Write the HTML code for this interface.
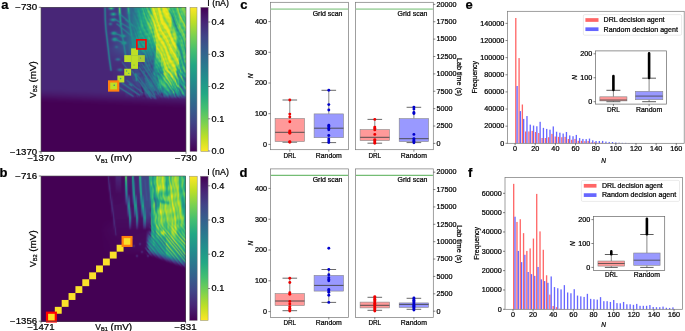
<!DOCTYPE html>
<html><head><meta charset="utf-8"><style>
html,body{margin:0;padding:0;background:#fff;}
body{width:685px;height:331px;overflow:hidden;position:relative;}
svg{display:block;position:absolute;left:0;top:0;font-family:"Liberation Sans",sans-serif;will-change:transform;}
svg text{stroke:#000;stroke-width:0.22px;}
.hm{position:absolute;overflow:hidden}.hm div{position:absolute;left:0;width:100%}
</style></head><body><div class="hm" style="left:41px;top:7px;width:145px;height:145px"><div style="top:0px;height:1px;background:linear-gradient(90deg,#482677 0.5px 60.5px,#482878 61.5px,#43377e 62.5px,#31678c 63.5px,#306a8d 64.5px,#414184 65.5px,#414286 66.5px,#355e8c 67.5px,#27868c 68.5px,#29a882 69.5px,#2eaf7d 70.5px,#249689 71.5px,#2e6f8d 72.5px,#3c4f8a 73.5px,#433e85 74.5px,#443983 75.5px,#404485 76.5px,#397a85 77.5px,#60bb63 78.5px,#318f84 79.5px,#3d4e88 80.5px,#423f85 81.5px,#424186 82.5px,#404588 83.5px,#3e4989 84.5px,#38598b 85.5px,#28898a 86.5px,#2ea780 87.5px,#2a828c 88.5px,#2f6c8e 89.5px,#31688e 90.5px,#306a8e 91.5px,#2c748e 92.5px,#26838e 93.5px,#238a8d 94.5px,#228b8d 95.5px,#23898d 96.5px,#25848e 97.5px,#238b8d 98.5px,#1f978b 99.5px,#21a087 100.5px,#2aab80 101.5px,#259c87 102.5px,#30b07d 103.5px,#2cab7f 104.5px,#55c367 105.5px,#4ec16b 106.5px,#2aaa80 107.5px,#35b579 108.5px,#56c566 109.5px,#86d349 110.5px,#c4df25 111.5px,#b4dd2f 112.5px,#9ad93d 113.5px,#a7db34 114.5px,#a1da39 115.5px,#d1e120 116.5px,#efe51e 117.5px,#e8e422 118.5px,#aadb36 119.5px,#a8db35 120.5px,#dce31e 121.5px,#ede51d 122.5px,#dbe31b 123.5px,#d3e11f 124.5px,#9ad83e 125.5px,#8dd546 126.5px,#b6dc2d 127.5px,#6bcb5a 128.5px,#3dba74 129.5px,#46bf6f 130.5px,#44bf70 131.5px,#41bd72 132.5px,#3bba76 133.5px,#48c06e 134.5px,#5fc861 135.5px,#8ed343 136.5px,#42ba71 137.5px,#38b977 138.5px,#3cba74 139.5px,#63ca5f 140.5px,#88d548 141.5px,#94d741 142.5px,#78d052 143.5px,#46bf6f 144.5px)"></div><div style="top:1px;height:1px;background:linear-gradient(90deg,#482677 0.5px 60.5px,#482878 61.5px,#43377e 62.5px,#31668c 63.5px,#2f6b8d 64.5px,#414284 65.5px,#414386 66.5px,#34618c 67.5px,#298a89 68.5px,#3cae78 69.5px,#46b572 70.5px,#2b9b84 71.5px,#2e728c 72.5px,#3b518a 73.5px,#423f85 74.5px,#443982 75.5px,#414385 76.5px,#3a7785 77.5px,#5fbb64 78.5px,#309383 79.5px,#3c5088 80.5px,#423f85 81.5px,#424186 82.5px,#404588 83.5px,#3f4989 84.5px,#38588b 85.5px,#2a858b 86.5px,#2fa87f 87.5px,#29868b 88.5px,#2e6e8e 89.5px,#306a8e 90.5px,#31688e 91.5px,#2e6f8e 92.5px,#287d8e 93.5px,#25848e 94.5px,#24878e 95.5px,#228d8d 96.5px,#228c8d 97.5px,#228d8d 98.5px,#1f9b89 99.5px,#23a286 100.5px,#34b37a 101.5px,#27a484 102.5px,#2dae7e 103.5px,#26a883 104.5px,#3cb875 105.5px,#4bc06d 106.5px,#2cae7e 107.5px,#29a882 108.5px,#4bbf6d 109.5px,#7cd050 110.5px,#cde023 111.5px,#dee322 112.5px,#b5dd2f 113.5px,#b4dd2c 114.5px,#addc31 115.5px,#c2df27 116.5px,#ece51f 117.5px,#e7e422 118.5px,#a5da39 119.5px,#8ed545 120.5px,#cee022 121.5px,#ebe51c 122.5px,#e6e41a 123.5px,#e0e31a 124.5px,#cae025 125.5px,#96d740 126.5px,#9ed93a 127.5px,#73cd55 128.5px,#38b677 129.5px,#3dbb74 130.5px,#44bf70 131.5px,#38b877 132.5px,#30b37c 133.5px,#3cba75 134.5px,#58c565 135.5px,#92d541 136.5px,#54c367 137.5px,#3ebc74 138.5px,#4ac16d 139.5px,#60c960 140.5px,#87d449 141.5px,#8ad547 142.5px,#7ed24e 143.5px,#4cc16c 144.5px)"></div><div style="top:2px;height:1px;background:linear-gradient(90deg,#482677 0.5px 60.5px,#482877 61.5px,#44367e 62.5px,#32658c 63.5px,#2f6b8d 64.5px,#414084 65.5px,#443b83 66.5px,#3d4c88 67.5px,#34648b 68.5px,#317889 69.5px,#327c88 70.5px,#316d8b 71.5px,#39578a 72.5px,#404487 73.5px,#443a83 74.5px,#453882 75.5px,#414285 76.5px,#3a7485 77.5px,#5bba66 78.5px,#2e9682 79.5px,#3b5288 80.5px,#424086 81.5px,#424186 82.5px,#404588 83.5px,#3f4989 84.5px,#39568b 85.5px,#2c818b 86.5px,#30a97f 87.5px,#278b8b 88.5px,#2e6e8e 89.5px,#2f6b8e 90.5px,#31678e 91.5px,#2f6b8e 92.5px,#2a798e 93.5px,#26818e 94.5px,#25848e 95.5px,#21908c 96.5px,#20968b 97.5px,#21928c 98.5px,#1f9b89 99.5px,#22a386 100.5px,#32b37b 101.5px,#2daf7e 102.5px,#25a883 103.5px,#25a983 104.5px,#2aaa81 105.5px,#47be6f 106.5px,#3bb876 107.5px,#27a583 108.5px,#3cb775 109.5px,#77cf53 110.5px,#c1de28 111.5px,#e8e41f 112.5px,#d2e120 113.5px,#b7de2b 114.5px,#b6de2b 115.5px,#b4dd2f 116.5px,#e7e420 117.5px,#e5e41f 118.5px,#aadb35 119.5px,#7dd14e 120.5px,#bfde28 121.5px,#e8e41c 122.5px,#efe51c 123.5px,#e7e41a 124.5px,#e7e41e 125.5px,#bdde2b 126.5px,#87d449 127.5px,#67cb5c 128.5px,#3db974 129.5px,#30b27c 130.5px,#43bd71 131.5px,#34b679 132.5px,#2aaf7f 133.5px,#30b37b 134.5px,#53c367 135.5px,#8fd543 136.5px,#73ce55 137.5px,#44bd70 138.5px,#5ac764 139.5px,#5fc961 140.5px,#80d24d 141.5px,#7ed24f 142.5px,#78d152 143.5px,#5cc863 144.5px)"></div><div style="top:3px;height:1px;background:linear-gradient(90deg,#482677 0.5px 60.5px,#482877 61.5px,#44357e 62.5px,#32638b 63.5px,#2f6c8c 64.5px,#413f83 65.5px,#463480 66.5px,#443982 67.5px,#414185 68.5px,#3f4787 69.5px,#3f4887 70.5px,#404486 71.5px,#423f85 72.5px,#443a83 73.5px,#453782 74.5px 75.5px,#414184 76.5px,#3a7185 77.5px,#57b968 78.5px,#2e9a82 79.5px,#3b5488 80.5px,#424086 81.5px,#424186 82.5px,#404588 83.5px,#3f4989 84.5px,#3a558b 85.5px,#2d7c8b 86.5px,#2fa87f 87.5px,#268e8a 88.5px,#2e6e8e 89.5px,#2f6b8e 90.5px,#30698e 91.5px,#2f6b8e 92.5px,#2a788e 93.5px,#25838e 94.5px,#24868e 95.5px,#21928c 96.5px,#1f9d89 97.5px,#20968b 98.5px,#20938c 99.5px,#209c89 100.5px,#27a882 101.5px,#36b479 102.5px,#26a285 103.5px,#2bad80 104.5px,#28a683 105.5px,#4bbf6d 106.5px,#59c664 107.5px,#36b379 108.5px,#32b17b 109.5px,#6bcb59 110.5px,#acdb34 111.5px,#e6e420 112.5px,#e1e321 113.5px,#aadb35 114.5px,#aedc30 115.5px,#aadb34 116.5px,#dee31f 117.5px,#ece51e 118.5px,#c7df27 119.5px,#8cd546 120.5px,#bcde2a 121.5px,#e9e41d 122.5px,#f0e51d 123.5px,#e6e41a 124.5px,#e7e41b 125.5px,#d6e122 126.5px,#85d24b 127.5px,#46bd6f 128.5px,#3fbb73 129.5px,#30b27c 130.5px,#42bd72 131.5px,#44be70 132.5px,#31b47b 133.5px,#2eb27d 134.5px,#4dc16b 135.5px,#7ad150 136.5px,#86d249 137.5px,#42ba71 138.5px,#55c567 139.5px,#56c666 140.5px,#6dcd59 141.5px,#78d152 142.5px 144.5px)"></div><div style="top:4px;height:1px;background:linear-gradient(90deg,#482677 0.5px 60.5px,#482777 61.5px,#44347d 62.5px,#33628b 63.5px,#2e6d8c 64.5px,#413f83 65.5px,#46327f 66.5px,#463480 67.5px,#453781 68.5px,#443982 69.5px,#433c83 70.5px,#433d84 71.5px,#423e84 72.5px,#433c84 73.5px,#443a83 74.5px,#453882 75.5px,#424084 76.5px,#3b6e86 77.5px,#52b76b 78.5px,#2e9e81 79.5px,#3a5688 80.5px,#424086 81.5px,#424186 82.5px,#404588 83.5px,#3f4989 84.5px,#3a538b 85.5px,#2e778b 86.5px,#2ca581 87.5px,#24908a 88.5px,#2e6f8e 89.5px,#306a8e 90.5px,#2f6c8e 91.5px,#2e6d8e 92.5px,#2a778e 93.5px,#25848e 94.5px,#23888d 95.5px,#21938c 96.5px,#20a088 97.5px,#209a89 98.5px,#228e8c 99.5px,#20958b 100.5px,#249f86 101.5px,#3ab577 102.5px,#27a384 103.5px,#29ac81 104.5px,#27a982 105.5px,#43bb71 106.5px,#6fcd57 107.5px,#58c565 108.5px,#34b37a 109.5px,#55c366 110.5px,#9ed83b 111.5px,#dae21f 112.5px,#e3e322 113.5px,#a5da39 114.5px,#a2da38 115.5px,#a8db35 116.5px,#d3e120 117.5px,#efe51e 118.5px,#e3e322 119.5px,#a8db37 120.5px,#b9de2c 121.5px,#e6e41e 122.5px,#eee51c 123.5px,#e4e41a 124.5px,#d8e21b 125.5px,#d7e21d 126.5px,#9fd63b 127.5px,#3eb673 128.5px,#31b37b 129.5px,#39b977 130.5px,#3cba75 131.5px,#57c665 132.5px,#3dbb74 133.5px,#32b57a 134.5px,#45bf70 135.5px,#65ca5d 136.5px,#8bd345 137.5px,#42ba71 138.5px,#43be71 139.5px,#4fc36a 140.5px,#57c665 141.5px,#71cf56 142.5px,#7cd250 143.5px,#8cd645 144.5px)"></div><div style="top:5px;height:1px;background:linear-gradient(90deg,#482677 0.5px 60.5px,#482777 61.5px,#44347d 62.5px,#33618b 63.5px,#2e6e8c 64.5px,#414083 65.5px,#46327f 66.5px,#463380 67.5px,#443982 68.5px,#424085 69.5px,#3d4c88 70.5px,#38578a 71.5px,#375b8a 72.5px,#39558a 73.5px,#3e4988 74.5px,#423f85 75.5px,#414285 76.5px,#396c87 77.5px,#47b371 78.5px,#2ea180 79.5px,#395a89 80.5px,#414286 81.5px,#424186 82.5px,#404588 83.5px,#3f4989 84.5px,#3a538b 85.5px,#2d748d 86.5px,#239b88 87.5px,#22928b 88.5px,#2c728e 89.5px,#306a8e 90.5px,#2e6f8e 91.5px,#2d708e 92.5px,#2c748e 93.5px,#277e8e 94.5px,#25848e 95.5px,#228e8d 96.5px,#209c89 97.5px,#20a087 98.5px,#21928c 99.5px,#1f978b 100.5px,#24a186 101.5px,#3bb776 102.5px,#2eaf7e 103.5px,#24a784 104.5px,#29ae80 105.5px,#31b17b 106.5px,#61c85f 107.5px,#66cb5d 108.5px,#40bc72 109.5px,#42bb71 110.5px,#8fd443 111.5px,#d0e120 112.5px,#e8e41f 113.5px,#c3df29 114.5px,#a6db36 115.5px,#b0dd2f 116.5px,#c5e025 117.5px,#ebe51f 118.5px,#e8e420 119.5px,#b2dd31 120.5px,#a6db36 121.5px,#d5e21f 122.5px,#e6e41a 123.5px,#e9e41a 124.5px,#e1e31a 125.5px,#dce31a 126.5px,#c2dd27 127.5px,#5dc262 128.5px,#2cab7f 129.5px,#36b679 130.5px,#34b579 131.5px,#4dc16b 132.5px,#40bc73 133.5px,#31b47b 134.5px,#38b877 135.5px,#56c566 136.5px,#8ad446 137.5px,#5ac563 138.5px,#41bc72 139.5px,#57c666 140.5px,#50c469 141.5px,#65cb5e 142.5px,#77d153 143.5px,#83d44b 144.5px)"></div><div style="top:6px;height:1px;background:linear-gradient(90deg,#482677 0.5px 60.5px,#482777 61.5px,#44337d 62.5px,#345f8b 63.5px,#2e6f8c 64.5px,#414083 65.5px,#46327f 66.5px,#453580 67.5px,#423e85 68.5px,#3b508a 69.5px,#2f6c8d 70.5px,#26878b 71.5px,#249289 72.5px,#27838c 73.5px,#32668c 74.5px,#3d4d89 75.5px,#3f4787 76.5px,#346c8a 77.5px,#30a87e 78.5px,#29a083 79.5px,#37608a 80.5px,#414386 81.5px,#424286 82.5px,#404588 83.5px,#3f4989 84.5px,#3b518a 85.5px,#2f6e8d 86.5px,#21928b 87.5px,#21908c 88.5px,#2c728e 89.5px,#2f6a8e 90.5px,#2d708e 91.5px,#2c748e 92.5px,#2c728e 93.5px,#2b768e 94.5px,#277e8e 95.5px,#23898d 96.5px,#20978a 97.5px,#21a286 98.5px,#20988a 99.5px,#1f998a 100.5px,#24a684 101.5px,#39b877 102.5px,#43bb71 103.5px,#28a483 104.5px,#2caf7e 105.5px,#28ab81 106.5px,#42bb71 107.5px,#61ca60 108.5px,#56c566 109.5px,#42bc71 110.5px,#75cd54 111.5px,#cce023 112.5px,#ede51d 113.5px,#e3e322 114.5px,#b1dc31 115.5px,#bbde28 116.5px,#bbde2a 117.5px,#e4e41d 118.5px,#e3e41c 119.5px,#b9de2b 120.5px,#92d742 121.5px,#b8de2b 122.5px,#d9e21c 123.5px,#e9e41b 124.5px,#efe51d 125.5px,#eae51b 126.5px,#d9e21f 127.5px,#91d343 128.5px,#3ab376 129.5px,#28aa81 130.5px,#2fb27c 131.5px,#34b679 132.5px,#40bc73 133.5px,#2eb27d 134.5px,#2db17d 135.5px,#4ac06d 136.5px,#7bd150 137.5px,#86d249 138.5px,#4bbf6c 139.5px,#60c960 140.5px,#55c667 141.5px,#58c765 142.5px,#70ce57 143.5px,#74d055 144.5px)"></div><div style="top:7px;height:1px;background:linear-gradient(90deg,#482677 0.5px 60.5px,#482777 61.5px,#45327d 62.5px,#345e8b 63.5px,#2d708c 64.5px,#414184 65.5px,#46327f 66.5px,#453681 67.5px,#424085 68.5px,#39558b 69.5px,#2c758d 70.5px,#249588 71.5px,#28a184 72.5px,#258f8a 73.5px,#2f6e8d 74.5px,#3b518a 75.5px,#3f4687 76.5px,#34668b 77.5px,#269d85 78.5px,#239988 79.5px,#306b8c 80.5px,#3e4988 81.5px,#414387 82.5px,#404588 83.5px,#3f4889 84.5px,#3c4f8a 85.5px,#33628c 86.5px,#25868d 87.5px,#24888d 88.5px,#2e6e8e 89.5px,#306a8e 90.5px,#2e6e8e 91.5px,#2a768e 92.5px,#2a778e 93.5px,#2b758e 94.5px,#287c8e 95.5px,#238b8d 96.5px,#20978b 97.5px,#21a386 98.5px,#1f9c89 99.5px,#20988a 100.5px,#21a486 101.5px,#2eaf7d 102.5px,#4abe6d 103.5px,#29a682 104.5px,#28ac81 105.5px,#2db17d 106.5px,#33b47a 107.5px,#5dc762 108.5px,#73cf55 109.5px,#60c860 110.5px,#64c95e 111.5px,#badd2b 112.5px,#e0e31c 113.5px,#e6e421 114.5px,#b5dd2f 115.5px,#b6de2b 116.5px,#b2dd30 117.5px,#e0e31e 118.5px,#e9e41b 119.5px,#d1e122 120.5px,#9ad83e 121.5px,#a7db34 122.5px,#cde11f 123.5px,#e2e41a 124.5px,#efe51d 125.5px,#ede51c 126.5px,#d9e21d 127.5px,#a7da35 128.5px,#5fc361 129.5px,#2aa283 130.5px,#2bac80 131.5px,#2daf7e 132.5px,#46be6f 133.5px,#33b57a 134.5px,#2db17d 135.5px,#3ebb73 136.5px,#65c95d 137.5px,#a1d738 138.5px,#59c564 139.5px,#53c568 140.5px,#57c666 141.5px,#4dc26b 142.5px,#66cb5d 143.5px,#76d054 144.5px)"></div><div style="top:8px;height:1px;background:linear-gradient(90deg,#482677 0.5px 60.5px,#482777 61.5px,#45327c 62.5px,#355d8b 63.5px,#2d718c 64.5px,#404284 65.5px,#46327f 66.5px,#463480 67.5px,#443a83 68.5px,#404687 69.5px,#38588b 70.5px,#316a8c 71.5px,#30708b 72.5px,#32678c 73.5px,#39558a 74.5px,#404487 75.5px,#423f85 76.5px,#3a5589 77.5px,#248c8a 78.5px,#21938b 79.5px,#297c8d 80.5px,#34618c 81.5px,#3d4b89 82.5px,#404688 83.5px,#3f4889 84.5px,#3d4e8a 85.5px,#365c8c 86.5px,#27808d 87.5px,#24868d 88.5px,#2f6c8e 89.5px,#30688e 90.5px,#2f6c8e 91.5px,#2b768e 92.5px,#287d8e 93.5px,#29798e 94.5px,#297b8e 95.5px,#228d8d 96.5px,#1f998a 97.5px,#21a386 98.5px,#20a087 99.5px,#20968b 100.5px,#20a088 101.5px,#25a683 102.5px,#3eb974 103.5px,#2aac80 104.5px,#25a584 105.5px,#39b777 106.5px,#33b57a 107.5px,#51c269 108.5px,#86d449 109.5px,#8ed544 110.5px,#6ecd57 111.5px,#9bd83c 112.5px,#cfe120 113.5px,#e5e41f 114.5px,#c0df29 115.5px,#a5db36 116.5px,#a6db36 117.5px,#d7e21f 118.5px,#efe51d 119.5px,#e7e420 120.5px,#b2dd30 121.5px,#a2da38 122.5px,#c3df24 123.5px,#dde31a 124.5px,#e6e419 125.5px,#e7e41a 126.5px,#d5e21e 127.5px,#a6da36 128.5px,#7bce50 129.5px,#31a87e 130.5px,#249e87 131.5px,#2eaf7d 132.5px,#43bd71 133.5px,#43be71 134.5px,#35b679 135.5px,#37b878 136.5px,#55c366 137.5px,#9ed73a 138.5px,#74cd54 139.5px,#42bc71 140.5px,#4dc26c 141.5px,#44be71 142.5px,#55c567 143.5px,#77d053 144.5px)"></div><div style="top:9px;height:1px;background:linear-gradient(90deg,#482677 0.5px 60.5px,#482777 61.5px,#45317c 62.5px,#365b8a 63.5px,#2d718c 64.5px,#404384 65.5px,#46327f 66.5px,#46337f 67.5px,#453681 68.5px,#443982 69.5px,#423e84 70.5px,#404486 71.5px,#3f4687 72.5px,#404386 73.5px,#423e84 74.5px,#443a83 75.5px 76.5px,#3d4c87 77.5px,#27828c 78.5px,#22908b 79.5px,#306b8c 80.5px,#2d708d 81.5px,#32658d 82.5px,#3b518a 83.5px,#3e4a89 84.5px,#3d4d8a 85.5px,#375a8c 86.5px,#287c8e 87.5px,#24888d 88.5px,#2e6f8e 89.5px,#30698e 90.5px,#2e6e8e 91.5px,#2b748e 92.5px,#277f8e 93.5px,#287e8e 94.5px,#2a788e 95.5px,#24878d 96.5px,#20978a 97.5px,#20a187 98.5px,#21a486 99.5px,#209a8a 100.5px,#20a287 101.5px,#23a685 102.5px,#34b57a 103.5px,#37b578 104.5px,#27a384 105.5px,#36b579 106.5px,#39b977 107.5px,#3bb875 108.5px,#76ce52 109.5px,#a6da35 110.5px,#8fd644 111.5px,#87d449 112.5px,#c6df24 113.5px,#e1e31a 114.5px,#dae222 115.5px,#9fd93c 116.5px,#a1da38 117.5px,#c8e024 118.5px,#ede51f 119.5px 120.5px,#c3df27 121.5px,#98d83e 122.5px,#afdc30 123.5px,#d5e21d 124.5px,#e3e419 125.5px 126.5px,#dee31c 127.5px,#b4dd2e 128.5px,#8dd445 129.5px,#49b76f 130.5px,#2a9188 131.5px,#2ba981 132.5px,#34b579 133.5px,#50c36a 134.5px,#3ab976 135.5px,#33b67a 136.5px,#4dc16b 137.5px,#8cd445 138.5px,#a0d739 139.5px,#4abd6c 140.5px,#40bc73 141.5px,#42be71 142.5px,#45be70 143.5px,#66cb5d 144.5px)"></div><div style="top:10px;height:1px;background:linear-gradient(90deg,#482677 0.5px 60.5px,#482777 61.5px,#45317c 62.5px,#365a8a 63.5px,#2c728c 64.5px,#404484 65.5px,#46337f 66.5px 67.5px,#453681 68.5px,#443a83 69.5px,#423f85 70.5px,#404386 71.5px,#404586 72.5px 73.5px,#423f84 74.5px,#443a83 75.5px,#443983 76.5px,#3e4886 77.5px,#297d8c 78.5px,#249189 79.5px,#365e8b 80.5px,#39558a 81.5px,#2f6d8d 82.5px,#2f6b8d 83.5px,#39578b 84.5px,#3c508a 85.5px,#38598c 86.5px,#2a798e 87.5px,#23898d 88.5px,#2d718e 89.5px,#306a8e 90.5px,#2d6f8e 91.5px,#2b758e 92.5px,#287e8e 93.5px,#26828e 94.5px,#2a778e 95.5px,#277f8e 96.5px,#21928c 97.5px,#1f9d89 98.5px,#22a585 99.5px,#209e88 100.5px,#21a585 101.5px,#25aa83 102.5px,#2fb27c 103.5px,#47be6f 104.5px,#2bab80 105.5px,#2caf7e 106.5px,#40bc73 107.5px,#33b47a 108.5px,#53c267 109.5px,#9ed839 110.5px,#aadb32 111.5px,#89d447 112.5px,#b4dd2d 113.5px,#d9e21c 114.5px,#e3e321 115.5px,#a9db37 116.5px,#a8db33 117.5px,#bbde2b 118.5px,#ebe520 119.5px,#efe51e 120.5px,#cde023 121.5px,#91d643 122.5px,#92d742 123.5px,#bfdf27 124.5px,#dce31a 125.5px,#e0e319 126.5px,#e6e41b 127.5px,#d2e11f 128.5px,#a6da36 129.5px,#67c45d 130.5px,#2d9486 131.5px,#239a88 132.5px,#2cad7f 133.5px,#4ac06d 134.5px,#38b877 135.5px,#30b47c 136.5px,#43bd71 137.5px,#78cf52 138.5px,#b7dc2e 139.5px,#6fcb57 140.5px,#3cb974 141.5px,#47c06e 142.5px,#43be71 143.5px,#51c469 144.5px)"></div><div style="top:11px;height:1px;background:linear-gradient(90deg,#482677 0.5px 60.5px,#482777 61.5px,#45307b 62.5px,#37598a 63.5px,#2c738c 64.5px,#404585 65.5px,#46347f 66.5px,#453580 67.5px,#433d84 68.5px,#3e4a88 69.5px,#375a8b 70.5px,#32678c 71.5px,#2f6c8c 72.5px,#2f6d8c 73.5px,#375a8b 74.5px,#3f4787 75.5px,#433d84 76.5px,#3f4786 77.5px,#2b788c 78.5px,#259488 79.5px,#365f8a 80.5px,#3f4687 81.5px,#3b5189 82.5px,#306b8d 83.5px,#2d718d 84.5px,#355e8c 85.5px,#375a8c 86.5px,#2b758d 87.5px,#238c8c 88.5px,#2c728e 89.5px,#2f6b8e 90.5px,#2d6f8e 91.5px,#2b768e 92.5px,#287c8e 93.5px,#25858e 94.5px,#277e8e 95.5px,#287c8e 96.5px,#228e8c 97.5px,#209b89 98.5px,#22a685 99.5px,#20a088 100.5px,#20a287 101.5px,#24aa83 102.5px,#29ab81 103.5px,#45bd70 104.5px,#38b777 105.5px,#2bad7f 106.5px,#41bc72 107.5px 108.5px,#43bc70 109.5px,#89d347 110.5px,#b8dd2a 111.5px,#9cd93b 112.5px,#97d73f 113.5px,#cce022 114.5px,#e5e41f 115.5px,#bfdf29 116.5px,#abdc32 117.5px,#b2dd31 118.5px,#e9e421 119.5px,#f2e61e 120.5px,#dee320 121.5px,#9dd93d 122.5px,#81d34c 123.5px,#a2da38 124.5px,#c9e021 125.5px,#d3e21c 126.5px,#dae31a 127.5px,#dde31b 128.5px,#bfde28 129.5px,#75cc54 130.5px,#2fa480 131.5px,#278d8a 132.5px,#2fad7e 133.5px,#3ebc74 134.5px,#41bd72 135.5px,#30b47b 136.5px,#36b678 137.5px,#65c95d 138.5px,#9fd93a 139.5px,#99d63d 140.5px,#45bb6f 141.5px,#42bd72 142.5px,#4cc26c 143.5px,#47c06f 144.5px)"></div><div style="top:12px;height:1px;background:linear-gradient(90deg,#482677 0.5px 60.5px,#482777 61.5px,#462f7b 62.5px,#38578a 63.5px,#2c748c 64.5px,#3f4685 65.5px,#453480 66.5px,#443882 67.5px,#404587 68.5px,#365b8c 69.5px,#2a788d 70.5px,#23908b 71.5px,#22948a 72.5px,#24888d 73.5px,#297c8d 74.5px,#32658c 75.5px,#3d4c88 76.5px,#3e4987 77.5px,#2d748c 78.5px,#269587 79.5px,#35638b 80.5px,#404587 81.5px,#414487 82.5px,#3b518a 83.5px,#2e708d 84.5px,#297a8d 85.5px,#30698d 86.5px,#2c748d 87.5px,#238e8b 88.5px,#2c738d 89.5px,#2f6b8e 90.5px,#2e6e8e 91.5px,#2b758e 92.5px,#297a8e 93.5px,#25848e 94.5px,#24868e 95.5px,#27808e 96.5px,#228c8d 97.5px,#209c89 98.5px,#24a883 99.5px,#22a585 100.5px,#20a088 101.5px,#23a784 102.5px,#23a485 103.5px,#36b579 104.5px,#45be70 105.5px,#30b27c 106.5px,#37b778 107.5px,#52c469 108.5px,#4cc16c 109.5px,#72cd55 110.5px,#bbdd29 111.5px,#bbde29 112.5px,#8fd544 113.5px,#bdde28 114.5px,#e0e31c 115.5px,#d4e120 116.5px,#a0d93a 117.5px,#a8db37 118.5px,#e5e422 119.5px,#f3e61e 120.5px,#ebe51f 121.5px,#bade2c 122.5px,#89d548 123.5px,#8ed644 124.5px,#b4dd2d 125.5px,#c7e021 126.5px,#cbe11f 127.5px,#d5e21b 128.5px,#cde022 129.5px,#7acf51 130.5px,#3ab078 131.5px,#2b8889 132.5px,#2ca880 133.5px,#38b777 134.5px,#51c369 135.5px,#37b777 136.5px,#34b579 137.5px,#59c664 138.5px,#7bd150 139.5px,#a1d838 140.5px,#5cc562 141.5px,#38b677 142.5px,#4dc26b 143.5px,#46c06f 144.5px)"></div><div style="top:13px;height:1px;background:linear-gradient(90deg,#482677 0.5px 60.5px,#482777 61.5px,#462e7b 62.5px,#395489 63.5px,#2c758c 64.5px,#3e4886 65.5px,#453480 66.5px,#453781 67.5px,#414286 68.5px,#39558b 69.5px,#2e6f8d 70.5px,#26838c 71.5px,#25878c 72.5px,#2a7a8d 73.5px,#2e6e8d 74.5px,#2d718d 75.5px,#2f6c8d 76.5px,#365c8b 77.5px,#2e748c 78.5px,#269787 79.5px,#33688b 80.5px,#404687 81.5px,#414286 82.5px,#3f4888 83.5px,#355f8c 84.5px,#287d8d 85.5px,#27818e 86.5px,#287d8d 87.5px,#22908b 88.5px,#2b778e 89.5px,#2f6b8e 90.5px,#2d708e 91.5px,#2c738e 92.5px,#2a798e 93.5px,#277f8e 94.5px,#24878e 95.5px,#25838e 96.5px,#24878d 97.5px,#219a89 98.5px,#26ab82 99.5px,#29ad80 100.5px,#21a287 101.5px,#23a884 102.5px,#21a486 103.5px,#2aac80 104.5px,#47bf6f 105.5px,#3ebb74 106.5px,#2fb17d 107.5px,#48bf6e 108.5px,#5bc863 109.5px,#61c860 110.5px,#a8da35 111.5px,#d3e122 112.5px,#a8db36 113.5px,#b2dd2e 114.5px,#d6e21d 115.5px,#dfe323 116.5px,#9ad840 117.5px,#a2da39 118.5px,#d1e122 119.5px,#efe51e 120.5px,#efe51d 121.5px,#d1e120 122.5px,#9fd93a 123.5px,#89d548 124.5px,#a1da39 125.5px,#c1df24 126.5px,#cde11e 127.5px,#d2e21c 128.5px,#d7e221 129.5px,#85d14c 130.5px,#3cb376 131.5px,#278e8a 132.5px,#269588 133.5px,#35b37a 134.5px,#4fc36a 135.5px,#41bd72 136.5px,#3bba75 137.5px,#55c567 138.5px,#6fce58 139.5px,#90d643 140.5px,#88d247 141.5px,#41b971 142.5px,#40bc73 143.5px,#47c06f 144.5px)"></div><div style="top:14px;height:1px;background:linear-gradient(90deg,#482677 0.5px 60.5px,#482777 61.5px,#462d7a 62.5px,#3b5088 63.5px,#2b768c 64.5px,#3d4b87 65.5px,#453580 66.5px,#463480 67.5px,#443b83 68.5px,#414486 69.5px,#3c4e89 70.5px,#39558a 71.5px,#39568a 72.5px,#3b5089 73.5px,#3e4987 74.5px,#3d4a87 75.5px,#365d8b 76.5px,#2d718d 77.5px,#297e8d 78.5px,#249688 79.5px,#306d8c 80.5px,#3f4888 81.5px,#414286 82.5px,#404587 83.5px,#3d4d89 84.5px,#34608c 85.5px,#297c8d 86.5px,#24878d 87.5px,#228e8c 88.5px,#287d8e 89.5px,#306a8e 90.5px,#2c728e 91.5px,#2b758e 92.5px,#2a788e 93.5px,#287d8e 94.5px,#25858e 95.5px,#24888d 96.5px,#26828e 97.5px,#21958b 98.5px,#26a983 99.5px,#30b27c 100.5px,#22a485 101.5px,#23a784 102.5px,#22a784 103.5px,#25a883 104.5px,#42bc72 105.5px,#56c566 106.5px,#38b677 107.5px,#3ab876 108.5px,#61c95f 109.5px,#5fc961 110.5px,#83d24d 111.5px,#d3e123 112.5px,#c7e024 113.5px,#a5da37 114.5px,#d4e11f 115.5px,#e4e421 116.5px,#addc34 117.5px,#a8db34 118.5px,#bcde2b 119.5px,#eae520 120.5px,#eee51c 121.5px,#dbe31c 122.5px,#b8dd2b 123.5px,#91d742 124.5px,#8ed644 125.5px,#b0dc2f 126.5px,#cee11e 127.5px,#d6e21b 128.5px,#dde320 129.5px,#98d540 130.5px,#3db674 131.5px,#249988 132.5px,#2a858b 133.5px,#32ad7c 134.5px,#3dbb74 135.5px,#4cc26c 136.5px,#41bd72 137.5px,#53c568 138.5px,#67cc5c 139.5px,#78d052 140.5px,#99d73d 141.5px,#67c95b 142.5px,#3bb975 143.5px,#49c16d 144.5px)"></div><div style="top:15px;height:1px;background:linear-gradient(90deg,#482677 0.5px 60.5px,#482777 61.5px,#472c7a 62.5px,#3c4d87 63.5px,#2b768c 64.5px,#3c4e88 65.5px,#453680 66.5px,#453781 67.5px,#414286 68.5px,#3e4a88 69.5px,#3f4687 70.5px,#423f85 71.5px,#433b83 72.5px,#443a83 73.5px,#443982 74.5px,#433c83 75.5px,#414285 76.5px,#3b5088 77.5px,#2c758d 78.5px,#238d8c 79.5px,#2b778d 80.5px,#3b5289 81.5px,#404687 82.5px,#404587 83.5px,#3f4989 84.5px,#3b518b 85.5px,#34618c 86.5px,#287c8e 87.5px,#23898d 88.5px,#25858d 89.5px,#2d708e 90.5px,#2d6f8e 91.5px,#2a788e 92.5px 93.5px,#277f8e 94.5px,#25858e 95.5px,#218f8c 96.5px,#25858e 97.5px,#22908c 98.5px,#24a584 99.5px,#31b37b 100.5px,#23a485 101.5px,#20a088 102.5px,#22a685 103.5px,#22a585 104.5px,#37b578 105.5px,#65ca5d 106.5px,#58c565 107.5px,#3fba73 108.5px,#60c960 109.5px,#72cf56 110.5px,#6acb5a 111.5px,#bedd2a 112.5px,#d4e122 113.5px,#9bd83f 114.5px,#c6df25 115.5px,#e3e41e 116.5px,#cfe122 117.5px,#b0dd30 118.5px,#b9de2c 119.5px,#e8e420 120.5px,#f1e51d 121.5px,#e7e41b 122.5px,#d6e21f 123.5px,#aadb34 124.5px,#84d44a 125.5px,#8ed644 126.5px,#b7dd2b 127.5px,#cee11e 128.5px,#d4e21e 129.5px,#a2d838 130.5px,#45bb6f 131.5px,#2ba781 132.5px,#2a868a 133.5px,#2aa681 134.5px,#38b777 135.5px,#55c567 136.5px,#48c06e 137.5px,#51c469 138.5px,#52c469 139.5px,#5ec961 140.5px,#7cd14f 141.5px,#8dd444 142.5px,#49be6d 143.5px,#44bf70 144.5px)"></div><div style="top:16px;height:1px;background:linear-gradient(90deg,#482677 0.5px 60.5px,#482777 61.5px,#472b79 62.5px,#3e4986 63.5px,#2b768c 64.5px,#3b5189 65.5px,#443881 66.5px,#424085 67.5px,#375a8b 68.5px,#30698d 69.5px,#375a8b 70.5px,#414286 71.5px,#453781 72.5px,#453580 73.5px,#443982 74.5px,#3e4a88 75.5px,#3b5189 76.5px,#3e4887 77.5px,#33638b 78.5px,#23908a 79.5px,#25868d 80.5px,#2e6f8d 81.5px,#38588b 82.5px,#3d4c89 83.5px,#3e4a89 84.5px,#3c4e8a 85.5px,#39568c 86.5px,#30698d 87.5px,#25868d 88.5px,#238a8d 89.5px,#26818e 90.5px,#2c728e 91.5px,#2a788e 92.5px,#29798e 93.5px,#287d8e 94.5px,#25848e 95.5px,#21928c 96.5px,#228c8d 97.5px,#228e8c 98.5px,#24a385 99.5px,#32b47b 100.5px,#26a883 101.5px,#209a89 102.5px,#20a287 103.5px,#21a486 104.5px,#2cac7f 105.5px,#5ec761 106.5px,#76cf53 107.5px,#54c467 108.5px,#59c664 109.5px,#80d24d 110.5px,#68cb5b 111.5px,#a1d83b 112.5px,#d9e225 113.5px,#a7da38 114.5px,#acdc32 115.5px,#cce123 116.5px,#e0e321 117.5px,#b2dd31 118.5px,#bcde28 119.5px,#d7e21f 120.5px,#efe51e 121.5px,#f2e61d 122.5px,#ece51d 123.5px,#cfe123 124.5px,#95d741 125.5px,#7bd150 126.5px,#9ad83d 127.5px,#c0df25 128.5px,#c7e022 129.5px,#9bd73c 130.5px,#4fc169 131.5px,#30b07c 132.5px,#24938a 133.5px,#269987 134.5px,#3eb874 135.5px,#50c36a 136.5px,#59c764 137.5px,#54c567 138.5px,#43be71 139.5px,#46c06f 140.5px,#5bc763 141.5px,#8bd446 142.5px,#6ccb59 143.5px,#3dba74 144.5px)"></div><div style="top:17px;height:1px;background:linear-gradient(90deg,#482677 0.5px 61.5px,#472a79 62.5px,#3f4684 63.5px,#2b768c 64.5px,#39558a 65.5px,#443982 66.5px,#424085 67.5px,#375a8b 68.5px,#30698d 69.5px,#375a8b 70.5px,#414185 71.5px,#453681 72.5px,#463580 73.5px,#443882 74.5px,#3c4f89 75.5px,#306b8c 76.5px,#34618c 77.5px,#32658c 78.5px,#238b8c 79.5px,#26828d 80.5px,#2f6c8d 81.5px,#2d728d 82.5px,#31678d 83.5px,#38578b 84.5px,#3b528b 85.5px,#39558c 86.5px,#33648d 87.5px,#25848d 88.5px,#238a8d 89.5px,#228c8d 90.5px,#26838e 91.5px,#29798e 92.5px,#287c8e 93.5px,#297a8e 94.5px,#26818e 95.5px,#228c8d 96.5px,#21918c 97.5px,#248b8d 98.5px,#24a286 99.5px,#33b57a 100.5px,#31b27c 101.5px,#229d88 102.5px,#20a287 103.5px,#23a884 104.5px,#26a982 105.5px,#48be6e 106.5px,#76cf53 107.5px,#69cc5b 108.5px,#51c369 109.5px,#6ecd58 110.5px,#6ece58 111.5px,#88d34b 112.5px,#dce225 113.5px,#cae025 114.5px,#a4da38 115.5px,#c8e024 116.5px,#e5e420 117.5px,#c1df2a 118.5px,#b9de2a 119.5px,#b8de2c 120.5px,#dee321 121.5px,#efe51d 122.5px,#f0e51d 123.5px,#e9e41f 124.5px,#bbde2c 125.5px,#8ad547 126.5px,#92d742 127.5px,#bfdf26 128.5px,#cae021 129.5px,#95d740 130.5px,#57c565 131.5px,#31b27b 132.5px,#249e86 133.5px,#2a898a 134.5px,#39b079 135.5px,#43bd71 136.5px,#66cb5d 137.5px,#65cb5e 138.5px,#49c16d 139.5px,#3fbc73 140.5px,#53c568 141.5px,#78d052 142.5px,#93d540 143.5px,#46bc6e 144.5px)"></div><div style="top:18px;height:1px;background:linear-gradient(90deg,#482677 0.5px 61.5px,#472978 62.5px,#404283 63.5px,#2c748c 64.5px,#37598b 65.5px,#443981 66.5px,#453781 67.5px,#414185 68.5px,#3f4787 69.5px,#414285 70.5px,#443982 71.5px,#453580 72.5px,#463480 73.5px,#453681 74.5px,#433c83 75.5px,#3b4f88 76.5px,#2f6c8c 77.5px,#2b758e 78.5px,#24888d 79.5px,#297c8d 80.5px,#39558a 81.5px,#39568b 82.5px,#306b8d 83.5px,#2c738d 84.5px,#32658d 85.5px,#365c8c 86.5px,#33638d 87.5px,#27818e 88.5px,#23898d 89.5px,#26838e 90.5px,#238b8d 91.5px,#26828e 92.5px,#26818e 93.5px,#287c8e 94.5px,#277e8e 95.5px,#25868d 96.5px,#21938b 97.5px,#248a8d 98.5px,#229e87 99.5px,#31b37c 100.5px,#3bb876 101.5px,#24a385 102.5px,#20a087 103.5px,#26ab82 104.5px,#25ab82 105.5px,#35b579 106.5px,#61c95f 107.5px,#75d054 108.5px,#56c566 109.5px,#54c467 110.5px,#6fce58 111.5px,#78cf54 112.5px,#d7e126 113.5px,#e2e322 114.5px,#abdb35 115.5px,#cfe121 116.5px,#eae51e 117.5px,#e1e321 118.5px,#b3dd2f 119.5px,#a4db37 120.5px,#b4dd30 121.5px,#dde31e 122.5px,#ece51b 123.5px,#f0e51d 124.5px,#dde31f 125.5px,#aedc32 126.5px,#9bd93c 127.5px,#bcde28 128.5px,#cfe121 129.5px,#93d642 130.5px,#5fc861 131.5px,#37b778 132.5px,#29a682 133.5px,#29838b 134.5px,#289d85 135.5px,#3db975 136.5px,#5fc861 137.5px,#7ed24e 138.5px,#5ac764 139.5px,#44be70 140.5px,#52c468 141.5px,#6fce57 142.5px,#98d73e 143.5px,#69ca5b 144.5px)"></div><div style="top:19px;height:1px;background:linear-gradient(90deg,#482677 0.5px 61.5px,#472978 62.5px,#413f82 63.5px,#2d728c 64.5px,#365c8b 65.5px,#443981 66.5px,#46337f 67.5px,#453480 68.5px,#453681 69.5px,#453581 70.5px,#463480 71.5px 72.5px,#453580 73.5px,#453681 74.5px,#453781 75.5px,#433b83 76.5px,#3d4c87 77.5px,#2f6d8c 78.5px,#26828e 79.5px,#2a788d 80.5px,#3c5089 81.5px,#3f4788 82.5px,#3c4f89 83.5px,#34608c 84.5px,#2c748d 85.5px,#2c748e 86.5px,#2e6d8e 87.5px,#277f8e 88.5px,#238b8d 89.5px,#2a798e 90.5px,#277f8e 91.5px,#26828e 92.5px,#25848e 93.5px,#25858e 94.5px,#277f8e 95.5px,#24888d 96.5px,#20968b 97.5px,#21928c 98.5px,#219b89 99.5px,#2bae7f 100.5px,#38b777 101.5px,#25a783 102.5px,#20998a 103.5px,#22a485 104.5px,#25ab82 105.5px,#2cb07e 106.5px,#4cc16b 107.5px,#7dd14f 108.5px,#74cf54 109.5px,#51c369 110.5px,#6bcd5a 111.5px,#76cf53 112.5px,#bede2b 113.5px,#e2e322 114.5px,#b2dd31 115.5px,#bade2a 116.5px,#d6e21e 117.5px,#e6e420 118.5px,#b7dd2e 119.5px,#a5db36 120.5px,#a0da39 121.5px,#cbe023 122.5px,#ede51e 123.5px,#f3e61e 124.5px,#eee51e 125.5px,#cfe122 126.5px,#a4da37 127.5px,#a5db36 128.5px,#bcde29 129.5px,#88d448 130.5px,#61ca60 131.5px,#49c06e 132.5px,#32b07c 133.5px,#269289 134.5px,#2a8f89 135.5px,#43b873 136.5px,#58c665 137.5px,#8ad446 138.5px,#67cb5c 139.5px,#43be71 140.5px,#42bd71 141.5px,#5fc861 142.5px,#79d051 143.5px,#92d641 144.5px)"></div><div style="top:20px;height:1px;background:linear-gradient(90deg,#482677 0.5px 61.5px,#482878 62.5px,#423c81 63.5px,#2e6f8c 64.5px,#34608c 65.5px,#433a81 66.5px,#46327f 67.5px 68.5px,#46337f 69.5px 71.5px,#463480 72.5px,#453581 73.5px,#453681 74.5px,#453781 75.5px,#453882 76.5px,#433c84 77.5px,#3c4e88 78.5px,#2b768d 79.5px,#27818d 80.5px,#355f8c 81.5px,#3e4b89 82.5px,#3f4888 83.5px,#3c4e8a 84.5px,#375b8c 85.5px,#2e6d8e 86.5px,#287c8e 87.5px,#25848e 88.5px,#228d8c 89.5px,#2a788e 90.5px,#2b768e 91.5px,#287c8e 92.5px 93.5px,#238a8d 94.5px,#25848e 95.5px,#228b8d 96.5px,#20978b 97.5px,#209e88 98.5px,#209a89 99.5px,#25a983 100.5px,#2db17d 101.5px,#27aa82 102.5px,#21968a 103.5px,#209a8a 104.5px,#23a784 105.5px,#2aaf7f 106.5px,#3fbb73 107.5px,#76cf53 108.5px,#92d641 109.5px,#61c960 110.5px,#60c960 111.5px,#7ed24f 112.5px,#a3da3a 113.5px,#dfe324 114.5px,#bbde2c 115.5px,#98d83e 116.5px,#c1df28 117.5px,#e7e41e 118.5px,#d0e122 119.5px,#a9db34 120.5px,#a6db35 121.5px,#bdde2a 122.5px,#e7e420 123.5px,#f3e61e 124.5px,#f2e61e 125.5px,#e4e41f 126.5px,#b2dc30 127.5px,#8ed645 128.5px,#99d83e 129.5px,#7ad151 130.5px,#5ec961 131.5px,#60c960 132.5px,#42bc72 133.5px,#2ca880 134.5px,#298e89 135.5px,#3bb278 136.5px,#5ec861 137.5px,#7dd24f 138.5px,#75cf54 139.5px,#43bd71 140.5px,#33b67a 141.5px,#43be71 142.5px,#5dc762 143.5px,#92d642 144.5px)"></div><div style="top:21px;height:1px;background:linear-gradient(90deg,#482677 0.5px 61.5px,#482878 62.5px,#423a80 63.5px,#2f6c8c 64.5px,#33638c 65.5px,#433b82 66.5px,#46327f 67.5px 68.5px,#46337f 69.5px 71.5px,#463480 72.5px,#453581 73.5px,#453681 74.5px,#453882 75.5px 76.5px,#443a83 77.5px,#404386 78.5px,#32658c 79.5px,#26838d 80.5px,#2a798d 81.5px,#34618c 82.5px,#3c4f8a 83.5px,#3d4c8a 84.5px,#3b518b 85.5px,#375b8c 86.5px,#30698d 87.5px,#27808e 88.5px,#228c8d 89.5px,#287d8e 90.5px,#2c748e 91.5px,#287c8e 92.5px,#2a788e 93.5px,#25848e 94.5px,#238b8d 95.5px,#23898d 96.5px,#22928b 97.5px,#22a186 98.5px,#20998a 99.5px,#21a386 100.5px,#26ab82 101.5px,#2caf7e 102.5px,#23a086 103.5px,#20998a 104.5px,#22a585 105.5px,#2db17d 106.5px,#38b877 107.5px,#5ec761 108.5px,#8cd545 109.5px,#69cb5b 110.5px,#4cc06c 111.5px,#7ad051 112.5px,#93d644 113.5px,#dce222 114.5px,#d1e122 115.5px,#98d73f 116.5px,#c4df25 117.5px,#e7e41b 118.5px,#e4e421 119.5px,#addc34 120.5px,#a3da37 121.5px,#acdc32 122.5px,#cbe024 123.5px,#e8e41f 124.5px,#f2e61e 125.5px,#eee51e 126.5px,#cee123 127.5px,#97d83f 128.5px,#8ad547 129.5px,#7bd250 130.5px,#66cb5d 131.5px,#74cf54 132.5px,#54c467 133.5px,#38b478 134.5px,#259589 135.5px,#2c9e83 136.5px,#5ac364 137.5px,#6acd5b 138.5px,#73cf55 139.5px,#55c467 140.5px,#39b877 141.5px,#3aba76 142.5px,#54c567 143.5px,#72cf56 144.5px)"></div><div style="top:22px;height:1px;background:linear-gradient(90deg,#482677 0.5px 61.5px,#482878 62.5px,#43377e 63.5px,#30698c 64.5px,#31678c 65.5px,#423c82 66.5px,#46327f 67.5px 68.5px,#46337f 69.5px 70.5px,#463480 71.5px,#453681 72.5px 73.5px,#453782 74.5px,#453882 75.5px,#443983 76.5px,#443b83 77.5px,#414186 78.5px,#365d8b 79.5px,#27808d 80.5px,#2e6e8d 81.5px,#2c738d 82.5px,#31678d 83.5px,#39568b 84.5px,#3a538b 85.5px,#38578c 86.5px,#355f8d 87.5px,#2d728d 88.5px,#228d8c 89.5px,#25848e 90.5px,#2b758e 91.5px,#287c8e 92.5px,#277e8e 93.5px,#297b8e 94.5px,#238a8d 95.5px,#25858e 96.5px,#238c8d 97.5px,#209c89 98.5px,#209a8a 99.5px,#1f9c89 100.5px,#23a784 101.5px,#2eb27d 102.5px,#2eb07e 103.5px,#22a386 104.5px,#22a486 105.5px,#2eb27d 106.5px,#37b878 107.5px,#46bf6f 108.5px,#6bcc5a 109.5px,#66ca5d 110.5px,#3cb775 111.5px,#67ca5c 112.5px,#8dd546 113.5px,#d6e121 114.5px,#e4e420 115.5px,#b6dd2e 116.5px,#c9e022 117.5px,#e5e41b 118.5px,#ebe51e 119.5px,#c5df28 120.5px,#93d742 121.5px,#99d83e 122.5px,#a3da38 123.5px,#c1df29 124.5px,#e7e41e 125.5px,#f2e61e 126.5px,#e8e41f 127.5px,#bade2c 128.5px,#91d743 129.5px,#85d44a 130.5px,#77d053 131.5px,#84d44b 132.5px,#66cb5d 133.5px,#3ab776 134.5px,#249c87 135.5px,#288c8a 136.5px,#3cb177 137.5px,#5fc861 138.5px,#64cb5e 139.5px,#73cf55 140.5px,#52c468 141.5px,#46c06f 142.5px,#54c568 143.5px,#5fc961 144.5px)"></div><div style="top:23px;height:1px;background:linear-gradient(90deg,#482677 0.5px 61.5px,#482777 62.5px,#44347d 63.5px,#32638b 64.5px,#2f6b8c 65.5px,#413f83 66.5px,#46327f 67.5px 68.5px,#463480 69.5px,#453681 70.5px,#443982 71.5px,#433c83 72.5px,#433e84 73.5px,#433d84 74.5px,#433c84 75.5px,#443b83 76.5px,#443c84 77.5px,#424186 78.5px,#38578b 79.5px,#287d8d 80.5px,#33648d 81.5px,#365c8c 82.5px,#2e708d 83.5px,#2e6e8e 84.5px,#355e8c 85.5px,#37598c 86.5px,#355d8d 87.5px,#2f6d8d 88.5px,#228c8c 89.5px,#238a8d 90.5px,#2a768e 91.5px,#2a778e 92.5px,#26818e 93.5px,#29798e 94.5px,#24868e 95.5px,#25858e 96.5px,#228f8c 97.5px,#209a89 98.5px,#24a485 99.5px,#209a89 100.5px,#21a287 101.5px,#28ad80 102.5px,#34b57a 103.5px,#27ab82 104.5px,#21a087 105.5px,#27aa82 106.5px,#33b67a 107.5px,#3bba75 108.5px,#54c567 109.5px,#6acb5a 110.5px,#40ba73 111.5px,#5ac663 112.5px,#96d73f 113.5px,#c9e024 114.5px,#e8e41e 115.5px,#cce122 116.5px,#b7dd2c 117.5px,#dbe31e 118.5px,#e9e41e 119.5px,#e0e324 120.5px,#9ed83e 121.5px,#93d741 122.5px,#a2da38 123.5px,#a9db34 124.5px,#d2e120 125.5px,#efe51e 126.5px,#f1e51e 127.5px,#d6e222 128.5px,#92d643 129.5px,#7bd150 130.5px,#7cd250 131.5px,#88d548 132.5px,#78d052 133.5px,#42bc71 134.5px,#28a882 135.5px,#24908a 136.5px,#2b9f84 137.5px,#57c366 138.5px,#5ec961 139.5px,#76d053 140.5px,#70ce56 141.5px,#4ec26b 142.5px,#47c06f 143.5px,#56c666 144.5px)"></div><div style="top:24px;height:1px;background:linear-gradient(90deg,#482677 0.5px 61.5px,#482777 62.5px,#45317c 63.5px,#355d8b 64.5px,#2d708d 65.5px,#404284 66.5px,#46337f 67.5px,#463480 68.5px,#443882 69.5px,#414386 70.5px,#3b5089 71.5px,#375b8a 72.5px,#375c8b 73.5px,#3a538a 74.5px,#3f4888 75.5px,#424086 76.5px,#433e85 77.5px,#424186 78.5px,#3a538a 79.5px,#297b8d 80.5px,#31678d 81.5px,#3c4f8a 82.5px,#38578b 83.5px,#2e6e8d 84.5px,#2c748e 85.5px,#32668d 86.5px,#34608d 87.5px,#2f6b8e 88.5px,#24888d 89.5px,#228d8c 90.5px,#2a778e 91.5px,#2c728e 92.5px,#277f8e 93.5px,#287d8e 94.5px,#26828e 95.5px,#228e8c 96.5px,#20958b 97.5px,#22a087 98.5px,#2eaf7e 99.5px,#229f87 100.5px,#1f9c89 101.5px,#22a486 102.5px,#2baf7f 103.5px,#29ad80 104.5px,#219e88 105.5px,#219f87 106.5px,#2db07e 107.5px,#3bba75 108.5px,#4cc16c 109.5px,#72ce56 110.5px,#57c665 111.5px,#59c564 112.5px,#a5d935 113.5px,#bedf29 114.5px,#e5e41f 115.5px,#d1e120 116.5px,#9ed93b 117.5px,#b9de2b 118.5px,#c9e024 119.5px,#e4e420 120.5px,#cde024 121.5px,#a6da36 122.5px,#b6dd2b 123.5px,#b8de29 124.5px,#c4e026 125.5px,#eae51f 126.5px,#f2e61e 127.5px,#e0e322 128.5px,#8dd448 129.5px,#5fc861 130.5px,#70ce57 131.5px,#85d44a 132.5px,#89d547 133.5px,#58c565 134.5px,#34b47a 135.5px,#26a583 136.5px,#259e86 137.5px,#42b973 138.5px,#5fc961 139.5px,#65cb5d 140.5px,#7ad051 141.5px,#4cc16c 142.5px,#36b778 143.5px,#40bc72 144.5px)"></div><div style="top:25px;height:1px;background:linear-gradient(90deg,#482677 0.5px 61.5px,#482777 62.5px,#462f7b 63.5px,#385689 64.5px,#2c738c 65.5px,#3f4786 66.5px,#453480 67.5px,#453681 68.5px,#414286 69.5px,#375a8b 70.5px,#2b788d 71.5px,#248c8b 72.5px,#238b8b 73.5px,#2a7a8d 74.5px,#34608c 75.5px,#3d4b89 76.5px,#414286 77.5px,#424186 78.5px,#3c5089 79.5px,#2a788d 80.5px,#2f6d8d 81.5px,#3c4f8a 82.5px,#3d4c8a 83.5px,#38578b 84.5px,#2f6d8d 85.5px,#2a788e 86.5px,#2e6d8e 87.5px,#2f6c8e 88.5px,#26848d 89.5px,#21918c 90.5px,#297b8e 91.5px,#2c728e 92.5px,#287d8e 93.5px,#24868d 94.5px,#27808e 95.5px,#21938b 96.5px,#20958b 97.5px,#21a187 98.5px,#29ad80 99.5px,#23a485 100.5px,#21948b 101.5px,#209c89 102.5px,#24a883 103.5px,#2cb07e 104.5px,#25a883 105.5px,#21a187 106.5px,#29ad80 107.5px,#3dbb74 108.5px,#44be70 109.5px,#63ca5e 110.5px,#65cb5d 111.5px,#51c168 112.5px,#a0d838 113.5px,#b2dd2f 114.5px,#d8e21d 115.5px,#d9e21e 116.5px,#a7db36 117.5px,#a0da39 118.5px,#bcde28 119.5px,#d2e120 120.5px,#e6e41f 121.5px,#cbe024 122.5px,#b7de2b 123.5px,#bfdf26 124.5px,#b5dd2c 125.5px,#d5e221 126.5px,#efe51e 127.5px,#e5e421 128.5px,#9bd73f 129.5px,#57c565 130.5px,#6ecd58 131.5px,#8fd644 132.5px,#9bd93c 133.5px,#76cf53 134.5px,#40bb73 135.5px,#30b37c 136.5px,#24a684 137.5px,#2baa80 138.5px,#4dc06c 139.5px,#5bc863 140.5px,#6dcd59 141.5px,#5ac663 142.5px,#34b579 143.5px,#30b47c 144.5px)"></div><div style="top:26px;height:1px;background:linear-gradient(90deg,#482677 0.5px 61.5px,#482777 62.5px,#462d7a 63.5px,#3c4e87 64.5px,#2c758c 65.5px,#3d4b87 66.5px,#453580 67.5px,#453781 68.5px,#404687 69.5px,#33628c 70.5px,#25868c 71.5px,#21978a 72.5px,#21908c 73.5px,#24878d 74.5px,#2b758e 75.5px,#355f8c 76.5px,#3c4f89 77.5px,#3e4988 78.5px,#3b518a 79.5px,#2c748e 80.5px,#2b758e 81.5px,#38578b 82.5px,#3c508a 83.5px,#3b528b 84.5px,#375b8c 85.5px,#2f6c8e 86.5px,#297a8e 87.5px,#2b768e 88.5px,#26828e 89.5px,#21948b 90.5px,#26818e 91.5px,#2a788e 92.5px,#287d8e 93.5px,#228e8c 94.5px,#26828d 95.5px,#21908c 96.5px,#21918c 97.5px,#1f9c89 98.5px,#21a087 99.5px,#23a385 100.5px,#22908c 101.5px,#21958b 102.5px,#24a684 103.5px,#30b37c 104.5px,#34b679 105.5px,#2baf7f 106.5px,#2bb07f 107.5px,#3aba76 108.5px,#39b976 109.5px,#44bd70 110.5px,#5ac663 111.5px,#42ba71 112.5px,#86d248 113.5px,#aadb33 114.5px,#cbe122 115.5px,#e8e41e 116.5px,#d1e123 117.5px,#a9db34 118.5px,#bbde28 119.5px,#cce120 120.5px,#e9e41e 121.5px,#e5e421 122.5px,#b6dd2f 123.5px,#a4da36 124.5px,#a3da37 125.5px,#addc35 126.5px,#e4e422 127.5px,#ede51f 128.5px,#c1de2a 129.5px,#71cd56 130.5px,#7ed24e 131.5px,#abdb32 132.5px,#afdc2f 133.5px,#8fd543 134.5px,#46bd6f 135.5px,#2baf7f 136.5px,#26aa82 137.5px,#22a087 138.5px,#2fab7e 139.5px,#55c467 140.5px,#66cb5d 141.5px,#7ad050 142.5px,#47be6e 143.5px,#33b679 144.5px)"></div><div style="top:27px;height:1px;background:linear-gradient(90deg,#482677 0.5px 61.5px,#482777 62.5px,#472b79 63.5px,#3e4885 64.5px,#2b768c 65.5px,#3b5189 66.5px,#453680 67.5px,#453580 68.5px,#423e84 69.5px,#3b5089 70.5px,#31688c 71.5px,#2b788d 72.5px,#2a798d 73.5px,#2c728d 74.5px,#2d718d 75.5px,#2c748d 76.5px,#2d728d 77.5px,#306a8d 78.5px,#31678d 79.5px,#297a8e 80.5px,#26818e 81.5px,#2e708d 82.5px,#33648d 83.5px,#365c8c 84.5px,#375a8c 85.5px,#355f8d 86.5px,#2f6d8e 87.5px,#287c8e 88.5px,#25858d 89.5px,#21958b 90.5px,#25868d 91.5px,#287b8e 92.5px,#287c8e 93.5px,#228e8c 94.5px,#24888d 95.5px,#23898d 96.5px,#20938c 97.5px,#1f988b 98.5px,#1f9c89 99.5px,#21a386 100.5px,#219989 101.5px,#21928b 102.5px,#22a286 103.5px,#2cb07e 104.5px,#36b778 105.5px 106.5px,#2db27d 107.5px,#30b47b 108.5px,#31b57b 109.5px,#31b27b 110.5px,#50c26a 111.5px,#42bb71 112.5px,#75ce53 113.5px,#b0dc2f 114.5px,#c1df27 115.5px,#ebe51f 116.5px,#e8e41f 117.5px,#bade2b 118.5px,#a7db35 119.5px,#bfdf26 120.5px,#d4e21e 121.5px,#e9e41d 122.5px,#d3e122 123.5px,#9dd93c 124.5px,#9dd93b 125.5px,#9ed93b 126.5px,#cde124 127.5px,#eee51e 128.5px,#e0e323 129.5px,#95d643 130.5px,#84d34b 131.5px,#b7dd2b 132.5px,#b9de29 133.5px,#9cd83b 134.5px,#52c168 135.5px,#28ab81 136.5px,#25ab82 137.5px,#24a585 138.5px,#26a086 139.5px,#44bb71 140.5px,#6acc5a 141.5px,#82d34c 142.5px,#60c860 143.5px,#3ebb74 144.5px)"></div><div style="top:28px;height:1px;background:linear-gradient(90deg,#482677 0.5px 61.5px,#482777 62.5px,#472978 63.5px,#404183 64.5px,#2c748c 65.5px,#38578a 66.5px,#443780 67.5px,#46327f 68.5px,#453581 69.5px,#433c83 70.5px,#404486 71.5px,#3d4c88 72.5px,#3c4f89 73.5px,#3d4c89 74.5px,#3e4a88 75.5px,#3c4e89 76.5px,#38588b 77.5px,#30698d 78.5px,#297c8e 79.5px,#24888d 80.5px,#228d8d 81.5px,#22918b 82.5px,#26848d 83.5px,#2e6e8e 84.5px,#34618d 85.5px,#355f8d 86.5px,#33648d 87.5px,#2e6f8e 88.5px,#26828e 89.5px,#21908c 90.5px,#24888d 91.5px,#287c8e 92.5px,#2a788e 93.5px,#25868d 94.5px,#228c8d 95.5px,#26828d 96.5px,#20988a 97.5px,#1f9a8a 98.5px,#21a386 99.5px,#21a585 100.5px,#26a783 101.5px,#21988a 102.5px,#209a89 103.5px,#24a684 104.5px,#28ac81 105.5px,#2db17d 106.5px,#2cb17e 107.5px,#27ad81 108.5px,#2bb07f 109.5px,#2daf7e 110.5px,#4fc26a 111.5px,#59c764 112.5px,#7bd051 113.5px,#c3df26 114.5px,#bedf29 115.5px,#e7e420 116.5px,#ece51f 117.5px,#c1df28 118.5px,#88d448 119.5px,#94d741 120.5px,#bfdf27 121.5px,#dee31b 122.5px,#e8e41e 123.5px,#c7e026 124.5px,#aedc30 125.5px,#b6dd2b 126.5px,#bdde2a 127.5px,#e8e420 128.5px 129.5px,#addb34 130.5px,#7ad051 131.5px,#a1d938 132.5px,#b2dd2d 133.5px,#9fd939 134.5px,#65c95d 135.5px,#31b17b 136.5px,#29ae80 137.5px,#33b47b 138.5px,#28aa81 139.5px,#33b17a 140.5px,#68ca5c 141.5px,#6dce59 142.5px,#6acc5a 143.5px,#3ab876 144.5px)"></div><div style="top:29px;height:1px;background:linear-gradient(90deg,#482677 0.5px 62.5px,#482878 63.5px,#423c80 64.5px,#2d708c 65.5px,#355d8b 66.5px,#443981 67.5px,#46327f 68.5px,#46337f 69.5px,#453681 70.5px,#443a83 71.5px,#424085 72.5px,#404487 73.5px 74.5px,#414387 75.5px 76.5px,#3f4788 77.5px,#3a548b 78.5px,#306b8d 79.5px,#26838d 80.5px,#228d8d 81.5px,#21928b 82.5px,#25858d 83.5px,#2e6f8e 84.5px,#34628d 85.5px,#355f8d 86.5px,#33628d 87.5px,#30698e 88.5px,#2b778e 89.5px,#228c8d 90.5px,#228b8d 91.5px,#27808e 92.5px,#297a8e 93.5px,#27808e 94.5px,#22918b 95.5px,#26838d 96.5px,#209989 97.5px,#1f9f88 98.5px,#22a585 99.5px,#21a486 100.5px,#25a983 101.5px,#23a385 102.5px,#21958b 103.5px,#209a89 104.5px,#21a386 105.5px,#25aa82 106.5px,#2fb37c 107.5px,#28ad80 108.5px,#27ad81 109.5px,#2cb07e 110.5px,#47bf6e 111.5px,#6ecd58 112.5px,#7dd150 113.5px,#c6df27 114.5px,#b8de2c 115.5px,#d5e220 116.5px,#ebe51e 117.5px,#cee023 118.5px,#8dd545 119.5px,#77d053 120.5px,#a9db34 121.5px,#d9e21d 122.5px,#eee51d 123.5px,#e7e41f 124.5px,#c7e025 125.5px,#c2df24 126.5px,#b5dd2d 127.5px,#d2e121 128.5px,#e6e41d 129.5px,#c3df27 130.5px,#81d24d 131.5px,#8cd546 132.5px,#afdc2f 133.5px,#a7db34 134.5px,#77cf53 135.5px,#42bc71 136.5px,#2eb27d 137.5px,#3bb976 138.5px 139.5px,#2dae7e 140.5px,#4fc16a 141.5px,#5cc863 142.5px,#65ca5e 143.5px,#39b777 144.5px)"></div><div style="top:30px;height:1px;background:linear-gradient(90deg,#482677 0.5px 62.5px,#482877 63.5px,#43377e 64.5px,#2f6b8c 65.5px,#32638c 66.5px,#433b82 67.5px,#46337f 68.5px,#453580 69.5px,#443b83 70.5px,#404687 71.5px,#3a548a 72.5px,#365d8b 73.5px 74.5px,#3a548b 75.5px,#3e4b89 76.5px,#404788 77.5px,#3e4a89 78.5px,#39558b 79.5px,#306a8d 80.5px,#25848d 81.5px,#297a8e 82.5px,#31678d 83.5px,#355d8d 84.5px,#365b8d 85.5px,#355d8d 86.5px,#34618d 87.5px,#31688e 88.5px,#2c728e 89.5px,#23888d 90.5px,#228d8d 91.5px,#238a8d 92.5px,#25838e 93.5px,#26828d 94.5px,#21968a 95.5px,#238d8c 96.5px,#21938b 97.5px,#20a087 98.5px,#209c89 99.5px,#1f9c89 100.5px,#219d88 101.5px,#23a684 102.5px,#219b89 103.5px,#21938b 104.5px,#20a087 105.5px,#27ab81 106.5px,#39b977 107.5px,#37b778 108.5px,#27ac81 109.5px,#29af80 110.5px,#36b578 111.5px,#65ca5e 112.5px,#69cb5b 113.5px,#a8da34 114.5px,#abdc32 115.5px,#bdde2a 116.5px,#e8e41f 117.5px,#e5e41d 118.5px,#bdde2b 119.5px,#8fd544 120.5px,#9ad83e 121.5px,#d2e120 122.5px,#e4e41a 123.5px,#ebe51d 124.5px,#dbe31f 125.5px,#b1dd30 126.5px,#a5db35 127.5px,#a9db36 128.5px,#dfe31f 129.5px,#e0e31f 130.5px,#acdb35 131.5px,#91d643 132.5px,#b7dd2a 133.5px 134.5px,#7ed14e 135.5px,#4bc16c 136.5px,#2db17d 137.5px,#2eb17d 138.5px,#3eba74 139.5px,#2cb07e 140.5px,#33b27a 141.5px,#58c665 142.5px,#5ec962 143.5px,#50c369 144.5px)"></div><div style="top:31px;height:1px;background:linear-gradient(90deg,#482677 0.5px 62.5px,#482777 63.5px,#44347d 64.5px,#31668b 65.5px,#30698c 66.5px,#423f83 67.5px,#463480 68.5px,#443982 69.5px,#3f4687 70.5px,#355e8c 71.5px,#297b8d 72.5px,#248a8c 73.5px,#25878c 74.5px,#2c738d 75.5px,#365c8c 76.5px,#3d4c8a 77.5px,#3f4788 78.5px,#3e4a89 79.5px,#38598b 80.5px,#297b8e 81.5px,#2d718e 82.5px,#38588c 83.5px,#3a548b 84.5px,#38588c 85.5px,#365d8d 86.5px,#34618d 87.5px,#31678e 88.5px,#2d718e 89.5px,#25858e 90.5px,#218f8d 91.5px,#238b8d 92.5px,#23898d 93.5px,#25858d 94.5px,#20968b 95.5px 96.5px,#248c8c 97.5px,#219e87 98.5px,#20968b 99.5px,#20948c 100.5px,#20958b 101.5px,#21a187 102.5px,#24a684 103.5px,#21988a 104.5px,#219b89 105.5px,#29ac80 106.5px,#39b976 107.5px,#43bd71 108.5px,#28ab81 109.5px,#25aa83 110.5px,#2aab80 111.5px,#4fc26a 112.5px,#59c764 113.5px,#83d34b 114.5px,#a9db33 115.5px,#afdc31 116.5px,#dee31f 117.5px,#efe51d 118.5px,#e7e41f 119.5px,#c1df28 120.5px,#9dd93b 121.5px,#b5dd2e 122.5px,#d6e21d 123.5px,#d6e21e 124.5px,#e1e321 125.5px,#addc34 126.5px,#99d83d 127.5px,#8ed545 128.5px,#cfe023 129.5px,#ece51e 130.5px,#dae223 131.5px,#a2da3a 132.5px,#b0dc2f 133.5px,#bede27 134.5px,#7dd14f 135.5px,#46bf6f 136.5px,#2db17e 137.5px,#25a983 138.5px,#33b57a 139.5px,#37b678 140.5px,#2ca980 141.5px,#51c269 142.5px,#5bc863 143.5px,#77d053 144.5px)"></div><div style="top:32px;height:1px;background:linear-gradient(90deg,#482677 0.5px 62.5px,#482777 63.5px,#45317b 64.5px,#345f8b 65.5px,#2e6e8d 66.5px,#404284 67.5px,#453681 68.5px,#443b83 69.5px,#3d4c89 70.5px,#306a8d 71.5px,#238b8c 72.5px,#20948b 73.5px,#218f8c 74.5px,#25848d 75.5px,#2e6e8d 76.5px,#38588b 77.5px,#3d4c89 78.5px,#3e4989 79.5px,#3a538a 80.5px,#2c748e 81.5px,#2b768e 82.5px,#37598c 83.5px,#3a548b 84.5px,#38588c 85.5px,#365d8d 86.5px,#33628d 87.5px,#30688e 88.5px,#2c728e 89.5px,#26838e 90.5px,#218f8c 91.5px,#238a8d 92.5px,#23888e 93.5px,#26838e 94.5px,#238c8c 95.5px,#219989 96.5px,#25888d 97.5px,#20988a 98.5px,#209b89 99.5px,#20958b 100.5px,#1f9b8a 101.5px,#21a286 102.5px,#28ac81 103.5px,#24a584 104.5px,#21978a 105.5px,#22a186 106.5px,#2caf7f 107.5px,#35b679 108.5px,#25a983 109.5px,#21a386 110.5px,#26a982 111.5px,#44bd70 112.5px,#65cb5d 113.5px,#7ad051 114.5px,#badd2a 115.5px,#b5dd2c 116.5px,#cae022 117.5px,#e4e41d 118.5px,#e9e41c 119.5px,#dae21d 120.5px,#acdc33 121.5px,#93d742 122.5px,#b7dd2b 123.5px,#cee11f 124.5px,#e1e31b 125.5px,#d2e122 126.5px,#a3da38 127.5px,#98d83e 128.5px,#b8dd2e 129.5px,#eae520 130.5px,#e8e421 131.5px,#acdb35 132.5px,#90d643 133.5px,#a4da36 134.5px,#73ce55 135.5px,#3dba74 136.5px,#2fb37c 137.5px,#2aae7f 138.5px,#34b579 139.5px,#4bc06d 140.5px,#2faf7d 141.5px,#3eba74 142.5px,#58c665 143.5px,#7cd150 144.5px)"></div><div style="top:33px;height:1px;background:linear-gradient(90deg,#482677 0.5px 62.5px,#482777 63.5px,#452f7a 64.5px,#37588a 65.5px,#2c728d 66.5px,#3f4786 67.5px,#453681 68.5px,#443982 69.5px,#404587 70.5px,#375b8b 71.5px,#2c748d 72.5px,#26828d 73.5px,#27818d 74.5px,#287c8d 75.5px,#297a8d 76.5px,#2d718d 77.5px,#34628d 78.5px,#39578b 79.5px,#38598b 80.5px,#2c728e 81.5px,#287e8e 82.5px,#32658d 83.5px,#365c8c 84.5px,#365b8d 85.5px,#355e8d 86.5px,#33638d 87.5px,#30698e 88.5px,#2c728e 89.5px,#26828e 90.5px,#218f8c 91.5px,#238a8d 92.5px,#23888e 93.5px,#26828e 94.5px,#26838d 95.5px,#219889 96.5px,#238c8c 97.5px,#22908c 98.5px,#21a087 99.5px,#1f9a8a 100.5px,#1f9d89 101.5px,#22a685 102.5px,#25ab82 103.5px,#27ab82 104.5px,#219b89 105.5px,#21948b 106.5px,#22a386 107.5px,#25aa82 108.5px,#24a883 109.5px,#219d88 110.5px,#26a982 111.5px,#3cb875 112.5px,#74ce54 113.5px,#78cf53 114.5px,#c5df25 115.5px,#c2df24 116.5px,#b5dd2c 117.5px,#c5e024 118.5px,#d6e21c 119.5px,#dfe31a 120.5px,#c5df26 121.5px,#92d643 122.5px,#94d741 123.5px,#c9e022 124.5px,#dde31a 125.5px,#e5e41f 126.5px,#bbde2b 127.5px,#a9db33 128.5px,#a7db38 129.5px,#e4e422 130.5px,#ece51f 131.5px,#bdde2c 132.5px,#7cd150 133.5px,#7ed24e 134.5px,#64ca5e 135.5px,#36b678 136.5px,#2fb37c 137.5px,#36b778 138.5px,#3ebb74 139.5px,#58c665 140.5px,#40bb73 141.5px,#31b17c 142.5px,#53c468 143.5px,#61ca60 144.5px)"></div><div style="top:34px;height:1px;background:linear-gradient(90deg,#482677 0.5px 62.5px,#482777 63.5px,#462d7a 64.5px,#3a5188 65.5px,#2c758c 66.5px,#3d4b87 67.5px,#453781 68.5px 69.5px,#433c84 70.5px,#404587 71.5px,#3b508a 72.5px,#38588b 73.5px 74.5px,#39558b 75.5px,#39578b 76.5px,#34618c 77.5px,#2e708d 78.5px,#2b778d 79.5px,#2b768e 80.5px,#277e8e 81.5px,#24888d 82.5px,#287f8d 83.5px,#2c738e 84.5px,#31678d 85.5px,#33628d 86.5px,#32658e 87.5px,#30698e 88.5px,#2d718e 89.5px,#277f8e 90.5px,#228d8d 91.5px,#228b8d 92.5px 93.5px,#23888d 94.5px,#26848d 95.5px,#209a89 96.5px,#219989 97.5px,#248b8c 98.5px,#219b89 99.5px,#1f9e89 100.5px,#20978b 101.5px,#209e88 102.5px,#21a486 103.5px,#21a586 104.5px,#21a286 105.5px,#21958b 106.5px,#209e88 107.5px,#24a883 108.5px,#28ac81 109.5px,#229f87 110.5px,#24a983 111.5px,#30af7c 112.5px,#67c95c 113.5px,#66ca5c 114.5px,#b2db2e 115.5px,#c1df24 116.5px,#a6db35 117.5px,#a9db33 118.5px,#c6e024 119.5px,#e8e41d 120.5px,#e7e41f 121.5px,#bcde2d 122.5px,#8fd644 123.5px,#b1dc2f 124.5px,#d8e21c 125.5px,#e7e41e 126.5px,#d0e121 127.5px,#a1da39 128.5px,#9cd93c 129.5px,#cde124 130.5px,#ece51e 131.5px,#dae222 132.5px,#96d741 133.5px,#75d054 134.5px,#5ac764 135.5px,#34b579 136.5px,#2aaf7f 137.5px,#35b779 138.5px,#40bd73 139.5px,#4ec36b 140.5px,#4bbf6d 141.5px,#2ea97f 142.5px,#4cc06c 143.5px,#4cc26c 144.5px)"></div><div style="top:35px;height:1px;background:linear-gradient(90deg,#482677 0.5px 62.5px,#482777 63.5px,#472b79 64.5px,#3d4b86 65.5px,#2b768c 66.5px,#3b5089 67.5px,#443882 68.5px,#453681 69.5px,#453882 70.5px,#443b84 71.5px,#423f85 72.5px,#414286 73.5px,#414487 74.5px,#404487 75.5px,#404688 76.5px,#3e4a89 77.5px,#3a538a 78.5px,#33638d 79.5px,#2a798e 80.5px,#23898d 81.5px,#228e8d 82.5px,#20958b 83.5px,#238c8c 84.5px,#2b758e 85.5px,#31668e 86.5px,#32658e 87.5px,#306a8e 88.5px,#2e6f8e 89.5px,#287c8e 90.5px,#228c8d 91.5px 92.5px,#218e8d 93.5px,#218f8d 94.5px,#24888d 95.5px,#219989 96.5px,#25a484 97.5px,#248d8c 98.5px,#238d8c 99.5px,#209b89 100.5px,#20968b 101.5px,#21938b 102.5px,#1f9c89 103.5px,#1f9f88 104.5px,#20a386 105.5px,#20a187 106.5px,#209c89 107.5px,#25a983 108.5px,#28ad80 109.5px,#23a784 110.5px,#21a585 111.5px,#27a982 112.5px,#48be6e 113.5px,#56c566 114.5px,#97d73e 115.5px,#b8de2a 116.5px,#a6db35 117.5px,#9bd93c 118.5px,#b7de2d 119.5px,#e7e420 120.5px,#f2e61e 121.5px,#e3e322 122.5px,#a9db36 123.5px,#97d73f 124.5px,#c6e023 125.5px,#cee120 126.5px,#d4e121 127.5px,#96d741 128.5px,#97d83f 129.5px,#addc34 130.5px,#e6e421 131.5px,#ede51e 132.5px,#cae026 133.5px,#8cd446 134.5px,#52c368 135.5px,#30b37b 136.5px,#25aa83 137.5px,#2baf7f 138.5px,#3bba75 139.5px,#3dbb74 140.5px,#46bd70 141.5px,#2ba682 142.5px,#3eb974 143.5px,#47c06f 144.5px)"></div><div style="top:36px;height:1px;background:linear-gradient(90deg,#482677 0.5px 63.5px,#472a79 64.5px,#3f4584 65.5px,#2b758c 66.5px,#39568a 67.5px,#443a82 68.5px,#453781 69.5px,#453882 70.5px,#443983 71.5px,#433c84 72.5px,#433e85 73.5px,#424086 74.5px,#414286 75.5px,#414487 76.5px,#404688 77.5px,#3e4b89 78.5px,#39578c 79.5px,#2f6c8d 80.5px,#25858d 81.5px,#228d8d 82.5px,#20938b 83.5px,#24898d 84.5px,#2c738e 85.5px,#32658e 86.5px,#32648e 87.5px,#2f6b8e 88.5px,#2d708e 89.5px,#287c8e 90.5px,#228d8d 91.5px,#218e8d 92.5px,#218f8d 93.5px,#21918c 94.5px,#23898d 95.5px,#23908b 96.5px,#25a484 97.5px,#22938a 98.5px,#26828d 99.5px,#22928b 100.5px,#21a087 101.5px,#21988a 102.5px,#20988a 103.5px,#1fa088 104.5px,#20a287 105.5px,#22a685 106.5px,#209b89 107.5px,#219f87 108.5px,#22a585 109.5px,#25a983 110.5px,#209e88 111.5px,#22a585 112.5px,#33b37a 113.5px,#5ac664 114.5px,#9ad83d 115.5px,#b7de2a 116.5px,#b6dd2b 117.5px,#a0da39 118.5px,#a4da37 119.5px,#cee123 120.5px,#ece51e 121.5px,#ede51e 122.5px,#c5df26 123.5px,#90d643 124.5px,#addc31 125.5px,#c6e022 126.5px,#d4e21e 127.5px,#b1dc32 128.5px,#9fda3a 129.5px,#a5da37 130.5px,#d7e221 131.5px,#efe51e 132.5px,#e5e41f 133.5px,#a9d936 134.5px,#4cbe6c 135.5px,#27a982 136.5px,#21a585 137.5px,#26a983 138.5px,#3cba75 139.5px,#40bd72 140.5px,#42bd71 141.5px,#2aab80 142.5px,#2fb17c 143.5px,#4bc16c 144.5px)"></div><div style="top:37px;height:1px;background:linear-gradient(90deg,#482677 0.5px 63.5px,#472978 64.5px,#413f82 65.5px,#2c738c 66.5px,#365c8b 67.5px,#433c83 68.5px,#453782 69.5px,#443982 70.5px,#443a83 71.5px,#433d84 72.5px,#423f85 73.5px,#414287 74.5px,#404587 75.5px,#404688 76.5px,#3f4788 77.5px,#3e4a89 78.5px,#3c508b 79.5px,#375b8c 80.5px,#2f6d8d 81.5px,#26838e 82.5px 83.5px,#2d718e 84.5px,#32658d 85.5px,#34608d 86.5px,#33628d 87.5px,#2f6c8e 88.5px,#2c738e 89.5px,#287c8e 90.5px,#218f8c 91.5px,#21908c 92.5px,#21908d 93.5px,#21908c 94.5px,#23888d 95.5px,#25868d 96.5px,#219c88 97.5px,#219b89 98.5px,#26838d 99.5px,#26868d 100.5px,#24a186 101.5px,#26a783 102.5px,#209c89 103.5px,#1f9e88 104.5px,#20a486 105.5px,#20a387 106.5px,#209d89 107.5px,#22918c 108.5px,#209b89 109.5px,#22a485 110.5px,#20998a 111.5px,#20a187 112.5px,#29aa81 113.5px,#60c561 114.5px,#b5dc2d 115.5px,#bddf27 116.5px,#c3df23 117.5px,#b2dd2d 118.5px,#9fda39 119.5px,#addc32 120.5px,#d5e220 121.5px,#ece51d 122.5px,#d6e220 123.5px,#9cd93c 124.5px,#95d740 125.5px,#c7e022 126.5px,#d4e21d 127.5px,#dce323 128.5px,#b3dd30 129.5px,#b5dd2c 130.5px,#bade2d 131.5px,#e5e420 132.5px,#eae51d 133.5px,#bddd2a 134.5px,#54bf67 135.5px,#259d86 136.5px,#1f9c89 137.5px,#24a585 138.5px,#3cb975 139.5px,#51c469 140.5px,#48c06e 141.5px,#36b679 142.5px,#2cab7f 143.5px,#55c467 144.5px)"></div><div style="top:38px;height:1px;background:linear-gradient(90deg,#482677 0.5px 63.5px,#482878 64.5px,#423b80 65.5px,#2e6f8c 66.5px,#33628c 67.5px,#423e84 68.5px,#453882 69.5px,#443983 70.5px,#443b84 71.5px,#433e85 72.5px,#414387 73.5px,#3e4b89 74.5px,#3b508a 75.5px,#3c4e8a 76.5px,#3e4a89 77.5px 78.5px,#3d4c8a 79.5px,#3b518b 80.5px,#365b8c 81.5px,#2b778e 82.5px,#287c8e 83.5px,#33638d 84.5px,#365c8d 85.5px,#365d8d 86.5px,#34618d 87.5px,#306a8e 88.5px,#2b758e 89.5px,#297b8e 90.5px,#238b8d 91.5px,#228d8d 92.5px,#218f8d 93.5px,#21908c 94.5px,#228d8d 95.5px,#25858e 96.5px,#21948b 97.5px,#22a286 98.5px,#23918b 99.5px,#27828d 100.5px,#24928a 101.5px,#26a783 102.5px,#21a286 103.5px,#20988a 104.5px,#20a087 105.5px,#1fa088 106.5px,#209f88 107.5px,#228e8c 108.5px,#20968b 109.5px,#20a187 110.5px,#209e88 111.5px,#1f9a8a 112.5px,#23a186 113.5px,#4eba6c 114.5px,#c6dd2a 115.5px,#b9de2b 116.5px,#b6dd2b 117.5px,#bcde27 118.5px,#b0dd2f 119.5px,#a5db36 120.5px,#bade2b 121.5px,#e2e31d 122.5px,#e5e41d 123.5px,#b9dd2d 124.5px,#8dd545 125.5px,#b4dd2d 126.5px,#c9e022 127.5px,#e3e41f 128.5px,#c9e024 129.5px,#bade29 130.5px,#a9db34 131.5px,#c8e026 132.5px,#eae41e 133.5px,#d2e023 134.5px,#72c957 135.5px,#2c9e83 136.5px,#21938b 137.5px,#219f87 138.5px,#33b37a 139.5px,#56c566 140.5px,#49c16e 141.5px,#42bb72 142.5px,#2ea780 143.5px,#5ac465 144.5px)"></div><div style="top:39px;height:1px;background:linear-gradient(90deg,#482677 0.5px 63.5px,#482877 64.5px,#43377e 65.5px,#30698c 66.5px,#31688d 67.5px,#414185 68.5px,#443983 69.5px,#443a83 70.5px,#433c84 71.5px,#424086 72.5px,#3e4989 73.5px,#375b8c 74.5px,#32668d 75.5px,#365d8c 76.5px,#3c508a 77.5px,#3e4b8a 78.5px,#3d4c8a 79.5px,#3c4e8a 80.5px,#39558b 81.5px,#2e6f8e 82.5px,#287e8e 83.5px,#33628d 84.5px,#375a8c 85.5px,#365b8d 86.5px,#34618d 87.5px,#30698e 88.5px,#2b758e 89.5px,#297a8e 90.5px,#26838e 91.5px,#24878e 92.5px,#228d8d 93.5px,#20918c 94.5px,#20928c 95.5px,#238b8d 96.5px,#22908c 97.5px,#22a386 98.5px,#23a286 99.5px,#248d8c 100.5px,#25858d 101.5px,#22958a 102.5px,#219f87 103.5px,#20958b 104.5px,#20968b 105.5px,#1f9f88 106.5px,#1f9d89 107.5px,#20968b 108.5px,#21938b 109.5px,#21a187 110.5px,#25a784 111.5px,#22958b 112.5px,#209b89 113.5px,#3da878 114.5px,#c5da2b 115.5px,#b7dd2c 116.5px,#9cd93c 117.5px,#acdc31 118.5px,#c1df25 119.5px,#b8de2a 120.5px,#b0dd2f 121.5px,#d2e120 122.5px,#ece51d 123.5px,#dbe222 124.5px,#9ed93c 125.5px,#96d83f 126.5px,#bbde28 127.5px,#d2e11f 128.5px,#dae21f 129.5px,#b1dd30 130.5px,#a3db37 131.5px,#a4da39 132.5px,#dee323 133.5px,#e4e322 134.5px,#98d441 135.5px,#3aaf77 136.5px,#23938b 137.5px,#20988a 138.5px,#29aa81 139.5px,#47bf6f 140.5px,#41bd72 141.5px,#3fb974 142.5px,#2ca382 143.5px,#4cbf6c 144.5px)"></div><div style="top:40px;height:1px;background:linear-gradient(90deg,#482677 0.5px 63.5px,#482777 64.5px,#44337d 65.5px,#32638b 66.5px,#2e6d8d 67.5px,#404485 68.5px,#443a83 69.5px,#443b84 70.5px,#433d84 71.5px,#424186 72.5px,#3e4a89 73.5px,#365b8c 74.5px,#32668d 75.5px,#355e8d 76.5px,#3b518b 77.5px,#3d4c8a 78.5px,#3d4d8a 79.5px,#3c4f8a 80.5px,#3a548b 81.5px,#306a8d 82.5px,#27818d 83.5px,#32668d 84.5px,#375a8c 85.5px,#365b8d 86.5px,#34618d 87.5px,#30698e 88.5px,#2c748e 89.5px,#287e8e 90.5px,#26838e 91.5px,#24888e 92.5px,#228b8d 93.5px,#20918c 94.5px,#20948c 95.5px,#218f8c 96.5px,#238a8d 97.5px,#22978a 98.5px,#24a684 99.5px,#229f87 100.5px,#238d8c 101.5px,#24898d 102.5px,#20958b 103.5px,#1f9a8a 104.5px,#21938b 105.5px,#1f9b89 106.5px,#1f998a 107.5px,#209a8a 108.5px,#238d8c 109.5px,#219e88 110.5px,#25a684 111.5px,#22948b 112.5px,#20948b 113.5px,#3a9d7c 114.5px,#bdd72b 115.5px,#cce022 116.5px,#9dd93b 117.5px,#98d83e 118.5px,#c0df25 119.5px,#cce120 120.5px,#b0dd2f 121.5px,#b6dd2e 122.5px,#e5e421 123.5px,#eae41f 124.5px,#b9dd2d 125.5px,#8ad447 126.5px,#b1dc2e 127.5px,#c5e025 128.5px,#e3e421 129.5px,#bcde2d 130.5px,#a0da3a 131.5px,#92d742 132.5px,#b6dd30 133.5px,#dfe322 134.5px,#acda34 135.5px,#52bf68 136.5px,#269d86 137.5px,#21928b 138.5px,#24a485 139.5px,#39b876 140.5px,#41bd72 141.5px,#3cb875 142.5px,#27a484 143.5px,#35b47a 144.5px)"></div><div style="top:41px;height:1px;background:linear-gradient(90deg,#482677 0.5px 63.5px,#482777 64.5px,#45307b 65.5px,#355c8a 66.5px,#2d718d 67.5px,#3f4887 68.5px,#443b84 69.5px,#443c84 70.5px,#433e85 71.5px,#424086 72.5px,#404587 73.5px,#3d4c89 74.5px,#3b518b 75.5px,#3c4f8a 76.5px,#3d4c8a 77.5px 78.5px,#3d4d8a 79.5px,#3c4f8a 80.5px,#3a538b 81.5px,#32658d 82.5px,#27818d 83.5px,#306a8d 84.5px,#375b8d 85.5px,#365b8d 86.5px,#34608d 87.5px,#30698e 88.5px,#2c728e 89.5px,#26828e 90.5px,#24868e 91.5px,#228c8d 92.5px,#228b8d 93.5px,#20918c 94.5px,#20938c 95.5px,#21908c 96.5px,#25848e 97.5px,#25868d 98.5px,#229a88 99.5px,#25a883 100.5px,#229f87 101.5px,#238e8c 102.5px,#238c8d 103.5px,#209b89 104.5px,#1f9b89 105.5px,#20968b 106.5px,#1f998a 107.5px,#20958b 108.5px,#238b8d 109.5px,#21938b 110.5px,#209c89 111.5px,#20958b 112.5px,#24898d 113.5px,#38997e 114.5px,#b0d532 115.5px,#dfe320 116.5px,#c1df28 117.5px,#9dd93b 118.5px,#b4dd2d 119.5px,#d4e21e 120.5px,#b9de2a 121.5px,#9ad83d 122.5px,#c2df29 123.5px,#e8e41f 124.5px,#cde023 125.5px,#8cd546 126.5px,#a2da38 127.5px,#cee121 128.5px,#ebe51e 129.5px,#e0e324 130.5px,#a6db38 131.5px,#95d840 132.5px,#96d740 133.5px,#c4df26 134.5px,#abdb32 135.5px,#5dc662 136.5px,#2fab7e 137.5px,#248f8b 138.5px,#229d88 139.5px,#32b27b 140.5px,#4ac16d 141.5px,#40bc73 142.5px,#29ac80 143.5px,#25a983 144.5px)"></div><div style="top:42px;height:1px;background:linear-gradient(90deg,#482677 0.5px 63.5px,#482777 64.5px,#462e7a 65.5px,#395589 66.5px,#2c748d 67.5px,#3d4b88 68.5px,#433c84 69.5px,#443b84 70.5px,#433e85 71.5px,#424086 72.5px,#414286 73.5px,#404487 74.5px,#3f4788 75.5px,#3f4889 76.5px,#3e4989 77.5px,#3e4a89 78.5px,#3d4d8a 79.5px,#3c4e8a 80.5px,#3b518b 81.5px,#34608c 82.5px,#277f8d 83.5px,#2e6f8e 84.5px,#365c8d 85.5px,#375a8c 86.5px,#355f8d 87.5px,#31678e 88.5px,#2d708e 89.5px,#277f8e 90.5px,#24878e 91.5px,#238a8d 92.5px,#23888d 93.5px,#228e8d 94.5px,#20918c 95.5px,#21918c 96.5px,#25858e 97.5px,#297b8e 98.5px,#25878c 99.5px,#229f87 100.5px,#24a784 101.5px,#219989 102.5px,#24888d 103.5px,#238e8c 104.5px,#219d88 105.5px,#20948b 106.5px,#1f968b 107.5px,#21918c 108.5px 109.5px,#238a8d 110.5px,#20948b 111.5px,#20958b 112.5px,#26838d 113.5px,#369581 114.5px,#9cd13d 115.5px,#cae023 116.5px,#d6e21f 117.5px,#b4dd2e 118.5px,#a7db35 119.5px,#cde120 120.5px,#cbe021 121.5px,#9ad83e 122.5px,#a5da38 123.5px,#e0e31f 124.5px,#dbe220 125.5px,#99d83f 126.5px,#8ad447 127.5px,#c9e023 128.5px,#e0e31b 129.5px,#e9e41f 130.5px,#c0df2a 131.5px,#9bd93d 132.5px,#95d840 133.5px,#a1da39 134.5px,#9cd83b 135.5px,#68cb5b 136.5px,#44b972 137.5px,#279588 138.5px,#22928b 139.5px,#2aa981 140.5px,#48bf6e 141.5px,#42be71 142.5px,#36b578 143.5px,#23a186 144.5px)"></div><div style="top:43px;height:1px;background:linear-gradient(90deg,#482677 0.5px 63.5px,#482777 64.5px,#462c79 65.5px,#3c4e87 66.5px,#2b768c 67.5px,#3c4f89 68.5px,#433b84 69.5px,#443b83 70.5px,#433c84 71.5px,#433e85 72.5px,#424086 73.5px,#424286 74.5px,#414487 75.5px,#404588 76.5px,#3f4788 77.5px,#3f4889 78.5px,#3e4a89 79.5px,#3d4c8a 80.5px,#3c4f8a 81.5px,#375b8c 82.5px,#297b8e 83.5px,#2c738e 84.5px,#365c8c 85.5px,#38588c 86.5px,#355e8d 87.5px,#32648e 88.5px,#2f6c8e 89.5px,#2a778e 90.5px,#25848e 91.5px,#26838e 92.5px,#26818e 93.5px,#25858e 94.5px,#238b8d 95.5px,#228e8d 96.5px,#24888d 97.5px,#297a8e 98.5px,#29798e 99.5px,#238d8c 100.5px,#219f87 101.5px,#209e88 102.5px,#238c8c 103.5px,#26818e 104.5px,#22908c 105.5px,#20928c 106.5px,#228d8d 107.5px,#21918c 108.5px,#20948b 109.5px,#24888d 110.5px,#21928c 111.5px,#20948b 112.5px,#238b8d 113.5px,#369282 114.5px,#8fce45 115.5px,#9ed93b 116.5px,#c0df26 117.5px,#c4df23 118.5px,#a5db36 119.5px,#b9de2a 120.5px,#d2e11f 121.5px,#b0dc30 122.5px,#9ed93b 123.5px,#d5e220 124.5px,#e6e41f 125.5px,#b0dc32 126.5px,#7fd24d 127.5px,#b1dc2f 128.5px,#d4e21d 129.5px,#e7e41d 130.5px,#dfe322 131.5px,#a5da39 132.5px,#9ad93d 133.5px,#96d83f 134.5px,#82d34c 135.5px,#78d152 136.5px,#5dc662 137.5px,#2ea680 138.5px,#258b8c 139.5px,#25a086 140.5px,#3ab876 141.5px,#3fbc73 142.5px,#41ba73 143.5px,#259b87 144.5px)"></div><div style="top:44px;height:1px;background:linear-gradient(90deg,#482677 0.5px 63.5px,#482777 64.5px,#472a79 65.5px,#3e4885 66.5px,#2b768c 67.5px,#3a538a 68.5px,#433b83 69.5px,#443a83 70.5px,#443b84 71.5px,#433d84 72.5px,#433f85 73.5px,#424086 74.5px,#424286 75.5px,#414387 76.5px,#404588 77.5px,#404688 78.5px,#3f4889 79.5px,#3e4989 80.5px,#3e4b89 81.5px,#39558b 82.5px,#2b768e 83.5px,#2a778e 84.5px,#365c8c 85.5px,#39578c 86.5px,#365b8d 87.5px,#34618d 88.5px,#30698e 89.5px,#2d708e 90.5px,#27808e 91.5px,#287d8e 92.5px,#297b8e 93.5px,#297a8e 94.5px,#26828e 95.5px,#25858e 96.5px 97.5px,#287c8e 98.5px,#2b748e 99.5px,#287d8e 100.5px,#238d8c 101.5px,#20978a 102.5px,#20948b 103.5px,#26848d 104.5px,#26828e 105.5px,#228e8c 106.5px,#25848e 107.5px,#228c8d 108.5px,#218f8d 109.5px,#228b8d 110.5px,#23898d 111.5px,#218f8c 112.5px,#20968b 113.5px,#339682 114.5px,#85cd4b 115.5px,#8ad547 116.5px,#9bd83d 117.5px,#c3df24 118.5px,#b5dd2c 119.5px,#a8db34 120.5px,#bdde28 121.5px,#bcde28 122.5px,#9cd93c 123.5px,#c2df28 124.5px,#e8e41f 125.5px,#cfe023 126.5px,#8fd644 127.5px,#a0d93a 128.5px,#d0e11f 129.5px,#d3e21f 130.5px,#e3e41f 131.5px,#c0df2a 132.5px,#95d840 133.5px,#8fd644 134.5px,#68cc5b 135.5px,#6fce57 136.5px,#74cf54 137.5px,#45b771 138.5px,#298d8a 139.5px,#229b88 140.5px,#31b27c 141.5px,#42be71 142.5px,#4abd6e 143.5px,#279a87 144.5px)"></div><div style="top:45px;height:1px;background:linear-gradient(90deg,#482677 0.5px 64.5px,#472978 65.5px,#404283 66.5px,#2c758c 67.5px,#38588b 68.5px,#433b83 69.5px,#443982 70.5px,#443a83 71.5px,#443b84 72.5px,#433d84 73.5px,#433f85 74.5px,#424086 75.5px,#424186 76.5px,#414287 77.5px,#414487 78.5px,#404688 79.5px,#3f4788 80.5px,#3f4989 81.5px,#3b508a 82.5px,#2e6f8e 83.5px,#297b8e 84.5px,#365d8c 85.5px,#39558c 86.5px,#38598c 87.5px,#355f8d 88.5px,#32648d 89.5px,#2f6c8e 90.5px,#297a8e 91.5px,#297b8e 92.5px,#2a768e 93.5px,#2c738e 94.5px,#29798e 95.5px,#287d8e 96.5px 97.5px,#297b8e 98.5px,#2c738e 99.5px,#2c728e 100.5px,#297a8e 101.5px,#25868d 102.5px,#20938b 103.5px,#228e8c 104.5px,#287e8e 105.5px,#24878d 106.5px,#26828e 107.5px,#25858e 108.5px,#23898d 109.5px,#228c8d 110.5px,#287e8e 111.5px,#24878d 112.5px,#20968b 113.5px,#2da281 114.5px,#74cb55 115.5px,#86d449 116.5px,#84d44b 117.5px,#aedc31 118.5px,#cae021 119.5px,#b3dd2e 120.5px,#a2da38 121.5px,#b6dd2b 122.5px,#9ed93a 123.5px,#a8db37 124.5px,#e2e321 125.5px,#e4e420 126.5px,#aedc33 127.5px,#98d83e 128.5px,#c9e022 129.5px,#cfe11d 130.5px,#d6e21e 131.5px,#dee322 132.5px,#a9db38 133.5px,#84d34b 134.5px,#5dc862 135.5px,#53c467 136.5px,#7cd14f 137.5px,#55c068 138.5px,#289887 139.5px,#22958a 140.5px,#2eae7e 141.5px,#4dc26c 142.5px,#4fc16b 143.5px,#28a383 144.5px)"></div><div style="top:46px;height:1px;background:linear-gradient(90deg,#482677 0.5px 64.5px,#482878 65.5px,#423d81 66.5px,#2d728c 67.5px,#355d8b 68.5px,#433c83 69.5px,#453882 70.5px,#443983 71.5px,#443a83 72.5px,#443b84 73.5px,#433d84 74.5px,#433e85 75.5px,#423f85 76.5px,#424086 77.5px,#424186 78.5px,#414387 79.5px,#414487 80.5px,#404688 81.5px,#3d4c89 82.5px,#31688d 83.5px,#287e8d 84.5px,#355f8c 85.5px,#3b528b 86.5px,#39568c 87.5px,#365c8d 88.5px,#345f8d 89.5px,#31678e 90.5px,#2d708e 91.5px,#29798e 92.5px,#2d718e 93.5px,#2e6f8e 94.5px,#2d718e 95.5px,#2a778e 96.5px 97.5px,#2a788e 98.5px,#2b768e 99.5px,#2d708e 100.5px,#2e6d8e 101.5px,#2d718e 102.5px,#26838d 103.5px,#21918c 104.5px,#26818e 105.5px,#287d8e 106.5px,#25858e 107.5px,#26808e 108.5px,#238a8d 109.5px,#228c8d 110.5px,#287c8e 111.5px,#287e8e 112.5px,#22908b 113.5px,#2da97f 114.5px,#65c95d 115.5px,#70ce57 116.5px,#75d054 117.5px,#8cd546 118.5px,#c4df25 119.5px,#d2e122 120.5px,#a3da39 121.5px,#b3dd2d 122.5px,#b1dd2f 123.5px,#9dd93c 124.5px,#cfe122 125.5px,#e8e41e 126.5px,#c3df27 127.5px,#93d742 128.5px,#aadb33 129.5px,#c7e022 130.5px,#c3df26 131.5px,#e3e420 132.5px,#d9e225 133.5px,#95d643 134.5px,#64ca5e 135.5px,#4bc06c 136.5px,#72ce56 137.5px,#5bc663 138.5px,#2ca481 139.5px,#26898b 140.5px,#2ba781 141.5px,#4cc16c 142.5px,#4ac16d 143.5px,#31b27b 144.5px)"></div><div style="top:47px;height:1px;background:linear-gradient(90deg,#482677 0.5px 64.5px,#482878 65.5px,#43397f 66.5px,#2e6d8c 67.5px,#33628c 68.5px,#423d83 69.5px,#453781 70.5px,#453882 71.5px,#443983 72.5px,#443a83 73.5px,#443b84 74.5px,#433c84 75.5px,#433d85 76.5px,#433e85 77.5px,#423f85 78.5px,#424086 79.5px,#424186 80.5px,#414387 81.5px,#3f4788 82.5px,#34618c 83.5px,#277f8d 84.5px,#33628d 85.5px,#3b518b 86.5px,#3a538b 87.5px,#38588c 88.5px,#365c8d 89.5px,#33628d 90.5px,#32668d 91.5px,#2c738e 92.5px,#2f6b8e 93.5px,#30698e 94.5px 95.5px,#2e6f8e 96.5px,#2c728e 97.5px,#2b758e 98.5px,#2a788e 99.5px,#2c748e 100.5px,#306a8e 101.5px,#32648d 102.5px,#2e6f8e 103.5px,#24878d 104.5px,#25848e 105.5px,#2c748e 106.5px,#26818e 107.5px,#277e8e 108.5px,#238b8d 109.5px,#238a8d 110.5px,#26838e 111.5px,#2b768e 112.5px,#238d8c 113.5px,#2da87f 114.5px,#67c95c 115.5px,#5bc763 116.5px,#60ca60 117.5px,#72cf56 118.5px,#a0d93c 119.5px,#dce224 120.5px,#b6dd2e 121.5px,#aedc31 122.5px,#c7e024 123.5px,#a6db36 124.5px,#bdde2a 125.5px,#e6e41e 126.5px,#d5e220 127.5px,#9ad83e 128.5px,#88d448 129.5px,#a9db33 130.5px,#b5dd2c 131.5px,#cae024 132.5px,#e6e41f 133.5px,#c2de2a 134.5px,#71cd57 135.5px,#59c765 136.5px,#64cb5e 137.5px,#63c95f 138.5px,#36ad7a 139.5px,#2b828b 140.5px,#269e85 141.5px,#3fbb73 142.5px,#41bd72 143.5px 144.5px)"></div><div style="top:48px;height:1px;background:linear-gradient(90deg,#482677 0.5px 64.5px,#482777 65.5px,#44357d 66.5px,#30688b 67.5px,#31688c 68.5px,#423e83 69.5px,#453681 70.5px,#453781 71.5px,#453882 72.5px 73.5px,#443983 74.5px,#443a83 75.5px,#443b84 76.5px,#433c84 77.5px,#433d84 78.5px,#433e85 79.5px,#423f85 80.5px,#424086 81.5px,#414487 82.5px,#37598b 83.5px,#287e8d 84.5px,#32668d 85.5px,#3c508a 86.5px,#3c4f8a 87.5px,#39558c 88.5px,#375a8c 89.5px,#365d8d 90.5px,#34618d 91.5px,#306a8e 92.5px,#30688e 93.5px,#33628d 94.5px,#34618d 95.5px 96.5px,#32668d 97.5px,#2f6c8e 98.5px,#2c738e 99.5px,#2c748e 100.5px,#2f6c8e 101.5px,#33628d 102.5px,#32668d 103.5px,#287c8e 104.5px,#24878d 105.5px,#2c728e 106.5px,#2a788e 107.5px,#287c8e 108.5px,#26818e 109.5px,#25848e 110.5px,#26818e 111.5px,#2c748e 112.5px,#25898c 113.5px,#2ea77f 114.5px,#6dcb59 115.5px,#65cb5d 116.5px,#57c666 117.5px,#68cc5c 118.5px,#83d24e 119.5px,#d7e125 120.5px,#c8e024 121.5px,#a0d93a 122.5px,#c1df26 123.5px,#addc31 124.5px,#abdc34 125.5px,#dfe31f 126.5px,#e8e41f 127.5px,#badd2e 128.5px,#85d44a 129.5px,#8fd644 130.5px,#aedc30 131.5px,#bbde2a 132.5px,#dee31e 133.5px,#dce225 134.5px,#83d24e 135.5px,#5cc863 136.5px,#5ac864 137.5px,#5dc862 138.5px,#3db476 139.5px,#29898a 140.5px,#249a88 141.5px,#3ab777 142.5px,#44bf70 143.5px,#51c469 144.5px)"></div><div style="top:49px;height:1px;background:linear-gradient(90deg,#482677 0.5px 64.5px,#482777 65.5px,#44327c 66.5px,#33618b 67.5px,#2f6d8c 68.5px,#414083 69.5px,#453580 70.5px,#453581 71.5px,#453681 72.5px,#453781 73.5px,#453882 74.5px,#443983 75.5px,#443a83 76.5px,#443b84 77.5px,#443c84 78.5px,#433c84 79.5px 80.5px,#433d84 81.5px,#424085 82.5px,#3a538a 83.5px,#297a8d 84.5px,#306b8d 85.5px,#3c4f8a 86.5px,#3e4c8a 87.5px,#3b518b 88.5px,#38578c 89.5px,#37598c 90.5px,#355e8d 91.5px,#355f8d 92.5px,#31688e 93.5px,#365d8d 94.5px,#375b8c 95.5px,#39568c 96.5px 97.5px,#355e8d 98.5px,#30698e 99.5px,#2e6e8e 100.5px,#306a8e 101.5px,#33638d 102.5px,#32658e 103.5px,#2c748e 104.5px,#24868d 105.5px,#2a788e 106.5px,#2e6f8e 107.5px,#297a8e 108.5px,#2b768e 109.5px,#287d8e 110.5px,#2a788e 111.5px,#2b758e 112.5px,#28828d 113.5px,#2da780 114.5px,#64c95e 115.5px,#79d151 116.5px,#63ca5f 117.5px,#61ca60 118.5px,#76cf53 119.5px,#bfde28 120.5px,#cee121 121.5px,#99d83e 122.5px,#a9db33 123.5px,#addc30 124.5px,#9ad83d 125.5px,#cee122 126.5px,#ede51e 127.5px,#dfe322 128.5px,#a0d93b 129.5px,#85d44a 130.5px,#a2da38 131.5px,#bade29 132.5px,#c8e024 133.5px,#dee322 134.5px,#a6d939 135.5px,#5ac664 136.5px,#58c665 137.5px,#45be70 138.5px,#40b974 139.5px,#269987 140.5px,#259689 141.5px,#3db775 142.5px,#54c567 143.5px,#59c765 144.5px)"></div><div style="top:50px;height:1px;background:linear-gradient(90deg,#482677 0.5px 64.5px,#482777 65.5px,#452f7b 66.5px,#365b8a 67.5px,#2d718c 68.5px,#404384 69.5px,#453580 70.5px,#463480 71.5px,#453581 72.5px,#453681 73.5px,#443983 74.5px,#423e84 75.5px,#414286 76.5px 77.5px,#423f85 78.5px,#433c84 79.5px,#443b83 80.5px,#443a83 81.5px,#433c84 82.5px,#3d4c88 83.5px,#2c738d 84.5px,#2e6f8e 85.5px,#3b518a 86.5px,#3f4989 87.5px,#3d4d8a 88.5px,#3a538b 89.5px,#39558c 90.5px,#39568c 91.5px,#3a548b 92.5px,#355f8d 93.5px,#365b8c 94.5px,#39558b 95.5px,#3a538b 96.5px,#3c4e8a 97.5px,#3a538b 98.5px,#34618d 99.5px,#30698e 100.5px,#32648d 101.5px,#355e8d 102.5px,#33628d 103.5px,#30698e 104.5px,#297a8e 105.5px 106.5px,#31698d 107.5px,#2a788e 108.5px,#2c748e 109.5px,#2a798e 110.5px,#2b758e 111.5px,#2a788e 112.5px,#26858d 113.5px,#28a383 114.5px,#51c269 115.5px,#68cc5b 116.5px,#6ece58 117.5px,#56c666 118.5px,#67ca5c 119.5px,#acdb32 120.5px,#cce120 121.5px,#b0dc31 122.5px,#a1da39 123.5px,#b9de2a 124.5px,#9cd93c 125.5px,#bdde2a 126.5px,#ece51f 127.5px,#ebe520 128.5px,#b7dd2e 129.5px,#80d24d 130.5px,#85d44a 131.5px,#abdb32 132.5px,#bcdf27 133.5px,#cee120 134.5px,#cbdf26 135.5px,#77ce54 136.5px,#63c95f 137.5px,#37b478 138.5px,#45bd70 139.5px,#2aa582 140.5px,#298d89 141.5px,#3bb377 142.5px,#59c764 143.5px,#4ec36b 144.5px)"></div><div style="top:51px;height:1px;background:linear-gradient(90deg,#482677 0.5px 64.5px,#482777 65.5px,#462e7a 66.5px,#395489 67.5px,#2c748c 68.5px,#3f4685 69.5px,#453580 70.5px,#46337f 71.5px,#463480 72.5px,#443882 73.5px,#414286 74.5px,#3b518a 75.5px,#355e8c 76.5px 77.5px,#3a528a 78.5px,#404487 79.5px,#443b84 80.5px,#453882 81.5px,#443982 82.5px,#404587 83.5px,#32648c 84.5px,#306a8d 85.5px,#38578b 86.5px,#3e4a89 87.5px,#3f4989 88.5px,#3d4e8a 89.5px,#3b518b 90.5px,#3d4d8a 91.5px,#3e4b89 92.5px,#3c4e8a 93.5px,#37598c 94.5px,#3c508a 95.5px 96.5px,#3c4f8a 97.5px,#3c4e8a 98.5px,#38588c 99.5px,#34618d 100.5px,#355d8d 101.5px,#39568c 102.5px,#365c8d 103.5px,#34608d 104.5px,#30698e 105.5px,#2b768e 106.5px,#31668d 107.5px,#2c738e 108.5px,#2a778e 109.5px,#2b768e 110.5px,#2a778e 111.5px,#297a8e 112.5px,#22908b 113.5px,#24a286 114.5px,#3ab876 115.5px,#48c06e 116.5px,#5fc961 117.5px,#53c568 118.5px,#4fc169 119.5px,#a0d838 120.5px,#c3df25 121.5px,#d3e122 122.5px,#aedc32 123.5px,#cae022 124.5px,#b0dc2f 125.5px,#b4dd2f 126.5px,#e7e420 127.5px,#ede51f 128.5px,#c2df28 129.5px,#80d24d 130.5px,#6bcd5a 131.5px,#8cd546 132.5px,#b2dd2d 133.5px,#c6e023 134.5px,#dee31f 135.5px,#b7dc2f 136.5px,#76ce53 137.5px,#36b478 138.5px,#42bc72 139.5px,#2eaa7f 140.5px,#2a878a 141.5px,#2fa97f 142.5px,#49c06e 143.5px,#3dbb74 144.5px)"></div><div style="top:52px;height:1px;background:linear-gradient(90deg,#482677 0.5px 64.5px,#482777 65.5px,#472b79 66.5px,#3c4c87 67.5px,#2c758c 68.5px,#3d4b87 69.5px,#453480 70.5px,#46327f 71.5px,#46337f 72.5px,#443a83 73.5px,#3f4888 74.5px,#355f8c 75.5px,#2d708e 76.5px 77.5px,#355f8c 78.5px,#3e4988 79.5px,#433c84 80.5px,#453681 81.5px 82.5px,#433d84 83.5px,#3e4988 84.5px,#39558b 85.5px,#34618c 86.5px,#3a538b 87.5px,#3f4788 88.5px,#3f4989 89.5px,#3d4c8a 90.5px,#3f4888 91.5px,#404588 92.5px,#414185 93.5px,#3a528a 94.5px,#3b508a 95.5px,#3f4788 96.5px,#3e4a89 97.5px,#3f4888 98.5px 99.5px,#3b508a 100.5px,#3a538b 101.5px,#3c4e8a 102.5px,#37598c 103.5px,#34608d 104.5px 105.5px,#2d718e 106.5px,#306a8e 107.5px,#2f6b8e 108.5px,#2a788e 109.5px,#2e6e8e 110.5px,#2c728e 111.5px,#2b758e 112.5px,#22948a 113.5px,#26a983 114.5px,#2baf7f 115.5px,#37b778 116.5px,#4dc26b 117.5px,#5fc861 118.5px,#4dbf6b 119.5px,#99d63d 120.5px,#b6dd2e 121.5px,#dce322 122.5px,#bbde2b 123.5px,#c0df25 124.5px,#bbde28 125.5px,#a9db34 126.5px,#d4e221 127.5px,#ece51d 128.5px,#d3e121 129.5px,#9ad83e 130.5px,#75cf54 131.5px,#7bd150 132.5px,#a1da38 133.5px,#bfdf26 134.5px,#d5e21e 135.5px,#dae225 136.5px,#85d14c 137.5px,#36b478 138.5px,#30b27c 139.5px,#2fad7e 140.5px,#268f8a 141.5px,#269f86 142.5px,#3eba74 143.5px,#40bd72 144.5px)"></div><div style="top:53px;height:1px;background:linear-gradient(90deg,#482677 0.5px 65.5px,#472a79 66.5px,#3f4584 67.5px,#2c748c 68.5px,#3b5189 69.5px,#45357f 70.5px,#46317e 71.5px 72.5px,#453580 73.5px,#433d84 74.5px,#3e4a88 75.5px,#3a548a 76.5px 77.5px,#3e4a88 78.5px,#433d84 79.5px,#453681 80.5px,#46337f 81.5px 82.5px,#443982 83.5px,#424086 84.5px,#404487 85.5px,#3b518a 86.5px,#34608c 87.5px,#3b518a 88.5px,#3f4788 89.5px 90.5px,#404688 91.5px,#424186 92.5px,#433e85 93.5px,#3f4687 94.5px,#3b518a 95.5px,#414386 96.5px,#433d84 97.5px,#424086 98.5px,#443b83 99.5px,#443982 100.5px,#414286 101.5px,#3f4888 102.5px,#375a8c 103.5px,#31688e 104.5px,#33628d 105.5px,#2e6f8e 106.5px,#2d718e 107.5px,#32658d 108.5px,#2d728e 109.5px,#32658d 110.5px,#33638d 111.5px,#2f6d8e 112.5px,#278e8a 113.5px,#30af7d 114.5px,#2aaf7f 115.5px,#2fb27c 116.5px,#47bf6f 117.5px,#65cb5d 118.5px,#61c95f 119.5px,#95d73f 120.5px,#addc31 121.5px,#cde121 122.5px,#c1df26 123.5px,#a1da38 124.5px,#b1dd2e 125.5px,#9cd93c 126.5px,#bdde2a 127.5px,#e9e41f 128.5px,#eae51e 129.5px,#c9e025 130.5px,#a1d939 131.5px,#8ad547 132.5px,#91d742 133.5px,#b0dc2f 134.5px,#c1df27 135.5px,#dbe224 136.5px,#96d342 137.5px,#33ac7b 138.5px,#25a385 139.5px,#35b37a 140.5px,#259f86 141.5px,#269987 142.5px,#45bb71 143.5px,#5cc863 144.5px)"></div><div style="top:54px;height:1px;background:linear-gradient(90deg,#482677 0.5px 65.5px,#472978 66.5px,#413e81 67.5px,#2d718c 68.5px,#37598a 69.5px,#443680 70.5px,#472f7d 71.5px,#47307d 72.5px,#46317e 73.5px,#46327f 74.5px,#453580 75.5px,#443881 76.5px 77.5px,#453580 78.5px,#46337f 79.5px,#443882 80.5px,#433c83 81.5px,#46337f 82.5px,#453781 83.5px,#433e85 84.5px,#423f85 85.5px,#414286 86.5px,#3b508a 87.5px,#355f8c 88.5px,#3b528a 89.5px,#3f4888 90.5px,#404487 91.5px,#433d84 92.5px 93.5px,#433b83 94.5px,#3e4988 95.5px,#3f4888 96.5px,#433b83 97.5px,#433d84 98.5px,#433c84 99.5px,#45337f 100.5px,#453680 101.5px,#404587 102.5px,#34618d 103.5px,#2d708e 104.5px,#33648d 105.5px,#31678d 106.5px,#2c728e 107.5px,#34628d 108.5px,#30698e 109.5px,#32658d 110.5px,#375a8c 111.5px,#306a8d 112.5px,#278c8a 113.5px,#31b07c 114.5px,#33b57a 115.5px,#2aae7f 116.5px,#3ab976 117.5px,#52c468 118.5px,#69cc5b 119.5px,#8bd546 120.5px,#9bd93c 121.5px,#b1dd2f 122.5px,#cce024 123.5px,#97d740 124.5px,#acdc31 125.5px,#a4da37 126.5px,#abdc33 127.5px,#d8e21f 128.5px,#ece51d 129.5px,#e5e41c 130.5px,#c6e024 131.5px,#a0da39 132.5px,#85d44a 133.5px,#95d740 134.5px,#aedc30 135.5px,#c7e024 136.5px,#b0d732 137.5px,#37a57b 138.5px,#249c87 139.5px,#39b677 140.5px,#2dac7f 141.5px,#2a9388 142.5px,#44b872 143.5px,#67cb5c 144.5px)"></div><div style="top:55px;height:1px;background:linear-gradient(90deg,#482677 0.5px 65.5px,#482878 66.5px,#43387f 67.5px,#2f6c8c 68.5px,#34618b 69.5px,#433880 70.5px,#472f7d 71.5px 74.5px,#47307d 75.5px 78.5px,#46317e 79.5px,#433c82 80.5px,#385589 81.5px,#423d82 82.5px,#453882 83.5px,#433d84 84.5px,#433e85 85.5px 86.5px,#414286 87.5px,#3b508a 88.5px,#34608c 89.5px,#3a548b 90.5px,#404687 91.5px,#443b83 92.5px,#453882 93.5px,#453681 94.5px,#443881 95.5px,#3e4888 96.5px,#3e4988 97.5px,#404687 98.5px,#3f4788 99.5px,#414185 100.5px,#443982 101.5px,#414386 102.5px,#33638c 103.5px,#2a798e 104.5px,#33638d 105.5px,#37598c 106.5px,#306a8e 107.5px,#34608d 108.5px,#355f8d 109.5px,#30698e 110.5px,#34608d 111.5px,#2f6e8d 112.5px,#239489 113.5px,#2daf7e 114.5px,#38b877 115.5px,#2cb07e 116.5px,#28ac81 117.5px,#34b579 118.5px,#4cc06b 119.5px,#7bd150 120.5px,#7cd150 121.5px,#9ed93c 122.5px,#d5e124 123.5px,#afdc32 124.5px,#b3dd2d 125.5px,#c2df25 126.5px,#addc31 127.5px,#bedf28 128.5px,#d7e21d 129.5px,#dde31a 130.5px,#cde11f 131.5px,#a8db34 132.5px,#7dd24f 133.5px,#79d151 134.5px,#a0da39 135.5px,#b5dd2e 136.5px,#c7da2f 137.5px,#3ca979 138.5px,#22a186 139.5px,#32b37b 140.5px,#34b17b 141.5px,#289189 142.5px,#2fa97f 143.5px,#4dc16c 144.5px)"></div><div style="top:56px;height:1px;background:linear-gradient(90deg,#482677 0.5px 65.5px,#482777 66.5px,#44347d 67.5px,#32648b 68.5px,#30688c 69.5px,#423b81 70.5px,#472f7d 71.5px,#472e7c 72.5px 74.5px,#472f7d 75.5px 79.5px,#45347f 80.5px,#3e4887 81.5px,#3a5189 82.5px,#423e84 83.5px,#433c84 84.5px,#433d84 85.5px,#433e85 86.5px,#423f85 87.5px,#414286 88.5px,#3c4f89 89.5px,#34608c 90.5px,#3b528a 91.5px,#424185 92.5px,#453781 93.5px,#443882 94.5px,#453580 95.5px,#423d84 96.5px,#3c4f8a 97.5px,#3a538b 98.5px,#3c4e8a 99.5px,#3b518a 100.5px,#3d4c88 101.5px,#423e84 102.5px,#38588b 103.5px,#2b758e 104.5px,#2f6c8d 105.5px,#39568b 106.5px,#32658d 107.5px,#32648d 108.5px,#39578b 109.5px,#32668d 110.5px,#31688e 111.5px,#2e6f8d 112.5px,#23948a 113.5px,#27ab81 114.5px,#2eb17d 115.5px,#32b47b 116.5px,#24a584 117.5px,#24a883 118.5px,#36b478 119.5px,#72cd55 120.5px,#68cb5c 121.5px,#9bd83d 122.5px,#cfe120 123.5px,#cae022 124.5px,#abdb33 125.5px,#cce023 126.5px,#b3dd2d 127.5px,#a2da38 128.5px,#b4dd2d 129.5px,#cae020 130.5px,#d1e11d 131.5px,#bcde2a 132.5px,#8ad447 133.5px,#6fce58 134.5px,#90d643 135.5px,#a9db35 136.5px,#c0db30 137.5px,#43b473 138.5px,#22a585 139.5px,#27a882 140.5px,#37b379 141.5px,#269888 142.5px,#269689 143.5px,#35b37a 144.5px)"></div><div style="top:57px;height:1px;background:linear-gradient(90deg,#482677 0.5px 65.5px,#482777 66.5px,#45307b 67.5px,#365b8a 68.5px,#2e6f8c 69.5px,#413f82 70.5px,#472f7c 71.5px,#472e7c 72.5px 79.5px,#472f7d 80.5px,#443780 81.5px,#3b5089 82.5px,#3d4c89 83.5px,#423f85 84.5px,#433c84 85.5px 86.5px,#433d84 87.5px,#433e85 88.5px,#423f85 89.5px,#3b5089 90.5px,#34608c 91.5px,#3a528a 92.5px,#414185 93.5px,#433e85 94.5px,#423e85 95.5px,#443982 96.5px,#404486 97.5px,#39548b 98.5px,#3b518b 99.5px,#3b518a 100.5px,#32648b 101.5px,#3f4484 102.5px,#3c4e89 103.5px,#306a8d 104.5px,#2a798e 105.5px,#33648d 106.5px,#31688e 107.5px,#2e6e8e 108.5px,#39578b 109.5px,#38588c 110.5px,#33638d 111.5px,#2f6b8d 112.5px,#248c8c 113.5px,#23a485 114.5px,#23a385 115.5px,#2eb07d 116.5px,#2bae7f 117.5px,#22a386 118.5px,#34b17a 119.5px,#72cd55 120.5px,#66cb5d 121.5px,#94d740 122.5px,#c1df26 123.5px,#cee022 124.5px,#93d643 125.5px,#acdb32 126.5px,#aedc30 127.5px,#8ed644 128.5px,#97d83f 129.5px,#c0df27 130.5px,#e2e41c 131.5px,#e1e31f 132.5px,#b4dc30 133.5px,#79d052 134.5px,#7ad151 135.5px,#92d742 136.5px,#92d543 137.5px,#45ba70 138.5px,#239d87 139.5px,#269988 140.5px,#3bb577 141.5px,#29a483 142.5px,#288b8a 143.5px,#2eac7f 144.5px)"></div><div style="top:58px;height:1px;background:linear-gradient(90deg,#482677 0.5px 65.5px,#482777 66.5px,#462d7a 67.5px,#3a5289 68.5px,#2c738c 69.5px,#3f4484 70.5px,#472f7d 71.5px,#472e7c 72.5px 80.5px,#462f7d 81.5px,#423c81 82.5px,#37588a 83.5px,#3e4987 84.5px,#433d84 85.5px,#443b84 86.5px,#433c84 87.5px,#433d84 88.5px,#443c84 89.5px,#424186 90.5px,#3b518a 91.5px,#34618c 92.5px,#3b518a 93.5px,#424186 94.5px 95.5px,#423f85 96.5px,#443982 97.5px,#3f4687 98.5px,#3b518a 99.5px,#3e4987 100.5px,#365c8b 101.5px,#355d8b 102.5px,#3b508a 103.5px,#33638d 104.5px,#2b758e 105.5px,#2c738e 106.5px,#30698e 107.5px,#2c728e 108.5px,#365c8c 109.5px,#3d4c89 110.5px,#38588c 111.5px,#31678d 112.5px,#26858d 113.5px,#22a186 114.5px,#21a187 115.5px,#25a584 116.5px,#36b479 117.5px,#25a684 118.5px,#2eab7e 119.5px,#67c95c 120.5px,#69cd5b 121.5px,#7bd050 122.5px,#b4dd2c 123.5px,#c6df23 124.5px,#90d644 125.5px,#86d449 126.5px,#a8db34 127.5px,#90d643 128.5px,#87d449 129.5px,#afdc31 130.5px,#e1e31f 131.5px,#efe51d 132.5px,#d8e223 133.5px,#8bd448 134.5px,#61c960 135.5px,#78d052 136.5px,#66cb5d 137.5px,#44ba71 138.5px,#269689 139.5px,#269489 140.5px,#3ab577 141.5px,#37b279 142.5px,#289288 143.5px,#25a484 144.5px)"></div><div style="top:59px;height:1px;background:linear-gradient(90deg,#482677 0.5px 65.5px,#482777 66.5px,#472b79 67.5px,#3d4a86 68.5px,#2c758c 69.5px,#3d4b87 70.5px,#462f7c 71.5px,#472d7b 72.5px 75.5px,#472e7c 76.5px 81.5px,#46317e 82.5px,#404485 83.5px,#375a8a 84.5px,#404486 85.5px,#433c84 86.5px,#433d84 87.5px,#433e85 88.5px,#433d85 89.5px,#433d84 90.5px,#404487 91.5px,#3c4f8a 92.5px,#3c4e8a 93.5px,#424085 94.5px,#443882 95.5px,#433d84 96.5px,#414286 97.5px,#3e4a88 98.5px,#3d4d89 99.5px,#3a528a 100.5px,#3c4f88 101.5px,#306a8d 102.5px,#355e8c 103.5px,#34608d 104.5px,#31688d 105.5px,#2a788e 106.5px,#32658d 107.5px,#30698e 108.5px,#355f8c 109.5px,#3f4787 110.5px,#3b528a 111.5px,#2f6b8d 112.5px,#25868d 113.5px,#229f87 114.5px,#28ab81 115.5px,#23a485 116.5px,#29ac80 117.5px,#26a982 118.5px,#289c86 119.5px,#48bb6f 120.5px,#5bc763 121.5px,#5ec761 122.5px,#abda32 123.5px,#c2df24 124.5px,#b2dc2f 125.5px,#84d34b 126.5px,#a9db33 127.5px,#acdc31 128.5px,#8dd645 129.5px,#97d83f 130.5px,#c2df28 131.5px,#e4e41f 132.5px,#dfe321 133.5px,#95d542 134.5px,#49be6d 135.5px,#5bc763 136.5px,#5cc863 137.5px,#4cbe6d 138.5px,#279b87 139.5px,#239e87 140.5px,#38b678 141.5px,#4dbf6c 142.5px,#2ba582 143.5px,#21978a 144.5px)"></div><div style="top:60px;height:1px;background:linear-gradient(90deg,#482677 0.5px 66.5px,#472978 67.5px,#404283 68.5px,#2c748c 69.5px,#3a5289 70.5px,#46317d 71.5px,#472c7b 72.5px,#472d7b 73.5px 74.5px,#472d7c 75.5px,#472f7d 76.5px,#46317e 77.5px,#46327e 78.5px 79.5px,#46317e 80.5px,#472f7d 81.5px 82.5px,#443781 83.5px,#3c4d88 84.5px,#39558a 85.5px,#414185 86.5px,#433d84 87.5px,#433f85 88.5px 89.5px,#443b84 90.5px,#433e85 91.5px,#414387 92.5px,#404587 93.5px,#414286 94.5px,#453680 95.5px,#443780 96.5px,#3b5089 97.5px,#306b8c 98.5px,#3b4f88 99.5px,#39548b 100.5px 101.5px,#375b8b 102.5px,#2e6f8d 103.5px,#355f8d 104.5px,#34608d 105.5px,#2f6c8e 106.5px,#2e6e8e 107.5px,#365d8c 108.5px,#34608d 109.5px,#3c4e8a 110.5px,#3c508a 111.5px,#2d718d 112.5px,#228e8c 113.5px,#219b89 114.5px,#28aa82 115.5px,#27aa82 116.5px,#239e87 117.5px,#26a584 118.5px,#25928a 119.5px,#2dab7f 120.5px,#45be70 121.5px,#54c466 122.5px,#9dd83a 123.5px,#c4e024 124.5px,#d2e122 125.5px,#9ad83e 126.5px,#99d83e 127.5px,#b9de2a 128.5px,#a1da38 129.5px,#8ad547 130.5px,#9cd93c 131.5px,#bcde2a 132.5px,#cfe120 133.5px,#a7d835 134.5px,#44ba70 135.5px,#3cb875 136.5px,#60c960 137.5px,#59c465 138.5px,#29a582 139.5px,#24a684 140.5px,#33b27a 141.5px,#5fc761 142.5px,#3fb575 143.5px,#278e8a 144.5px)"></div><div style="top:61px;height:1px;background:linear-gradient(90deg,#482677 0.5px 66.5px,#482878 67.5px,#423c80 68.5px,#2d708c 69.5px,#365a8a 70.5px,#45327d 71.5px,#472c7b 72.5px 73.5px,#472d7b 74.5px,#46307d 75.5px,#453781 76.5px,#414185 77.5px,#3e4a87 78.5px,#3e4a88 79.5px,#414285 80.5px,#443781 81.5px,#46327e 82.5px,#46337f 83.5px,#423d83 84.5px,#39548a 85.5px,#3c4e89 86.5px,#423f85 87.5px,#433e85 88.5px 89.5px,#443982 90.5px,#443983 91.5px,#424086 92.5px,#404487 93.5px,#3f4889 94.5px,#414386 95.5px,#433c83 96.5px,#3e4887 97.5px,#31668d 98.5px,#32658c 99.5px,#3e4987 100.5px,#3a538a 101.5px,#3d4b88 102.5px,#32648c 103.5px,#31688d 104.5px,#355e8d 105.5px,#32648d 106.5px,#2b758e 107.5px,#35608c 108.5px,#34618d 109.5px,#365c8c 110.5px,#3a538b 111.5px,#2f6c8d 112.5px,#228d8c 113.5px,#20938c 114.5px,#229a89 115.5px,#27a882 116.5px,#22978a 117.5px,#219c88 118.5px,#21988a 119.5px,#24a285 120.5px,#40bb73 121.5px,#67cb5c 122.5px,#8dd545 123.5px,#c6df23 124.5px,#d4e21d 125.5px,#acdb32 126.5px,#73ce54 127.5px,#90d543 128.5px,#a6db35 129.5px,#92d742 130.5px 131.5px,#abdc32 132.5px,#c3df24 133.5px,#c3de27 134.5px,#5fc361 135.5px,#2faa7e 136.5px,#4bbe6d 137.5px,#57c565 138.5px,#30ae7d 139.5px,#229c88 140.5px,#2aa283 141.5px,#5ac465 142.5px,#4dbe6d 143.5px,#299986 144.5px)"></div><div style="top:62px;height:1px;background:linear-gradient(90deg,#482677 0.5px 66.5px,#482877 67.5px,#43377e 68.5px,#30688b 69.5px,#345f8b 70.5px,#44347d 71.5px,#472c7a 72.5px,#472c7b 73.5px,#472d7c 74.5px,#46347f 75.5px,#404386 76.5px,#375a8b 77.5px,#2f6c8d 78.5px 79.5px,#365b8b 80.5px,#404486 81.5px,#453580 82.5px,#46327f 83.5px,#453681 84.5px,#414285 85.5px,#37588a 86.5px,#404587 87.5px,#433d85 88.5px,#433d84 89.5px,#433b83 90.5px,#443982 91.5px,#423f85 92.5px,#3f4788 93.5px,#3d4d8a 94.5px,#3c4f8a 95.5px,#3e4989 96.5px,#404587 97.5px,#3a528a 98.5px,#306a8c 99.5px,#3b5289 100.5px,#3e4988 101.5px,#3e4a89 102.5px,#3c4e88 103.5px,#2f6d8d 104.5px,#33648d 105.5px,#32648d 106.5px,#2d708e 107.5px,#2c728e 108.5px,#355f8d 109.5px,#33638d 110.5px,#365b8c 111.5px,#32668d 112.5px,#26838d 113.5px,#228b8d 114.5px,#248c8c 115.5px,#229f87 116.5px,#21988a 117.5px,#23908b 118.5px,#23a186 119.5px,#239f87 120.5px,#3eb774 121.5px,#7cd04f 122.5px,#80d24d 123.5px,#b0dc2f 124.5px,#cbe020 125.5px,#c0de28 126.5px,#6cca59 127.5px,#57c465 128.5px,#8ad446 129.5px,#a0da39 130.5px,#9ed93a 131.5px,#b6dd2b 132.5px,#c7e021 133.5px,#c6df24 134.5px,#80ce4d 135.5px,#2ea77f 136.5px,#2cad7f 137.5px,#3db874 138.5px,#46b970 139.5px,#299288 140.5px,#27908a 141.5px,#3fb575 142.5px,#51c269 143.5px,#34b17a 144.5px)"></div><div style="top:63px;height:1px;background:linear-gradient(90deg,#482677 0.5px 66.5px,#482777 67.5px,#45307b 68.5px,#395288 69.5px,#3a5188 70.5px,#45317c 71.5px,#472b7a 72.5px 73.5px,#472d7b 74.5px,#46327e 75.5px,#423f84 76.5px,#3a528a 77.5px,#34618c 78.5px 79.5px,#3a528a 80.5px,#424085 81.5px,#463480 82.5px,#46317e 83.5px,#46337f 84.5px,#453781 85.5px,#414285 86.5px,#424085 87.5px,#433e85 88.5px,#414286 89.5px,#3a528a 90.5px,#3d4d88 91.5px,#414186 92.5px,#3f4788 93.5px,#3e4b89 94.5px,#3d4e8a 95.5px,#3d4c8a 96.5px,#404587 97.5px,#414185 98.5px,#3a5389 99.5px,#306a8b 100.5px,#3c4e87 101.5px,#38578b 102.5px,#3d4c89 103.5px,#365d8c 104.5px,#2d718e 105.5px,#31668e 106.5px,#31688e 107.5px,#2d708e 108.5px,#355f8c 109.5px,#365d8c 110.5px,#34618d 111.5px,#31688e 112.5px,#287c8e 113.5px,#238a8d 114.5px,#238b8d 115.5px,#209a89 116.5px,#24a086 117.5px,#26888c 118.5px,#239b88 119.5px,#209b89 120.5px,#30a87e 121.5px,#76cc53 122.5px,#82d34c 123.5px,#7cd04f 124.5px,#b5dc2e 125.5px,#dae222 126.5px,#a6d839 127.5px,#59c364 128.5px,#66ca5c 129.5px,#9dd93a 130.5px,#a5db36 131.5px,#b2dd2e 132.5px,#cbe020 133.5px,#afdc30 134.5px,#6dc958 135.5px,#2ba781 136.5px,#21a486 137.5px,#2ea680 138.5px,#60c161 139.5px,#2e9d82 140.5px,#248e8c 141.5px,#2ca183 142.5px,#54c268 143.5px,#4ec36b 144.5px)"></div><div style="top:64px;height:1px;background:linear-gradient(90deg,#482677 0.5px 66.5px,#482777 67.5px,#472878 68.5px,#452f7b 69.5px,#45307c 70.5px,#472a79 71.5px 72.5px,#472b7a 73.5px 74.5px,#472d7b 75.5px,#46317e 76.5px,#443781 77.5px,#423c82 78.5px,#423d83 79.5px,#443881 80.5px,#46327f 81.5px,#472f7d 82.5px 83.5px,#46327e 84.5px,#463480 85.5px,#453782 86.5px,#443983 87.5px,#433d84 88.5px,#414387 89.5px,#39568b 90.5px,#306a8c 91.5px,#3d4c88 92.5px,#404487 93.5px,#3f4888 94.5px,#3f4889 95.5px 96.5px,#404688 97.5px,#433e85 98.5px,#423f84 99.5px,#355e8b 100.5px,#30698d 101.5px,#33638d 102.5px,#375b8c 103.5px,#3a538a 104.5px,#31668d 105.5px,#2f6d8e 106.5px,#34608d 107.5px,#355f8d 108.5px,#2f6d8d 109.5px,#39548a 110.5px,#32648d 111.5px,#2b748e 112.5px,#277e8e 113.5px,#24888d 114.5px,#228e8d 115.5px,#22948a 116.5px,#28a483 117.5px,#258e8b 118.5px,#25898c 119.5px,#21948b 120.5px,#279887 121.5px,#55be67 122.5px,#9dd63a 123.5px,#66c95c 124.5px,#80d14e 125.5px,#c3de2a 126.5px,#dae224 127.5px,#a6d83a 128.5px,#6ccb59 129.5px,#82d34b 130.5px,#96d83f 131.5px,#95d740 132.5px,#bcde28 133.5px,#adda32 134.5px,#4cbb6c 135.5px,#259d86 136.5px,#24a485 137.5px,#2b9d84 138.5px,#58c066 139.5px,#36b279 140.5px,#249b88 141.5px,#299188 142.5px,#47b971 143.5px,#55c667 144.5px)"></div><div style="top:65px;height:1px;background:linear-gradient(90deg,#482677 0.5px 67.5px,#482777 68.5px 71.5px,#482a79 72.5px,#472a7a 73.5px 74.5px,#472b7a 75.5px,#472c7b 76.5px,#472d7b 77.5px,#472d7c 78.5px,#472e7c 79.5px 80.5px,#472d7c 81.5px 82.5px,#472e7c 83.5px,#46317e 84.5px,#46337f 85.5px,#453681 86.5px,#453882 87.5px,#443b84 88.5px,#424086 89.5px,#3f4888 90.5px,#33628c 91.5px 92.5px,#3e4987 93.5px,#3c4f8a 94.5px,#3d4c89 95.5px,#3d4c8a 96.5px 97.5px,#3f4888 98.5px,#423f85 99.5px,#3e4887 100.5px,#306a8d 101.5px,#31688d 102.5px,#33638d 103.5px,#3f4887 104.5px,#3c4f89 105.5px,#2e6e8d 106.5px,#32668d 107.5px,#375b8c 108.5px,#33648d 109.5px,#355f8c 110.5px,#32658d 111.5px,#26828d 112.5px,#24878d 113.5px,#26828e 114.5px,#23898d 115.5px,#25878d 116.5px,#23938a 117.5px,#239a88 118.5px,#27838c 119.5px,#25868d 120.5px,#269289 121.5px,#49b86e 122.5px,#a6d834 123.5px,#91d542 124.5px,#6bcc59 125.5px,#7ed04f 126.5px,#c2dd2b 127.5px,#d8e225 128.5px,#a5d93b 129.5px,#75cf54 130.5px,#78d152 131.5px,#78d052 132.5px,#a4da38 133.5px,#c4dd2c 134.5px,#55ba69 135.5px,#2b8f88 136.5px,#26a584 137.5px,#26a384 138.5px,#38b578 139.5px,#37b778 140.5px,#2ba981 141.5px,#278c8a 142.5px,#2ba382 143.5px,#42bb72 144.5px)"></div><div style="top:66px;height:1px;background:linear-gradient(90deg,#482677 0.5px 70.5px,#482777 71.5px,#482979 72.5px,#472a79 73.5px 74.5px,#472a7a 75.5px 76.5px,#472b7a 77.5px,#472c7b 78.5px,#472d7b 79.5px 81.5px,#472d7c 82.5px,#472e7c 83.5px,#46317e 84.5px,#46337f 85.5px,#453681 86.5px,#443882 87.5px,#443a83 88.5px,#433d85 89.5px,#423f85 90.5px,#3d4b88 91.5px,#306a8c 92.5px,#34618c 93.5px,#2d728d 94.5px,#34628c 95.5px,#39578c 96.5px,#39558c 97.5px,#3b518b 98.5px,#3f4788 99.5px,#423e84 100.5px,#39548a 101.5px,#2d718d 102.5px,#31678d 103.5px,#3e4887 104.5px,#414286 105.5px,#39568a 106.5px,#2d718d 107.5px,#32648d 108.5px,#355e8c 109.5px,#2d718d 110.5px,#32658c 111.5px,#25868c 112.5px,#21938b 113.5px,#27808e 114.5px,#26828e 115.5px,#27808e 116.5px,#2a798d 117.5px,#22928a 118.5px,#229789 119.5px,#288c8a 120.5px,#308788 121.5px,#5ebe63 122.5px,#a7da34 123.5px,#b2dd2d 124.5px,#89d447 125.5px,#64ca5e 126.5px,#69c85b 127.5px,#b7da30 128.5px,#d5e128 129.5px,#91d546 130.5px,#66cb5d 131.5px,#62ca5f 132.5px,#87d34b 133.5px,#d0e02b 134.5px,#83c84f 135.5px,#348c84 136.5px,#269d86 137.5px,#31b17c 138.5px,#28ab81 139.5px,#25a883 140.5px,#26a683 141.5px,#23958a 142.5px,#258f8b 143.5px,#29a981 144.5px)"></div><div style="top:67px;height:1px;background:linear-gradient(90deg,#482677 0.5px 70.5px,#482777 71.5px,#482978 72.5px,#482979 73.5px,#472a79 74.5px,#472a7a 75.5px 76.5px,#472b7a 77.5px,#472c7b 78.5px,#472e7c 79.5px 81.5px,#472f7d 82.5px,#46307e 83.5px,#46327f 84.5px,#463480 85.5px,#453781 86.5px,#443982 87.5px 88.5px,#433c84 89.5px,#423f85 90.5px,#414386 91.5px,#39568a 92.5px,#2b778d 93.5px,#24878d 94.5px,#297a8d 95.5px,#355f8c 96.5px,#39568c 97.5px,#3c4f8a 98.5px,#3f4888 99.5px,#433e85 100.5px,#404386 101.5px,#365d8c 102.5px,#2d718e 103.5px,#355e8b 104.5px,#404386 105.5px,#3e4b88 106.5px,#31678d 107.5px,#2d708e 108.5px,#32658d 109.5px,#306a8e 110.5px,#2e6d8e 111.5px,#2b798d 112.5px,#23958a 113.5px,#25868d 114.5px,#26828e 115.5px,#238b8c 116.5px,#297b8d 117.5px,#27808d 118.5px,#259988 119.5px,#35a97d 120.5px,#2e8b87 121.5px,#43ad73 122.5px,#aad733 123.5px,#b3dd2d 124.5px,#8ed644 125.5px,#72cf55 126.5px,#4ec16b 127.5px,#67c75d 128.5px,#ccde2b 129.5px,#c8df29 130.5px,#75ce55 131.5px,#55c567 132.5px,#64c85e 133.5px,#c0dd2b 134.5px,#a8d335 135.5px,#39947f 136.5px,#2d8988 137.5px,#44b672 138.5px,#32b27b 139.5px,#249f86 140.5px,#24928a 141.5px,#25a185 142.5px,#239789 143.5px,#23a485 144.5px)"></div><div style="top:68px;height:1px;background:linear-gradient(90deg,#482677 0.5px 70.5px,#482777 71.5px,#482978 72.5px,#482979 73.5px,#482a79 74.5px,#472a79 75.5px,#472a7a 76.5px,#472b7a 77.5px,#472d7b 78.5px,#472f7d 79.5px,#46307e 80.5px 81.5px,#46317e 82.5px,#46327e 83.5px,#46337f 84.5px,#453581 85.5px,#453882 86.5px,#443982 87.5px,#443983 88.5px,#433c84 89.5px,#424186 90.5px,#414487 91.5px,#3e4b89 92.5px,#31698c 93.5px,#24868d 94.5px,#297a8e 95.5px,#2f6b8e 96.5px,#39558b 97.5px,#3f4888 98.5px,#414286 99.5px 100.5px,#423f85 101.5px,#3b508a 102.5px,#2f6c8d 103.5px,#2c748d 104.5px,#39558a 105.5px,#3d4d8a 106.5px,#3a548a 107.5px,#2d708d 108.5px,#30698e 109.5px 110.5px,#2b768e 111.5px,#306b8d 112.5px,#26848d 113.5px,#24898d 114.5px,#25858d 115.5px,#219989 116.5px,#22938b 117.5px,#25868d 118.5px,#278c8b 119.5px,#30aa7e 120.5px,#2fa87f 121.5px,#319e81 122.5px,#70c657 123.5px,#acda32 124.5px,#8bd546 125.5px,#6fce58 126.5px,#62c95f 127.5px,#4dc06b 128.5px,#92d346 129.5px,#d8e126 130.5px,#a5d93b 131.5px,#5bc664 132.5px,#47be6f 133.5px,#85d14a 134.5px,#a2d537 135.5px,#3ea478 136.5px,#317789 137.5px,#36a77c 138.5px,#49be6e 139.5px,#3aad78 140.5px,#2c828a 141.5px,#249888 142.5px,#24a584 143.5px,#2db17d 144.5px)"></div><div style="top:69px;height:1px;background:linear-gradient(90deg,#482677 0.5px 70.5px,#482777 71.5px,#482978 72.5px,#482979 73.5px 74.5px,#472a79 75.5px,#472a7a 76.5px,#472b7a 77.5px,#472e7c 78.5px,#46317e 79.5px,#46327e 80.5px 81.5px,#46327f 82.5px,#46337f 83.5px,#463480 84.5px,#453681 85.5px,#453882 86.5px,#443983 87.5px,#443b83 88.5px 89.5px,#424186 90.5px,#404588 91.5px,#3f4788 92.5px,#39558a 93.5px,#27808d 94.5px,#287d8e 95.5px,#31688d 96.5px,#34618d 97.5px,#3d4d89 98.5px,#414386 99.5px,#404688 100.5px,#404487 101.5px,#3e4989 102.5px,#3a5489 103.5px,#2b778d 104.5px,#2f6c8d 105.5px,#3b518a 106.5px,#3e4988 107.5px,#365c8b 108.5px,#2d728e 109.5px,#31688d 110.5px,#2c738e 111.5px,#297b8e 112.5px,#2a798e 113.5px,#277e8e 114.5px,#287d8d 115.5px,#229889 116.5px,#23a485 117.5px,#21948b 118.5px,#22908c 119.5px,#289787 120.5px,#3cb576 121.5px,#33b07b 122.5px,#3db474 123.5px,#88d148 124.5px,#a2d938 125.5px,#6ccc59 126.5px,#65cb5e 127.5px,#57c666 128.5px,#60c562 129.5px,#c7dd2f 130.5px,#d4e02a 131.5px,#73cc58 132.5px,#3fbb73 133.5px,#4dbe6b 134.5px,#89d247 135.5px,#53b86a 136.5px,#317d88 137.5px,#2c8d88 138.5px,#4ab96f 139.5px,#69c25c 140.5px,#358884 141.5px,#297e8c 142.5px,#259987 143.5px,#30af7d 144.5px)"></div><div style="top:70px;height:1px;background:linear-gradient(90deg,#482677 0.5px 70.5px,#482777 71.5px,#482978 72.5px,#482979 73.5px 74.5px,#482a79 75.5px,#472a79 76.5px,#472b7a 77.5px,#472f7d 78.5px,#46327f 79.5px,#46337f 80.5px 81.5px,#463480 82.5px 83.5px,#453681 84.5px,#453882 85.5px,#443983 86.5px,#443b83 87.5px,#433c84 88.5px,#443b83 89.5px,#433e85 90.5px,#414487 91.5px,#404588 92.5px,#3d4b88 93.5px,#2c728d 94.5px,#26838c 95.5px,#365d8a 96.5px,#31668c 97.5px,#355e8c 98.5px,#3c4e8a 99.5px,#3d4c8a 100.5px,#3d4c89 101.5px,#404587 102.5px,#3b528a 103.5px,#31688d 104.5px,#2a798e 105.5px,#365d8c 106.5px,#3e4b89 107.5px,#3e4a88 108.5px,#306a8d 109.5px,#2d718e 110.5px,#2d6f8e 111.5px,#26818e 112.5px 113.5px,#287d8e 114.5px,#2e708e 115.5px,#28868b 116.5px,#28a683 117.5px,#219b89 118.5px,#209b89 119.5px,#24918b 120.5px,#31ab7d 121.5px,#57c366 122.5px,#46bd6f 123.5px,#59c364 124.5px,#aad933 125.5px,#85d24a 126.5px,#5bc763 127.5px,#5fc961 128.5px,#4ac06d 129.5px,#71c95a 130.5px,#c6dd31 131.5px,#93d644 132.5px,#57c366 133.5px,#35b07a 134.5px,#67c85c 135.5px,#68c75c 136.5px,#2f9983 137.5px,#27868c 138.5px,#34a17f 139.5px,#6ec558 140.5px,#38a17c 141.5px,#30718c 142.5px,#297c8d 143.5px,#25928a 144.5px)"></div><div style="top:71px;height:1px;background:linear-gradient(90deg,#482677 0.5px 70.5px,#482777 71.5px,#482978 72.5px,#482979 73.5px 75.5px,#472a79 76.5px,#472b7a 77.5px,#472f7d 78.5px,#463480 79.5px,#453580 80.5px,#453581 81.5px 82.5px,#453681 83.5px,#453781 84.5px,#443982 85.5px,#443a83 86.5px,#433c84 87.5px 88.5px,#443b84 89.5px 90.5px,#414387 91.5px,#404688 92.5px,#3e4988 93.5px,#31688d 94.5px,#25858d 95.5px,#2d718c 96.5px,#395589 97.5px,#31688c 98.5px,#365c8c 99.5px,#3b518b 100.5px,#3b508a 101.5px,#404587 102.5px,#39568b 103.5px,#306b8e 104.5px,#2a788e 105.5px,#2e6f8e 106.5px,#38598c 107.5px,#3d4b89 108.5px,#38588b 109.5px,#2b758e 110.5px,#2d728e 111.5px,#297b8e 112.5px,#24878e 113.5px,#25858e 114.5px,#2d728e 115.5px,#2e758c 116.5px,#28a283 117.5px,#21a187 118.5px,#23a585 119.5px,#219989 120.5px,#299f84 121.5px,#59c265 122.5px,#6ecb58 123.5px,#45ba6f 124.5px,#7dce4e 125.5px,#a2d837 126.5px,#64c95d 127.5px,#59c765 128.5px,#58c665 129.5px,#43b971 130.5px,#80cf4f 131.5px,#a2d938 132.5px,#7fcf4d 133.5px,#37b178 134.5px,#3cb576 135.5px,#61c760 136.5px,#37b079 137.5px,#25908b 138.5px,#289289 139.5px,#44b572 140.5px,#4eb86d 141.5px,#327f88 142.5px,#2e6e8e 143.5px,#2b758e 144.5px)"></div><div style="top:72px;height:1px;background:linear-gradient(90deg,#482677 0.5px 70.5px,#482777 71.5px,#482978 72.5px,#482979 73.5px 75.5px,#482a79 76.5px,#472b7a 77.5px,#46307e 78.5px,#453681 79.5px,#453781 80.5px 82.5px,#453882 83.5px,#443983 84.5px,#433e84 85.5px,#424085 86.5px,#433d84 87.5px,#433c84 88.5px,#433d84 89.5px,#443b84 90.5px,#414286 91.5px,#3f4989 92.5px,#3d4c89 93.5px,#33628c 94.5px,#25858d 95.5px,#2b758e 96.5px,#365d8b 97.5px,#3a5489 98.5px,#31678d 99.5px,#38578b 100.5px,#3c508a 101.5px,#3f4989 102.5px,#3b508a 103.5px,#31688d 104.5px,#2d708e 105.5px,#297c8e 106.5px,#33648d 107.5px,#365c8c 108.5px,#3a538b 109.5px,#32668d 110.5px,#2a788e 111.5px,#2b758e 112.5px,#26818e 113.5px,#24878e 114.5px,#287d8e 115.5px,#2f718c 116.5px,#269f84 117.5px,#28ac81 118.5px,#2bb07f 119.5px,#27a882 120.5px,#239d87 121.5px,#3cb476 122.5px,#76cd53 123.5px,#4fc069 124.5px,#43b770 125.5px,#88d047 126.5px,#84d24a 127.5px,#59c664 128.5px,#66cb5d 129.5px,#50c269 130.5px,#47bb6e 131.5px,#8ad346 132.5px,#93d641 133.5px,#5fc261 134.5px,#30a280 135.5px,#42b972 136.5px,#3cb676 137.5px,#259589 138.5px,#21938b 139.5px,#2d9c83 140.5px,#51bb6b 141.5px,#2d9884 142.5px,#2c758d 143.5px,#2f6c8e 144.5px)"></div><div style="top:73px;height:1px;background:linear-gradient(90deg,#482677 0.5px 69.5px,#482777 70.5px 71.5px,#482978 72.5px,#482979 73.5px 76.5px,#472b7a 77.5px,#46317e 78.5px,#453781 79.5px,#453882 80.5px 82.5px,#443983 83.5px,#433d84 84.5px,#3c4e89 85.5px,#37588b 86.5px,#3e4887 87.5px,#423f85 88.5px,#433d85 89.5px,#433d84 90.5px,#423f85 91.5px,#3f4888 92.5px,#3d4d8a 93.5px,#365c8c 94.5px,#297c8c 95.5px,#31698d 96.5px,#2f6c8c 97.5px,#3c4d86 98.5px,#355d8b 99.5px,#32668d 100.5px,#3a538b 101.5px,#3e4b89 102.5px,#3d4c89 103.5px,#34618d 104.5px,#2d708e 105.5px,#287d8e 106.5px,#2a798e 107.5px,#33648d 108.5px,#34618d 109.5px,#365c8c 110.5px,#2d718e 111.5px,#2a788e 112.5px,#29798e 113.5px,#24868e 114.5px,#25868d 115.5px,#2c758d 116.5px,#259887 117.5px,#32b37b 118.5px,#35b779 119.5px,#37b678 120.5px,#25a783 121.5px,#2aab80 122.5px,#53c168 123.5px,#6cca59 124.5px,#3cb475 125.5px,#47b86e 126.5px,#8ad246 127.5px,#6fcd57 128.5px,#57c566 129.5px,#68ca5b 130.5px,#3eb973 131.5px,#59c464 132.5px,#81d24c 133.5px,#99d13d 134.5px,#37a27c 135.5px,#2cac7f 136.5px,#3bb477 137.5px,#279389 138.5px,#21988a 139.5px,#288c8a 140.5px,#36ae7b 141.5px,#30ab7e 142.5px,#29848c 143.5px,#2d708e 144.5px)"></div><div style="top:74px;height:1px;background:linear-gradient(90deg,#482677 0.5px 69.5px,#482777 70.5px 71.5px,#482878 72.5px,#482978 73.5px,#482979 74.5px 76.5px,#472b7a 77.5px,#46327e 78.5px,#443882 79.5px,#433c84 80.5px,#433d84 81.5px,#443b83 82.5px,#443a83 83.5px,#433c84 84.5px,#414286 85.5px,#39558b 86.5px,#355f8c 87.5px,#3c4e89 88.5px,#424186 89.5px,#423f85 90.5px,#433d84 91.5px,#424086 92.5px,#3f4788 93.5px,#3d4d89 94.5px,#38598b 95.5px,#3a538b 96.5px,#365c8c 97.5px,#31668b 98.5px,#3a5087 99.5px,#306a8d 100.5px,#33628d 101.5px,#3c4f8a 102.5px,#3e4b89 103.5px,#355e8d 104.5px,#306a8e 105.5px,#2c728e 106.5px,#287c8e 107.5px,#2d708e 108.5px,#2e6d8e 109.5px,#33638d 110.5px,#32658d 111.5px,#297b8e 112.5px,#297a8e 113.5px,#27808e 114.5px,#24878d 115.5px,#27808e 116.5px,#278c8a 117.5px,#32b07c 118.5px,#36b778 119.5px,#44be71 120.5px,#30b27c 121.5px,#2bb07f 122.5px,#34b37a 123.5px,#5ec662 124.5px,#64c75e 125.5px,#39b078 126.5px,#57c065 127.5px,#8cd344 128.5px,#56c365 129.5px,#50c26a 130.5px,#49bf6e 131.5px,#37b678 132.5px,#5dc561 133.5px,#9fd43a 134.5px,#41b372 135.5px,#28a982 136.5px,#3ab477 137.5px,#279489 138.5px,#219a89 139.5px,#248b8c 140.5px,#269988 141.5px,#2fad7e 142.5px,#25928a 143.5px,#297a8e 144.5px)"></div><div style="top:75px;height:1px;background:linear-gradient(90deg,#482677 0.5px 69.5px,#482777 70.5px,#482878 71.5px 72.5px,#482978 73.5px,#482979 74.5px 76.5px,#472a7a 77.5px,#46337f 78.5px,#443b84 79.5px,#3f4687 80.5px,#39558a 81.5px,#3f4786 82.5px,#433e84 83.5px,#433d84 84.5px,#433d85 85.5px,#414386 86.5px,#3b518a 87.5px,#33648c 88.5px,#3a548a 89.5px,#3f4687 90.5px,#424086 91.5px,#443b84 92.5px,#423f85 93.5px,#404587 94.5px,#3f4888 95.5px,#3f4989 96.5px,#3d4c89 97.5px,#34608c 98.5px 99.5px,#34608d 100.5px,#2e6f8e 101.5px,#365c8c 102.5px,#3b508a 103.5px,#365c8d 104.5px,#32648d 105.5px,#2d708e 106.5px,#297a8e 107.5px,#287d8e 108.5px,#2d718e 109.5px,#2d6f8e 110.5px,#355f8d 111.5px,#2d718e 112.5px,#277e8e 113.5px,#287b8e 114.5px,#24888d 115.5px,#228f8c 116.5px,#268a8b 117.5px,#2baa80 118.5px,#31b37b 119.5px,#48c06e 120.5px,#3bba75 121.5px,#38b877 122.5px,#2eb17d 123.5px,#34b07a 124.5px,#61c560 125.5px,#58c266 126.5px,#3cb276 127.5px,#74cb54 128.5px,#7ace50 129.5px,#40b872 130.5px,#4cc06c 131.5px,#30b17c 132.5px,#3fba73 133.5px,#70cc56 134.5px,#5dc462 135.5px,#2caa7f 136.5px,#34b07b 137.5px,#259589 138.5px,#20978a 139.5px,#21968a 140.5px,#248d8c 141.5px,#25a385 142.5px,#219b89 143.5px,#24888d 144.5px)"></div><div style="top:76px;height:1px;background:linear-gradient(90deg,#482677 0.5px 68.5px,#482777 69.5px 70.5px,#482878 71.5px 73.5px,#482978 74.5px,#482979 75.5px 76.5px,#472a7a 77.5px,#46337f 78.5px,#433d84 79.5px,#3e4a88 80.5px,#31698c 81.5px,#31668c 82.5px,#3c4f88 83.5px,#414286 84.5px,#433e85 85.5px,#423f85 86.5px,#3f4888 87.5px,#34628d 88.5px,#306a8d 89.5px,#365c8c 90.5px,#3d4c89 91.5px,#423f85 92.5px,#443c84 93.5px,#414286 94.5px,#404688 95.5px,#404788 96.5px,#404587 97.5px,#3e4886 98.5px,#31678c 99.5px,#34618c 100.5px,#31668d 101.5px,#2e6e8e 102.5px,#365d8c 103.5px,#355e8d 104.5px,#306a8e 105.5px,#2f6b8e 106.5px,#2d718e 107.5px,#287c8e 108.5px,#277e8e 109.5px,#2a778e 110.5px,#33638d 111.5px,#34628d 112.5px,#2a788e 113.5px,#287c8e 114.5px,#277f8e 115.5px,#21928b 116.5px,#22948a 117.5px,#26a883 118.5px,#2baf7f 119.5px,#44be71 120.5px,#48c06e 121.5px,#44bf70 122.5px,#3db975 123.5px,#28a882 124.5px,#33ab7c 125.5px,#5ec462 126.5px,#48bd6e 127.5px,#46b96f 128.5px,#86d048 129.5px,#4cbf6b 130.5px,#3dba74 131.5px,#3ab976 132.5px,#31b47b 133.5px,#44ba70 134.5px,#7acc50 135.5px,#34ae7a 136.5px,#2cac7f 137.5px,#25908b 138.5px,#248b8c 139.5px,#229d88 140.5px,#21938b 141.5px,#209b89 142.5px,#1f988a 143.5px,#218f8c 144.5px)"></div><div style="top:77px;height:1px;background:linear-gradient(90deg,#482677 0.5px 68.5px,#482777 69.5px 70.5px,#482878 71.5px 73.5px,#482978 74.5px,#482979 75.5px 76.5px,#472b7a 77.5px,#463480 78.5px,#433d84 79.5px,#424186 80.5px,#3d4c88 81.5px,#33628c 82.5px,#2f6d8c 83.5px,#38598b 84.5px,#3f4787 85.5px,#414186 86.5px,#3d4b88 87.5px,#2f6c8d 88.5px,#2b758e 89.5px,#2e6d8e 90.5px,#33628d 91.5px,#3c4e89 92.5px,#433e84 93.5px,#433e85 94.5px,#404688 95.5px,#3f4889 96.5px,#404688 97.5px,#414286 98.5px,#3d4c87 99.5px,#2f6d8c 100.5px,#33628d 101.5px,#31668d 102.5px,#2f6c8e 103.5px,#33628d 104.5px,#30698e 105.5px,#30688e 106.5px,#2c728e 107.5px,#287d8e 108.5px,#277f8e 109.5px,#287c8e 110.5px,#2d718e 111.5px,#365b8c 112.5px,#2f6b8e 113.5px,#297b8e 114.5px,#2b768e 115.5px,#22908b 116.5px,#21a087 117.5px,#25aa82 118.5px 119.5px,#33b27b 120.5px,#4cc16c 121.5px,#51c469 122.5px,#50c36a 123.5px,#36b379 124.5px,#259f86 125.5px,#37ae79 126.5px,#5fc561 127.5px,#3bb576 128.5px,#58c265 129.5px,#63c75f 130.5px,#35b07a 131.5px,#47be6f 132.5px,#31b37b 133.5px,#33ae7a 134.5px,#78cb51 135.5px,#49bd6d 136.5px,#37b179 137.5px,#29898b 138.5px,#2b788d 139.5px,#22938a 140.5px,#1f9c89 141.5px,#209f88 142.5px,#22938b 143.5px,#297c8d 144.5px)"></div><div style="top:78px;height:1px;background:linear-gradient(90deg,#482677 0.5px 68.5px,#482777 69.5px 70.5px,#482878 71.5px 74.5px,#482978 75.5px,#482979 76.5px,#472b7a 77.5px,#463480 78.5px,#433c84 79.5px,#433e85 80.5px,#423f85 81.5px,#404587 82.5px,#39578a 83.5px,#2f6c8c 84.5px,#33638c 85.5px,#3c4d88 86.5px,#404587 87.5px,#3c4e88 88.5px,#33638c 89.5px,#2d728d 90.5px,#35608c 91.5px,#34618c 92.5px,#3c4d88 93.5px,#433d83 94.5px,#423f85 95.5px,#404688 96.5px,#3f4888 97.5px,#404688 98.5px,#414084 99.5px,#365b8a 100.5px,#2f6c8d 101.5px,#365d8c 102.5px,#2f6c8e 103.5px,#306b8e 104.5px,#33638d 105.5px,#31688e 106.5px,#306a8e 107.5px,#2b758e 108.5px,#25838e 109.5px,#26828e 110.5px,#297b8e 111.5px,#31688d 112.5px,#33628d 113.5px,#2c728e 114.5px,#287e8e 115.5px,#238b8d 116.5px,#21998a 117.5px,#24a784 118.5px,#26a983 119.5px,#259e86 120.5px,#36b17a 121.5px,#4cc16c 122.5px,#5bc863 123.5px,#4cc06c 124.5px,#2ba980 125.5px,#289c86 126.5px,#48b970 127.5px,#4bbe6d 128.5px,#36ac7b 129.5px,#59c165 130.5px,#31ad7c 131.5px,#38b678 132.5px,#34b579 133.5px,#2cac7f 134.5px,#4aba6e 135.5px,#6acb5a 136.5px,#5fc362 137.5px,#309085 138.5px,#316a8d 139.5px,#2b788c 140.5px,#219889 141.5px,#22a585 142.5px,#29a283 143.5px,#2e778b 144.5px)"></div><div style="top:79px;height:1px;background:linear-gradient(90deg,#482677 0.5px 68.5px,#482777 69.5px 71.5px,#482878 72.5px 75.5px,#482978 76.5px,#472b7a 77.5px,#443881 78.5px,#433e84 79.5px,#443b84 80.5px,#443a83 81.5px,#443b83 82.5px,#423f84 83.5px,#3d4c88 84.5px,#32658c 85.5px,#2f6b8c 86.5px,#3a548a 87.5px,#404587 88.5px,#404486 89.5px,#3c4e89 90.5px,#3f4988 91.5px,#3d4d88 92.5px,#355e8b 93.5px,#3a5189 94.5px,#414084 95.5px,#423f85 96.5px,#414387 97.5px,#404688 98.5px,#423e85 99.5px,#413d80 100.5px,#30698b 101.5px,#31678d 102.5px,#33648d 103.5px,#2d728e 104.5px,#32658d 105.5px,#32658e 106.5px,#31678e 107.5px,#2c728e 108.5px,#287c8e 109.5px,#287d8e 110.5px,#277e8e 111.5px,#2c748e 112.5px,#33628d 113.5px,#31688e 114.5px,#2a788e 115.5px,#26838d 116.5px,#20998a 117.5px,#229f87 118.5px,#2eab7f 119.5px,#26908a 120.5px,#259689 121.5px,#32ae7c 122.5px,#4cc16c 123.5px,#4fc36a 124.5px,#38b578 125.5px,#249c87 126.5px,#2ea182 127.5px,#55bf67 128.5px,#33ac7c 129.5px,#32af7c 130.5px,#37b479 131.5px,#29a882 132.5px,#35b579 133.5px,#38b379 134.5px,#339a82 135.5px,#5bbf65 136.5px,#6bc959 137.5px,#3dac78 138.5px,#31758a 139.5px,#375b8a 140.5px,#28818c 141.5px,#259e86 142.5px,#37b279 143.5px,#2c9e83 144.5px)"></div><div style="top:80px;height:1px;background:linear-gradient(90deg,#482677 0.5px 69.5px,#482777 70.5px 72.5px,#482878 73.5px 76.5px,#452f7b 77.5px,#3a5188 78.5px,#3a528a 79.5px,#404285 80.5px,#443a83 81.5px,#453882 82.5px 83.5px,#443b83 84.5px,#404586 85.5px,#375a8b 86.5px,#2f6d8c 87.5px,#355d8b 88.5px,#3f4887 89.5px,#424085 90.5px,#414387 91.5px,#424186 92.5px,#3f4686 93.5px,#365b8b 94.5px,#38578a 95.5px,#404485 96.5px,#423f85 97.5px,#424186 98.5px,#423e84 99.5px,#462d7a 100.5px,#3d4783 101.5px,#2d718c 102.5px,#306b8e 103.5px,#2e6f8e 104.5px,#2d728e 105.5px,#33638d 106.5px,#30698e 107.5px,#2e6d8e 108.5px,#2d708e 109.5px,#297a8e 110.5px,#2c738e 111.5px,#2b758e 112.5px,#31688e 113.5px,#33638d 114.5px,#2f6b8e 115.5px,#27828d 116.5px,#219a89 117.5px,#249789 118.5px,#30ab7e 119.5px,#25918a 120.5px,#27828d 121.5px,#259689 122.5px,#31b07c 123.5px,#3ebb74 124.5px,#37b878 125.5px,#27a683 126.5px,#259389 127.5px,#35ab7b 128.5px,#4bbb6e 129.5px,#2fa480 130.5px,#39b378 131.5px,#27a882 132.5px,#2caf7e 133.5px,#43b772 134.5px,#2d9586 135.5px,#2a9e84 136.5px,#37ad79 137.5px,#48ba6f 138.5px,#319c80 139.5px,#376289 140.5px,#31678d 141.5px,#278b8b 142.5px,#32ad7c 143.5px,#4dbf6c 144.5px)"></div><div style="top:81px;height:1px;background:linear-gradient(90deg,#482676 0.5px 1.5px,#482677 2.5px 70.5px,#482777 71.5px 73.5px,#482878 74.5px 76.5px,#472c7a 77.5px,#3f4585 78.5px,#33638b 79.5px,#33618b 80.5px,#3e4a87 81.5px,#433c83 82.5px,#453681 83.5px,#453781 84.5px,#443a83 85.5px,#424085 86.5px,#3c4e88 87.5px,#31678c 88.5px 89.5px,#3c4d88 90.5px,#414286 91.5px,#424086 92.5px,#443982 93.5px,#414184 94.5px,#39558a 95.5px,#365b8b 96.5px,#3d4b88 97.5px,#404487 98.5px,#414386 99.5px,#462f7b 100.5px,#452d77 101.5px,#355c89 102.5px,#2b778e 103.5px,#2c728e 104.5px,#2e6e8e 105.5px,#306a8e 106.5px,#355f8d 107.5px,#2f6b8e 108.5px,#2c728e 109.5px,#2e6e8e 110.5px,#2d718e 111.5px,#2b768e 112.5px,#2e6e8e 113.5px,#31688e 114.5px,#34628d 115.5px,#2b768e 116.5px,#228f8c 117.5px 118.5px,#239989 119.5px,#21968a 120.5px,#297b8d 121.5px,#26848d 122.5px,#239d87 123.5px,#2cae7f 124.5px,#34b679 125.5px,#30b17c 126.5px,#259b87 127.5px,#2a9088 128.5px,#3fb076 129.5px,#34b07b 130.5px,#27a284 131.5px,#26a683 132.5px,#26aa82 133.5px,#2bac7f 134.5px,#2fab7f 135.5px,#24938a 136.5px,#278b8b 137.5px,#2d9f82 138.5px,#3cb277 139.5px,#2e8e86 140.5px,#31698c 141.5px,#2b788d 142.5px,#2b9586 143.5px,#4dbd6c 144.5px)"></div><div style="top:82px;height:1px;background:linear-gradient(90deg,#482575 0.5px,#482576 1.5px 24.5px,#482676 25.5px 26.5px,#482677 27.5px 71.5px,#482777 72.5px 74.5px,#482878 75.5px 76.5px,#482978 77.5px,#46307d 78.5px,#413f82 79.5px,#385689 80.5px,#31678b 81.5px,#38568a 82.5px,#414183 83.5px,#443982 84.5px,#453882 85.5px,#443983 86.5px,#433c83 87.5px,#3f4686 88.5px,#355d8b 89.5px,#2f6c8c 90.5px,#39568a 91.5px,#404586 92.5px,#443982 93.5px,#46327e 94.5px,#423d83 95.5px,#3e4a87 96.5px,#355e8b 97.5px,#38578b 98.5px,#3c4f8a 99.5px,#433b82 100.5px,#472674 101.5px,#404081 102.5px,#2d708c 103.5px,#2a788e 104.5px,#2e6e8e 105.5px,#2f6b8e 106.5px,#355e8d 107.5px,#37598c 108.5px,#306b8e 109.5px,#2f6d8e 110.5px,#2d708e 111.5px,#2f6c8e 112.5px,#2a788e 113.5px,#2f6b8e 114.5px,#32658d 115.5px,#306a8e 116.5px,#297c8e 117.5px,#25858e 118.5px,#248a8d 119.5px,#21938b 120.5px,#287d8e 121.5px,#27808e 122.5px,#21918c 123.5px,#229f87 124.5px,#2eaf7e 125.5px,#3ab976 126.5px,#30ad7e 127.5px,#278d8a 128.5px,#2e8c87 129.5px,#39ad7a 130.5px,#2aa482 131.5px,#279089 132.5px,#27a085 133.5px,#25a185 134.5px,#33b17b 135.5px,#239d87 136.5px,#24918a 137.5px,#2d7d8b 138.5px,#2fa580 139.5px,#34ac7c 140.5px,#2b838a 141.5px,#2d708e 142.5px,#2c7b8c 143.5px,#2ba182 144.5px)"></div><div style="top:83px;height:1px;background:linear-gradient(90deg,#482374 0.5px 2.5px,#482474 3.5px,#482475 4.5px 21.5px,#482575 22.5px 25.5px,#482576 26.5px 49.5px,#482676 50.5px 51.5px,#482677 52.5px 73.5px,#482777 74.5px 76.5px,#482878 77.5px,#472b7a 78.5px,#472f7c 79.5px,#44367f 80.5px,#3f4584 81.5px,#345e8a 82.5px,#33628b 83.5px,#3d4c87 84.5px,#423f84 85.5px,#443882 86.5px,#453882 87.5px,#443983 88.5px,#423f84 89.5px,#3a5289 90.5px,#31698c 91.5px,#34618c 92.5px,#3d4b87 93.5px,#443780 94.5px,#46337f 95.5px,#443881 96.5px,#404283 97.5px,#345f8b 98.5px,#355e8c 99.5px,#3e4786 100.5px,#472674 101.5px,#452e79 102.5px,#385789 103.5px,#2a798d 104.5px,#2c738e 105.5px,#2e6e8e 106.5px,#2e6e8d 107.5px,#39558a 108.5px,#375a8b 109.5px,#2e6d8e 110.5px,#2f6b8e 111.5px,#30688e 112.5px,#306a8d 113.5px,#34608c 114.5px,#30698e 115.5px,#32648d 116.5px,#30698d 117.5px,#287d8e 118.5px,#2c738d 119.5px,#25868d 120.5px,#26828e 121.5px,#25868e 122.5px,#21928c 123.5px,#21918c 124.5px,#259988 125.5px,#32ae7c 126.5px,#38b578 127.5px,#269a87 128.5px,#2a7d8d 129.5px,#2e8d87 130.5px,#3aad7a 131.5px,#2e9386 132.5px,#2a858a 133.5px,#25a285 134.5px,#27ab81 135.5px,#22a087 136.5px,#299f84 137.5px,#2f748b 138.5px,#2a8a89 139.5px,#30ac7e 140.5px,#289d85 141.5px,#2d758d 142.5px,#2e6f8e 143.5px,#27848d 144.5px)"></div><div style="top:84px;height:1px;background:linear-gradient(90deg,#482172 0.5px 2.5px,#482173 3.5px 10.5px,#482273 11.5px 20.5px,#482373 21.5px,#482374 22.5px 27.5px,#482474 28.5px,#482475 29.5px 46.5px,#482575 47.5px 50.5px,#482576 51.5px 69.5px,#482676 70.5px,#482677 71.5px 76.5px,#482777 77.5px,#482978 78.5px,#472a79 79.5px,#472b7a 80.5px,#472d7b 81.5px,#43377e 82.5px,#3b4d87 83.5px,#32668b 84.5px,#365c8b 85.5px,#3f4585 86.5px,#443a82 87.5px,#453781 88.5px,#453681 89.5px,#443a82 90.5px,#3f4686 91.5px,#355d8b 92.5px,#306a8c 93.5px,#395589 94.5px,#423b81 95.5px,#443881 96.5px,#46327e 97.5px,#3f4485 98.5px,#365b8b 99.5px,#365989 100.5px,#433077 101.5px,#462472 102.5px,#3e4685 103.5px,#31688d 104.5px,#297a8e 105.5px,#2a768e 106.5px,#2b768e 107.5px,#2e6e8d 108.5px,#3a5188 109.5px,#355f8c 110.5px,#306a8e 111.5px,#33638d 112.5px,#3a538a 113.5px,#3e4887 114.5px,#365b8b 115.5px,#32658d 116.5px,#34608d 117.5px,#2c748d 118.5px,#32678d 119.5px,#297a8d 120.5px,#26818e 121.5px,#238a8d 122.5px,#20998a 123.5px,#21918c 124.5px,#26858d 125.5px,#288f8a 126.5px,#2ba781 127.5px,#24a185 128.5px,#27838d 129.5px,#2a7d8d 130.5px,#2d9e82 131.5px,#49af72 132.5px,#347a87 133.5px,#249888 134.5px,#22a585 135.5px,#209f88 136.5px,#229789 137.5px,#2a7a8d 138.5px,#306e8c 139.5px,#299c85 140.5px,#34ad7c 141.5px,#2b858a 142.5px,#2e708e 143.5px,#2a778e 144.5px)"></div><div style="top:85px;height:1px;background:linear-gradient(90deg,#481f70 0.5px 10.5px,#482071 11.5px 22.5px,#482072 23.5px,#482172 24.5px 27.5px,#482173 28.5px 35.5px,#482273 36.5px 45.5px,#482373 46.5px,#482374 47.5px 52.5px,#482474 53.5px,#482475 54.5px 70.5px,#482575 71.5px,#482576 72.5px 77.5px,#482676 78.5px,#482677 79.5px,#482777 80.5px 81.5px,#482877 82.5px,#462d7a 83.5px,#404082 84.5px,#355c8a 85.5px,#32658b 86.5px,#3b5088 87.5px,#423e83 88.5px,#453781 89.5px,#463480 90.5px,#453580 91.5px,#433b82 92.5px,#3b4e87 93.5px,#306a8b 94.5px,#365b8a 95.5px,#404284 96.5px,#45347f 97.5px 98.5px,#404386 99.5px,#3b518a 100.5px,#385486 101.5px,#442e78 102.5px,#423f84 103.5px,#375a8c 104.5px,#2e6f8e 105.5px,#2a798e 106.5px,#287b8e 107.5px,#2b748e 108.5px,#32658c 109.5px,#3c4e87 110.5px,#31678c 111.5px,#32658d 112.5px,#3c4e8a 113.5px,#3f4888 114.5px,#3f4586 115.5px,#33638c 116.5px,#355f8d 117.5px,#34618d 118.5px,#32648d 119.5px,#365b8b 120.5px,#2f6c8d 121.5px,#277f8d 122.5px,#21948b 123.5px,#20988a 124.5px,#238a8d 125.5px,#287d8e 126.5px,#268c8b 127.5px,#229d87 128.5px,#248a8d 129.5px,#287d8e 130.5px,#2f8988 131.5px,#4db26f 132.5px,#2f8987 133.5px,#28818c 134.5px,#229d87 135.5px,#219e88 136.5px,#25888d 137.5px,#27808d 138.5px,#355e8b 139.5px,#2c8689 140.5px,#39b179 141.5px,#2a9d84 142.5px,#2d748d 143.5px,#2c748e 144.5px)"></div><div style="top:86px;height:1px;background:linear-gradient(90deg,#481b6d 0.5px 1.5px,#481c6e 2.5px 12.5px,#481d6f 13.5px 22.5px,#481e6f 23.5px,#481e70 24.5px,#481f70 25.5px 35.5px,#482071 36.5px 47.5px,#482072 48.5px,#482172 49.5px 52.5px,#482173 53.5px 60.5px,#482273 61.5px 69.5px,#482373 70.5px,#482374 71.5px 77.5px,#482474 78.5px,#482475 79.5px 82.5px,#482575 83.5px,#472c7a 84.5px,#433880 85.5px,#3d4b86 86.5px,#33628b 87.5px,#355d8b 88.5px,#3e4786 89.5px,#443a82 90.5px,#46317e 91.5px,#472e7c 92.5px,#462e7a 93.5px,#3f4181 94.5px,#33618b 95.5px,#33628b 96.5px,#3e4986 97.5px,#44367f 98.5px,#433e84 99.5px,#424085 100.5px,#414084 101.5px,#462d7a 102.5px,#443880 103.5px,#3b518a 104.5px,#39578b 105.5px,#2d728d 106.5px,#2b748e 107.5px,#2c748e 108.5px,#30698e 109.5px,#37588b 110.5px,#39558a 111.5px,#30698d 112.5px,#375a8c 113.5px,#3c4e8a 114.5px,#414185 115.5px,#39568a 116.5px,#34608c 117.5px,#3c4e89 118.5px,#39558a 119.5px,#423d82 120.5px,#3d4b87 121.5px,#2f6c8d 122.5px,#277f8d 123.5px,#228e8c 124.5px,#21958b 125.5px,#25868d 126.5px,#297b8e 127.5px,#248b8c 128.5px,#23898d 129.5px,#2a788e 130.5px,#2d778d 131.5px,#2a9686 132.5px,#259188 133.5px,#346389 134.5px,#258a8b 135.5px,#21958a 136.5px,#25848d 137.5px,#277f8e 138.5px,#32658d 139.5px,#326d8b 140.5px,#2fa380 141.5px,#32aa7d 142.5px,#2d7b8b 143.5px,#2f6b8e 144.5px)"></div><div style="top:87px;height:1px;background:linear-gradient(90deg,#48186a 0.5px 1.5px,#48186b 2.5px 4.5px,#48196b 5.5px 10.5px,#481a6c 11.5px 16.5px,#481b6d 17.5px 26.5px,#481c6e 27.5px 37.5px,#481d6f 38.5px 47.5px,#481e6f 48.5px,#481e70 49.5px,#481f70 50.5px 60.5px,#482071 61.5px 72.5px,#482072 73.5px,#482172 74.5px 77.5px,#482173 78.5px 82.5px,#482273 83.5px,#482677 84.5px,#472b7a 85.5px,#462f7c 86.5px,#423b80 87.5px,#395488 88.5px,#32648b 89.5px,#3a5289 90.5px,#433a80 91.5px,#472b79 92.5px,#482676 93.5px,#472574 94.5px,#423b80 95.5px,#3c4e88 96.5px,#32648a 97.5px,#3c4e88 98.5px,#423e84 99.5px,#443a83 100.5px,#45347f 101.5px,#482575 102.5px,#462b79 103.5px,#404486 104.5px,#3f4888 105.5px,#3b5088 106.5px,#2d708d 107.5px,#2e6e8e 108.5px,#32668e 109.5px,#32648d 110.5px,#3b5088 111.5px,#31668c 112.5px,#31688d 113.5px,#3e4a88 114.5px,#404687 115.5px,#404587 116.5px,#3b518a 117.5px,#3e4a89 118.5px,#404487 119.5px,#45347f 120.5px,#44357d 121.5px,#345e8b 122.5px,#2e6e8e 123.5px,#2b758d 124.5px,#248a8c 125.5px,#238b8c 126.5px,#2c738e 127.5px,#2d728d 128.5px,#297b8e 129.5px,#2f6d8e 130.5px,#31668d 131.5px,#2e718c 132.5px,#278a88 133.5px,#3b5085 134.5px,#2e6e8c 135.5px,#25858d 136.5px,#26818e 137.5px,#2c748e 138.5px,#2e6e8d 139.5px,#38588a 140.5px,#2d7c8a 141.5px,#289986 142.5px,#28838c 143.5px,#31688d 144.5px)"></div><div style="top:88px;height:1px;background:linear-gradient(90deg,#481467 0.5px,#481568 1.5px 5.5px,#481668 6.5px 10.5px,#481769 11.5px 20.5px,#48186a 21.5px 26.5px,#48186b 27.5px 29.5px,#48196b 30.5px 35.5px,#481a6c 36.5px 41.5px,#481b6d 42.5px 51.5px,#481c6e 52.5px 62.5px,#481d6f 63.5px 72.5px,#481e6f 73.5px,#481e70 74.5px,#481f70 75.5px 82.5px,#481f71 83.5px,#482374 84.5px,#482676 85.5px,#482777 86.5px,#472777 87.5px,#452e7a 88.5px,#404182 89.5px,#355c89 90.5px,#365a89 91.5px,#433980 92.5px,#472877 93.5px,#482374 94.5px,#472b79 95.5px,#45347f 96.5px,#413f82 97.5px,#3f4686 98.5px,#45327d 99.5px,#462f7c 100.5px,#472878 101.5px,#481e6f 102.5px 103.5px,#45327d 104.5px,#424085 105.5px,#414085 106.5px,#365a8a 107.5px,#2f6b8e 108.5px,#33638d 109.5px,#365d8c 110.5px,#32648c 111.5px,#38578a 112.5px,#32658c 113.5px,#404485 114.5px,#443a82 115.5px,#443a83 116.5px,#433a82 117.5px,#414386 118.5px,#424085 119.5px,#433b83 120.5px,#45307b 121.5px,#3a5188 122.5px,#32658d 123.5px,#355f8d 124.5px,#2f6c8d 125.5px,#2a798d 126.5px,#32658d 127.5px,#39548a 128.5px,#33638c 129.5px,#34608d 130.5px,#365b8c 131.5px,#375a8b 132.5px,#2a7c8b 133.5px,#38588a 134.5px,#3a5489 135.5px,#2d718d 136.5px,#2c738e 137.5px,#34618d 138.5px,#33638d 139.5px,#39548b 140.5px,#3c5088 141.5px,#316b8b 142.5px,#2c748d 143.5px,#30688d 144.5px)"></div><div style="top:89px;height:1px;background:linear-gradient(90deg,#471164 0.5px 4.5px,#471264 5.5px,#471265 6.5px,#471365 7.5px 14.5px,#471366 15.5px,#481466 16.5px 20.5px,#481467 21.5px 25.5px,#481568 26.5px 30.5px,#481668 31.5px 35.5px,#481769 36.5px 45.5px,#48186a 46.5px 51.5px,#48186b 52.5px 54.5px,#48196b 55.5px 60.5px,#481a6c 61.5px 66.5px,#481b6d 67.5px 76.5px,#481c6e 77.5px 82.5px,#481d6e 83.5px,#481f70 84.5px,#482172 85.5px,#482273 86.5px,#482172 87.5px,#482071 88.5px,#472574 89.5px,#44307a 90.5px,#3f4484 91.5px,#404183 92.5px,#472876 93.5px,#482575 94.5px,#482475 95.5px,#472d7b 96.5px,#472777 97.5px,#462d7a 98.5px,#482273 99.5px,#482374 100.5px,#481f70 101.5px,#481b6d 102.5px,#48186a 103.5px,#472373 104.5px,#453580 105.5px,#433c83 106.5px,#414083 107.5px,#33628a 108.5px,#365b8c 109.5px,#3b4f8a 110.5px,#38578b 111.5px,#34618c 112.5px,#33638d 113.5px,#3d4a87 114.5px,#462f7c 115.5px 116.5px,#46327e 117.5px 118.5px,#443982 119.5px,#423e84 120.5px,#45347f 121.5px,#423e83 122.5px,#3a538a 123.5px,#3c4e89 124.5px,#3d4c88 125.5px,#375b8b 126.5px,#3a538a 127.5px,#423d83 128.5px,#3f4787 129.5px,#3b508a 130.5px 131.5px,#3d4b88 132.5px,#34608b 133.5px,#355e8b 134.5px,#413f83 135.5px,#395288 136.5px,#355d8c 137.5px,#3c4e89 138.5px,#3f4686 139.5px,#3b5089 140.5px,#414185 141.5px,#404687 142.5px,#3c4d89 143.5px,#3c4d88 144.5px)"></div><div style="top:90px;height:1px;background:linear-gradient(90deg,#470e61 0.5px 5.5px,#470f61 6.5px 9.5px,#470f62 10.5px 11.5px,#471062 12.5px 14.5px,#471063 15.5px 20.5px,#471164 21.5px 29.5px,#471264 30.5px,#471265 31.5px,#471365 32.5px 39.5px,#471366 40.5px,#481466 41.5px 45.5px,#481467 46.5px 50.5px,#481568 51.5px 55.5px,#481668 56.5px 60.5px,#481769 61.5px 70.5px,#48186a 71.5px 76.5px,#48186b 77.5px 79.5px,#48196b 80.5px 82.5px,#481a6c 83.5px,#481b6d 84.5px,#481c6e 85.5px 87.5px,#481b6d 88.5px,#481c6d 89.5px,#481e6f 90.5px,#472373 91.5px,#472473 92.5px,#481f70 93.5px,#481e70 94.5px,#481c6e 95.5px,#482171 96.5px,#481f70 97.5px,#481f71 98.5px,#481b6d 99.5px,#481c6e 100.5px,#481d6f 101.5px,#481e70 102.5px,#481b6d 103.5px,#481c6e 104.5px,#472676 105.5px,#462f7c 106.5px 107.5px,#423a7e 108.5px,#385588 109.5px,#423c82 110.5px 111.5px,#3d4b87 112.5px,#39558b 113.5px,#3b4f89 114.5px,#45317c 115.5px,#482676 116.5px,#472b7a 117.5px,#482575 118.5px,#472978 119.5px,#462e7c 120.5px,#472c7b 121.5px,#472b79 122.5px,#44357e 123.5px,#443781 124.5px,#45347f 125.5px,#423c82 126.5px,#423e84 127.5px,#46307c 128.5px 129.5px,#433a82 130.5px,#433c83 131.5px,#443881 132.5px,#433980 133.5px,#3f4585 134.5px,#45357f 135.5px,#452e7a 136.5px,#423b81 137.5px,#423f84 138.5px,#45327d 139.5px,#443880 140.5px,#443a82 141.5px,#443982 142.5px,#443881 143.5px,#462f7c 144.5px)"></div><div style="top:91px;height:1px;background:linear-gradient(90deg,#460a5d 0.5px 2.5px,#460b5e 3.5px 10.5px,#460b5f 11.5px 13.5px,#460c5f 14.5px,#470c5f 15.5px,#470d60 16.5px 24.5px,#470e61 25.5px 30.5px,#470f61 31.5px 34.5px,#470f62 35.5px 36.5px,#471062 37.5px 39.5px,#471063 40.5px 45.5px,#471164 46.5px 54.5px,#471264 55.5px,#471265 56.5px,#471365 57.5px 64.5px,#471366 65.5px,#481466 66.5px 70.5px,#481467 71.5px 75.5px,#481568 76.5px 80.5px,#481668 81.5px 83.5px,#481769 84.5px 89.5px,#48176a 90.5px,#48186b 91.5px,#48196b 92.5px,#48186b 93.5px,#48186a 94.5px,#481769 95.5px,#48176a 96.5px,#48196b 97.5px,#48186a 98.5px 100.5px,#481a6c 101.5px,#481c6d 102.5px,#481b6d 103.5px,#48186a 104.5px,#481b6d 105.5px,#481f71 106.5px,#482071 107.5px,#472171 108.5px,#43357d 109.5px,#43387f 110.5px,#472675 111.5px,#462c79 112.5px,#413f83 113.5px,#404184 114.5px,#462d7a 115.5px,#482071 116.5px 117.5px,#481d6f 118.5px,#481c6d 119.5px,#481f70 120.5px,#481f71 121.5px,#481e6f 122.5px,#481f70 123.5px,#482273 124.5px,#482373 125.5px,#472474 126.5px,#472977 127.5px,#482474 128.5px,#482071 129.5px,#482474 130.5px,#472676 131.5px,#482575 132.5px,#482272 133.5px,#472574 134.5px,#472676 135.5px,#482071 136.5px,#471f70 137.5px,#472776 138.5px,#472877 139.5px,#482575 140.5px,#472777 141.5px,#472776 142.5px,#472978 143.5px,#482575 144.5px)"></div><div style="top:92px;height:1px;background:linear-gradient(90deg,#46075a 0.5px 2.5px,#46075b 3.5px,#46085b 4.5px 10.5px,#46085c 11.5px 15.5px,#46095c 16.5px,#46095d 17.5px,#460a5d 18.5px 27.5px,#460b5e 28.5px 35.5px,#460b5f 36.5px 38.5px,#460c5f 39.5px,#470c5f 40.5px,#470d60 41.5px 49.5px,#470e61 50.5px 55.5px,#470f61 56.5px 59.5px,#470f62 60.5px 61.5px,#471062 62.5px 64.5px,#471063 65.5px 70.5px,#471164 71.5px 79.5px,#471264 80.5px,#471265 81.5px,#471365 82.5px 90.5px,#481366 91.5px,#481467 92.5px 93.5px,#481466 94.5px 95.5px,#481467 96.5px,#481567 97.5px,#481467 98.5px,#481567 99.5px,#481467 100.5px,#481568 101.5px,#481668 102.5px 103.5px,#481467 104.5px,#481567 105.5px,#481669 106.5px,#48176a 107.5px 108.5px,#471a6c 109.5px,#471c6c 110.5px,#48186a 111.5px,#481a6b 112.5px,#471e6e 113.5px,#472171 114.5px,#481e6f 115.5px,#48196b 116.5px,#48186a 117.5px 118.5px,#481669 119.5px,#48176a 120.5px,#48186b 121.5px,#48186a 122.5px,#48176a 123.5px,#48186a 124.5px,#48196b 125.5px 126.5px,#481b6d 127.5px,#481a6c 128.5px,#48196b 129.5px 130.5px,#481a6c 131.5px 133.5px,#48196b 134.5px,#481a6c 135.5px 136.5px,#48196c 137.5px,#481a6c 138.5px,#481c6e 139.5px,#481c6d 140.5px 141.5px,#481b6d 142.5px,#481c6e 143.5px,#481d6e 144.5px)"></div><div style="top:93px;height:1px;background:linear-gradient(90deg,#450558 0.5px 3.5px,#450559 4.5px 15.5px,#45065a 16.5px,#45075a 17.5px,#46075a 18.5px 27.5px,#46075b 28.5px,#46085b 29.5px 35.5px,#46085c 36.5px 40.5px,#46095c 41.5px,#46095d 42.5px,#460a5d 43.5px 52.5px,#460b5e 53.5px 60.5px,#460b5f 61.5px 63.5px,#460c5f 64.5px,#470c5f 65.5px,#470d60 66.5px 74.5px,#470e61 75.5px 80.5px,#470f61 81.5px 84.5px,#470f62 85.5px 86.5px,#471062 87.5px 89.5px,#471063 90.5px 95.5px,#471164 96.5px 105.5px,#471265 106.5px,#471365 107.5px 111.5px,#471366 112.5px 113.5px,#481466 114.5px 115.5px,#481467 116.5px,#481466 117.5px 120.5px,#481467 121.5px 125.5px,#481568 126.5px 131.5px,#481668 132.5px 135.5px,#481769 136.5px 144.5px)"></div><div style="top:94px;height:1px;background:linear-gradient(90deg,#450356 0.5px 6.5px,#450457 7.5px 24.5px,#450558 25.5px 28.5px,#450559 29.5px 40.5px,#45065a 41.5px,#45075a 42.5px,#46075a 43.5px 52.5px,#46075b 53.5px,#46085b 54.5px 60.5px,#46085c 61.5px 65.5px,#46095c 66.5px,#46095d 67.5px,#460a5d 68.5px 77.5px,#460b5e 78.5px 85.5px,#460b5f 86.5px 88.5px,#460c5f 89.5px,#470c5f 90.5px,#470d60 91.5px 99.5px,#470e61 100.5px 105.5px,#470f61 106.5px 109.5px,#470f62 110.5px 111.5px,#471062 112.5px 114.5px,#471063 115.5px 120.5px,#471164 121.5px 129.5px,#471264 130.5px,#471265 131.5px,#471365 132.5px 139.5px,#471366 140.5px,#481466 141.5px 144.5px)"></div><div style="top:95px;height:1px;background:linear-gradient(90deg,#440154 0.5px 5.5px,#440254 6.5px,#440255 7.5px,#440256 8.5px 24.5px,#450356 25.5px 31.5px,#450457 32.5px 49.5px,#450558 50.5px 53.5px,#450559 54.5px 65.5px,#45065a 66.5px,#45075a 67.5px,#46075a 68.5px 77.5px,#46075b 78.5px,#46085b 79.5px 85.5px,#46085c 86.5px 90.5px,#46095c 91.5px,#46095d 92.5px,#460a5d 93.5px 102.5px,#460b5e 103.5px 110.5px,#460b5f 111.5px 113.5px,#460c5f 114.5px,#470c5f 115.5px,#470d60 116.5px 124.5px,#470e61 125.5px 130.5px,#470f61 131.5px 134.5px,#470f62 135.5px 136.5px,#471062 137.5px 139.5px,#471063 140.5px 144.5px)"></div><div style="top:96px;height:1px;background:linear-gradient(90deg,#440154 0.5px 30.5px,#440254 31.5px,#440255 32.5px,#440256 33.5px 49.5px,#450356 50.5px 56.5px,#450457 57.5px 74.5px,#450558 75.5px 78.5px,#450559 79.5px 90.5px,#45065a 91.5px,#45075a 92.5px,#46075a 93.5px 102.5px,#46075b 103.5px,#46085b 104.5px 110.5px,#46085c 111.5px 115.5px,#46095c 116.5px,#46095d 117.5px,#460a5d 118.5px 127.5px,#460b5e 128.5px 135.5px,#460b5f 136.5px 138.5px,#460c5f 139.5px,#470c5f 140.5px,#470d60 141.5px 144.5px)"></div><div style="top:97px;height:1px;background:linear-gradient(90deg,#440154 0.5px 55.5px,#440254 56.5px,#440255 57.5px,#440256 58.5px 74.5px,#450356 75.5px 81.5px,#450457 82.5px 99.5px,#450558 100.5px 103.5px,#450559 104.5px 115.5px,#45065a 116.5px,#45075a 117.5px,#46075a 118.5px 127.5px,#46075b 128.5px,#46085b 129.5px 135.5px,#46085c 136.5px 140.5px,#46095c 141.5px,#46095d 142.5px,#460a5d 143.5px 144.5px)"></div><div style="top:98px;height:1px;background:linear-gradient(90deg,#440154 0.5px 80.5px,#440254 81.5px,#440255 82.5px,#440256 83.5px 99.5px,#450356 100.5px 106.5px,#450457 107.5px 124.5px,#450558 125.5px 128.5px,#450559 129.5px 140.5px,#45065a 141.5px,#45075a 142.5px,#46075a 143.5px 144.5px)"></div><div style="top:99px;height:1px;background:linear-gradient(90deg,#440154 0.5px 105.5px,#440254 106.5px,#440255 107.5px,#440256 108.5px 124.5px,#450356 125.5px 131.5px,#450457 132.5px 144.5px)"></div><div style="top:100px;height:1px;background:linear-gradient(90deg,#440154 0.5px 130.5px,#440254 131.5px,#440255 132.5px,#440256 133.5px 144.5px)"></div><div style="top:101px;height:44px;background:#440154"></div></div><div class="hm" style="left:41px;top:176px;width:145px;height:146px"><div style="top:0px;height:1px;background:linear-gradient(90deg,#440154 0.5px 64.5px,#440255 65.5px,#460c5f 66.5px,#462674 67.5px,#460f62 68.5px,#460a5d 69.5px 70.5px,#460b5e 71.5px 72.5px,#470d60 73.5px,#481668 74.5px,#482374 75.5px,#482576 76.5px 78.5px,#482273 79.5px,#471366 80.5px,#470d60 81.5px 82.5px,#482661 83.5px,#4da96a 84.5px,#4dac6c 85.5px,#49356f 86.5px,#481e6f 87.5px,#481d6f 88.5px,#481e6f 89.5px,#433172 90.5px,#289082 91.5px,#297d89 92.5px,#433379 93.5px,#482576 94.5px 96.5px,#433877 97.5px,#2b9a80 98.5px,#29a083 99.5px,#385e8a 100.5px,#404688 101.5px,#414487 102.5px 106.5px,#3e5386 107.5px,#30a37e 108.5px,#2eb27d 109.5px,#37b479 110.5px,#259589 111.5px,#239989 112.5px,#30b07d 113.5px,#2faa7e 114.5px,#79cd51 115.5px,#bdde29 116.5px,#8ed645 117.5px,#97d83f 118.5px,#8fd744 119.5px,#91d643 120.5px,#bfde27 121.5px,#9ed93a 122.5px,#6ccc59 123.5px,#3cb975 124.5px,#28ad80 125.5px,#28ae80 126.5px,#41b971 127.5px,#8cd244 128.5px,#46bc6e 129.5px,#4bc06c 130.5px,#8fd543 131.5px,#75cf54 132.5px,#88d448 133.5px,#aedc30 134.5px,#97d83f 135.5px,#80d34d 136.5px,#77ce53 137.5px,#30ad7c 138.5px,#2caf7e 139.5px,#4cc16c 140.5px,#43bb72 141.5px,#259f86 142.5px,#23a385 143.5px,#35b679 144.5px)"></div><div style="top:1px;height:1px;background:linear-gradient(90deg,#440154 0.5px 64.5px,#440255 65.5px,#450b5d 66.5px,#462775 67.5px,#460f62 68.5px,#460a5d 69.5px 70.5px,#460b5e 71.5px 72.5px,#470d60 73.5px,#481668 74.5px,#482374 75.5px,#482576 76.5px 78.5px,#482273 79.5px,#471366 80.5px,#470d60 81.5px 82.5px,#472661 83.5px,#4ca96a 84.5px,#4cac6c 85.5px,#49356f 86.5px,#481e6f 87.5px,#481d6f 88.5px,#481e6f 89.5px,#433172 90.5px,#289083 91.5px,#297d89 92.5px,#433379 93.5px,#482576 94.5px 96.5px,#433877 97.5px,#2b9980 98.5px,#29a083 99.5px,#385f8a 100.5px,#404688 101.5px,#414487 102.5px 106.5px,#3e5386 107.5px,#2fa27f 108.5px,#2bb07e 109.5px,#31b07c 110.5px,#25938a 111.5px,#229a89 112.5px,#2eaf7e 113.5px,#30ab7d 114.5px,#80cf4d 115.5px,#b9dd2a 116.5px,#8bd547 117.5px,#94d741 118.5px,#88d548 119.5px,#8dd546 120.5px,#c3df25 121.5px,#a2da38 122.5px,#71ce56 123.5px,#43bd71 124.5px,#28ad80 125.5px,#27ad81 126.5px,#41b971 127.5px,#87d048 128.5px,#41b971 129.5px,#4fc269 130.5px,#8bd446 131.5px,#72ce56 132.5px,#94d740 133.5px,#b4dd2c 134.5px,#98d83e 135.5px,#87d549 136.5px,#79ce51 137.5px,#30ac7d 138.5px,#2bae7f 139.5px,#4bc16c 140.5px,#4cc16c 141.5px,#2aaa81 142.5px,#23a485 143.5px,#31b37b 144.5px)"></div><div style="top:2px;height:1px;background:linear-gradient(90deg,#440154 0.5px 64.5px,#440254 65.5px,#45095b 66.5px,#462675 67.5px,#461062 68.5px,#460a5d 69.5px 70.5px,#460b5e 71.5px 72.5px,#470d60 73.5px,#481668 74.5px,#482273 75.5px,#482475 76.5px 78.5px,#482172 79.5px,#471366 80.5px,#470d60 81.5px 82.5px,#462662 83.5px,#46a76d 84.5px,#48aa6e 85.5px,#483671 86.5px,#481e70 87.5px,#481d6f 88.5px,#481e6f 89.5px,#433072 90.5px,#278e84 91.5px,#297e8a 92.5px,#43367b 93.5px,#482676 94.5px,#482576 95.5px 96.5px,#433778 97.5px,#299781 98.5px,#28a083 99.5px,#37618a 100.5px,#404788 101.5px,#414487 102.5px,#404587 103.5px 104.5px,#414487 105.5px 106.5px,#3d5386 107.5px,#2ca081 108.5px,#29af80 109.5px,#2dae7e 110.5px,#24938a 111.5px,#229d88 112.5px,#2db07e 113.5px,#33ae7b 114.5px,#8ad147 115.5px,#b3dd2d 116.5px,#89d548 117.5px,#91d742 118.5px,#80d34d 119.5px,#8ed545 120.5px,#c9e024 121.5px,#a5da37 122.5px,#77d052 123.5px,#4ac06d 124.5px,#28ab81 125.5px,#27ac81 126.5px,#41ba71 127.5px,#82d04a 128.5px,#40b972 129.5px,#56c466 130.5px,#89d447 131.5px,#76d053 132.5px,#a4da36 133.5px,#bade28 134.5px,#9dd93b 135.5px,#90d743 136.5px,#7bce50 137.5px,#2fac7d 138.5px,#2baf7e 139.5px,#49c06e 140.5px,#55c567 141.5px,#39b777 142.5px,#24a784 143.5px,#29ae80 144.5px)"></div><div style="top:3px;height:1px;background:linear-gradient(90deg,#440154 0.5px 65.5px,#45095b 66.5px,#462674 67.5px,#461163 68.5px,#460b5e 69.5px,#460a5d 70.5px 71.5px,#460b5e 72.5px,#470d60 73.5px,#481668 74.5px,#482172 75.5px,#482273 76.5px,#482374 77.5px 78.5px,#482071 79.5px,#471265 80.5px,#470d60 81.5px 82.5px,#452563 83.5px,#3ca273 84.5px,#42a872 85.5px,#473873 86.5px,#481e70 87.5px,#481d6f 88.5px 89.5px,#422f73 90.5px,#258a85 91.5px,#287f8b 92.5px,#423c7f 93.5px,#482777 94.5px,#482576 95.5px 96.5px,#423678 97.5px,#269284 98.5px,#27a084 99.5px,#35648a 100.5px,#3f4788 101.5px,#404587 102.5px,#3e4a89 103.5px 104.5px,#404588 105.5px,#414487 106.5px,#3d5286 107.5px,#299d83 108.5px,#2aaf7f 109.5px,#2faf7d 110.5px,#249689 111.5px,#23a286 112.5px,#2fb27c 113.5px,#38b377 114.5px,#91d441 115.5px,#addc31 116.5px,#89d548 117.5px,#8fd644 118.5px,#7ad151 119.5px,#94d742 120.5px,#cee123 121.5px,#a7db36 122.5px,#7fd24e 123.5px,#4fc16a 124.5px,#28aa81 125.5px,#27ad81 126.5px,#40ba72 127.5px,#7fcf4c 128.5px,#45bc6f 129.5px,#5ac663 130.5px,#89d547 131.5px,#7ed24e 132.5px,#aedc30 133.5px,#bddf26 134.5px,#a4db37 135.5px,#97d83f 136.5px,#78ce52 137.5px,#2fac7d 138.5px,#2cb07e 139.5px,#46bf6f 140.5px,#5dc862 141.5px,#4bc06d 142.5px,#28aa81 143.5px,#24aa83 144.5px)"></div><div style="top:4px;height:1px;background:linear-gradient(90deg,#440154 0.5px 65.5px,#44085a 66.5px,#462473 67.5px,#471365 68.5px,#470d60 69.5px,#460a5d 70.5px 71.5px,#460b5e 72.5px,#470d60 73.5px,#481567 74.5px,#481f70 75.5px,#482072 76.5px,#482172 77.5px 78.5px,#481f70 79.5px,#471264 80.5px,#470d60 81.5px 82.5px,#432464 83.5px,#339c78 84.5px,#3ca576 85.5px,#463a75 86.5px,#481e6f 87.5px,#481c6e 88.5px 89.5px,#422e72 90.5px,#258587 91.5px,#27808c 92.5px,#404283 93.5px,#472878 94.5px,#482576 95.5px 96.5px,#423579 97.5px,#268c86 98.5px,#279f84 99.5px,#33698b 100.5px,#3f4888 101.5px,#404588 102.5px,#3d4d8a 103.5px,#3c4e8a 104.5px,#404688 105.5px,#414487 106.5px,#3c5187 107.5px,#289b84 108.5px,#2eb27d 109.5px,#36b479 110.5px,#249b88 111.5px,#25a684 112.5px,#35b679 113.5px,#3eb873 114.5px,#95d53f 115.5px,#aadc32 116.5px,#8cd646 117.5px,#8bd646 118.5px,#79d151 119.5px,#9cd83d 120.5px,#d0e122 121.5px,#aadb34 122.5px,#83d34b 123.5px,#4fc06b 124.5px,#27a783 125.5px,#28ad80 126.5px,#3cb775 127.5px,#7ccf4e 128.5px,#4ec16a 129.5px,#5bc763 130.5px,#8bd546 131.5px,#84d44b 132.5px,#acdc31 133.5px,#bade28 134.5px,#a7db34 135.5px,#97d83f 136.5px,#72cc56 137.5px,#2eac7e 138.5px,#2bb07e 139.5px,#43be71 140.5px,#63ca5f 141.5px,#54c467 142.5px,#29aa81 143.5px,#22a784 144.5px)"></div><div style="top:5px;height:1px;background:linear-gradient(90deg,#440154 0.5px 65.5px,#450759 66.5px,#472272 67.5px,#471668 68.5px,#470e61 69.5px,#460a5e 70.5px,#460a5d 71.5px,#460b5e 72.5px,#470c60 73.5px,#481467 74.5px,#481d6f 75.5px,#481f70 76.5px 78.5px,#481d6f 79.5px,#471264 80.5px,#470d60 81.5px 82.5px,#422365 83.5px,#2c977c 84.5px,#37a279 85.5px,#453b77 86.5px,#481e6f 87.5px,#481c6e 88.5px 89.5px,#432d72 90.5px,#268188 91.5px,#26828c 92.5px,#3e4985 93.5px,#472978 94.5px,#482576 95.5px 96.5px,#423479 97.5px,#278688 98.5px,#269e85 99.5px,#316c8b 100.5px,#3e4988 101.5px,#404588 102.5px,#3d4c8a 103.5px,#3c4f8a 104.5px,#404688 105.5px,#414487 106.5px,#3c5187 107.5px,#279985 108.5px,#33b57a 109.5px,#42ba72 110.5px,#26a085 111.5px,#26a883 112.5px,#3bb975 113.5px,#42bb71 114.5px,#94d540 115.5px,#acdc31 116.5px,#8bd546 117.5px,#87d549 118.5px,#7cd250 119.5px,#9dd93c 120.5px,#cce022 121.5px,#abdc33 122.5px,#83d34b 123.5px,#49be6e 124.5px,#26a484 125.5px,#29ad80 126.5px,#35b279 127.5px,#77ce52 128.5px,#5ec861 129.5px,#57c565 130.5px,#8dd545 131.5px,#88d548 132.5px,#a1da38 133.5px,#b3dd2c 134.5px,#a9db33 135.5px,#91d742 136.5px,#6ccb59 137.5px,#2dad7e 138.5px,#2aae7f 139.5px,#42bd71 140.5px,#67cb5c 141.5px,#53c268 142.5px,#27a782 143.5px,#22a785 144.5px)"></div><div style="top:6px;height:1px;background:linear-gradient(90deg,#440154 0.5px 65.5px,#450659 66.5px,#471f70 67.5px,#48196b 68.5px,#471063 69.5px,#460a5e 70.5px,#460a5d 71.5px,#460b5e 72.5px,#470c5f 73.5px,#471366 74.5px,#481c6e 75.5px,#481d6f 76.5px 78.5px,#481c6d 79.5px,#471164 80.5px,#470d60 81.5px 82.5px,#412265 83.5px,#28917f 84.5px,#33a07c 85.5px,#443d79 86.5px,#481e6f 87.5px,#481b6d 88.5px 89.5px,#432b71 90.5px,#277d89 91.5px,#26838d 92.5px,#3b4f87 93.5px,#462b78 94.5px,#482576 95.5px 96.5px,#433379 97.5px,#288188 98.5px,#269e85 99.5px,#2f708b 100.5px,#3e4a88 101.5px,#404587 102.5px,#3e4b89 103.5px,#3b508b 104.5px,#3f4788 105.5px,#414487 106.5px,#3c5087 107.5px,#279686 108.5px,#38b777 109.5px,#4fc06b 110.5px,#27a384 111.5px,#25a684 112.5px,#3fbb73 113.5px,#40ba72 114.5px,#8cd345 115.5px,#b0dc2f 116.5px,#8ad547 117.5px,#83d44b 118.5px,#81d34c 119.5px,#98d83e 120.5px,#c4df24 121.5px,#aedc30 122.5px,#7ed14e 123.5px,#42b972 124.5px,#259f86 125.5px,#29ad80 126.5px,#30af7c 127.5px,#70cc57 128.5px,#76cf53 129.5px,#55c366 130.5px,#8dd545 131.5px,#8dd645 132.5px,#91d743 133.5px,#acdc31 134.5px,#a9db33 135.5px,#8bd546 136.5px,#6acb5a 137.5px,#2ead7e 138.5px,#29ad80 139.5px,#44bd70 140.5px,#6bcc5a 141.5px,#4abe6d 142.5px,#25a484 143.5px,#24a983 144.5px)"></div><div style="top:7px;height:1px;background:linear-gradient(90deg,#440154 0.5px 65.5px,#450658 66.5px,#481d6e 67.5px,#481d6f 68.5px,#471164 69.5px,#460b5e 70.5px,#460a5d 71.5px 72.5px,#460c5f 73.5px,#471265 74.5px,#481b6d 75.5px,#481c6e 76.5px 78.5px,#481a6c 79.5px,#471063 80.5px,#470c5f 81.5px,#470d60 82.5px,#412166 83.5px,#268c82 84.5px,#2f9d7f 85.5px,#433f7b 86.5px,#481e6f 87.5px,#481b6d 88.5px 89.5px,#432a71 90.5px,#297889 91.5px,#25848d 92.5px,#395589 93.5px,#462c79 94.5px,#482576 95.5px 96.5px,#433279 97.5px,#2a7b89 98.5px,#269d86 99.5px,#2e748c 100.5px,#3e4a88 101.5px,#404487 102.5px,#3e4a89 103.5px,#3b518b 104.5px,#3f4888 105.5px,#414487 106.5px,#3c5088 107.5px,#279187 108.5px,#39b677 109.5px,#54c267 110.5px,#29a483 111.5px,#259f86 112.5px,#3eb974 113.5px,#3bb875 114.5px,#7fd04d 115.5px,#b7dd2b 116.5px,#8dd645 117.5px,#84d44b 118.5px,#8cd646 119.5px,#92d742 120.5px,#bcde27 121.5px,#b5dd2b 122.5px,#7ad050 123.5px,#3eb775 124.5px,#249d87 125.5px,#28ab81 126.5px,#2fb07d 127.5px,#67c95c 128.5px,#8fd543 129.5px,#5ac563 130.5px,#89d447 131.5px,#93d741 132.5px,#82d34c 133.5px,#a7db34 134.5px,#acdc31 135.5px,#8ad547 136.5px,#70cc57 137.5px,#30af7c 138.5px,#29ad80 139.5px,#49bf6d 140.5px,#6dcd58 141.5px,#41ba72 142.5px,#24a385 143.5px,#2aae7f 144.5px)"></div><div style="top:8px;height:1px;background:linear-gradient(90deg,#440154 0.5px 65.5px,#450558 66.5px,#481a6b 67.5px,#482172 68.5px,#471365 69.5px,#460b5e 70.5px,#460a5d 71.5px 72.5px,#460c5f 73.5px,#471264 74.5px,#48196b 75.5px,#481b6d 76.5px 78.5px,#48196b 79.5px,#471062 80.5px,#460c5f 81.5px,#470d60 82.5px,#412066 83.5px,#268684 84.5px,#2c9a81 85.5px,#42417d 86.5px,#481d6f 87.5px,#481a6c 88.5px 89.5px,#432871 90.5px,#2a7489 91.5px,#25858d 92.5px,#365a89 93.5px,#462d79 94.5px,#482576 95.5px 96.5px,#443179 97.5px,#2d7589 98.5px,#269d86 99.5px,#2c788c 100.5px,#3e4b88 101.5px,#404487 102.5px,#3e4989 103.5px,#3b518b 104.5px,#3f4889 105.5px,#414487 106.5px,#3c4f88 107.5px,#278c89 108.5px,#35b37a 109.5px,#4ec16b 110.5px,#2aa781 111.5px,#259689 112.5px,#34b27b 113.5px,#38b777 114.5px,#71cc56 115.5px,#bddd29 116.5px,#98d83e 117.5px,#8bd646 118.5px,#9cd93b 119.5px,#91d742 120.5px,#b8de2a 121.5px,#c0df26 122.5px,#7bd050 123.5px,#3fb874 124.5px,#249e87 125.5px,#28ab81 126.5px,#35b579 127.5px,#62c85f 128.5px,#a2d837 129.5px,#6ccb59 130.5px,#84d34a 131.5px,#99d83d 132.5px,#7bd150 133.5px,#a1da38 134.5px,#afdc2f 135.5px,#90d743 136.5px,#7bd04f 137.5px,#34b279 138.5px,#2aae7f 139.5px,#4fc26a 140.5px,#6ccc59 141.5px,#39b577 142.5px,#24a584 143.5px,#30b37c 144.5px)"></div><div style="top:9px;height:1px;background:linear-gradient(90deg,#440154 0.5px 65.5px,#450457 66.5px,#471769 67.5px,#472575 68.5px,#471567 69.5px,#460b5e 70.5px,#460a5d 71.5px 72.5px,#460c5f 73.5px,#471163 74.5px,#481769 75.5px,#48196b 76.5px 78.5px,#48186a 79.5px,#470f62 80.5px,#460c5f 81.5px,#470d60 82.5px,#411f66 83.5px,#278085 84.5px,#299783 85.5px,#41437e 86.5px,#481e6f 87.5px,#48196c 88.5px 89.5px,#442770 90.5px,#2c7089 91.5px,#24878d 92.5px,#34608a 93.5px,#452e79 94.5px,#482576 95.5px 96.5px,#443079 97.5px,#2f6f89 98.5px,#269c86 99.5px,#2b7b8c 100.5px,#3d4c88 101.5px,#414487 102.5px,#3f4889 103.5px,#3b518b 104.5px,#3e4989 105.5px,#404487 106.5px,#3d4d88 107.5px,#28868a 108.5px,#2fae7d 109.5px,#3ebb74 110.5px,#2dac7f 111.5px,#24938a 112.5px,#27a583 113.5px,#39b777 114.5px,#6acb5a 115.5px,#bcdd29 116.5px,#afdc30 117.5px,#9cd93b 118.5px,#addc31 119.5px,#97d83f 120.5px,#b9de2a 121.5px,#cce023 122.5px,#83d24c 123.5px,#48bd6f 124.5px,#25a185 125.5px,#2aac80 126.5px,#46be70 127.5px,#64c95e 128.5px,#abda32 129.5px,#8ad447 130.5px,#80d34d 131.5px,#9bd83c 132.5px,#7fd24e 133.5px,#9cd93b 134.5px,#b3dd2d 135.5px,#9ed93a 136.5px,#8ad346 137.5px,#37b377 138.5px,#2baf7e 139.5px,#51c369 140.5px,#67ca5c 141.5px,#33b37a 142.5px,#24a784 143.5px,#33b57a 144.5px)"></div><div style="top:10px;height:1px;background:linear-gradient(90deg,#440154 0.5px 65.5px,#450457 66.5px,#471567 67.5px,#472776 68.5px,#471668 69.5px,#460b5e 70.5px,#460a5d 71.5px 72.5px,#460b5f 73.5px,#471063 74.5px,#481668 75.5px,#481769 76.5px 79.5px,#470f62 80.5px,#460c5f 81.5px 82.5px,#421e66 83.5px,#297a86 84.5px,#289485 85.5px,#40447f 86.5px,#471d6e 87.5px,#48186b 88.5px 89.5px,#442570 90.5px,#2e6b89 91.5px,#24888d 92.5px,#31658a 93.5px,#452f79 94.5px,#482576 95.5px 96.5px,#452f79 97.5px,#316a89 98.5px,#269b86 99.5px,#297f8c 100.5px,#3d4c88 101.5px,#414487 102.5px,#3f4888 103.5px,#3b518b 104.5px,#3e4a89 105.5px,#404587 106.5px,#3d4c88 107.5px,#2a808b 108.5px,#2aaa80 109.5px,#2eb27d 110.5px,#31b17c 111.5px,#249889 112.5px,#259888 113.5px,#3db775 114.5px,#70cd56 115.5px,#b4dd2c 116.5px,#c8e022 117.5px,#b1dd2f 118.5px,#b7de2a 119.5px,#a0da39 120.5px,#bbde2a 121.5px,#d4e122 122.5px,#90d545 123.5px,#55c367 124.5px,#28a782 125.5px,#2dae7e 126.5px,#5ac664 127.5px,#68cb5b 128.5px,#abdb32 129.5px,#aadb33 130.5px,#7fd24e 131.5px,#94d740 132.5px,#89d548 133.5px,#92d742 134.5px,#b1dd2e 135.5px,#addc30 136.5px,#96d53f 137.5px,#39b476 138.5px,#2baf7f 139.5px,#4bc16d 140.5px,#5ec862 141.5px,#32b27b 142.5px,#24a784 143.5px,#30b37b 144.5px)"></div><div style="top:11px;height:1px;background:linear-gradient(90deg,#440154 0.5px 65.5px,#450356 66.5px,#471264 67.5px,#472776 68.5px,#47186a 69.5px,#460b5f 70.5px,#460a5d 71.5px 72.5px,#460a5e 73.5px,#470f62 74.5px,#481567 75.5px,#481568 76.5px,#481668 77.5px 78.5px,#481467 79.5px,#470e61 80.5px,#460c5f 81.5px 82.5px,#421d66 83.5px,#2a7586 84.5px,#269186 85.5px,#3f4681 86.5px,#471d6e 87.5px,#48186a 88.5px 89.5px,#44246f 90.5px,#306789 91.5px,#24898c 92.5px,#2f6b8a 93.5px,#443079 94.5px,#482576 95.5px 96.5px,#452e79 97.5px,#346389 98.5px,#269b86 99.5px,#28828b 100.5px,#3d4d88 101.5px,#414487 102.5px,#3f4788 103.5px,#3b508b 104.5px,#3e4b89 105.5px,#404587 106.5px,#3d4b88 107.5px,#2c7b8b 108.5px,#28a782 109.5px,#26aa82 110.5px,#34b47a 111.5px,#26a384 112.5px,#269289 113.5px,#3eb475 114.5px,#7fd14d 115.5px,#addc33 116.5px,#dae220 117.5px,#c1df26 118.5px,#b5dd2b 119.5px,#a4db36 120.5px,#b7de2c 121.5px,#d3e121 122.5px,#99d83f 123.5px,#62c85f 124.5px,#2bab7f 125.5px,#32b17b 126.5px,#6acb5a 127.5px,#6bcc5a 128.5px,#a4da37 129.5px,#c1de27 130.5px,#7ed14f 131.5px,#85d44a 132.5px,#92d742 133.5px,#87d448 134.5px,#a8db34 135.5px,#b9de29 136.5px,#9ad63c 137.5px,#38b376 138.5px,#28ad80 139.5px,#3dba74 140.5px,#52c468 141.5px,#32b37a 142.5px,#23a585 143.5px,#2cb07e 144.5px)"></div><div style="top:12px;height:1px;background:linear-gradient(90deg,#440154 0.5px 65.5px,#440356 66.5px,#461163 67.5px,#472675 68.5px,#481a6c 69.5px,#460c5f 70.5px,#460a5d 71.5px 72.5px,#460a5e 73.5px,#470e61 74.5px,#481366 75.5px,#481467 76.5px 78.5px,#471366 79.5px,#470e61 80.5px,#460b5f 81.5px,#460c5f 82.5px,#431c66 83.5px,#2c6f87 84.5px,#268f88 85.5px,#3e4882 86.5px,#471d6d 87.5px,#481769 88.5px 89.5px,#45226e 90.5px,#326388 91.5px,#238a8c 92.5px,#2d708a 93.5px,#443179 94.5px,#482576 95.5px 96.5px,#462d79 97.5px,#375d88 98.5px,#269a86 99.5px,#27868b 100.5px,#3c4e88 101.5px,#414487 102.5px,#404688 103.5px,#3c4f8a 104.5px,#3d4c8a 105.5px,#404588 106.5px,#3e4b88 107.5px,#2e768b 108.5px,#27a583 109.5px,#24a784 110.5px,#35b679 111.5px,#30ae7d 112.5px,#279389 113.5px,#3bb177 114.5px,#89d347 115.5px,#a5da3a 116.5px,#dfe324 117.5px,#c1df28 118.5px,#a6db35 119.5px,#9bd93c 120.5px,#a9db34 121.5px,#c6e024 122.5px,#99d83e 123.5px,#66c95d 124.5px,#2dad7e 125.5px,#34b37a 126.5px,#6bcc59 127.5px,#65cb5d 128.5px,#99d73e 129.5px,#c5df27 130.5px,#79d053 131.5px,#73cf55 132.5px,#94d740 133.5px,#7ed24f 134.5px,#99d83d 135.5px,#bdde27 136.5px,#98d53d 137.5px,#36b178 138.5px,#25ab82 139.5px,#2eb17d 140.5px,#46bf6f 141.5px,#38b777 142.5px,#24a385 143.5px,#26ab82 144.5px)"></div><div style="top:13px;height:1px;background:linear-gradient(90deg,#440154 0.5px 65.5px,#440355 66.5px,#460e60 67.5px,#482273 68.5px,#481b6d 69.5px,#460b5e 70.5px,#46095d 71.5px,#460a5d 72.5px 73.5px,#470d60 74.5px,#471264 75.5px,#471365 76.5px 78.5px,#471265 79.5px,#470d60 80.5px,#460b5f 81.5px,#460c5f 82.5px,#431b66 83.5px,#2f6987 84.5px,#268b89 85.5px,#3d4983 86.5px,#471d6d 87.5px,#481769 88.5px 89.5px,#45216e 90.5px,#345e88 91.5px,#238b8c 92.5px,#2b758a 93.5px,#433279 94.5px,#482576 95.5px 96.5px,#462b79 97.5px,#3a5787 98.5px,#269986 99.5px,#258a8a 100.5px,#3c4e88 101.5px,#414487 102.5px,#404688 103.5px,#3c4e8a 104.5px,#3d4d8a 105.5px,#404588 106.5px,#3e4a88 107.5px,#2f718b 108.5px,#26a384 109.5px,#25a883 110.5px,#37b778 111.5px,#3ab577 112.5px,#279888 113.5px,#37af79 114.5px,#87d248 115.5px,#9bd83f 116.5px,#d7e226 117.5px,#addb34 118.5px,#8ad547 119.5px,#83d44b 120.5px,#8fd644 121.5px,#b0dc2f 122.5px,#8bd546 123.5px,#5ec662 124.5px,#2bac7f 125.5px,#32b27b 126.5px,#60c860 127.5px,#58c665 128.5px,#8bd447 129.5px,#bddd2a 130.5px,#72ce56 131.5px,#64ca5e 132.5px,#8cd545 133.5px,#77d053 134.5px,#8bd547 135.5px,#b8dd2a 136.5px,#93d441 137.5px,#35b179 138.5px,#23a884 139.5px,#25a883 140.5px,#3cb975 141.5px,#44bc71 142.5px,#26a484 143.5px,#23a784 144.5px)"></div><div style="top:14px;height:1px;background:linear-gradient(90deg,#440154 0.5px 65.5px,#440255 66.5px,#460b5e 67.5px,#481e6f 68.5px,#481d6f 69.5px,#460c5f 70.5px,#46095d 71.5px,#460a5d 72.5px 73.5px,#470d60 74.5px,#471062 75.5px,#471063 76.5px,#471164 77.5px 78.5px,#471163 79.5px,#470d60 80.5px,#460b5f 81.5px,#460c5f 82.5px,#431966 83.5px,#316387 84.5px,#26898a 85.5px,#3c4b84 86.5px,#471c6c 87.5px,#481668 88.5px 89.5px,#451f6d 90.5px,#365987 91.5px,#238c8b 92.5px,#297a8a 93.5px,#433279 94.5px,#482576 95.5px 96.5px,#472a78 97.5px,#3c5185 98.5px,#269985 99.5px,#248d89 100.5px,#3c4f88 101.5px,#414487 102.5px,#404588 103.5px,#3d4d8a 104.5px,#3c4e8a 105.5px,#404688 106.5px,#3e4988 107.5px,#316c8b 108.5px,#25a085 109.5px,#26ab82 110.5px,#39b977 111.5px,#3db775 112.5px,#269a87 113.5px,#32ad7b 114.5px,#7acf51 115.5px,#8bd547 116.5px,#c3de29 117.5px,#89d449 118.5px,#6ccd5a 119.5px,#64ca5e 120.5px,#72cf55 121.5px,#95d740 122.5px,#76d053 123.5px,#4ec16b 124.5px,#27a882 125.5px,#2db07e 126.5px,#4cc16c 127.5px,#49c06d 128.5px,#7ed14e 129.5px,#b0db2f 130.5px,#6ecd58 131.5px,#5cc862 132.5px,#83d34b 133.5px,#75d054 134.5px,#81d34c 135.5px,#aedc30 136.5px,#90d442 137.5px,#37b278 138.5px,#23a884 139.5px,#22a386 140.5px,#36b578 141.5px,#50c26a 142.5px,#2aaa80 143.5px,#21a585 144.5px)"></div><div style="top:15px;height:1px;background:linear-gradient(90deg,#440154 0.5px 65.5px,#440255 66.5px,#46085c 67.5px,#48196b 68.5px,#482071 69.5px,#460c5f 70.5px,#46095d 71.5px,#460a5d 72.5px 73.5px,#460c5f 74.5px,#470e61 75.5px 76.5px,#470f62 77.5px,#471062 78.5px,#470f62 79.5px,#470d60 80.5px,#460b5f 81.5px,#460c5f 82.5px,#441866 83.5px,#335d87 84.5px,#26858b 85.5px,#3c4c84 86.5px,#461c6c 87.5px,#481568 88.5px 89.5px,#461e6d 90.5px,#385486 91.5px,#238d8b 92.5px,#277f8a 93.5px,#433379 94.5px,#482576 95.5px 96.5px,#472978 97.5px,#3f4982 98.5px,#279885 99.5px,#249188 100.5px,#3c5087 101.5px,#414487 102.5px,#404588 103.5px,#3d4c8a 104.5px,#3c4f8a 105.5px,#404788 106.5px,#3f4888 107.5px,#33668b 108.5px,#259e85 109.5px,#28ad80 110.5px,#3ab976 111.5px,#3bb677 112.5px,#269988 113.5px,#2eab7e 114.5px,#65c95d 115.5px,#7ad151 116.5px,#a5d936 117.5px,#62c85e 118.5px,#50c469 119.5px,#46bf6f 120.5px,#59c764 121.5px,#7cd14f 122.5px,#5ec861 123.5px,#3db975 124.5px,#24a584 125.5px,#28ac81 126.5px,#3bba76 127.5px,#3fbb73 128.5px,#77cf52 129.5px,#a7da34 130.5px,#73ce55 131.5px,#5dc862 132.5px,#7dd24f 133.5px,#7ed24f 134.5px,#81d34d 135.5px,#a5db36 136.5px,#96d53e 137.5px,#3cb674 138.5px,#24a983 139.5px,#22a485 140.5px,#34b479 141.5px,#58c565 142.5px,#38b677 143.5px,#24a884 144.5px)"></div><div style="top:16px;height:1px;background:linear-gradient(90deg,#440154 0.5px 65.5px,#440254 66.5px,#450659 67.5px,#471567 68.5px,#472273 69.5px,#460d60 70.5px,#46095d 71.5px,#460a5d 72.5px 73.5px,#460b5e 74.5px,#470d60 75.5px 78.5px,#470e61 79.5px,#460c5f 80.5px,#460b5e 81.5px,#460c5f 82.5px,#441766 83.5px,#365786 84.5px,#27828b 85.5px,#3b4e85 86.5px,#461c6c 87.5px,#481467 88.5px 89.5px,#461c6c 90.5px,#3a4f85 91.5px,#238e8a 92.5px,#268489 93.5px,#423479 94.5px,#482576 95.5px 96.5px,#482777 97.5px,#41427f 98.5px,#279784 99.5px,#249487 100.5px,#3c5187 101.5px,#414487 102.5px,#404587 103.5px,#3e4b89 104.5px,#3b508b 105.5px,#3f4788 106.5px 107.5px,#36608b 108.5px,#259c86 109.5px,#29ae80 110.5px,#39b976 111.5px,#34b17b 112.5px,#269589 113.5px,#2aa980 114.5px,#50c26a 115.5px,#6acc5a 116.5px,#84d24a 117.5px,#47bd6e 118.5px,#3fbc73 119.5px,#33b47a 120.5px,#4ac06d 121.5px,#6acc5b 122.5px,#4cc16c 123.5px,#32b47b 124.5px,#22a585 125.5px,#24a983 126.5px,#31b47b 127.5px,#3eba74 128.5px,#76cf53 129.5px,#a8db33 130.5px,#83d34b 131.5px,#67cb5c 132.5px,#7fd34e 133.5px,#8ed644 134.5px,#88d548 135.5px,#a0da39 136.5px,#a2d837 137.5px,#46bb6e 138.5px,#28ad81 139.5px,#25aa83 140.5px,#35b579 141.5px,#5ac764 142.5px,#4ec16b 143.5px,#2bae7f 144.5px)"></div><div style="top:17px;height:1px;background:linear-gradient(90deg,#440154 0.5px 66.5px,#450457 67.5px,#471264 68.5px,#472474 69.5px,#460d60 70.5px,#46095c 71.5px,#46095d 72.5px,#460a5d 73.5px 74.5px,#460b5e 75.5px 76.5px,#460b5f 77.5px,#460c5f 78.5px 79.5px,#460b5e 80.5px 81.5px,#460c5f 82.5px,#451666 83.5px,#395185 84.5px,#287f8c 85.5px,#3a5086 86.5px,#461d6c 87.5px,#481567 88.5px,#481467 89.5px,#471b6b 90.5px,#3c4a83 91.5px,#238e89 92.5px,#258988 93.5px,#423679 94.5px,#482676 95.5px,#482576 96.5px,#482676 97.5px,#423b7b 98.5px,#279583 99.5px,#259786 100.5px,#3c5287 101.5px,#404487 102.5px,#404587 103.5px,#3e4a89 104.5px,#3b518b 105.5px,#3f4888 106.5px,#404688 107.5px,#385a8a 108.5px,#259a86 109.5px,#2aae7f 110.5px,#39b977 111.5px,#2cac7f 112.5px,#25918a 113.5px,#27a782 114.5px,#3fbb73 115.5px,#5fc961 116.5px,#67ca5c 117.5px,#37b677 118.5px,#37b778 119.5px,#2bad7f 120.5px,#45be70 121.5px,#63ca5f 122.5px,#42bd71 123.5px,#2db17d 124.5px,#22a685 125.5px,#23a784 126.5px,#31b47b 127.5px,#43bd70 128.5px,#7ad051 129.5px,#b5dd2c 130.5px,#9cd83b 131.5px,#74cf54 132.5px,#87d548 133.5px,#a0da39 134.5px,#8fd644 135.5px,#9fd93a 136.5px,#b0da2f 137.5px,#50c069 138.5px,#2db17d 139.5px,#2bb07f 140.5px,#36b778 141.5px,#56c666 142.5px,#61c960 143.5px,#33b47a 144.5px)"></div><div style="top:18px;height:1px;background:linear-gradient(90deg,#440154 0.5px 66.5px,#440356 67.5px,#461062 68.5px,#462675 69.5px,#460f62 70.5px,#460a5d 71.5px 76.5px,#460b5e 77.5px 81.5px,#460c5f 82.5px,#451565 83.5px,#3b4b84 84.5px,#2a7a8c 85.5px,#3a5187 86.5px,#462371 87.5px,#481b6c 88.5px,#481568 89.5px,#471a6b 90.5px,#3e4682 91.5px,#248b8a 92.5px,#248b88 93.5px,#423b7c 94.5px,#472a79 95.5px,#482576 96.5px,#482475 97.5px,#423678 98.5px,#269184 99.5px,#259886 100.5px,#3a5688 101.5px,#3f4889 102.5px,#404588 103.5px,#3e4989 104.5px,#3b518b 105.5px,#3f4889 106.5px,#404588 107.5px,#3a5689 108.5px,#259986 109.5px,#2aae7f 110.5px,#3bb976 111.5px,#29a882 112.5px,#248f8b 113.5px,#24a485 114.5px,#33b47a 115.5px,#54c567 116.5px,#51c369 117.5px,#31b37b 118.5px,#37b778 119.5px,#2bad7f 120.5px,#49bf6d 121.5px,#69cc5b 122.5px,#44be70 123.5px,#32b57b 124.5px,#26ab82 125.5px,#24a784 126.5px,#3bb975 127.5px,#50c369 128.5px,#80d24e 129.5px,#c9e024 130.5px,#b7dd2b 131.5px,#81d34d 132.5px,#92d742 133.5px,#acdc31 134.5px,#91d743 135.5px,#a0da39 136.5px,#badc2b 137.5px,#59c464 138.5px,#33b67a 139.5px,#30b47b 140.5px,#33b57a 141.5px,#4dc26b 142.5px,#66ca5c 143.5px,#34b479 144.5px)"></div><div style="top:19px;height:1px;background:linear-gradient(90deg,#440154 0.5px 66.5px,#440255 67.5px,#460e60 68.5px,#462775 69.5px,#471264 70.5px,#460b5f 71.5px,#460a5d 72.5px 76.5px,#460b5e 77.5px 81.5px,#460c5f 82.5px,#461565 83.5px,#3d4683 84.5px,#2c738d 85.5px,#3a5188 86.5px,#462c79 87.5px,#482474 88.5px,#481769 89.5px,#471a6b 90.5px,#3f4281 91.5px,#26848b 92.5px,#248c89 93.5px,#404482 94.5px,#45347f 95.5px,#482676 96.5px,#482475 97.5px,#423478 98.5px,#258987 99.5px,#239588 100.5px,#375d8a 101.5px,#3b508a 102.5px,#404688 103.5px,#3f4889 104.5px,#3b518b 105.5px,#3e4989 106.5px,#404588 107.5px,#3a5589 108.5px,#249587 109.5px,#2aae7f 110.5px,#3fbb73 111.5px,#28a782 112.5px,#248d8c 113.5px,#21a087 114.5px,#2bae7f 115.5px,#48c06e 116.5px,#46bf70 117.5px,#2fb27c 118.5px,#3fbb74 119.5px,#31b27b 120.5px,#50c269 121.5px,#77d053 122.5px,#51c369 123.5px,#3fbc73 124.5px,#31b37b 125.5px,#2faf7d 126.5px,#53c368 127.5px,#63ca5f 128.5px,#84d34d 129.5px,#d9e223 130.5px,#cbe023 131.5px,#88d448 132.5px,#99d83d 133.5px,#abdc31 134.5px,#89d548 135.5px,#a0da39 136.5px,#bbdc2a 137.5px,#5cc562 138.5px,#3aba76 139.5px,#32b57b 140.5px,#2bb07e 141.5px,#40bb72 142.5px,#5fc761 143.5px,#30b07c 144.5px)"></div><div style="top:20px;height:1px;background:linear-gradient(90deg,#440154 0.5px 66.5px,#440255 67.5px,#460d5f 68.5px,#462675 69.5px,#471466 70.5px,#470e61 71.5px,#460a5e 72.5px,#460a5d 73.5px 75.5px,#460b5e 76.5px 81.5px,#460c5f 82.5px,#461465 83.5px,#3f4182 84.5px,#2f6b8d 85.5px,#3b5189 86.5px,#443780 87.5px,#462e7b 88.5px,#47186a 89.5px,#47196b 90.5px,#403e80 91.5px,#297c8c 92.5px,#248c8a 93.5px,#3d4e87 94.5px,#423d84 95.5px,#472776 96.5px,#482374 97.5px,#433277 98.5px,#278189 99.5px,#22918a 100.5px,#33648c 101.5px,#38588c 102.5px,#3f4788 103.5px,#3f4888 104.5px,#3b518b 105.5px,#3e4a89 106.5px,#404588 107.5px,#3a5589 108.5px,#249289 109.5px,#2aad7f 110.5px,#41bc72 111.5px,#29a682 112.5px,#25898c 113.5px,#209a89 114.5px,#25a883 115.5px,#3bb976 116.5px,#44be71 117.5px,#31b37b 118.5px,#48bf6e 119.5px,#3bba75 120.5px,#51c369 121.5px,#7dd14f 122.5px,#65cb5e 123.5px,#51c469 124.5px,#4bc16c 125.5px,#51c269 126.5px,#7fd14e 127.5px,#7cd250 128.5px,#84d24e 129.5px,#dee226 130.5px,#d2e122 131.5px,#87d34a 132.5px,#98d83e 133.5px,#9ed93a 134.5px,#7bd150 135.5px,#9dd93b 136.5px,#b5dc2c 137.5px,#5bc563 138.5px,#3ebc74 139.5px,#2fb37c 140.5px,#25a883 141.5px,#33b47a 142.5px,#4fc16a 143.5px,#2aab80 144.5px)"></div><div style="top:21px;height:1px;background:linear-gradient(90deg,#440154 0.5px 66.5px,#440255 67.5px,#460b5e 68.5px,#472574 69.5px,#471769 70.5px,#471063 71.5px,#460b5e 72.5px,#460a5d 73.5px 74.5px,#460b5e 75.5px 81.5px,#460c5f 82.5px,#461365 83.5px,#413c80 84.5px,#32648c 85.5px,#3b518a 86.5px,#424085 87.5px,#433880 88.5px,#471a6b 89.5px,#47196a 90.5px,#423a7f 91.5px,#2c748c 92.5px,#248c8a 93.5px,#39588a 94.5px,#3f4787 95.5px,#472977 96.5px,#482374 97.5px,#433077 98.5px,#29798a 99.5px,#228e8b 100.5px,#306b8d 101.5px,#345f8d 102.5px,#3f4888 103.5px,#3f4788 104.5px,#3b508b 105.5px,#3e4b89 106.5px,#404688 107.5px,#3a548a 108.5px,#258b8a 109.5px,#2aab80 110.5px,#3fbb73 111.5px,#29a383 112.5px,#297e8c 113.5px,#21918b 114.5px,#219f88 115.5px,#2dae7e 116.5px,#45bd70 117.5px,#33b37a 118.5px,#4cc16c 119.5px,#4ac16d 120.5px,#4bc16c 121.5px,#72cf55 122.5px,#78d152 123.5px,#61ca60 124.5px,#5dc962 125.5px,#6acc5b 126.5px,#94d741 127.5px,#8cd646 128.5px,#82d24e 129.5px,#d8e124 130.5px,#cce023 131.5px,#7ed14f 132.5px,#8fd643 133.5px,#89d548 134.5px,#6dcd59 135.5px,#99d83d 136.5px,#a9da33 137.5px,#5ac563 138.5px,#43be71 139.5px,#2caf7e 140.5px,#21a187 141.5px,#2bad7f 142.5px,#40ba73 143.5px,#26a783 144.5px)"></div><div style="top:22px;height:1px;background:linear-gradient(90deg,#440154 0.5px 66.5px,#440255 67.5px,#460a5d 68.5px,#472172 69.5px,#481a6c 70.5px,#471265 71.5px,#460b5e 72.5px,#460a5d 73.5px,#460b5e 74.5px 81.5px,#460c5f 82.5px,#461264 83.5px,#43377e 84.5px,#365c8b 85.5px,#3b518b 86.5px,#3e4a89 87.5px,#404284 88.5px,#461c6b 89.5px,#47186a 90.5px,#43367d 91.5px,#2f6c8b 92.5px,#248c8a 93.5px,#35618c 94.5px,#3a5089 95.5px,#462a77 96.5px,#482374 97.5px,#442f77 98.5px,#2c718a 99.5px,#238b8c 100.5px,#2d718e 101.5px,#31668d 102.5px,#3e4988 103.5px,#404788 104.5px,#3c4f8a 105.5px,#3d4c8a 106.5px,#404688 107.5px,#3a548a 108.5px,#29818c 109.5px,#28a782 110.5px,#37b778 111.5px,#29a283 112.5px,#2d748c 113.5px,#26848d 114.5px,#20948b 115.5px,#269d86 116.5px,#3eb874 117.5px,#31b37b 118.5px,#46bf6f 119.5px,#52c469 120.5px,#44be70 121.5px,#59c664 122.5px,#82d34b 123.5px,#6ece58 124.5px,#62ca60 125.5px,#71cf56 126.5px,#91d742 127.5px,#91d743 128.5px,#7ed14f 129.5px,#c8df24 130.5px,#c0de26 131.5px,#76cf53 132.5px,#85d44a 133.5px,#75d054 134.5px,#64ca5e 135.5px,#96d73f 136.5px,#a1d938 137.5px,#5ec761 138.5px,#49c06e 139.5px,#2aac80 140.5px,#209c89 141.5px,#25a883 142.5px,#35b579 143.5px,#26aa82 144.5px)"></div><div style="top:23px;height:1px;background:linear-gradient(90deg,#440154 0.5px 66.5px,#440255 67.5px,#45095c 68.5px,#481d6e 69.5px,#481e6f 70.5px,#481467 71.5px,#470c5f 72.5px,#460b5e 73.5px 81.5px,#460c5f 82.5px,#471264 83.5px,#44327c 84.5px,#39548a 85.5px,#3b518b 86.5px,#3a538b 87.5px,#3c4b86 88.5px,#461d6c 89.5px,#48186a 90.5px,#44317b 91.5px,#32648a 92.5px,#248c8b 93.5px,#31698d 94.5px,#375889 95.5px,#452a76 96.5px,#482273 97.5px,#442c77 98.5px,#30688a 99.5px,#24878d 100.5px,#2a788e 101.5px,#2e6d8d 102.5px,#3e4b88 103.5px,#404688 104.5px,#3c4e8a 105.5px,#3d4d8a 106.5px,#3f4788 107.5px,#3b528a 108.5px,#2d758c 109.5px,#27a384 110.5px,#2db17d 111.5px,#2ca781 112.5px,#2e768c 113.5px,#2a778e 114.5px,#238b8d 115.5px,#258f8b 116.5px,#2dab7f 117.5px,#2bb07f 118.5px,#36b778 119.5px,#45be70 120.5px,#37b778 121.5px,#3db874 122.5px,#74ce54 123.5px,#73cf55 124.5px,#61ca60 125.5px,#73cf55 126.5px,#84d44b 127.5px,#90d643 128.5px,#7cd14f 129.5px,#b3dc2d 130.5px,#b7dd2b 131.5px,#72ce56 132.5px,#7cd24f 133.5px,#6bcd5a 134.5px,#65cb5d 135.5px,#98d83e 136.5px,#a0d939 137.5px,#69cc5b 138.5px,#53c468 139.5px,#2bac80 140.5px,#209b89 141.5px,#22a485 142.5px,#2fb27c 143.5px,#2db17d 144.5px)"></div><div style="top:24px;height:1px;background:linear-gradient(90deg,#440154 0.5px 66.5px,#440255 67.5px,#45075a 68.5px,#48186a 69.5px,#482272 70.5px,#481669 71.5px,#470d60 72.5px,#460b5e 73.5px 80.5px,#460b5f 81.5px,#470c5f 82.5px,#471163 83.5px,#452c79 84.5px,#3d4b88 85.5px,#3b518b 86.5px,#365b8c 87.5px,#385388 88.5px,#451e6c 89.5px,#481769 90.5px,#452d79 91.5px,#365c89 92.5px,#248c8a 93.5px,#2d718d 94.5px,#33608a 95.5px,#452b76 96.5px,#482172 97.5px,#452b76 98.5px,#33608a 99.5px,#26838d 100.5px,#277e8e 101.5px,#2c748d 102.5px,#3d4c88 103.5px,#404588 104.5px,#3e4a89 105.5px 106.5px,#404688 107.5px,#3b508a 108.5px,#326a8c 109.5px,#259f85 110.5px,#28ad81 111.5px,#32af7c 112.5px,#2a898a 113.5px,#2e708d 114.5px,#24878d 115.5px,#238b8d 116.5px,#229d88 117.5px,#25aa83 118.5px,#29ae80 119.5px,#2bae7f 120.5px,#26a982 121.5px,#29a682 122.5px,#51c06a 123.5px,#65cb5d 124.5px,#56c666 125.5px,#67cc5c 126.5px,#6ecd58 127.5px,#88d548 128.5px,#7bd150 129.5px,#9fd939 130.5px,#b5dc2c 131.5px,#74ce54 132.5px,#78d152 133.5px,#6dce59 134.5px,#6dcd59 135.5px,#9cd93b 136.5px,#a9db33 137.5px,#7ed24e 138.5px,#61c860 139.5px,#2fae7d 140.5px,#209d89 141.5px,#21a187 142.5px,#2db07e 143.5px,#3cba75 144.5px)"></div><div style="top:25px;height:1px;background:linear-gradient(90deg,#440154 0.5px 66.5px,#440254 67.5px,#450659 68.5px,#471466 69.5px,#472676 70.5px,#48196b 71.5px,#470d60 72.5px,#460b5e 73.5px 80.5px,#460c5f 81.5px,#470d60 82.5px,#471063 83.5px,#472776 84.5px,#404386 85.5px,#3b508a 86.5px,#33638d 87.5px,#345b88 88.5px,#44206c 89.5px,#481769 90.5px,#462976 91.5px,#3a5487 92.5px,#248b8a 93.5px,#2a798e 94.5px,#30688a 95.5px,#442c76 96.5px,#482072 97.5px,#462875 98.5px,#375789 99.5px,#27808e 100.5px,#25848e 101.5px,#297b8d 102.5px,#3d4d88 103.5px,#414487 104.5px,#404587 105.5px 106.5px,#404588 107.5px,#3c4e8a 108.5px,#35628b 109.5px,#249c86 110.5px,#26aa82 111.5px,#39b777 112.5px,#2ea181 113.5px,#30708c 114.5px,#25868d 115.5px,#21918c 116.5px,#20968b 117.5px,#25a783 118.5px,#2fb07d 119.5px,#23a386 120.5px,#209d89 121.5px,#22988a 122.5px,#2fae7d 123.5px,#4ac06d 124.5px,#40bd72 125.5px,#47bf6f 126.5px,#4bc06c 127.5px,#77d052 128.5px,#76d053 129.5px,#90d643 130.5px,#bcdd2a 131.5px,#7bd150 132.5px,#7ad151 133.5px,#7bd250 134.5px,#79d152 135.5px,#a1da38 136.5px,#b7de2a 137.5px,#94d740 138.5px,#6ecd58 139.5px,#34b27a 140.5px,#209f88 141.5px,#209e88 142.5px,#2bad7f 143.5px,#49c06e 144.5px)"></div><div style="top:26px;height:1px;background:linear-gradient(90deg,#440154 0.5px 66.5px,#440254 67.5px,#450558 68.5px,#461163 69.5px,#472977 70.5px,#481c6d 71.5px,#470d60 72.5px,#460b5e 73.5px 79.5px,#460c5f 80.5px,#470c5f 81.5px,#470d60 82.5px,#471062 83.5px,#472272 84.5px,#433982 85.5px,#3b508a 86.5px,#2f6c8e 87.5px,#316489 88.5px,#44216c 89.5px,#481668 90.5px,#472474 91.5px,#3d4a84 92.5px,#258b8a 93.5px,#27818e 94.5px,#2c708a 95.5px,#442d75 96.5px,#482071 97.5px,#472675 98.5px,#3b4e87 99.5px,#287c8d 100.5px,#238b8d 101.5px,#26828c 102.5px,#3c4e88 103.5px,#414487 104.5px 106.5px,#404587 107.5px,#3d4c8a 108.5px,#375f8b 109.5px,#249a86 110.5px,#26aa82 111.5px,#41bc72 112.5px,#47b372 113.5px,#347589 114.5px,#26838d 115.5px,#20988a 116.5px,#21958b 117.5px,#2ba980 118.5px,#52c069 119.5px,#2eac7e 120.5px,#23a385 121.5px,#229c88 122.5px,#28a782 123.5px,#41bb72 124.5px,#35b778 125.5px,#2eb27d 126.5px,#32b27a 127.5px,#67ca5c 128.5px,#70cf57 129.5px,#86d34b 130.5px,#c7df2a 131.5px,#86d34b 132.5px,#7dd24f 133.5px,#8dd645 134.5px,#80d34d 135.5px,#9ed93a 136.5px,#c2df24 137.5px,#a6db35 138.5px,#7ad051 139.5px,#3ab676 140.5px,#21a087 141.5px,#1f998a 142.5px,#27a882 143.5px,#47bf6f 144.5px)"></div><div style="top:27px;height:1px;background:linear-gradient(90deg,#440154 0.5px 67.5px,#450356 68.5px,#460d60 69.5px,#462977 70.5px,#481e6f 71.5px,#470e61 72.5px,#460b5e 73.5px 76.5px,#460b5f 77.5px 78.5px,#460c5f 79.5px,#470c5f 80.5px,#470d60 81.5px 82.5px,#470f62 83.5px,#481c6d 84.5px,#45307c 85.5px,#3b4f89 86.5px,#2c748e 87.5px,#2d6c89 88.5px,#43226c 89.5px,#481668 90.5px,#482070 91.5px,#40407f 92.5px,#258a89 93.5px,#24888d 94.5px,#29778a 95.5px,#432d75 96.5px,#481f71 97.5px,#472473 98.5px,#3f4484 99.5px,#2a788d 100.5px,#21918c 101.5px,#24898b 102.5px,#3c4f88 103.5px,#414487 104.5px 106.5px,#404587 107.5px,#3e4b89 108.5px,#375d8a 109.5px,#249a86 110.5px,#29ac80 111.5px,#4bc06c 112.5px,#5fbe64 113.5px,#367c87 114.5px,#27818d 115.5px,#219b89 116.5px,#22948b 117.5px,#35ac7a 118.5px,#83cf4a 119.5px,#4ec06a 120.5px,#3eb974 121.5px,#32b27b 122.5px,#39b676 123.5px,#5ec761 124.5px,#4bc06c 125.5px,#33b57a 126.5px,#34b37a 127.5px,#68cb5c 128.5px,#6fcf57 129.5px,#7fd151 130.5px,#d0e02c 131.5px,#93d644 132.5px,#7ed24f 133.5px,#9ed93a 134.5px,#86d44a 135.5px,#96d740 136.5px,#c5df23 137.5px,#b0dc2f 138.5px,#83d24b 139.5px,#40b973 140.5px,#229e87 141.5px,#20958b 142.5px,#23a286 143.5px,#39b777 144.5px)"></div><div style="top:28px;height:1px;background:linear-gradient(90deg,#440154 0.5px 67.5px,#440356 68.5px,#450b5d 69.5px,#472776 70.5px,#482071 71.5px,#470f61 72.5px,#460c5f 73.5px,#460b5f 74.5px 75.5px,#460c5f 76.5px,#470c5f 77.5px,#470d60 78.5px 82.5px,#470e61 83.5px,#481668 84.5px,#462674 85.5px,#3b4e87 86.5px,#297b8d 87.5px,#2a7388 88.5px,#43246c 89.5px,#481567 90.5px,#481b6d 91.5px,#423779 92.5px,#258a87 93.5px,#21908c 94.5px,#277f89 95.5px,#432e74 96.5px,#481f70 97.5px,#482272 98.5px,#423a7f 99.5px,#2c748b 100.5px,#20978a 101.5px,#249089 102.5px,#3c5087 103.5px,#414487 104.5px 106.5px,#404587 107.5px,#3e4a89 108.5px,#385b8a 109.5px,#259a85 110.5px,#2daf7e 111.5px,#57c566 112.5px,#6cc35b 113.5px,#378186 114.5px,#28808d 115.5px,#219a89 116.5px,#22948a 117.5px,#3baf76 118.5px,#9fd539 119.5px,#6ecc58 120.5px,#65cb5d 121.5px,#55c567 122.5px,#60c860 123.5px,#93d641 124.5px,#77d052 125.5px,#54c467 126.5px,#50c26a 127.5px,#7ad150 128.5px,#77d153 129.5px,#7dd052 130.5px,#d3e02a 131.5px,#a4da39 132.5px,#7ed24e 133.5px,#a4da36 134.5px,#88d548 135.5px,#88d448 136.5px,#bbde28 137.5px,#b3dd2d 138.5px,#8cd445 139.5px,#44ba71 140.5px,#239b88 141.5px,#20928c 142.5px,#219c88 143.5px,#2aad80 144.5px)"></div><div style="top:29px;height:1px;background:linear-gradient(90deg,#440154 0.5px 67.5px,#440254 68.5px,#45085a 69.5px,#472474 70.5px,#482374 71.5px,#471063 72.5px,#470d60 73.5px 83.5px,#471063 84.5px,#461c6c 85.5px,#3b4d86 86.5px,#26828d 87.5px,#287b88 88.5px,#42256c 89.5px,#481567 90.5px,#481769 91.5px,#422d71 92.5px,#248986 93.5px,#1f978b 94.5px,#258687 95.5px,#423074 96.5px,#481f70 97.5px,#482071 98.5px,#443079 99.5px,#2d708a 100.5px,#229c88 101.5px,#259686 102.5px,#3c5187 103.5px,#414487 104.5px 106.5px,#404587 107.5px,#3e4989 108.5px,#3b5688 109.5px,#279c84 110.5px,#31b27b 111.5px,#5fc861 112.5px,#70c559 113.5px,#368485 114.5px,#287f8d 115.5px,#219989 116.5px,#239789 117.5px,#42b472 118.5px,#a4d736 119.5px,#7cd14f 120.5px,#7dd24f 121.5px,#68cc5c 122.5px,#7dd14f 123.5px,#b5dd2c 124.5px,#95d740 125.5px,#74cf55 126.5px,#71ce56 127.5px,#8ad547 128.5px,#7fd34e 129.5px,#7cd051 130.5px,#cce025 131.5px,#b7dd2c 132.5px,#81d24c 133.5px,#9cd93c 134.5px,#8bd546 135.5px,#7ed24f 136.5px,#a5da35 137.5px,#b1dd2e 138.5px,#99d73d 139.5px,#49bb6e 140.5px,#249988 141.5px,#21918c 142.5px,#20988a 143.5px,#21a486 144.5px)"></div><div style="top:30px;height:1px;background:linear-gradient(90deg,#440154 0.5px 68.5px,#450659 69.5px,#472171 70.5px,#472575 71.5px,#471164 72.5px,#470d60 73.5px 84.5px,#461666 85.5px,#3b4b84 86.5px,#26828d 87.5px,#277e88 88.5px,#432a70 89.5px,#481568 90.5px,#481567 91.5px,#42276c 92.5px,#258486 93.5px,#1f968b 94.5px,#248987 95.5px,#423377 96.5px,#481f71 97.5px,#481e70 98.5px,#442a74 99.5px,#2f6b89 100.5px,#229b88 101.5px,#259886 102.5px,#3b5588 103.5px,#3f4788 104.5px,#414487 105.5px,#414387 106.5px,#404487 107.5px,#3f4888 108.5px,#3d5086 109.5px,#289b83 110.5px,#31b27b 111.5px,#5ec862 112.5px,#6bc45c 113.5px,#348886 114.5px,#27828d 115.5px,#219d88 116.5px,#25a086 117.5px,#4ebd6b 118.5px,#9ed739 119.5px,#80d24d 120.5px,#83d34b 121.5px,#68cc5c 122.5px,#86d449 123.5px,#bbde29 124.5px,#97d83f 125.5px,#80d34d 126.5px,#7fd34e 127.5px,#8dd645 128.5px,#88d548 129.5px,#7dd14f 130.5px,#bdde29 131.5px,#cce023 132.5px,#8dd546 133.5px,#88d548 134.5px,#8cd646 135.5px,#7ad151 136.5px,#8dd645 137.5px,#abdc31 138.5px,#a4d936 139.5px,#4ebd6b 140.5px,#249b87 141.5px,#20948b 142.5px,#20968b 143.5px,#20a087 144.5px)"></div><div style="top:31px;height:1px;background:linear-gradient(90deg,#440154 0.5px 68.5px,#450658 69.5px,#471e6f 70.5px,#472877 71.5px,#471466 72.5px,#470d60 73.5px 84.5px,#461565 85.5px,#3d4683 86.5px,#297c8d 87.5px,#277e8a 88.5px,#423277 89.5px,#48186a 90.5px,#481567 91.5px,#42256c 92.5px,#277c88 93.5px,#218e8c 94.5px,#258889 95.5px,#423a7c 96.5px,#482172 97.5px,#481d6f 98.5px,#452773 99.5px,#316589 100.5px,#22928b 101.5px,#239488 102.5px,#385a8a 103.5px,#3d4d8a 104.5px,#404487 105.5px,#414287 106.5px,#414387 107.5px,#404587 108.5px,#3f4a83 109.5px,#289983 110.5px,#2eb17d 111.5px,#54c467 112.5px,#61c361 113.5px,#308c87 114.5px,#26888c 115.5px,#25a584 116.5px,#2cad7f 117.5px,#61c75f 118.5px,#9ed93a 119.5px,#84d44b 120.5px,#83d34b 121.5px,#65cb5d 122.5px,#89d448 123.5px,#b6dd2b 124.5px,#90d643 125.5px,#83d44b 126.5px,#83d44c 127.5px,#8bd646 128.5px,#94d741 129.5px,#82d34c 130.5px,#aadb36 131.5px,#dbe225 132.5px,#a0d93c 133.5px,#76d053 134.5px,#89d548 135.5px,#7cd250 136.5px,#7bd150 137.5px,#a6db35 138.5px,#aedb30 139.5px,#55c167 140.5px,#25a285 141.5px,#1f9b89 142.5px,#20978b 143.5px,#21a286 144.5px)"></div><div style="top:32px;height:1px;background:linear-gradient(90deg,#440154 0.5px 68.5px,#450558 69.5px,#471b6d 70.5px,#472a78 71.5px,#471668 72.5px,#470e61 73.5px,#470d60 74.5px 84.5px,#461465 85.5px,#3f4182 86.5px,#2c748d 87.5px,#287e8b 88.5px,#42397c 89.5px,#481b6c 90.5px,#481567 91.5px,#43246c 92.5px,#2a7488 93.5px,#25868d 94.5px,#25878a 95.5px,#404180 96.5px,#482373 97.5px,#481d6e 98.5px,#452672 99.5px,#345e89 100.5px,#24898c 101.5px,#23918a 102.5px,#355f8b 103.5px,#3a538b 104.5px,#404487 105.5px,#424186 106.5px,#414286 107.5px 108.5px,#404380 109.5px,#279783 110.5px,#29ad80 111.5px,#48bf6e 112.5px,#5ac165 113.5px,#2d9287 114.5px,#258d8b 115.5px,#2ead7e 116.5px,#3db974 117.5px,#76ce53 118.5px,#a9db33 119.5px,#8fd644 120.5px,#88d448 121.5px,#68cc5c 122.5px,#8cd546 123.5px,#b2dd2d 124.5px,#8fd644 125.5px,#8ad547 126.5px,#88d549 127.5px,#8ed644 128.5px,#a6db35 129.5px,#8bd546 130.5px,#9ad841 131.5px,#e1e327 132.5px,#b6dc2f 133.5px,#6dcc59 134.5px,#81d34c 135.5px,#81d34d 136.5px,#71ce56 137.5px,#a5da36 138.5px,#b6dc2b 139.5px,#5cc462 140.5px,#29aa81 141.5px,#20a187 142.5px,#21998a 143.5px,#25a883 144.5px)"></div><div style="top:33px;height:1px;background:linear-gradient(90deg,#440154 0.5px 68.5px,#450457 69.5px,#47186a 70.5px,#472978 71.5px,#48196b 72.5px,#470e61 73.5px,#470d60 74.5px 84.5px,#461365 85.5px,#413c80 86.5px,#2f6c8c 87.5px,#287d8c 88.5px,#404181 89.5px,#471d6e 90.5px,#481567 91.5px,#43226c 92.5px,#2e6b89 93.5px,#287d8e 94.5px,#26858b 95.5px,#3e4784 96.5px,#472474 97.5px,#481c6e 98.5px,#462471 99.5px,#375788 100.5px,#277f8d 101.5px,#238d8b 102.5px,#33648c 103.5px,#38588c 104.5px,#414386 105.5px,#424086 106.5px 107.5px,#423f85 108.5px,#41407d 109.5px,#289783 110.5px,#26ab82 111.5px,#3fbb73 112.5px,#5ac265 113.5px,#2b9985 114.5px,#26928a 115.5px,#3bb577 116.5px,#52c369 117.5px,#85d34a 118.5px,#bede29 119.5px,#a0da3a 120.5px,#8fd644 121.5px,#72cf56 122.5px,#8ed644 123.5px,#b2dd2d 124.5px,#99d83e 125.5px,#95d840 126.5px,#8fd744 127.5px,#95d840 128.5px,#b5dd2c 129.5px,#96d840 130.5px,#8ed547 131.5px,#dbe224 132.5px,#c4de26 133.5px,#6ccb59 134.5px,#7ad151 135.5px,#82d34c 136.5px,#6ecd58 137.5px,#a4da36 138.5px,#b9dd2a 139.5px,#62c75f 140.5px,#2fb17c 141.5px,#22a585 142.5px,#229b89 143.5px,#2cae7f 144.5px)"></div><div style="top:34px;height:1px;background:linear-gradient(90deg,#440154 0.5px 68.5px,#450457 69.5px,#471668 70.5px,#472676 71.5px,#481b6d 72.5px,#470f62 73.5px,#470d60 74.5px 84.5px,#461364 85.5px,#43377e 86.5px,#32648c 87.5px,#297c8c 88.5px,#3d4884 89.5px,#472070 90.5px,#481568 91.5px,#44216c 92.5px,#316289 93.5px,#2c748e 94.5px,#26848c 95.5px,#3c4e86 96.5px,#472675 97.5px,#481c6e 98.5px,#462371 99.5px,#3a5087 100.5px,#2b758d 101.5px,#24898c 102.5px,#30698d 103.5px,#355e8c 104.5px,#414386 105.5px,#423f85 106.5px 107.5px,#423e84 108.5px,#423f7c 109.5px,#289782 110.5px,#24a983 111.5px,#3ab876 112.5px,#5ec562 113.5px,#2ca481 114.5px,#279887 115.5px,#48bc6f 116.5px,#66cb5d 117.5px,#8dd548 118.5px,#d6e127 119.5px,#b4dd2f 120.5px,#96d83f 121.5px,#80d34d 122.5px,#89d547 123.5px,#b0dc2e 124.5px,#a8db34 125.5px,#a0da39 126.5px,#95d840 127.5px,#9cd93c 128.5px,#bcde28 129.5px,#9bd83c 130.5px,#84d34b 131.5px,#c8df24 132.5px,#c4de25 133.5px,#6dcc59 134.5px,#70ce57 135.5px,#7dd24f 136.5px,#6bcc59 137.5px,#a2d937 138.5px,#b4dc2c 139.5px,#67ca5c 140.5px,#36b678 141.5px,#24a784 142.5px,#229d88 143.5px,#30b27c 144.5px)"></div><div style="top:35px;height:1px;background:linear-gradient(90deg,#440154 0.5px 68.5px,#450456 69.5px,#471365 70.5px,#482172 71.5px,#481f70 72.5px,#471062 73.5px,#470d60 74.5px 84.5px,#471264 85.5px,#44327c 86.5px,#365c8b 87.5px,#297c8d 88.5px,#3b4f87 89.5px,#462271 90.5px,#481568 91.5px,#451f6c 92.5px,#355988 93.5px,#306b8d 94.5px,#26828c 95.5px,#395488 96.5px,#462876 97.5px,#481b6d 98.5px,#472170 99.5px,#3d4986 100.5px,#2f6c8d 101.5px,#25848d 102.5px,#2e6e8e 103.5px,#33638d 104.5px,#414386 105.5px,#433e85 106.5px 107.5px,#423f85 108.5px,#41447f 109.5px,#289982 110.5px,#23a884 111.5px,#38b677 112.5px,#62c85f 113.5px,#35b17a 114.5px,#28a185 115.5px,#4cbe6d 116.5px,#72cf56 117.5px,#8ad44c 118.5px,#e1e32a 119.5px,#c3df28 120.5px,#98d83e 121.5px,#8bd547 122.5px,#7dd24f 123.5px,#a7db34 124.5px,#b6de2b 125.5px,#a3da37 126.5px,#97d83f 127.5px,#9dd93b 128.5px,#b4dd2c 129.5px,#98d83e 130.5px,#7ad151 131.5px,#acdb32 132.5px,#bbdd29 133.5px,#6ecd58 134.5px,#63cb5f 135.5px,#75d054 136.5px,#6acc5a 137.5px,#9bd83c 138.5px,#abdb32 139.5px,#6acb5a 140.5px,#3bb975 141.5px,#25a883 142.5px,#229e87 143.5px,#30b27c 144.5px)"></div><div style="top:36px;height:1px;background:linear-gradient(90deg,#440154 0.5px 68.5px,#450356 69.5px,#470f62 70.5px,#481b6d 71.5px,#482273 72.5px,#471163 73.5px,#470d60 74.5px 84.5px,#471164 85.5px,#452d79 86.5px,#395489 87.5px,#297b8d 88.5px,#385688 89.5px,#462573 90.5px,#481668 91.5px,#451e6c 92.5px,#395087 93.5px,#34618c 94.5px,#27808d 95.5px,#365a89 96.5px,#462976 97.5px,#481a6c 98.5px,#471e6f 99.5px,#404284 100.5px,#34628c 101.5px,#27808d 102.5px,#2c728e 103.5px,#31688d 104.5px,#414385 105.5px,#433c84 106.5px,#433e85 107.5px,#414286 108.5px,#3f4b84 109.5px,#279884 110.5px,#23a784 111.5px,#37b678 112.5px,#5fc861 113.5px,#43bc71 114.5px,#2bac7f 115.5px,#45bd70 116.5px,#74cf54 117.5px,#83d24f 118.5px,#dee229 119.5px,#cae024 120.5px,#93d741 121.5px,#8ad547 122.5px,#6ccd59 123.5px,#95d740 124.5px,#b9de29 125.5px,#9dd93b 126.5px,#92d742 127.5px,#96d83f 128.5px,#9fda39 129.5px,#8ed644 130.5px,#6dcd58 131.5px,#8bd546 132.5px,#acdb31 133.5px,#6fcd57 134.5px,#59c765 135.5px,#6fce57 136.5px,#69cc5b 137.5px,#8fd643 138.5px,#a1da38 139.5px,#6ecd58 140.5px,#3fbb73 141.5px,#26aa82 142.5px,#22a087 143.5px,#30b27c 144.5px)"></div><div style="top:37px;height:1px;background:linear-gradient(90deg,#440154 0.5px 68.5px,#440356 69.5px,#460c5f 70.5px,#471769 71.5px,#472675 72.5px,#471164 73.5px,#470d60 74.5px 84.5px,#471063 85.5px,#472776 86.5px,#3d4b86 87.5px,#2a7a8d 88.5px,#355c89 89.5px,#452774 90.5px,#481668 91.5px,#461c6c 92.5px,#3e4785 93.5px,#38578b 94.5px,#287e8d 95.5px,#345f8a 96.5px,#452b77 97.5px,#481a6c 98.5px,#471d6e 99.5px,#433a81 100.5px,#38578a 101.5px,#287d8d 102.5px,#2a778e 103.5px,#2e6d8d 104.5px,#404285 105.5px,#443a83 106.5px,#433c84 107.5px,#414387 108.5px,#3b5488 109.5px,#249787 110.5px,#22a485 111.5px,#35b579 112.5px,#55c567 113.5px,#4fc36a 114.5px,#39b877 115.5px,#3db974 116.5px,#6ccd59 117.5px,#7ad052 118.5px,#c7df26 119.5px,#c4df24 120.5px,#8ad547 121.5px,#7ed24e 122.5px,#5cc862 123.5px,#7dd14f 124.5px,#b1dc2e 125.5px,#95d740 126.5px,#89d547 127.5px,#88d548 128.5px,#85d44a 129.5px,#83d34b 130.5px,#61ca60 131.5px,#6fcd57 132.5px,#a3d937 133.5px,#73ce55 134.5px,#52c468 135.5px,#6fce58 136.5px,#6bcd5a 137.5px,#84d44a 138.5px,#9dd93b 139.5px,#76cf53 140.5px,#45be70 141.5px,#2bae7f 142.5px,#23a286 143.5px,#30b27c 144.5px)"></div><div style="top:38px;height:1px;background:linear-gradient(90deg,#440154 0.5px 68.5px,#440255 69.5px,#46095c 70.5px,#471264 71.5px,#462776 72.5px,#471264 73.5px,#470d60 74.5px 84.5px,#471062 85.5px,#472272 86.5px,#404182 87.5px,#2a788c 88.5px,#32628a 89.5px,#452975 90.5px,#481668 91.5px,#471b6b 92.5px,#423c82 93.5px,#3d4c87 94.5px,#297c8c 95.5px,#31658a 96.5px,#452c77 97.5px,#48196b 98.5px,#481b6c 99.5px,#45327d 100.5px,#3d4c88 101.5px,#2a788d 102.5px,#287c8e 103.5px,#2c728d 104.5px,#404284 105.5px,#443983 106.5px,#443a83 107.5px,#424086 108.5px,#395989 109.5px,#239688 110.5px,#219f87 111.5px,#32b37b 112.5px,#46bf6f 113.5px,#55c667 114.5px,#4cc16c 115.5px,#37b677 116.5px,#5fc861 117.5px,#6fce58 118.5px,#a4da36 119.5px,#b4dd2c 120.5px,#7fd24e 121.5px,#6ccd5a 122.5px,#50c469 123.5px,#67cb5c 124.5px,#a2d937 125.5px,#8fd644 126.5px,#82d44c 127.5px,#7bd251 128.5px,#70ce57 129.5px,#7cd250 130.5px,#5bc863 131.5px,#5fc860 132.5px,#a4d936 133.5px,#7ed14e 134.5px,#53c468 135.5px,#76d053 136.5px,#70cf57 137.5px,#7cd250 138.5px,#a0d939 139.5px,#82d34c 140.5px,#51c369 141.5px,#37b578 142.5px,#24a385 143.5px,#2fb17d 144.5px)"></div><div style="top:39px;height:1px;background:linear-gradient(90deg,#440154 0.5px 68.5px,#440255 69.5px,#46075a 70.5px,#460e61 71.5px,#462876 72.5px,#471365 73.5px,#470d60 74.5px 84.5px,#470f62 85.5px,#481c6d 86.5px,#42387c 87.5px,#2a778b 88.5px,#30698a 89.5px,#442c76 90.5px,#481668 91.5px,#47196a 92.5px,#45317d 93.5px,#404182 94.5px,#297a8c 95.5px,#2f6a8b 96.5px,#442e77 97.5px,#48186a 98.5px,#48196a 99.5px,#472978 100.5px,#414083 101.5px,#2c748d 102.5px,#26818e 103.5px,#2a778c 104.5px,#404284 105.5px,#453882 106.5px 107.5px,#433c84 108.5px,#3a5788 109.5px,#249588 110.5px,#229a89 111.5px,#2cae7f 112.5px,#3ab976 113.5px,#58c765 114.5px,#5bc763 115.5px,#36b478 116.5px,#58c665 117.5px,#65cb5d 118.5px,#84d34b 119.5px,#a3da37 120.5px,#77d052 121.5px,#5cc863 122.5px,#4cc26c 123.5px,#59c664 124.5px,#91d642 125.5px,#8fd644 126.5px,#80d34d 127.5px,#72cf56 128.5px,#67cc5c 129.5px,#7cd24f 130.5px,#5dc862 131.5px,#5bc662 132.5px,#adda31 133.5px,#90d543 134.5px,#5ac663 135.5px,#82d34c 136.5px,#79d152 137.5px,#76d053 138.5px,#a7db34 139.5px,#92d642 140.5px,#63ca5f 141.5px,#4bbf6d 142.5px,#27a583 143.5px,#28ac81 144.5px)"></div><div style="top:40px;height:1px;background:linear-gradient(90deg,#440154 0.5px 68.5px,#440255 69.5px,#450558 70.5px,#450b5e 71.5px,#462775 72.5px,#471567 73.5px,#470d60 74.5px 84.5px,#470e61 85.5px,#481668 86.5px,#432e75 87.5px,#2a758a 88.5px,#2d6e8b 89.5px,#442e77 90.5px,#481769 91.5px 92.5px,#472676 93.5px,#42367b 94.5px,#2a788b 95.5px,#2d6f8b 96.5px,#442f77 97.5px,#48186a 98.5px,#481769 99.5px,#482172 100.5px,#43347b 101.5px,#2d6f8b 102.5px,#25858e 103.5px,#287c8c 104.5px,#404283 105.5px,#453781 106.5px,#453681 107.5px,#453781 108.5px,#3d4f85 109.5px,#269686 110.5px,#22978a 111.5px,#27a982 112.5px,#33b47a 113.5px,#5cc763 114.5px,#63c95f 115.5px,#38b577 116.5px,#5bc763 117.5px,#61ca60 118.5px,#71ce56 119.5px,#9bd83c 120.5px,#74cf54 121.5px,#56c666 122.5px,#51c469 123.5px,#55c567 124.5px,#85d44a 125.5px,#98d83e 126.5px,#85d44a 127.5px,#71cf56 128.5px,#6acd5b 129.5px,#82d34c 130.5px,#68cc5c 131.5px,#61c85f 132.5px,#b8dc2b 133.5px,#a6da35 134.5px,#67ca5c 135.5px,#89d547 136.5px,#7fd34e 137.5px,#72cf55 138.5px,#a7db34 139.5px,#9fd939 140.5px,#79d151 141.5px,#63c75f 142.5px,#2aa681 143.5px,#21a585 144.5px)"></div><div style="top:41px;height:1px;background:linear-gradient(90deg,#440154 0.5px 69.5px,#440256 70.5px,#45095b 71.5px,#462574 72.5px,#471769 73.5px,#470e61 74.5px,#470d60 75.5px 85.5px,#471163 86.5px,#43246c 87.5px,#2a7489 88.5px,#2b738b 89.5px,#433077 90.5px,#481769 91.5px,#481567 92.5px,#481b6c 93.5px,#432a72 94.5px,#2a7589 95.5px,#2b748b 96.5px,#433078 97.5px,#481769 98.5px,#481567 99.5px,#48196b 100.5px,#442872 101.5px,#2e6b8a 102.5px,#24888d 103.5px,#27808b 104.5px,#404182 105.5px,#453581 106.5px,#453580 107.5px,#46337f 108.5px,#414681 109.5px,#299783 110.5px,#22968a 111.5px,#24a684 112.5px,#33b47a 113.5px,#64ca5e 114.5px,#62c95f 115.5px,#3eb874 116.5px,#66ca5c 117.5px,#61ca60 118.5px,#6dcd59 119.5px,#9dd83a 120.5px,#77d053 121.5px,#59c764 122.5px,#5dc962 123.5px,#55c567 124.5px,#7fd24e 125.5px,#a5da35 126.5px,#8dd645 127.5px,#75d054 128.5px,#72cf56 129.5px,#89d547 130.5px,#77d052 131.5px,#6ccc59 132.5px,#bcdd28 133.5px,#b9dd2a 134.5px,#72ce55 135.5px,#87d448 136.5px,#81d34d 137.5px,#6dcd58 138.5px,#9cd93b 139.5px,#a5db35 140.5px,#8dd645 141.5px,#78cd52 142.5px,#2da77f 143.5px,#1f9f88 144.5px)"></div><div style="top:42px;height:1px;background:linear-gradient(90deg,#440154 0.5px 69.5px,#440254 70.5px,#45085a 71.5px,#472474 72.5px,#481a6c 73.5px,#470e61 74.5px,#470d60 75.5px 86.5px,#421d67 87.5px,#2b6f88 88.5px,#2c728b 89.5px,#432f77 90.5px,#481668 91.5px,#481366 92.5px,#481466 93.5px,#43236c 94.5px,#2c7089 95.5px,#2c728b 96.5px,#432f77 97.5px,#481668 98.5px,#471366 99.5px,#481466 100.5px,#44206c 101.5px,#306588 102.5px,#24868d 103.5px,#287e8b 104.5px,#413f81 105.5px,#46337f 106.5px,#46327f 107.5px,#46307d 108.5px,#43407c 109.5px,#2d9a80 110.5px,#229889 111.5px,#23a585 112.5px,#37b578 113.5px,#69cb5b 114.5px,#56c566 115.5px,#40ba73 116.5px,#6dcc58 117.5px,#5fc961 118.5px,#73cf55 119.5px,#a5da35 120.5px,#7bd150 121.5px,#63cb5f 122.5px,#6bcd5a 123.5px,#57c666 124.5px,#7bd150 125.5px,#afdc30 126.5px,#91d742 127.5px,#7ad251 128.5px,#7cd250 129.5px,#8ed644 130.5px,#8ad547 131.5px,#79d051 132.5px,#b9dd2a 133.5px,#c5df24 134.5px,#79d052 135.5px,#78d152 136.5px 137.5px,#64ca5e 138.5px,#85d44a 139.5px,#9ed93a 140.5px,#96d83f 141.5px,#7cce50 142.5px,#2da67f 143.5px,#1f9b8a 144.5px)"></div><div style="top:43px;height:1px;background:linear-gradient(90deg,#440154 0.5px 68.5px,#440254 69.5px,#440255 70.5px,#45085a 71.5px,#472273 72.5px,#481e70 73.5px,#470e61 74.5px,#460c5f 75.5px,#460b5f 76.5px 85.5px,#460c5f 86.5px,#421a65 87.5px,#2e6888 88.5px,#2e6b8b 89.5px,#442d76 90.5px,#481567 91.5px,#471365 92.5px 93.5px,#43216b 94.5px,#2e6989 95.5px,#2e6b8b 96.5px,#442d76 97.5px,#481567 98.5px,#471365 99.5px 100.5px,#441e6b 101.5px,#335f88 102.5px,#287e8e 103.5px,#2b768c 104.5px,#423b7f 105.5px,#472f7d 106.5px 107.5px,#472d7b 108.5px,#443d7a 109.5px,#329c7d 110.5px,#229a89 111.5px,#24a584 112.5px,#3db974 113.5px,#6acb5a 114.5px,#46be6f 115.5px,#3fbb73 116.5px,#6bcc59 117.5px,#5bc763 118.5px,#7dd14f 119.5px,#acdb31 120.5px,#7fd24d 121.5px,#6dce59 122.5px,#73cf55 123.5px,#55c566 124.5px,#72ce55 125.5px,#abdb32 126.5px,#90d743 127.5px,#7dd24f 128.5px,#80d34d 129.5px,#8cd645 130.5px,#99d83d 131.5px,#81d34d 132.5px,#abdb33 133.5px,#c7df25 134.5px,#77cf53 135.5px,#60c960 136.5px,#67cc5c 137.5px,#56c666 138.5px,#69cc5b 139.5px,#8cd546 140.5px,#92d742 141.5px,#71cb56 142.5px,#2ba581 143.5px,#1f9a8a 144.5px)"></div><div style="top:44px;height:1px;background:linear-gradient(90deg,#440154 0.5px 64.5px,#440254 65.5px,#440255 66.5px 69.5px,#440256 70.5px,#45075a 71.5px,#482071 72.5px,#482273 73.5px,#470f62 74.5px,#460b5e 75.5px 86.5px,#431965 87.5px,#316187 88.5px,#31648a 89.5px,#442a74 90.5px,#471466 91.5px,#471264 92.5px 93.5px,#441e6a 94.5px,#316288 95.5px,#31648a 96.5px,#442a74 97.5px,#471466 98.5px,#471264 99.5px 100.5px,#451c6a 101.5px,#365887 102.5px,#2b748e 103.5px,#2e6d8c 104.5px,#43367d 105.5px,#472c7b 106.5px,#472b7a 107.5px,#472a79 108.5px,#453d79 109.5px,#359f7b 110.5px,#239c88 111.5px,#25a784 112.5px,#40bb73 113.5px,#69cb5b 114.5px,#3cb975 115.5px,#3eba74 116.5px,#66cb5d 117.5px,#5ac764 118.5px,#84d34a 119.5px,#abdb32 120.5px,#81d34c 121.5px,#73cf55 122.5px,#6fce58 123.5px,#50c36a 124.5px,#68cb5b 125.5px,#9cd83b 126.5px,#87d548 127.5px,#7bd251 128.5px,#7cd250 129.5px,#85d44a 130.5px,#a0d939 131.5px,#82d34c 132.5px,#98d83f 133.5px,#bfde29 134.5px,#6ecc58 135.5px,#4dc26b 136.5px,#58c765 137.5px,#47c06f 138.5px,#53c468 139.5px,#7dd24f 140.5px,#87d549 141.5px,#65c85e 142.5px,#29a582 143.5px,#1f9a8a 144.5px)"></div><div style="top:45px;height:1px;background:linear-gradient(90deg,#440154 0.5px 62.5px,#440254 63.5px,#440255 64.5px 65.5px,#440256 66.5px 69.5px,#450356 70.5px,#45075a 71.5px,#481e6f 72.5px,#472575 73.5px,#471062 74.5px,#460b5e 75.5px 86.5px,#431865 87.5px,#345987 88.5px,#355c89 89.5px,#452773 90.5px,#471366 91.5px,#471164 92.5px 93.5px,#441d6a 94.5px,#355a88 95.5px,#355c89 96.5px,#452773 97.5px,#471366 98.5px,#471164 99.5px 100.5px,#451b69 101.5px,#395187 102.5px,#2f6b8e 103.5px,#31658b 104.5px,#44337b 105.5px,#482978 106.5px 107.5px,#482878 108.5px,#453e7a 109.5px,#349e7c 110.5px,#239b88 111.5px,#26a982 112.5px,#3dba74 113.5px,#60c860 114.5px,#3ab876 115.5px,#3ab976 116.5px,#5ec862 117.5px,#5bc763 118.5px,#84d34b 119.5px,#a4da36 120.5px,#7fd24e 121.5px,#6dce59 122.5px,#64ca5e 123.5px,#46bf6f 124.5px,#59c664 125.5px,#88d448 126.5px,#7cd250 127.5px,#73d055 128.5px,#76d054 129.5px,#80d34d 130.5px,#9fd939 131.5px,#7cd24f 132.5px,#8bd547 133.5px,#b7dc2c 134.5px,#62c85f 135.5px,#42bd71 136.5px,#54c567 137.5px,#3ebb74 138.5px,#47bf6e 139.5px,#78d052 140.5px,#7fd34e 141.5px,#5bc663 142.5px,#29a782 143.5px,#1f9c89 144.5px)"></div><div style="top:46px;height:1px;background:linear-gradient(90deg,#440154 0.5px 61.5px,#440254 62.5px,#440255 63.5px,#440256 64.5px 67.5px,#450356 68.5px 69.5px,#450357 70.5px,#45075a 71.5px,#481b6d 72.5px,#472776 73.5px,#461063 74.5px,#460b5e 75.5px 86.5px,#441665 87.5px,#385186 88.5px,#385388 89.5px,#452371 90.5px,#471264 91.5px,#471063 92.5px 93.5px,#451b68 94.5px,#385287 95.5px,#385488 96.5px,#452371 97.5px,#471264 98.5px,#471063 99.5px 100.5px,#461968 101.5px,#3c4985 102.5px,#33628d 103.5px,#355c8a 104.5px,#452e79 105.5px,#482576 106.5px,#482575 107.5px,#482576 108.5px,#443f7a 109.5px,#349e7c 110.5px,#249889 111.5px,#25a783 112.5px,#39b877 113.5px,#55c567 114.5px,#3dbb74 115.5px,#38b877 116.5px,#55c567 117.5px,#5dc862 118.5px,#7bd150 119.5px,#99d83d 120.5px,#7ed24f 121.5px,#61ca60 122.5px,#57c666 123.5px,#3fbc73 124.5px,#46be6f 125.5px,#76cf53 126.5px,#79d151 127.5px,#67cc5c 128.5px,#69cc5b 129.5px,#82d34c 130.5px,#a0d939 131.5px,#72ce56 132.5px,#84d34b 133.5px,#b5db2d 134.5px,#5cc562 135.5px,#40bc72 136.5px,#57c666 137.5px,#3ebb73 138.5px,#46be6f 139.5px,#77d053 140.5px,#7cd250 141.5px,#58c565 142.5px,#2aab80 143.5px,#1fa088 144.5px)"></div><div style="top:47px;height:1px;background:linear-gradient(90deg,#440154 0.5px 61.5px,#440255 62.5px,#440256 63.5px 66.5px,#450356 67.5px,#450357 68.5px,#450457 69.5px 70.5px,#45075a 71.5px,#47196b 72.5px,#472776 73.5px,#471163 74.5px,#460a5e 75.5px,#460a5d 76.5px 86.5px,#451464 87.5px,#3c4885 88.5px,#3c4a87 89.5px,#46206f 90.5px,#471063 91.5px,#470f61 92.5px 93.5px,#451867 94.5px,#3c4985 95.5px,#3c4a87 96.5px,#46206f 97.5px,#471063 98.5px,#470f61 99.5px 100.5px,#461667 101.5px,#3f4283 102.5px,#38578c 103.5px,#395289 104.5px,#462976 105.5px,#482173 106.5px,#482172 107.5px 108.5px,#443d79 109.5px,#339d7d 110.5px,#239689 111.5px,#21a087 112.5px,#2fb07d 113.5px,#50c36a 114.5px,#49c06d 115.5px,#37b778 116.5px,#55c567 117.5px,#5ec962 118.5px,#6bcd5a 119.5px,#8cd545 120.5px,#80d24d 121.5px,#55c566 122.5px,#48c16e 123.5px,#40bd73 124.5px,#3ab976 125.5px,#61c960 126.5px,#80d34d 127.5px,#67cc5c 128.5px,#5cc863 129.5px,#83d34b 130.5px,#a7da34 131.5px,#70ce57 132.5px,#81d24d 133.5px,#b5db2d 134.5px,#62c85f 135.5px,#48c06e 136.5px,#57c666 137.5px,#43be71 138.5px,#54c567 139.5px,#74cf55 140.5px,#71cf56 141.5px,#5bc763 142.5px,#2daf7e 143.5px,#20a287 144.5px)"></div><div style="top:48px;height:1px;background:linear-gradient(90deg,#440154 0.5px 60.5px,#440254 61.5px,#440255 62.5px,#440256 63.5px 65.5px,#450356 66.5px,#450357 67.5px,#450457 68.5px 70.5px,#45075a 71.5px,#471769 72.5px,#472474 73.5px,#471264 74.5px,#460a5e 75.5px,#460a5d 76.5px 86.5px,#451263 87.5px,#403f82 88.5px,#404184 89.5px,#461d6c 90.5px,#470f62 91.5px,#470e61 92.5px 93.5px,#461667 94.5px,#404083 95.5px,#404184 96.5px,#461d6c 97.5px,#470f62 98.5px,#470e61 99.5px 100.5px,#461566 101.5px,#423a81 102.5px,#3d4c89 103.5px,#3e4887 104.5px,#472573 105.5px,#481e6f 106.5px,#481d6f 107.5px 108.5px,#453673 109.5px,#339d7b 110.5px,#229a89 111.5px,#1f9a8a 112.5px,#25a385 113.5px,#49bd6e 114.5px,#6bca59 115.5px,#3bb676 116.5px,#50c269 117.5px,#68cc5b 118.5px,#56c566 119.5px,#7bd150 120.5px,#88d448 121.5px,#51c369 122.5px,#3ebc74 123.5px,#40bd73 124.5px,#37b877 125.5px,#54c467 126.5px,#7cd150 127.5px,#70ce57 128.5px,#5dc862 129.5px,#7cd14f 130.5px,#a8da33 131.5px,#7dd14f 132.5px,#88d448 133.5px,#aedb30 134.5px,#6ccc59 135.5px,#5ec961 136.5px,#58c665 137.5px,#42bd71 138.5px,#67cb5c 139.5px,#7cd24f 140.5px,#61c960 141.5px,#57c666 142.5px,#32b37b 143.5px,#21a386 144.5px)"></div><div style="top:49px;height:1px;background:linear-gradient(90deg,#440154 0.5px 60.5px,#440255 61.5px,#440256 62.5px 64.5px,#450356 65.5px,#450357 66.5px,#450457 67.5px 69.5px,#450558 70.5px,#45075a 71.5px,#471467 72.5px,#482071 73.5px,#471466 74.5px,#460b5e 75.5px,#460a5d 76.5px 86.5px,#461162 87.5px,#43367f 88.5px,#433880 89.5px,#47196a 90.5px,#470e61 91.5px,#470d60 92.5px 93.5px,#461465 94.5px,#43377f 95.5px,#433880 96.5px,#47196a 97.5px,#470e61 98.5px,#470d60 99.5px 100.5px,#461264 101.5px,#45327d 102.5px,#414186 103.5px,#423e83 104.5px,#472070 105.5px,#481b6d 106.5px 107.5px,#481c6e 108.5px,#442a6a 109.5px,#309a7b 110.5px,#23a286 111.5px,#1f988a 112.5px,#209b89 113.5px,#38af78 114.5px,#8ad046 115.5px,#54c167 116.5px,#41ba72 117.5px,#70cc56 118.5px,#52c368 119.5px,#5dc762 120.5px,#8bd445 121.5px,#58c565 122.5px,#3bba75 123.5px,#3dbb74 124.5px,#37b877 125.5px,#59c665 126.5px,#70ce57 127.5px,#6acd5a 128.5px,#70ce57 129.5px,#80d34d 130.5px,#97d83e 131.5px,#84d44a 132.5px,#9fd93a 133.5px,#acdb31 134.5px,#6ecd58 135.5px,#74cf55 136.5px,#65ca5d 137.5px,#3eba74 138.5px,#61c960 139.5px,#82d34c 140.5px,#5dc862 141.5px,#46bf6f 142.5px,#31b37b 143.5px,#23a784 144.5px)"></div><div style="top:50px;height:1px;background:linear-gradient(90deg,#440154 0.5px 60.5px,#440255 61.5px,#440256 62.5px 63.5px,#450356 64.5px,#450357 65.5px,#450457 66.5px 68.5px,#450558 69.5px,#450559 70.5px,#46075a 71.5px,#471164 72.5px,#481c6e 73.5px,#481769 74.5px,#460c5f 75.5px,#460a5d 76.5px 86.5px,#460f62 87.5px,#462d7a 88.5px,#462e7b 89.5px,#471668 90.5px,#470c60 91.5px,#460b5f 92.5px,#460c5f 93.5px,#461163 94.5px,#462d7a 95.5px,#462e7b 96.5px,#471668 97.5px,#470c60 98.5px,#460b5f 99.5px,#460c5f 100.5px,#471062 101.5px,#472977 102.5px,#453681 103.5px,#45337e 104.5px,#471b6d 105.5px,#481769 106.5px,#48186a 107.5px,#481e6f 108.5px,#42296b 109.5px,#299280 110.5px,#28aa81 111.5px,#219b89 112.5px,#1f998a 113.5px,#2da580 114.5px,#78cc51 115.5px,#84d14a 116.5px,#45ba6f 117.5px,#53c367 118.5px,#61c95f 119.5px,#48be6e 120.5px,#71cd56 121.5px,#68cb5c 122.5px,#41bc72 123.5px,#3cbb75 124.5px,#35b579 125.5px,#5fc861 126.5px,#73cf55 127.5px,#57c565 128.5px,#73cf55 129.5px,#99d83d 130.5px,#90d643 131.5px,#78d052 132.5px,#aadb33 133.5px,#c1de29 134.5px,#71cd57 135.5px,#6bcd5a 136.5px,#6dcd58 137.5px,#41bc72 138.5px,#49c06d 139.5px,#6bcc5a 140.5px,#66cb5d 141.5px,#42bc71 142.5px,#28ab81 143.5px,#24aa83 144.5px)"></div><div style="top:51px;height:1px;background:linear-gradient(90deg,#440154 0.5px 60.5px,#440255 61.5px,#440256 62.5px,#450356 63.5px,#450357 64.5px,#450457 65.5px 67.5px,#450558 68.5px,#450559 69.5px 70.5px,#46075b 71.5px,#470f62 72.5px,#48186a 73.5px,#481b6d 74.5px,#460d60 75.5px,#46095d 76.5px 86.5px,#460e60 87.5px,#472374 88.5px,#472474 89.5px,#471265 90.5px,#460c5f 91.5px,#460b5e 92.5px 93.5px,#470f62 94.5px,#472474 95.5px 96.5px,#471265 97.5px,#460c5f 98.5px,#460b5e 99.5px 100.5px,#470e61 101.5px,#482071 102.5px,#472a79 103.5px,#472877 104.5px,#471668 105.5px,#471365 106.5px,#481466 107.5px,#481a6c 108.5px,#422e72 109.5px,#268d84 110.5px,#25a983 111.5px,#21a287 112.5px,#1f9a8a 113.5px,#26a384 114.5px,#54c167 115.5px,#8dd444 116.5px,#68c95b 117.5px,#3cb575 118.5px,#5dc662 119.5px,#51c369 120.5px,#4bc06c 121.5px,#67cb5c 122.5px,#52c468 123.5px,#3dbb74 124.5px,#32b37b 125.5px,#58c565 126.5px,#76d053 127.5px,#52c468 128.5px,#5dc762 129.5px,#a3d937 130.5px,#abdb33 131.5px,#72ce56 132.5px,#93d644 133.5px,#cfe029 134.5px,#88d34a 135.5px,#57c566 136.5px,#5bc763 137.5px,#47c06f 138.5px,#3cbb75 139.5px,#45be70 140.5px,#5ac764 141.5px,#4fc16b 142.5px,#28a683 143.5px,#21a386 144.5px)"></div><div style="top:52px;height:1px;background:linear-gradient(90deg,#440154 0.5px 59.5px,#440254 60.5px,#440255 61.5px,#440256 62.5px,#450356 63.5px,#450457 64.5px 66.5px,#450558 67.5px,#450559 68.5px 69.5px,#45065a 70.5px,#46075b 71.5px,#470d60 72.5px,#471466 73.5px,#481f70 74.5px,#460d60 75.5px,#46085c 76.5px 86.5px,#460b5e 87.5px,#48196b 88.5px,#481a6c 89.5px,#470e61 90.5px,#460a5d 91.5px 93.5px,#460c5f 94.5px,#481a6b 95.5px,#481a6c 96.5px,#470e61 97.5px,#460a5d 98.5px 100.5px,#460c5f 101.5px,#481769 102.5px,#481d6e 103.5px,#481b6d 104.5px,#471063 105.5px,#470f61 106.5px,#471062 107.5px,#471264 108.5px,#42276a 109.5px,#268f82 110.5px,#21a386 111.5px,#20a187 112.5px,#1f9f88 113.5px,#23a286 114.5px,#40ba73 115.5px,#6ccc59 116.5px,#7fd04d 117.5px,#3db774 118.5px,#3fba73 119.5px,#5dc762 120.5px,#49c06e 121.5px,#4ec26a 122.5px,#5cc763 123.5px,#4ec26b 124.5px,#32b37a 125.5px,#4bc16d 126.5px,#63ca5e 127.5px,#57c665 128.5px,#52c469 129.5px,#84d24c 130.5px,#c4de2a 131.5px,#91d544 132.5px,#77ce53 133.5px,#bbdd2c 134.5px,#a1d838 135.5px,#52c268 136.5px,#40bd72 137.5px,#3fbc73 138.5px,#39b977 139.5px,#32b57a 140.5px,#3fbb73 141.5px,#4ec26b 142.5px,#30af7d 143.5px,#219e88 144.5px)"></div><div style="top:53px;height:1px;background:linear-gradient(90deg,#440154 0.5px 59.5px,#440255 60.5px,#440256 61.5px,#450356 62.5px,#450357 63.5px,#450457 64.5px 65.5px,#450558 66.5px,#450559 67.5px 68.5px,#45065a 69.5px,#46065a 70.5px,#46075a 71.5px,#460a5d 72.5px,#471264 73.5px,#472272 74.5px,#460d60 75.5px,#46085c 76.5px 86.5px,#46095d 87.5px,#470f62 88.5px,#471062 89.5px,#460b5e 90.5px,#46085c 91.5px 93.5px,#46095d 94.5px,#470f62 95.5px,#471062 96.5px,#460b5e 97.5px,#46085c 98.5px 100.5px,#46095d 101.5px,#470e61 102.5px,#471063 103.5px 104.5px,#460b5e 105.5px 106.5px,#470d60 107.5px,#471063 108.5px,#401c60 109.5px,#268c80 110.5px,#24a684 111.5px,#219a89 112.5px,#209d88 113.5px,#24a684 114.5px,#36b678 115.5px,#4ec26b 116.5px,#6bcc5a 117.5px,#49c06d 118.5px,#3bb975 119.5px,#4fc36a 120.5px,#63ca5e 121.5px,#59c564 122.5px,#49bf6d 123.5px,#63c95e 124.5px,#42bc71 125.5px,#40bc73 126.5px,#4fc36a 127.5px 128.5px,#5ac864 129.5px,#71ce56 130.5px,#b4dc2e 131.5px,#bfde29 132.5px,#82d24c 133.5px,#95d740 134.5px,#99d73d 135.5px,#58c565 136.5px,#37b877 137.5px,#2eb27d 138.5px,#32b47b 139.5px,#33b57a 140.5px,#2eb27c 141.5px,#3ab876 142.5px,#3fba74 143.5px,#2aab80 144.5px)"></div><div style="top:54px;height:1px;background:linear-gradient(90deg,#440154 0.5px 59.5px,#440255 60.5px,#440256 61.5px,#450356 62.5px,#450457 63.5px 65.5px,#450558 66.5px,#450559 67.5px 68.5px,#45065a 69.5px,#46075a 70.5px 71.5px,#46085c 72.5px,#461062 73.5px,#472473 74.5px,#460e61 75.5px,#46085c 76.5px 87.5px,#46095c 88.5px 89.5px,#46085c 90.5px 94.5px,#46095c 95.5px 96.5px,#46085c 97.5px 101.5px,#46095c 102.5px 103.5px,#46095d 104.5px,#460a5d 105.5px,#470c60 106.5px,#471264 107.5px,#471769 108.5px,#401b62 109.5px,#297e83 110.5px,#2aa981 111.5px,#249f86 112.5px,#258e8b 113.5px,#2aa582 114.5px,#41bb72 115.5px,#3cba75 116.5px,#50c36a 117.5px,#47c06f 118.5px,#53c468 119.5px,#56c566 120.5px,#6ecd58 121.5px,#9cd53c 122.5px,#51be68 123.5px,#52c368 124.5px,#62c95f 125.5px,#49c06e 126.5px,#44bf70 127.5px,#42be71 128.5px,#59c664 129.5px,#81d24d 130.5px,#9ad83d 131.5px,#bede28 132.5px,#afdc30 133.5px,#8dd545 134.5px,#70cd57 135.5px,#50c369 136.5px,#40bc73 137.5px,#2bae7f 138.5px,#28ab81 139.5px,#39b876 140.5px,#32b57a 141.5px,#2caf7e 142.5px,#3ebb74 143.5px,#42bd72 144.5px)"></div><div style="top:55px;height:1px;background:linear-gradient(90deg,#440154 0.5px 59.5px,#440255 60.5px,#440256 61.5px,#450356 62.5px,#450357 63.5px,#450457 64.5px 65.5px,#450558 66.5px,#450559 67.5px 68.5px,#45065a 69.5px,#46065a 70.5px,#46075a 71.5px,#46085b 72.5px,#460e60 73.5px,#472373 74.5px,#460f61 75.5px,#46085c 76.5px 103.5px,#46095c 104.5px,#470d60 105.5px,#471365 106.5px,#481b6d 107.5px,#472675 108.5px,#432b73 109.5px,#2a7988 110.5px,#25a086 111.5px,#30ab7e 112.5px,#28898b 113.5px,#2f9385 114.5px,#5dc163 115.5px,#43bc70 116.5px,#3bba75 117.5px,#3ebb74 118.5px,#62c95f 119.5px,#8cd445 120.5px,#80d14d 121.5px,#bedd2c 122.5px,#90d244 123.5px,#48bb6e 124.5px,#5cc663 125.5px,#68cb5c 126.5px,#4cc16c 127.5px,#3cbb75 128.5px,#4cc06c 129.5px,#8cd545 130.5px,#a7db35 131.5px,#99d83e 132.5px,#b8dd2b 133.5px,#b2db30 134.5px,#5bc463 135.5px,#3ab776 136.5px,#48bf6e 137.5px,#3ab776 138.5px,#27a783 139.5px,#36b678 140.5px,#43bd71 141.5px,#2db07d 142.5px,#33b57a 143.5px,#48c06e 144.5px)"></div><div style="top:56px;height:1px;background:linear-gradient(90deg,#440154 0.5px 59.5px,#440254 60.5px,#440255 61.5px,#440256 62.5px,#450356 63.5px,#450457 64.5px 66.5px,#450558 67.5px,#450559 68.5px 69.5px,#45065a 70.5px,#46075a 71.5px 72.5px,#460c5f 73.5px,#472172 74.5px,#471063 75.5px,#46095c 76.5px,#46085b 77.5px,#46085c 78.5px 100.5px,#46095d 101.5px 103.5px,#460a5d 104.5px,#470f62 105.5px,#48186b 106.5px,#482071 107.5px,#45327e 108.5px,#403f81 109.5px,#287e8b 110.5px,#22978a 111.5px,#2aaa81 112.5px,#249789 113.5px,#2d8589 114.5px,#4ab570 115.5px,#64c85e 116.5px,#41bb71 117.5px,#34b57a 118.5px,#5bc562 119.5px,#abda32 120.5px,#b4dc2d 121.5px,#addc32 122.5px,#afda31 123.5px,#6fc957 124.5px,#3fb673 125.5px,#67c75c 126.5px,#73cd54 127.5px,#42bb71 128.5px,#41bc71 129.5px,#80d14d 130.5px,#b6dd2c 131.5px,#95d740 132.5px,#8dd447 133.5px,#c1dd30 134.5px,#77cb55 135.5px,#31aa7d 136.5px,#3ab577 137.5px,#4fc16b 138.5px,#2fae7d 139.5px,#2daf7e 140.5px,#4ac06d 141.5px,#3bb975 142.5px,#2db17d 143.5px,#36b778 144.5px)"></div><div style="top:57px;height:1px;background:linear-gradient(90deg,#440154 0.5px 60.5px,#440255 61.5px,#440256 62.5px,#450356 63.5px,#450457 64.5px 66.5px,#450558 67.5px,#450559 68.5px 69.5px,#45065a 70.5px,#46065a 71.5px,#46075a 72.5px,#460b5e 73.5px,#481e6f 74.5px,#471365 75.5px,#46085c 76.5px,#46085b 77.5px 80.5px,#46085c 81.5px 97.5px,#46095d 98.5px 100.5px,#460a5d 101.5px 103.5px,#460b5e 104.5px,#471265 105.5px,#481e6f 106.5px,#482475 107.5px,#462e7b 108.5px,#3b4f86 109.5px,#258a8b 110.5px,#20998a 111.5px,#21a187 112.5px,#219e88 113.5px,#23948a 114.5px,#2e9f82 115.5px,#5ec263 116.5px,#6cca59 117.5px,#36b278 118.5px,#44bb70 119.5px,#8bd347 120.5px,#c3de29 121.5px,#b0db30 122.5px,#7acf50 123.5px,#88d147 124.5px,#4dbc6b 125.5px,#3eaf75 126.5px,#83ce4a 127.5px,#65c85c 128.5px,#3fb973 129.5px,#6fcc57 130.5px,#a6da35 131.5px,#a8da34 132.5px,#77cf53 133.5px,#8dd447 134.5px,#99d43d 135.5px,#42b272 136.5px,#2da182 137.5px,#4ebd6c 138.5px,#49be6e 139.5px,#2dad7e 140.5px,#3eba74 141.5px,#4bc16c 142.5px,#33b47a 143.5px,#27ac81 144.5px)"></div><div style="top:58px;height:1px;background:linear-gradient(90deg,#440154 0.5px 60.5px,#440255 61.5px,#440256 62.5px,#450356 63.5px,#450457 64.5px 67.5px,#450558 68.5px,#450559 69.5px 70.5px,#45065a 71.5px,#46075a 72.5px,#460a5d 73.5px,#48196b 74.5px,#471467 75.5px,#46095c 76.5px,#46075a 77.5px 79.5px,#46085b 80.5px 82.5px,#46085c 83.5px 95.5px,#46095d 96.5px 97.5px,#460a5d 98.5px 103.5px,#460b5e 104.5px,#471567 105.5px,#472575 106.5px,#45337e 107.5px,#452b77 108.5px,#3e4881 109.5px,#279784 110.5px,#22a286 111.5px,#1f9c89 112.5px,#21968a 113.5px,#24a385 114.5px,#26a484 115.5px,#36a77c 116.5px,#73c855 117.5px,#50c069 118.5px,#33b17b 119.5px,#51c169 120.5px,#7fcf4e 121.5px,#a8d835 122.5px,#60c660 123.5px,#4ebd6a 124.5px,#71c855 125.5px,#3cae76 126.5px,#4ab86d 127.5px,#85cf48 128.5px,#57c365 129.5px,#5ac663 130.5px,#88d448 131.5px,#a1da38 132.5px,#87d348 133.5px,#5bc563 134.5px,#7ace50 135.5px,#77c953 136.5px,#359f7f 137.5px,#33a87d 138.5px,#5dc462 139.5px,#3eb974 140.5px,#32b47a 141.5px,#49c06e 142.5px,#42bd72 143.5px,#2aad80 144.5px)"></div><div style="top:59px;height:1px;background:linear-gradient(90deg,#440154 0.5px 60.5px,#440255 61.5px,#440256 62.5px,#450356 63.5px,#450357 64.5px,#450457 65.5px 67.5px,#450558 68.5px,#450559 69.5px 71.5px,#45065a 72.5px,#46085b 73.5px,#470f62 74.5px,#470e61 75.5px,#46085b 76.5px,#46075a 77.5px 81.5px,#46085b 82.5px 83.5px,#46085c 84.5px 89.5px,#46095c 90.5px 91.5px,#46085c 92.5px 94.5px,#46095d 95.5px,#460a5d 96.5px 103.5px,#460b5f 104.5px,#471769 105.5px,#462c79 106.5px,#404486 107.5px,#3d4784 108.5px,#403b79 109.5px,#2a8f82 110.5px,#31b07c 111.5px,#25a185 112.5px,#22908c 113.5px,#259b87 114.5px,#39b378 115.5px,#2ca482 116.5px,#38aa79 117.5px,#5dc262 118.5px,#42ba71 119.5px,#2eaf7d 120.5px,#39b377 121.5px,#63c65f 122.5px,#6dc959 123.5px,#39ae78 124.5px,#4abb6d 125.5px,#5fc361 126.5px,#3bac78 127.5px,#57be66 128.5px,#84d04a 129.5px,#64c95d 130.5px,#65ca5d 131.5px,#88d448 132.5px,#8dd544 133.5px,#59c564 134.5px,#46bb6e 135.5px,#7acd50 136.5px,#51ba6a 137.5px,#2f9c82 138.5px,#42b573 139.5px,#59c564 140.5px,#3fba73 141.5px,#37b777 142.5px,#45be70 143.5px,#3cba75 144.5px)"></div><div style="top:60px;height:1px;background:linear-gradient(90deg,#440154 0.5px 60.5px,#440255 61.5px,#440256 62.5px 63.5px,#450356 64.5px,#450457 65.5px 68.5px,#450558 69.5px,#450559 70.5px 72.5px,#45065a 73.5px,#46085b 74.5px 75.5px,#46075a 76.5px 82.5px,#46085b 83.5px 84.5px,#46085c 85.5px 88.5px,#46095c 89.5px,#470e61 90.5px 91.5px,#46095d 92.5px,#46085c 93.5px,#46095d 94.5px,#460a5d 95.5px 103.5px,#460c5f 104.5px,#471a6b 105.5px,#45317d 106.5px,#3f4887 107.5px,#33628c 108.5px,#395387 109.5px,#307989 110.5px,#36ab7c 111.5px,#32b07c 112.5px,#249589 113.5px,#24908b 114.5px,#2faa7f 115.5px,#40b674 116.5px,#2d9e83 117.5px,#35a37d 118.5px,#5ac064 119.5px,#39b477 120.5px,#24a186 121.5px,#2da880 122.5px,#4bbc6d 123.5px,#4abc6e 124.5px,#38ad7a 125.5px,#51be6a 126.5px,#5dc163 127.5px,#3eaa78 128.5px,#6dc45a 129.5px,#99d53c 130.5px,#5ec560 131.5px,#65ca5d 132.5px,#80d24d 133.5px,#69cb5b 134.5px,#3bb775 135.5px,#45bb6f 136.5px,#6ec957 137.5px,#48b46f 138.5px,#309f82 139.5px,#4cb96e 140.5px,#66c95c 141.5px,#3fb973 142.5px,#33b47a 143.5px,#46be6f 144.5px)"></div><div style="top:61px;height:1px;background:linear-gradient(90deg,#440154 0.5px 60.5px,#440255 61.5px,#440256 62.5px 63.5px,#450356 64.5px,#450357 65.5px,#450457 66.5px 68.5px,#450558 69.5px,#450559 70.5px 73.5px,#45065a 74.5px 75.5px,#46065a 76.5px,#46075a 77.5px 83.5px,#46085b 84.5px 85.5px,#46085c 86.5px 88.5px,#460b5f 89.5px,#481d6f 90.5px 91.5px,#460c60 92.5px,#46095c 93.5px,#46095d 94.5px,#460a5d 95.5px 102.5px,#460b5e 103.5px,#470d60 104.5px,#471d6e 105.5px,#433981 106.5px,#3c4f8a 107.5px,#33648d 108.5px,#2d728d 109.5px,#2a7b8d 110.5px,#2d8e87 111.5px,#3bb178 112.5px,#28a583 113.5px,#22928b 114.5px,#259789 115.5px,#35af7b 116.5px,#3db177 117.5px,#2d9086 118.5px,#36a67c 119.5px,#53be68 120.5px,#2da680 121.5px,#219989 122.5px,#2aa084 123.5px,#48ba70 124.5px,#5bc164 125.5px,#3eab78 126.5px,#63c35f 127.5px,#57bd67 128.5px,#45a974 129.5px,#95ce40 130.5px,#91d343 131.5px,#52c168 132.5px,#63c95f 133.5px,#69cc5b 134.5px,#50c26a 135.5px,#31b07c 136.5px,#49ba6d 137.5px,#82cc4b 138.5px,#43ae72 139.5px,#349f80 140.5px,#64c25f 141.5px,#6ac95a 142.5px,#3ab476 143.5px,#2eb17d 144.5px)"></div><div style="top:62px;height:1px;background:linear-gradient(90deg,#440154 0.5px 60.5px,#440255 61.5px,#440256 62.5px 64.5px,#450356 65.5px,#450457 66.5px 69.5px,#450558 70.5px,#450559 71.5px 75.5px,#45065a 76.5px 77.5px,#46065a 78.5px,#46075a 79.5px 84.5px,#46085b 85.5px,#46085c 86.5px 88.5px,#460b5f 89.5px,#481d6f 90.5px 91.5px,#460d60 92.5px,#46095d 93.5px,#460a5d 94.5px 101.5px,#460b5e 102.5px 103.5px,#470e61 104.5px,#471f70 105.5px,#413f83 106.5px,#355e8c 107.5px,#32658d 108.5px,#2c768d 109.5px,#249289 110.5px,#28858c 111.5px,#289986 112.5px,#2dab7f 113.5px,#23a087 114.5px,#21978a 115.5px,#279788 116.5px,#35ae7b 117.5px,#2ea580 118.5px,#2c8c87 119.5px,#38aa7a 120.5px,#3fb774 121.5px,#28a085 122.5px,#22948b 123.5px,#359e7f 124.5px,#78c852 125.5px,#55bd67 126.5px,#40ac75 127.5px,#78c751 128.5px,#48b56e 129.5px,#4ab06f 130.5px,#a7d33d 131.5px,#7acc54 132.5px,#45bc70 133.5px,#58c565 134.5px,#5cc863 135.5px,#41ba72 136.5px,#32ab7d 137.5px,#63c45f 138.5px,#84cb4a 139.5px,#41a875 140.5px,#37a47c 141.5px,#6bc55a 142.5px,#69c85b 143.5px,#39b277 144.5px)"></div><div style="top:63px;height:1px;background:linear-gradient(90deg,#440154 0.5px 60.5px,#440255 61.5px,#440256 62.5px 64.5px,#450356 65.5px,#450357 66.5px,#450457 67.5px 70.5px,#450558 71.5px,#450559 72.5px 77.5px,#45065a 78.5px,#46065a 79.5px,#46075a 80.5px 84.5px,#46085b 85.5px 86.5px,#46085c 87.5px 88.5px,#46095c 89.5px,#470e61 90.5px,#470f61 91.5px,#460a5e 92.5px,#460a5d 93.5px 99.5px,#460b5e 100.5px 103.5px,#470e61 104.5px,#472071 105.5px,#423e82 106.5px,#32658c 107.5px,#2c738e 108.5px,#2c748d 109.5px,#22948a 110.5px,#229989 111.5px,#258c8b 112.5px,#249888 113.5px,#25a684 114.5px,#22a386 115.5px,#22958a 116.5px,#299388 117.5px,#33aa7d 118.5px,#2a9e83 119.5px,#2d8b88 120.5px,#39ac7a 121.5px,#39b378 122.5px,#269a87 123.5px,#279189 124.5px,#49b66e 125.5px,#84cd49 126.5px,#47b56e 127.5px,#44b470 128.5px,#7dc84d 129.5px,#44af71 130.5px,#56b86a 131.5px,#a7d441 132.5px,#60c362 133.5px,#3bb875 134.5px,#50c36a 135.5px 136.5px,#3db875 137.5px,#38af79 138.5px,#6dc758 139.5px,#84ca4b 140.5px,#3fa677 141.5px,#3aa67a 142.5px,#73c855 143.5px,#79ce51 144.5px)"></div><div style="top:64px;height:1px;background:linear-gradient(90deg,#440154 0.5px 60.5px,#440254 61.5px,#440255 62.5px,#440256 63.5px 65.5px,#450356 66.5px,#450357 67.5px,#450457 68.5px 71.5px,#450558 72.5px,#450559 73.5px 78.5px,#45065a 79.5px,#46065a 80.5px,#46075a 81.5px 85.5px,#46085b 86.5px,#46085c 87.5px 89.5px,#46095c 90.5px 91.5px,#46095d 92.5px,#460a5d 93.5px 98.5px,#460b5e 99.5px 103.5px,#470e61 104.5px,#472272 105.5px,#423b82 106.5px,#34608c 107.5px,#287d8e 108.5px,#26818e 109.5px,#25898c 110.5px,#239d87 111.5px,#269f85 112.5px,#27878b 113.5px,#239689 114.5px,#25a883 115.5px,#22a286 116.5px,#248e8b 117.5px,#2c8f88 118.5px,#39ab7a 119.5px,#2c9685 120.5px,#308a87 121.5px,#42b175 122.5px,#33ae7c 123.5px,#259689 124.5px,#2aa681 125.5px,#5ac163 126.5px,#82cc4a 127.5px,#43b171 128.5px,#52bc68 129.5px,#7dc84e 130.5px,#46a974 131.5px,#67be61 132.5px,#9dd23e 133.5px,#4cba6b 134.5px,#36b678 135.5px,#46bf6f 136.5px,#51c369 137.5px,#41b973 138.5px,#3dae76 139.5px,#7bca50 140.5px,#80c94d 141.5px,#3da27a 142.5px,#3ca978 143.5px,#7dcb4e 144.5px)"></div><div style="top:65px;height:1px;background:linear-gradient(90deg,#440154 0.5px 61.5px,#440255 62.5px,#440256 63.5px 66.5px,#450356 67.5px,#450457 68.5px 72.5px,#450558 73.5px,#450559 74.5px 79.5px,#45065a 80.5px,#46075a 81.5px 85.5px,#46085b 86.5px,#46085c 87.5px 91.5px,#46095d 92.5px,#460a5d 93.5px 97.5px,#460b5e 98.5px,#460c5f 99.5px,#460b5e 100.5px 103.5px,#470f62 104.5px,#462876 105.5px,#3f4686 106.5px,#365b8c 107.5px,#29798e 108.5px,#228c8d 109.5px,#228e8c 110.5px,#26918a 111.5px,#2ea97f 112.5px,#269688 113.5px,#28828c 114.5px,#239a87 115.5px,#23a684 116.5px,#229d88 117.5px,#27868c 118.5px,#2c9386 119.5px,#3cab79 120.5px,#2f8b87 121.5px,#328f85 122.5px,#48b570 123.5px,#2ea97f 124.5px,#24a783 125.5px,#31ae7c 126.5px,#6cc859 127.5px,#7cca4f 128.5px,#44ad73 129.5px,#65c25e 130.5px,#6ec359 131.5px,#46a376 132.5px,#78c455 133.5px,#8bcf45 134.5px,#41b671 135.5px,#33b47a 136.5px,#43bd71 137.5px,#5ac664 138.5px,#41b873 139.5px,#40af74 140.5px,#83cc4b 141.5px,#75c655 142.5px,#38a17d 143.5px,#32a77d 144.5px)"></div><div style="top:66px;height:1px;background:linear-gradient(90deg,#440154 0.5px 61.5px,#440255 62.5px,#440256 63.5px 66.5px,#450356 67.5px,#450457 68.5px 73.5px,#450558 74.5px,#450559 75.5px 79.5px,#45065a 80.5px,#46065a 81.5px,#46075a 82.5px 85.5px,#46085b 86.5px 87.5px,#46085c 88.5px 92.5px,#46095d 93.5px,#460a5d 94.5px 96.5px,#460b5e 97.5px,#471063 98.5px 99.5px,#460c5f 100.5px,#460b5e 101.5px 103.5px,#470f62 104.5px,#452a75 105.5px,#365a8a 106.5px,#31678d 107.5px,#2d718e 108.5px,#25848d 109.5px,#21958b 110.5px,#21938b 111.5px,#249f87 112.5px,#2aa682 113.5px,#28898b 114.5px,#27838c 115.5px,#239d87 116.5px,#22a585 117.5px,#22968a 118.5px,#28838c 119.5px,#2a9b85 120.5px,#34a67e 121.5px,#2f8288 122.5px,#319a81 123.5px,#4cbb6d 124.5px,#3cb674 125.5px,#26a882 126.5px,#3ab276 127.5px,#79cd51 128.5px,#67c45d 129.5px,#44ab75 130.5px,#74c655 131.5px,#58ba67 132.5px,#45a177 133.5px,#82c74d 134.5px,#79cb51 135.5px,#39b377 136.5px,#30b27c 137.5px,#43bc71 138.5px,#5ec661 139.5px,#3eb574 140.5px,#41b172 141.5px,#83cc4a 142.5px,#65c15e 143.5px,#309d82 144.5px)"></div><div style="top:67px;height:1px;background:linear-gradient(90deg,#440154 0.5px 61.5px,#440255 62.5px,#440256 63.5px 66.5px,#450356 67.5px,#450357 68.5px,#450457 69.5px 74.5px,#450558 75.5px,#450559 76.5px 80.5px,#45065a 81.5px,#46065a 82.5px,#46075a 83.5px 86.5px,#46085b 87.5px 88.5px,#46085c 89.5px 91.5px,#46095c 92.5px,#460a5d 93.5px 96.5px,#460d60 97.5px,#481f70 98.5px 99.5px,#470e61 100.5px,#460b5e 101.5px 103.5px,#470d60 104.5px,#45216e 105.5px,#375586 106.5px,#297b8d 107.5px,#2b768e 108.5px 109.5px,#24898c 110.5px,#219c88 111.5px,#219f87 112.5px 113.5px,#239a88 114.5px,#27828d 115.5px,#27878c 116.5px,#24a185 117.5px,#22a286 118.5px,#238f8b 119.5px,#28858b 120.5px,#2ca481 121.5px,#2b9d83 122.5px,#2f7f88 123.5px,#44aa74 124.5px,#7cca4f 125.5px,#39af77 126.5px,#26a683 127.5px,#43b771 128.5px,#7ccd4f 129.5px,#4fba6b 130.5px,#42ab74 131.5px,#7ac650 132.5px,#47af70 133.5px,#44a276 134.5px,#86c949 135.5px,#66c65c 136.5px,#32b17b 137.5px,#2cb07e 138.5px,#42ba71 139.5px,#61c55f 140.5px,#3ab276 141.5px,#42b371 142.5px,#7ecc4d 143.5px,#58bf65 144.5px)"></div><div style="top:68px;height:1px;background:linear-gradient(90deg,#440154 0.5px 61.5px,#440255 62.5px,#440256 63.5px 67.5px,#450356 68.5px,#450457 69.5px 74.5px,#450558 75.5px,#450559 76.5px 81.5px,#45065a 82.5px,#46075a 83.5px 87.5px,#46085b 88.5px 89.5px,#46085c 90.5px,#46095c 91.5px,#470e61 92.5px,#470f62 93.5px,#460a5e 94.5px,#46095d 95.5px,#460a5d 96.5px,#460d60 97.5px,#481f70 98.5px 99.5px,#470e61 100.5px,#460b5e 101.5px 103.5px,#470e61 104.5px,#471f70 105.5px,#413a7d 106.5px,#2b778b 107.5px,#238b8c 108.5px,#2a798d 109.5px,#2a788e 110.5px,#25918a 111.5px,#2aa981 112.5px,#229c88 113.5px,#20978a 114.5px,#22938a 115.5px,#297e8d 116.5px,#268d8b 117.5px,#25a584 118.5px,#229e87 119.5px,#25898c 120.5px,#298c8a 121.5px,#33a87e 122.5px,#2b9187 123.5px,#3e8580 124.5px,#89c549 125.5px,#70c757 126.5px,#2fa67f 127.5px,#27a782 128.5px,#4cbc6b 129.5px,#79cb50 130.5px,#40b073 131.5px,#41ad73 132.5px,#79c450 133.5px,#41a576 134.5px,#43a775 135.5px,#81ca4b 136.5px,#56c265 137.5px,#2eb07d 138.5px,#2aac80 139.5px,#45bb70 140.5px,#60c460 141.5px,#37ad7a 142.5px,#46b66f 143.5px,#84d049 144.5px)"></div><div style="top:69px;height:1px;background:linear-gradient(90deg,#440154 0.5px 61.5px,#440255 62.5px,#440256 63.5px 67.5px,#450356 68.5px,#450457 69.5px 75.5px,#450558 76.5px,#450559 77.5px 81.5px,#45065a 82.5px,#46065a 83.5px,#46075a 84.5px 88.5px,#46085b 89.5px 90.5px,#460b5f 91.5px,#481d6f 92.5px 93.5px,#460c60 94.5px,#46095c 95.5px,#46095d 96.5px,#460b5e 97.5px,#471063 98.5px 99.5px,#460b5e 100.5px,#460a5d 101.5px,#460b5e 102.5px 103.5px,#460f61 104.5px,#462775 105.5px,#423d82 106.5px,#375b89 107.5px,#258c8a 108.5px,#238f8b 109.5px,#2a798d 110.5px,#297e8d 111.5px,#269d86 112.5px,#26a484 113.5px,#248f8b 114.5px,#21968a 115.5px,#238e8b 116.5px,#2a7b8d 117.5px,#249489 118.5px,#26a683 119.5px,#22978a 120.5px,#26868d 121.5px,#299588 122.5px,#33a77e 123.5px,#2f8a87 124.5px,#44a375 125.5px,#91cd43 126.5px,#57bc66 127.5px,#28a184 128.5px,#2ba881 129.5px,#55c066 130.5px,#74c854 131.5px,#3da878 132.5px,#46b270 133.5px,#74c255 134.5px,#3f9f7a 135.5px,#44ad72 136.5px,#78ca50 137.5px,#49bd6d 138.5px,#2aad7f 139.5px,#2aaa80 140.5px,#4cbe6c 141.5px,#57c067 142.5px,#35a87d 143.5px,#4ab96e 144.5px)"></div><div style="top:70px;height:1px;background:linear-gradient(90deg,#440154 0.5px 61.5px,#440255 62.5px,#440256 63.5px 67.5px,#450356 68.5px,#450357 69.5px,#450457 70.5px 75.5px,#450558 76.5px,#450559 77.5px 82.5px,#45065a 83.5px,#46065a 84.5px,#46075a 85.5px 89.5px,#46085b 90.5px,#460b5f 91.5px,#481d6e 92.5px,#481d6f 93.5px,#460c5f 94.5px,#46085c 95.5px 96.5px,#46095d 97.5px,#460a5d 98.5px 102.5px,#460b5e 103.5px,#471063 104.5px,#451f6c 105.5px,#394f86 106.5px,#365c8b 107.5px,#2e728c 108.5px,#249588 109.5px,#248d8b 110.5px,#2a798e 111.5px,#28818c 112.5px,#229789 113.5px,#21958a 114.5px,#238c8c 115.5px,#229889 116.5px,#26878c 117.5px,#2b7b8c 118.5px,#279d85 119.5px,#25a584 120.5px,#23908b 121.5px,#25878d 122.5px,#269c86 123.5px,#2da681 124.5px,#2e9984 125.5px,#4db16d 126.5px,#8dcd45 127.5px,#44b171 128.5px,#249e86 129.5px,#2eaa7e 130.5px,#5ec462 131.5px,#6bc45b 132.5px,#3da27a 133.5px,#50b76c 134.5px,#66be5f 135.5px,#3b9b7d 136.5px,#4cb46e 137.5px,#6dc958 138.5px,#3db774 139.5px,#26aa82 140.5px,#2daa7f 141.5px,#52c069 142.5px,#46b971 143.5px,#2b9e84 144.5px)"></div><div style="top:71px;height:1px;background:linear-gradient(90deg,#440154 0.5px 61.5px,#440254 62.5px,#440255 63.5px,#440256 64.5px 68.5px,#450356 69.5px,#450457 70.5px 76.5px,#450558 77.5px,#450559 78.5px 83.5px,#45065a 84.5px,#46065a 85.5px,#46075a 86.5px 90.5px,#46095c 91.5px,#460e60 92.5px,#470e61 93.5px,#46095c 94.5px,#46085c 95.5px 97.5px,#46095d 98.5px 99.5px,#460a5d 100.5px 102.5px,#460e61 103.5px,#471e6f 104.5px,#471c6c 105.5px,#40397b 106.5px,#2d6f8b 107.5px,#2f6e8d 108.5px,#2b7c8c 109.5px,#259888 110.5px,#258b8b 111.5px,#2b778e 112.5px,#27818d 113.5px,#21968a 114.5px,#22908c 115.5px,#248e8c 116.5px,#259987 117.5px,#2a7f8c 118.5px,#2c7f8b 119.5px,#2da481 120.5px,#25a085 121.5px,#248b8c 122.5px,#258b8c 123.5px,#2ca581 124.5px,#43b274 125.5px,#369980 126.5px,#5fba63 127.5px,#82cb4b 128.5px,#3ba978 129.5px,#239d87 130.5px,#32ab7c 131.5px,#67c65c 132.5px,#5dbd64 133.5px,#3d9e7c 134.5px,#5cbb66 135.5px,#53b86b 136.5px,#39997f 137.5px,#58ba68 138.5px,#61c660 139.5px,#33b17a 140.5px,#23a684 141.5px,#31ae7c 142.5px,#52c068 143.5px,#34af7b 144.5px)"></div><div style="top:72px;height:1px;background:linear-gradient(90deg,#440154 0.5px 62.5px,#440255 63.5px,#440256 64.5px 68.5px,#450356 69.5px,#450357 70.5px,#450457 71.5px 77.5px,#450558 78.5px 79.5px,#450559 80.5px 84.5px,#45065a 85.5px 87.5px,#46065a 88.5px,#46075a 89.5px 91.5px,#46085c 92.5px 93.5px,#46085b 94.5px 96.5px,#46085c 97.5px 99.5px,#46095d 100.5px 102.5px,#460e60 103.5px,#472373 104.5px,#462a77 105.5px,#421e69 106.5px,#335982 107.5px,#27848a 108.5px,#2d738d 109.5px,#29828c 110.5px,#259988 111.5px,#27868c 112.5px,#2b778e 113.5px,#25868d 114.5px,#21978a 115.5px,#238c8c 116.5px,#22938b 117.5px,#249788 118.5px,#2c788c 119.5px,#2c8789 120.5px,#2fa77f 121.5px,#259a87 122.5px,#24898d 123.5px,#2c9287 124.5px,#4fba6c 125.5px,#3cae78 126.5px,#39987e 127.5px,#6ec05a 128.5px,#71c657 129.5px,#33a37e 130.5px,#239c88 131.5px,#38ac79 132.5px,#6fc757 133.5px,#4bb46e 134.5px,#3d9c7c 135.5px,#65bd5f 136.5px,#41ad75 137.5px,#39997f 138.5px,#64c060 139.5px,#54c167 140.5px,#2aaa80 141.5px,#23a585 142.5px,#36b478 143.5px,#50c269 144.5px)"></div><div style="top:73px;height:1px;background:linear-gradient(90deg,#440154 0.5px 62.5px,#440255 63.5px,#440256 64.5px 69.5px,#450356 70.5px,#450357 71.5px,#450457 72.5px 79.5px,#450558 80.5px 83.5px,#450559 84.5px 87.5px,#45065a 88.5px 91.5px,#46075a 92.5px 95.5px,#46085b 96.5px 99.5px,#46095c 100.5px 101.5px,#46085c 102.5px,#46095d 103.5px,#461666 104.5px,#43357d 105.5px,#442c76 106.5px,#402b6f 107.5px,#2c7086 108.5px,#25868c 109.5px,#2e6f8c 110.5px,#27878b 111.5px,#239789 112.5px,#28808d 113.5px,#2a788e 114.5px,#238b8c 115.5px,#21958b 116.5px,#248b8c 117.5px,#21978a 118.5px,#23918a 119.5px,#2d758c 120.5px,#299088 121.5px,#2ca881 122.5px,#249689 123.5px,#258c8b 124.5px,#31a87e 125.5px,#51bd69 126.5px,#35a57d 127.5px,#3d9a7c 128.5px,#75c356 129.5px,#5dc063 130.5px,#2ca083 131.5px,#239a88 132.5px,#3dae75 133.5px,#73c654 134.5px,#40a975 135.5px,#3d9e7b 136.5px,#68bd5c 137.5px,#3ba17a 138.5px,#3b9d7c 139.5px,#6cc35a 140.5px,#44b870 141.5px,#24a385 142.5px,#26a883 143.5px,#3bb975 144.5px)"></div><div style="top:74px;height:1px;background:linear-gradient(90deg,#440154 0.5px 62.5px,#440254 63.5px,#440255 64.5px,#440256 65.5px 70.5px,#450356 71.5px 73.5px,#450357 74.5px,#450457 75.5px 83.5px,#450558 84.5px 87.5px,#450559 88.5px 92.5px,#45065a 93.5px 95.5px,#46065a 96.5px,#46075a 97.5px 98.5px,#46085b 99.5px,#460d60 100.5px 101.5px,#46085b 102.5px,#46075a 103.5px,#45085a 104.5px,#44236f 105.5px,#3b4b84 106.5px,#41397e 107.5px,#3f427f 108.5px,#2a788a 109.5px,#297a8d 110.5px,#306b8c 111.5px,#25898b 112.5px,#22908b 113.5px,#2a798e 114.5px,#297a8e 115.5px,#22908c 116.5px,#21928b 117.5px,#248b8c 118.5px,#229988 119.5px,#258b8b 120.5px,#2d778c 121.5px,#279787 122.5px,#27a683 123.5px,#229889 124.5px,#229e87 125.5px,#33ac7c 126.5px,#53bb69 127.5px,#359e7f 128.5px,#3e9d7b 129.5px,#72c456 130.5px,#4bb96d 131.5px,#279d86 132.5px,#259988 133.5px,#44b371 134.5px,#72c455 135.5px,#3e9f7a 136.5px,#3ba479 137.5px,#63bb60 138.5px,#3a977e 139.5px,#3da578 140.5px,#6ac45a 141.5px,#37ad79 142.5px,#23a086 143.5px,#28ac81 144.5px)"></div><div style="top:75px;height:1px;background:linear-gradient(90deg,#440154 0.5px 63.5px,#440254 64.5px,#440255 65.5px 67.5px,#440256 68.5px 73.5px,#450356 74.5px 77.5px,#450357 78.5px,#450457 79.5px 89.5px,#450558 90.5px 92.5px,#450559 93.5px 98.5px,#460a5d 99.5px,#481c6d 100.5px 101.5px,#460a5d 102.5px,#45065a 103.5px,#450558 104.5px,#440c5d 105.5px,#40377b 106.5px,#3a5188 107.5px,#423d82 108.5px,#3c4b84 109.5px,#2c748c 110.5px,#2f6b8d 111.5px,#31688c 112.5px,#25878c 113.5px,#25848d 114.5px,#2c728e 115.5px,#297c8d 116.5px,#22918b 117.5px,#228f8c 118.5px,#248c8c 119.5px,#249988 120.5px,#28858c 121.5px,#2b7b8c 122.5px,#269b86 123.5px,#25a784 124.5px,#28a982 125.5px,#259e86 126.5px,#35ac7b 127.5px,#53b96a 128.5px,#369980 129.5px,#3ca27a 130.5px,#6ac35a 131.5px,#3db275 132.5px,#249988 133.5px,#299886 134.5px,#4fb86c 135.5px,#69c05d 136.5px,#3b987e 137.5px,#3fac76 138.5px,#53b66b 139.5px,#389081 140.5px,#4ab070 141.5px,#62c260 142.5px,#31a280 143.5px,#229f87 144.5px)"></div><div style="top:76px;height:1px;background:linear-gradient(90deg,#440154 0.5px 66.5px,#440254 67.5px,#440255 68.5px 71.5px,#440256 72.5px 77.5px,#450356 78.5px 84.5px,#450357 85.5px,#450457 86.5px 98.5px,#45085c 99.5px,#471a6c 100.5px 101.5px,#46095c 102.5px,#450559 103.5px,#45065a 104.5px,#450557 105.5px,#431160 106.5px,#3e4080 107.5px,#3d4987 108.5px,#44357e 109.5px,#3c4b85 110.5px,#31688c 111.5px,#375b8c 112.5px,#33648c 113.5px,#27808d 114.5px,#2b768e 115.5px,#2f6b8e 116.5px,#297b8d 117.5px,#228f8c 118.5px,#238a8d 119.5px,#248c8c 120.5px,#249788 121.5px,#28818c 122.5px,#29818c 123.5px,#28a184 124.5px,#37b678 125.5px,#2caa80 126.5px,#279a87 127.5px,#39ae79 128.5px,#4eb66d 129.5px,#349582 130.5px,#3ba779 131.5px,#5ec261 132.5px,#34ab7b 133.5px,#23968a 134.5px,#2f9984 135.5px,#5abd66 136.5px,#56b869 137.5px,#389480 138.5px,#4cb370 139.5px,#40ac77 140.5px,#398e81 141.5px,#5eb965 142.5px,#52ba6b 143.5px,#2b9886 144.5px)"></div><div style="top:77px;height:1px;background:linear-gradient(90deg,#440154 0.5px 70.5px,#440254 71.5px,#440255 72.5px 84.5px,#450356 85.5px 98.5px,#450458 99.5px,#46095c 100.5px 101.5px,#450558 102.5px,#450457 103.5px,#450659 104.5px,#460b5e 105.5px,#45085a 106.5px,#451b69 107.5px,#413b80 108.5px,#443880 109.5px,#452c77 110.5px,#3d4784 111.5px,#38578b 112.5px,#3d4c88 113.5px,#34608b 114.5px,#2c738d 115.5px,#31678e 116.5px,#33648d 117.5px,#2b788d 118.5px,#24898d 119.5px,#25858e 120.5px,#258a8c 121.5px,#23918b 122.5px,#287f8d 123.5px,#2a898a 124.5px,#36b07a 125.5px,#36b678 126.5px,#2aa782 127.5px,#2a9686 128.5px,#3eb077 129.5px,#44b174 130.5px,#319284 131.5px,#3fad76 132.5px,#52be69 133.5px,#2da481 134.5px,#24928b 135.5px,#349d80 136.5px,#61c061 137.5px,#40ac76 138.5px,#389480 139.5px,#57b669 140.5px,#379e7e 141.5px,#3d917e 142.5px,#6abd5c 143.5px,#43b472 144.5px)"></div><div style="top:78px;height:1px;background:linear-gradient(90deg,#440154 0.5px 83.5px,#440254 84.5px,#440255 85.5px 93.5px,#450356 94.5px,#46095c 95.5px 96.5px,#450356 97.5px,#440255 98.5px,#440256 99.5px,#450356 100.5px 101.5px,#440356 102.5px,#440255 103.5px,#450356 104.5px,#460a5d 105.5px,#460e61 106.5px,#460c5e 107.5px,#461c6c 108.5px,#462b79 109.5px,#482373 110.5px,#462371 111.5px,#413c80 112.5px,#414285 113.5px,#423d82 114.5px,#385689 115.5px,#33638d 116.5px,#38598c 117.5px,#375b8c 118.5px,#2d718d 119.5px,#27808e 120.5px,#287c8e 121.5px,#26828d 122.5px,#24878d 123.5px,#287f8d 124.5px,#269a87 125.5px,#2dae7e 126.5px,#31b27c 127.5px,#27a085 128.5px,#2e9286 129.5px,#42b175 130.5px,#35a87c 131.5px,#318e85 132.5px,#45b173 133.5px,#43b872 134.5px,#279b86 135.5px,#258d8b 136.5px,#36a17d 137.5px,#5ebd62 138.5px,#379f7e 139.5px,#389780 140.5px,#57b369 141.5px,#399081 142.5px,#3f967c 143.5px,#72c256 144.5px)"></div><div style="top:79px;height:1px;background:linear-gradient(90deg,#440154 0.5px 92.5px,#440254 93.5px,#450659 94.5px,#47196b 95.5px 96.5px,#450659 97.5px,#440254 98.5px,#440154 99.5px 104.5px,#450759 105.5px,#471c6e 106.5px,#471a6c 107.5px,#460b5d 108.5px,#471365 109.5px,#48196b 110.5px,#471466 111.5px,#461a6b 112.5px,#452d79 113.5px,#462d7b 114.5px,#44317b 115.5px,#3c4a86 116.5px,#3b528a 117.5px,#3e4a89 118.5px,#3b5089 119.5px,#31678c 120.5px,#2c748e 121.5px,#2d6f8e 122.5px,#2a788e 123.5px,#287d8e 124.5px,#25868d 125.5px,#239689 126.5px,#26a583 127.5px,#2cab80 128.5px,#269489 129.5px,#318f86 130.5px,#44af74 131.5px,#2f9b83 132.5px,#338c85 133.5px,#48b371 134.5px,#35ae7b 135.5px,#25908a 136.5px,#27898b 137.5px,#36a57c 138.5px,#53b76a 139.5px,#359283 140.5px,#349a80 141.5px,#4aad71 142.5px,#378584 143.5px,#339681 144.5px)"></div><div style="top:80px;height:1px;background:linear-gradient(90deg,#440154 0.5px 93.5px,#450558 94.5px,#47186a 95.5px 96.5px,#450558 97.5px,#440154 98.5px 104.5px,#450558 105.5px,#47196b 106.5px 107.5px,#450659 108.5px,#450558 109.5px,#460a5d 110.5px,#460b5e 111.5px,#460a5d 112.5px,#461264 113.5px,#481e6f 114.5px 115.5px,#462875 116.5px,#423d82 117.5px,#423f85 118.5px,#433b83 119.5px,#3f4485 120.5px,#365b8b 121.5px,#32668d 122.5px,#33628d 123.5px,#2e6d8e 124.5px,#297a8e 125.5px,#287d8e 126.5px,#248c8c 127.5px,#239b88 128.5px,#259e86 129.5px,#28868c 130.5px,#318e85 131.5px,#41ab77 132.5px,#308c87 133.5px,#338e84 134.5px,#46b372 135.5px,#2da182 136.5px,#26868c 137.5px,#29878b 138.5px,#36a97b 139.5px,#42ae75 140.5px,#318786 141.5px,#2f9d81 142.5px,#38a47c 143.5px,#327688 144.5px)"></div><div style="top:81px;height:1px;background:linear-gradient(90deg,#440154 0.5px 93.5px,#440255 94.5px,#45075a 95.5px 96.5px,#440255 97.5px,#440154 98.5px 104.5px,#440255 105.5px,#45075a 106.5px 107.5px,#440255 108.5px,#440254 109.5px,#440255 110.5px,#450457 111.5px 112.5px,#450558 113.5px,#460b5e 114.5px,#471264 115.5px,#471466 116.5px,#472070 117.5px,#462e7b 118.5px,#472e7c 119.5px,#462d7b 120.5px,#433980 121.5px,#3b4f88 122.5px,#39558b 123.5px,#39568b 124.5px,#31678d 125.5px,#2f6b8e 126.5px,#2e6f8e 127.5px,#287f8d 128.5px,#238f8b 129.5px,#238d8c 130.5px,#2c788d 131.5px,#2d8f87 132.5px,#32a180 133.5px,#2f7e8a 134.5px,#319284 135.5px,#3eb076 136.5px,#2b9487 137.5px,#297e8d 138.5px,#2c8789 139.5px,#38ab7b 140.5px,#32a37f 141.5px,#307f87 142.5px,#319f80 143.5px,#29a083 144.5px)"></div><div style="top:82px;height:1px;background:linear-gradient(90deg,#440154 0.5px 94.5px,#440255 95.5px 96.5px,#440154 97.5px 105.5px,#440255 106.5px 107.5px,#440154 108.5px 111.5px,#440254 112.5px 113.5px,#440355 114.5px,#450659 115.5px,#46095c 116.5px,#460d5f 117.5px,#471668 118.5px,#481f70 119.5px,#482071 120.5px,#472172 121.5px,#452e7a 122.5px,#414084 123.5px,#404587 124.5px,#3d4c89 125.5px,#38588b 126.5px,#37598c 127.5px,#34608c 128.5px,#2d728d 129.5px,#27808e 130.5px,#2a788e 131.5px,#306c8c 132.5px,#288c89 133.5px,#258e89 134.5px,#30718a 135.5px,#2e9783 136.5px,#32a87e 137.5px,#2a868b 138.5px,#2b788e 139.5px,#2e8888 140.5px,#3aab7a 141.5px,#2d9584 142.5px,#337a88 143.5px,#36a27d 144.5px)"></div><div style="top:83px;height:1px;background:linear-gradient(90deg,#440154 0.5px 114.5px,#440254 115.5px,#440255 116.5px,#450457 117.5px,#450659 118.5px,#460c5f 119.5px,#471264 120.5px,#471365 121.5px,#471668 122.5px,#472372 123.5px,#45307c 124.5px,#453680 125.5px,#423d83 126.5px,#3f4787 127.5px 128.5px,#3a5289 129.5px,#32658d 130.5px,#2e6e8e 131.5px,#33638d 132.5px,#33648b 133.5px,#27848b 134.5px,#2b778d 135.5px,#346989 136.5px,#2c9783 137.5px,#259987 138.5px,#2b788d 139.5px,#2e728d 140.5px,#308987 141.5px,#3da87a 142.5px,#328786 143.5px,#356f8a 144.5px)"></div><div style="top:84px;height:1px;background:linear-gradient(90deg,#440154 0.5px 117.5px,#440255 118.5px,#440356 119.5px,#450558 120.5px,#46075b 121.5px,#46095c 122.5px,#460e61 123.5px,#47186a 124.5px,#472273 125.5px,#472575 126.5px,#462f7b 127.5px,#45357f 128.5px,#44357f 129.5px,#3f4585 130.5px,#38568b 131.5px,#37598c 132.5px,#3b508a 133.5px,#365c8a 134.5px,#2b768d 135.5px,#35618c 136.5px,#366489 137.5px,#299186 138.5px,#26868c 139.5px,#2f6c8e 140.5px,#306c8d 141.5px,#308a87 142.5px,#3ba27c 143.5px,#347888 144.5px)"></div><div style="top:85px;height:1px;background:linear-gradient(90deg,#440154 0.5px 119.5px,#440254 120.5px,#440255 121.5px,#450356 122.5px,#450457 123.5px,#45085b 124.5px,#470f62 125.5px,#471466 126.5px,#471869 127.5px,#472171 128.5px,#482374 129.5px,#462775 130.5px,#433980 131.5px,#3f4586 132.5px,#404487 133.5px,#414084 134.5px,#395389 135.5px,#33638c 136.5px,#3d4d88 137.5px,#366088 138.5px,#27858b 139.5px,#2c738d 140.5px,#34608d 141.5px,#34648c 142.5px,#2d8a87 143.5px,#30a280 144.5px)"></div><div style="top:86px;height:1px;background:linear-gradient(90deg,#440154 0.5px 123.5px,#440255 124.5px,#450457 125.5px,#45075a 126.5px,#46095c 127.5px,#460e61 128.5px,#471466 129.5px,#471567 130.5px,#471c6c 131.5px,#462b78 132.5px,#45327e 133.5px,#46317e 134.5px,#45337d 135.5px,#3e4885 136.5px,#3b4e88 137.5px,#413d80 138.5px,#365a87 139.5px,#2c748d 140.5px,#34608d 141.5px,#3a538b 142.5px,#375c8a 143.5px,#2a8589 144.5px)"></div><div style="top:87px;height:1px;background:linear-gradient(90deg,#440154 0.5px 125.5px,#440255 126.5px 127.5px,#450457 128.5px,#45075a 129.5px,#46095d 130.5px,#460b5e 131.5px,#471264 132.5px,#471d6e 133.5px,#482272 134.5px,#482172 135.5px,#462775 136.5px,#423a80 137.5px,#433a81 138.5px,#432f78 139.5px,#395085 140.5px,#34608c 141.5px,#3c4e8a 142.5px,#404587 143.5px,#3d4c87 144.5px)"></div><div style="top:88px;height:1px;background:linear-gradient(90deg,#440154 0.5px 128.5px,#440255 129.5px 130.5px,#450356 131.5px,#450558 132.5px,#460a5d 133.5px,#471164 134.5px,#471466 135.5px,#471567 136.5px,#471b6b 137.5px,#462a78 138.5px,#472675 139.5px,#452571 140.5px,#3e4382 141.5px,#3e4988 142.5px,#443a82 143.5px,#46337e 144.5px)"></div><div style="top:89px;height:1px;background:linear-gradient(90deg,#440154 0.5px 131.5px,#440254 132.5px,#440255 133.5px,#450558 134.5px,#46085b 135.5px,#460a5d 136.5px 137.5px,#461163 138.5px,#471b6c 139.5px,#471668 140.5px,#451a6a 141.5px,#44327c 142.5px,#46327e 143.5px,#482777 144.5px)"></div><div style="top:90px;height:1px;background:linear-gradient(90deg,#440154 0.5px 134.5px,#440255 135.5px,#440355 136.5px,#450457 137.5px 138.5px,#46095c 139.5px,#470e61 140.5px,#460a5d 141.5px,#461264 142.5px,#472272 143.5px,#482071 144.5px)"></div><div style="top:91px;height:1px;background:linear-gradient(90deg,#440154 0.5px 136.5px,#440254 137.5px,#440154 138.5px,#440255 139.5px,#450457 140.5px,#450558 141.5px,#450457 142.5px,#460c5f 143.5px,#471567 144.5px)"></div><div style="top:92px;height:1px;background:linear-gradient(90deg,#440154 0.5px 140.5px,#440255 141.5px 142.5px,#440356 143.5px,#45075a 144.5px)"></div><div style="top:93px;height:1px;background:linear-gradient(90deg,#440154 0.5px 143.5px,#440255 144.5px)"></div><div style="top:94px;height:52px;background:#440154"></div></div>
<svg width="685" height="331" viewBox="0 0 685 331" fill="#000">
<defs><linearGradient id="vn" x1="0" y1="0" x2="0" y2="1"><stop offset="0" stop-color="#fde725"/><stop offset="0.1" stop-color="#bddf26"/><stop offset="0.2" stop-color="#7ad151"/><stop offset="0.3" stop-color="#44bf70"/><stop offset="0.4" stop-color="#22a884"/><stop offset="0.5" stop-color="#21918c"/><stop offset="0.6" stop-color="#2a788e"/><stop offset="0.7" stop-color="#355f8d"/><stop offset="0.8" stop-color="#414487"/><stop offset="0.9" stop-color="#482475"/><stop offset="1" stop-color="#440154"/></linearGradient><linearGradient id="vr" x1="0" y1="0" x2="0" y2="1"><stop offset="0" stop-color="#440154"/><stop offset="0.1" stop-color="#482475"/><stop offset="0.2" stop-color="#414487"/><stop offset="0.3" stop-color="#355f8d"/><stop offset="0.4" stop-color="#2a788e"/><stop offset="0.5" stop-color="#21918c"/><stop offset="0.6" stop-color="#22a884"/><stop offset="0.7" stop-color="#44bf70"/><stop offset="0.8" stop-color="#7ad151"/><stop offset="0.9" stop-color="#bddf26"/><stop offset="1" stop-color="#fde725"/></linearGradient></defs>
<text x="1.2" y="9.4" font-size="13" font-weight="bold">a</text>
<text x="-0.6" y="177.4" font-size="13" font-weight="bold">b</text>
<text x="240.2" y="9.4" font-size="13" font-weight="bold">c</text>
<text x="239.4" y="177.4" font-size="13" font-weight="bold">d</text>
<text x="465.6" y="9.4" font-size="13" font-weight="bold">e</text>
<text x="468" y="177.4" font-size="13" font-weight="bold">f</text>
<rect x="117.4" y="75.55" width="6.9" height="6.9" fill="#bddf26"/>
<rect x="124.25" y="68.75" width="6.9" height="6.9" fill="#bddf26"/>
<rect x="131.1" y="61.95" width="6.9" height="6.9" fill="#bddf26"/>
<rect x="124.25" y="55.15" width="6.9" height="6.9" fill="#bddf26"/>
<rect x="131.1" y="55.15" width="6.9" height="6.9" fill="#bddf26"/>
<rect x="137.95" y="55.15" width="6.9" height="6.9" fill="#bddf26" fill-opacity="0.85"/>
<rect x="131.1" y="48.35" width="6.9" height="6.9" fill="#bddf26"/>
<rect x="109.1" y="81.45" width="9.1" height="9.1" fill="#bddf26" stroke="#ff7f0e" stroke-width="2.2"/>
<circle cx="120.6" cy="78.6" r="0.8" fill="#21918c" fill-opacity="0.8"/>
<circle cx="126.6" cy="71.0" r="0.7" fill="#21918c" fill-opacity="0.8"/>
<circle cx="128.8" cy="73.4" r="0.6" fill="#21918c" fill-opacity="0.8"/>
<circle cx="134.0" cy="65.0" r="0.5" fill="#21918c" fill-opacity="0.8"/>
<circle cx="140.5" cy="58.0" r="0.6" fill="#21918c" fill-opacity="0.8"/>
<circle cx="114.2" cy="85.2" r="0.7" fill="#25848e"/>
<rect x="136.85" y="39.85" width="9.1" height="9.1" fill="none" stroke="#ff0000" stroke-width="1.6"/>
<rect x="54.82" y="306.85" width="6.9" height="6.9" fill="#fae12a"/>
<rect x="61.69" y="299.95" width="6.9" height="6.9" fill="#fae12a"/>
<rect x="68.56" y="293.05" width="6.9" height="6.9" fill="#fae12a"/>
<rect x="75.43" y="286.15" width="6.9" height="6.9" fill="#fae12a"/>
<rect x="82.3" y="279.25" width="6.9" height="6.9" fill="#fae12a"/>
<rect x="89.17" y="272.35" width="6.9" height="6.9" fill="#fae12a"/>
<rect x="96.04" y="265.45" width="6.9" height="6.9" fill="#fae12a"/>
<rect x="102.91" y="258.55" width="6.9" height="6.9" fill="#fae12a"/>
<rect x="109.78" y="251.65" width="6.9" height="6.9" fill="#fae12a"/>
<rect x="116.65" y="244.75" width="6.9" height="6.9" fill="#fae12a"/>
<rect x="47" y="312.7" width="8.8" height="8.8" fill="#fae12a" stroke="#ff0000" stroke-width="2.2"/>
<rect x="122.65" y="237.05" width="8.8" height="8.8" fill="#fae12a" stroke="#ff7f0e" stroke-width="2.2"/>
<rect x="41" y="7.3" width="145" height="144.4" fill="none" stroke="#555" stroke-width="0.6"/>
<line x1="38.8" y1="7.3" x2="41" y2="7.3" stroke="#333" stroke-width="0.6"/>
<line x1="38.8" y1="151.7" x2="41" y2="151.7" stroke="#333" stroke-width="0.6"/>
<line x1="41" y1="151.7" x2="41" y2="153.9" stroke="#333" stroke-width="0.6"/>
<line x1="186" y1="151.7" x2="186" y2="153.9" stroke="#333" stroke-width="0.6"/>
<text x="37.2" y="10.23" font-size="8.48" text-anchor="end" textLength="21.97" lengthAdjust="spacingAndGlyphs">−730</text>
<text x="37.2" y="154.63" font-size="8.48" text-anchor="end" textLength="27.06" lengthAdjust="spacingAndGlyphs">−1370</text>
<text x="41" y="161.33" font-size="8.48" text-anchor="middle" textLength="27.06" lengthAdjust="spacingAndGlyphs">−1370</text>
<text x="186" y="161.33" font-size="8.48" text-anchor="middle" textLength="21.97" lengthAdjust="spacingAndGlyphs">−730</text>
<text x="95.2" y="161.26" font-size="8.3" textLength="5.6" lengthAdjust="spacingAndGlyphs">V</text>
<text x="101.1" y="162.86" font-size="5.6" textLength="6.9" lengthAdjust="spacingAndGlyphs">B1</text>
<text x="110.6" y="161.26" font-size="8.3" textLength="21.5" lengthAdjust="spacingAndGlyphs">(mV)</text>
<g transform="translate(32.7 79.5) rotate(-90)"><text x="-18.5" y="2.9" font-size="8.3" textLength="5.6" lengthAdjust="spacingAndGlyphs">V</text><text x="-12.6" y="4.5" font-size="5.6" textLength="6.9" lengthAdjust="spacingAndGlyphs">B2</text><text x="-3.1" y="2.9" font-size="8.3" textLength="21.5" lengthAdjust="spacingAndGlyphs">(mV)</text></g>
<rect x="41" y="176" width="144.6" height="145.2" fill="none" stroke="#555" stroke-width="0.6"/>
<line x1="38.8" y1="176" x2="41" y2="176" stroke="#333" stroke-width="0.6"/>
<line x1="38.8" y1="321.2" x2="41" y2="321.2" stroke="#333" stroke-width="0.6"/>
<line x1="41" y1="321.2" x2="41" y2="323.4" stroke="#333" stroke-width="0.6"/>
<line x1="185.6" y1="321.2" x2="185.6" y2="323.4" stroke="#333" stroke-width="0.6"/>
<text x="37.2" y="178.93" font-size="8.48" text-anchor="end" textLength="21.97" lengthAdjust="spacingAndGlyphs">−716</text>
<text x="37.2" y="324.13" font-size="8.48" text-anchor="end" textLength="27.06" lengthAdjust="spacingAndGlyphs">−1356</text>
<text x="41" y="329.73" font-size="8.48" text-anchor="middle" textLength="27.06" lengthAdjust="spacingAndGlyphs">−1471</text>
<text x="185.6" y="329.73" font-size="8.48" text-anchor="middle" textLength="21.97" lengthAdjust="spacingAndGlyphs">−831</text>
<text x="95.2" y="329.66" font-size="8.3" textLength="5.6" lengthAdjust="spacingAndGlyphs">V</text>
<text x="101.1" y="331.26" font-size="5.6" textLength="6.9" lengthAdjust="spacingAndGlyphs">B1</text>
<text x="110.6" y="329.66" font-size="8.3" textLength="21.5" lengthAdjust="spacingAndGlyphs">(mV)</text>
<g transform="translate(32.7 248.6) rotate(-90)"><text x="-18.5" y="2.9" font-size="8.3" textLength="5.6" lengthAdjust="spacingAndGlyphs">V</text><text x="-12.6" y="4.5" font-size="5.6" textLength="6.9" lengthAdjust="spacingAndGlyphs">B2</text><text x="-3.1" y="2.9" font-size="8.3" textLength="21.5" lengthAdjust="spacingAndGlyphs">(mV)</text></g>
<rect x="190" y="7.3" width="7" height="144.2" fill="url(#vn)" stroke="#888" stroke-width="0.5"/>
<rect x="200.8" y="7.3" width="7.4" height="144.2" fill="url(#vr)" stroke="#888" stroke-width="0.5"/>
<line x1="208.2" y1="22" x2="210.2" y2="22" stroke="#333" stroke-width="0.6"/>
<text x="211.6" y="24.93" font-size="8.48" textLength="12.72" lengthAdjust="spacingAndGlyphs">0.4</text>
<line x1="208.2" y1="54.3" x2="210.2" y2="54.3" stroke="#333" stroke-width="0.6"/>
<text x="211.6" y="57.23" font-size="8.48" textLength="12.72" lengthAdjust="spacingAndGlyphs">0.3</text>
<line x1="208.2" y1="86.5" x2="210.2" y2="86.5" stroke="#333" stroke-width="0.6"/>
<text x="211.6" y="89.43" font-size="8.48" textLength="12.72" lengthAdjust="spacingAndGlyphs">0.2</text>
<line x1="208.2" y1="118.8" x2="210.2" y2="118.8" stroke="#333" stroke-width="0.6"/>
<text x="211.6" y="121.73" font-size="8.48" textLength="12.72" lengthAdjust="spacingAndGlyphs">0.1</text>
<line x1="208.2" y1="151" x2="210.2" y2="151" stroke="#333" stroke-width="0.6"/>
<text x="211.6" y="153.93" font-size="8.48" textLength="12.72" lengthAdjust="spacingAndGlyphs">0.0</text>
<text x="207.3" y="6.13" font-size="8.48" textLength="21.69" lengthAdjust="spacingAndGlyphs">I (nA)</text>
<rect x="189.6" y="176.2" width="7.6" height="144.3" fill="url(#vn)" stroke="#888" stroke-width="0.5"/>
<rect x="200.4" y="176.2" width="7.7" height="144.3" fill="url(#vr)" stroke="#888" stroke-width="0.5"/>
<line x1="208.1" y1="185.8" x2="210.1" y2="185.8" stroke="#333" stroke-width="0.6"/>
<text x="211.5" y="188.73" font-size="8.48" textLength="12.72" lengthAdjust="spacingAndGlyphs">0.4</text>
<line x1="208.1" y1="220" x2="210.1" y2="220" stroke="#333" stroke-width="0.6"/>
<text x="211.5" y="222.93" font-size="8.48" textLength="12.72" lengthAdjust="spacingAndGlyphs">0.3</text>
<line x1="208.1" y1="254.2" x2="210.1" y2="254.2" stroke="#333" stroke-width="0.6"/>
<text x="211.5" y="257.13" font-size="8.48" textLength="12.72" lengthAdjust="spacingAndGlyphs">0.2</text>
<line x1="208.1" y1="288.5" x2="210.1" y2="288.5" stroke="#333" stroke-width="0.6"/>
<text x="211.5" y="291.43" font-size="8.48" textLength="12.72" lengthAdjust="spacingAndGlyphs">0.1</text>
<text x="207.2" y="175.23" font-size="8.48" textLength="21.69" lengthAdjust="spacingAndGlyphs">I (nA)</text>
<rect x="270.4" y="2.3" width="78" height="147.4" fill="none" stroke="#777" stroke-width="0.7"/>
<rect x="355.5" y="2.3" width="77.8" height="147.4" fill="none" stroke="#777" stroke-width="0.7"/>
<line x1="270.8" y1="9.08" x2="348" y2="9.08" stroke="#acd8ac" stroke-width="1.8"/>
<line x1="355.9" y1="9.08" x2="432.9" y2="9.08" stroke="#acd8ac" stroke-width="1.8"/>
<text x="342.5" y="15.68" font-size="6.68" text-anchor="end" textLength="29.82" lengthAdjust="spacingAndGlyphs">Grid scan</text>
<text x="427.4" y="15.68" font-size="6.68" text-anchor="end" textLength="29.82" lengthAdjust="spacingAndGlyphs">Grid scan</text>
<line x1="268.4" y1="144.4" x2="270.4" y2="144.4" stroke="#333" stroke-width="0.6"/>
<text x="267" y="146.7" font-size="6.68" text-anchor="end" textLength="4.01" lengthAdjust="spacingAndGlyphs">0</text>
<line x1="268.4" y1="113.7" x2="270.4" y2="113.7" stroke="#333" stroke-width="0.6"/>
<text x="267" y="116" font-size="6.68" text-anchor="end" textLength="12.03" lengthAdjust="spacingAndGlyphs">100</text>
<line x1="268.4" y1="83" x2="270.4" y2="83" stroke="#333" stroke-width="0.6"/>
<text x="267" y="85.3" font-size="6.68" text-anchor="end" textLength="12.03" lengthAdjust="spacingAndGlyphs">200</text>
<line x1="268.4" y1="52.3" x2="270.4" y2="52.3" stroke="#333" stroke-width="0.6"/>
<text x="267" y="54.6" font-size="6.68" text-anchor="end" textLength="12.03" lengthAdjust="spacingAndGlyphs">300</text>
<line x1="268.4" y1="21.6" x2="270.4" y2="21.6" stroke="#333" stroke-width="0.6"/>
<text x="267" y="23.9" font-size="6.68" text-anchor="end" textLength="12.03" lengthAdjust="spacingAndGlyphs">400</text>
<line x1="433.3" y1="143.4" x2="435.3" y2="143.4" stroke="#333" stroke-width="0.6"/>
<text x="436.5" y="145.7" font-size="6.68" textLength="4.01" lengthAdjust="spacingAndGlyphs">0</text>
<line x1="433.3" y1="126.02" x2="435.3" y2="126.02" stroke="#333" stroke-width="0.6"/>
<text x="436.5" y="128.32" font-size="6.68" textLength="16.03" lengthAdjust="spacingAndGlyphs">2500</text>
<line x1="433.3" y1="108.64" x2="435.3" y2="108.64" stroke="#333" stroke-width="0.6"/>
<text x="436.5" y="110.94" font-size="6.68" textLength="16.03" lengthAdjust="spacingAndGlyphs">5000</text>
<line x1="433.3" y1="91.26" x2="435.3" y2="91.26" stroke="#333" stroke-width="0.6"/>
<text x="436.5" y="93.56" font-size="6.68" textLength="16.03" lengthAdjust="spacingAndGlyphs">7500</text>
<line x1="433.3" y1="73.88" x2="435.3" y2="73.88" stroke="#333" stroke-width="0.6"/>
<text x="436.5" y="76.18" font-size="6.68" textLength="20.04" lengthAdjust="spacingAndGlyphs">10000</text>
<line x1="433.3" y1="56.5" x2="435.3" y2="56.5" stroke="#333" stroke-width="0.6"/>
<text x="436.5" y="58.8" font-size="6.68" textLength="20.04" lengthAdjust="spacingAndGlyphs">12500</text>
<line x1="433.3" y1="39.12" x2="435.3" y2="39.12" stroke="#333" stroke-width="0.6"/>
<text x="436.5" y="41.42" font-size="6.68" textLength="20.04" lengthAdjust="spacingAndGlyphs">15000</text>
<line x1="433.3" y1="21.74" x2="435.3" y2="21.74" stroke="#333" stroke-width="0.6"/>
<text x="436.5" y="24.04" font-size="6.68" textLength="20.04" lengthAdjust="spacingAndGlyphs">17500</text>
<line x1="433.3" y1="4.36" x2="435.3" y2="4.36" stroke="#333" stroke-width="0.6"/>
<text x="436.5" y="6.66" font-size="6.68" textLength="20.04" lengthAdjust="spacingAndGlyphs">20000</text>
<line x1="289.8" y1="149.7" x2="289.8" y2="151.7" stroke="#333" stroke-width="0.6"/>
<text x="289.8" y="158" font-size="6.68" text-anchor="middle" textLength="12.74" lengthAdjust="spacingAndGlyphs">DRL</text>
<line x1="328.8" y1="149.7" x2="328.8" y2="151.7" stroke="#333" stroke-width="0.6"/>
<text x="328.8" y="158" font-size="6.68" text-anchor="middle" textLength="26.08" lengthAdjust="spacingAndGlyphs">Random</text>
<line x1="374.8" y1="149.7" x2="374.8" y2="151.7" stroke="#333" stroke-width="0.6"/>
<text x="374.8" y="158" font-size="6.68" text-anchor="middle" textLength="12.74" lengthAdjust="spacingAndGlyphs">DRL</text>
<line x1="413.9" y1="149.7" x2="413.9" y2="151.7" stroke="#333" stroke-width="0.6"/>
<text x="413.9" y="158" font-size="6.68" text-anchor="middle" textLength="26.08" lengthAdjust="spacingAndGlyphs">Random</text>
<text x="250.3" y="78.3" font-size="6.68" text-anchor="middle" font-style="italic" textLength="4.71" lengthAdjust="spacingAndGlyphs" transform="rotate(-90 250.3 76)">N</text>
<text x="459.4" y="79.3" font-size="6.68" text-anchor="middle" textLength="37.81" lengthAdjust="spacingAndGlyphs" transform="rotate(90 459.4 77)">Lab time (s)</text>
<line x1="289.8" y1="100" x2="289.8" y2="118.5" stroke="#555" stroke-width="0.7"/>
<line x1="289.8" y1="141.5" x2="289.8" y2="142.2" stroke="#555" stroke-width="0.7"/>
<line x1="282.5" y1="100" x2="297.1" y2="100" stroke="#444" stroke-width="0.8"/>
<line x1="282.5" y1="142.2" x2="297.1" y2="142.2" stroke="#444" stroke-width="0.8"/>
<rect x="275.1" y="118.5" width="29.4" height="23" fill="#ff9999" stroke="#888" stroke-width="0.6"/>
<line x1="275.1" y1="132.3" x2="304.5" y2="132.3" stroke="#444" stroke-width="0.9"/>
<circle cx="289.8" cy="100" r="1.45" fill="#e00"/>
<circle cx="289.8" cy="114.1" r="1.45" fill="#e00"/>
<circle cx="289.8" cy="117" r="1.45" fill="#e00"/>
<circle cx="289.8" cy="121.7" r="1.45" fill="#e00"/>
<circle cx="289.8" cy="131" r="1.45" fill="#e00"/>
<circle cx="289.8" cy="132.2" r="1.45" fill="#e00"/>
<circle cx="289.8" cy="133.3" r="1.45" fill="#e00"/>
<circle cx="289.8" cy="141.6" r="1.45" fill="#e00"/>
<circle cx="289.8" cy="142.2" r="1.45" fill="#e00"/>
<line x1="328.8" y1="90.3" x2="328.8" y2="113.9" stroke="#555" stroke-width="0.7"/>
<line x1="328.8" y1="137.7" x2="328.8" y2="142.6" stroke="#555" stroke-width="0.7"/>
<line x1="321.5" y1="90.3" x2="336.1" y2="90.3" stroke="#444" stroke-width="0.8"/>
<line x1="321.5" y1="142.6" x2="336.1" y2="142.6" stroke="#444" stroke-width="0.8"/>
<rect x="314.1" y="113.9" width="29.4" height="23.8" fill="#9999ff" stroke="#888" stroke-width="0.6"/>
<line x1="314.1" y1="128.2" x2="343.5" y2="128.2" stroke="#444" stroke-width="0.9"/>
<circle cx="328.8" cy="90.3" r="1.45" fill="#00c"/>
<circle cx="328.8" cy="104.6" r="1.45" fill="#00c"/>
<circle cx="328.8" cy="110" r="1.45" fill="#00c"/>
<circle cx="328.8" cy="125.3" r="1.45" fill="#00c"/>
<circle cx="328.8" cy="126.6" r="1.45" fill="#00c"/>
<circle cx="328.8" cy="128.2" r="1.45" fill="#00c"/>
<circle cx="328.8" cy="129.8" r="1.45" fill="#00c"/>
<circle cx="328.8" cy="135.5" r="1.45" fill="#00c"/>
<circle cx="328.8" cy="139" r="1.45" fill="#00c"/>
<circle cx="328.8" cy="141" r="1.45" fill="#00c"/>
<circle cx="328.8" cy="142.6" r="1.45" fill="#00c"/>
<line x1="374.8" y1="119.4" x2="374.8" y2="129.6" stroke="#555" stroke-width="0.7"/>
<line x1="374.8" y1="140.5" x2="374.8" y2="143.2" stroke="#555" stroke-width="0.7"/>
<line x1="367.5" y1="119.4" x2="382.1" y2="119.4" stroke="#444" stroke-width="0.8"/>
<line x1="367.5" y1="143.2" x2="382.1" y2="143.2" stroke="#444" stroke-width="0.8"/>
<rect x="360.1" y="129.6" width="29.4" height="10.9" fill="#ff9999" stroke="#888" stroke-width="0.6"/>
<line x1="360.1" y1="137.3" x2="389.5" y2="137.3" stroke="#444" stroke-width="0.9"/>
<circle cx="374.8" cy="119.4" r="1.45" fill="#e00"/>
<circle cx="374.8" cy="127.1" r="1.45" fill="#e00"/>
<circle cx="374.8" cy="128.3" r="1.45" fill="#e00"/>
<circle cx="374.8" cy="129.9" r="1.45" fill="#e00"/>
<circle cx="374.8" cy="134.4" r="1.45" fill="#e00"/>
<circle cx="374.8" cy="139.6" r="1.45" fill="#e00"/>
<circle cx="374.8" cy="140.7" r="1.45" fill="#e00"/>
<circle cx="374.8" cy="141.9" r="1.45" fill="#e00"/>
<circle cx="374.8" cy="143.2" r="1.45" fill="#e00"/>
<line x1="413.9" y1="107.3" x2="413.9" y2="118.6" stroke="#555" stroke-width="0.7"/>
<line x1="413.9" y1="141.6" x2="413.9" y2="142.6" stroke="#555" stroke-width="0.7"/>
<line x1="406.6" y1="107.3" x2="421.2" y2="107.3" stroke="#444" stroke-width="0.8"/>
<line x1="406.6" y1="142.6" x2="421.2" y2="142.6" stroke="#444" stroke-width="0.8"/>
<rect x="399.2" y="118.6" width="29.4" height="23" fill="#9999ff" stroke="#888" stroke-width="0.6"/>
<line x1="399.2" y1="138.7" x2="428.6" y2="138.7" stroke="#444" stroke-width="0.9"/>
<circle cx="413.9" cy="107.1" r="1.45" fill="#00c"/>
<circle cx="413.9" cy="109.1" r="1.45" fill="#00c"/>
<circle cx="413.9" cy="112.5" r="1.45" fill="#00c"/>
<circle cx="413.9" cy="113.6" r="1.45" fill="#00c"/>
<circle cx="413.9" cy="134.4" r="1.45" fill="#00c"/>
<circle cx="413.9" cy="138.6" r="1.45" fill="#00c"/>
<circle cx="413.9" cy="139.9" r="1.45" fill="#00c"/>
<circle cx="413.9" cy="141.2" r="1.45" fill="#00c"/>
<circle cx="413.9" cy="142.7" r="1.45" fill="#00c"/>
<rect x="270.4" y="168.9" width="78" height="148.5" fill="none" stroke="#777" stroke-width="0.7"/>
<rect x="355.5" y="168.9" width="77.8" height="148.5" fill="none" stroke="#777" stroke-width="0.7"/>
<line x1="270.8" y1="175.4" x2="348" y2="175.4" stroke="#74bd74" stroke-width="1.2"/>
<line x1="355.9" y1="175.4" x2="432.9" y2="175.4" stroke="#74bd74" stroke-width="1.2"/>
<text x="342.5" y="182" font-size="6.68" text-anchor="end" textLength="29.82" lengthAdjust="spacingAndGlyphs">Grid scan</text>
<text x="427.4" y="182" font-size="6.68" text-anchor="end" textLength="29.82" lengthAdjust="spacingAndGlyphs">Grid scan</text>
<line x1="268.4" y1="311.6" x2="270.4" y2="311.6" stroke="#333" stroke-width="0.6"/>
<text x="267" y="313.9" font-size="6.68" text-anchor="end" textLength="4.01" lengthAdjust="spacingAndGlyphs">0</text>
<line x1="268.4" y1="280.8" x2="270.4" y2="280.8" stroke="#333" stroke-width="0.6"/>
<text x="267" y="283.1" font-size="6.68" text-anchor="end" textLength="12.03" lengthAdjust="spacingAndGlyphs">100</text>
<line x1="268.4" y1="250" x2="270.4" y2="250" stroke="#333" stroke-width="0.6"/>
<text x="267" y="252.3" font-size="6.68" text-anchor="end" textLength="12.03" lengthAdjust="spacingAndGlyphs">200</text>
<line x1="268.4" y1="219.2" x2="270.4" y2="219.2" stroke="#333" stroke-width="0.6"/>
<text x="267" y="221.5" font-size="6.68" text-anchor="end" textLength="12.03" lengthAdjust="spacingAndGlyphs">300</text>
<line x1="268.4" y1="188.4" x2="270.4" y2="188.4" stroke="#333" stroke-width="0.6"/>
<text x="267" y="190.7" font-size="6.68" text-anchor="end" textLength="12.03" lengthAdjust="spacingAndGlyphs">400</text>
<line x1="433.3" y1="311.2" x2="435.3" y2="311.2" stroke="#333" stroke-width="0.6"/>
<text x="436.5" y="313.5" font-size="6.68" textLength="4.01" lengthAdjust="spacingAndGlyphs">0</text>
<line x1="433.3" y1="293.82" x2="435.3" y2="293.82" stroke="#333" stroke-width="0.6"/>
<text x="436.5" y="296.12" font-size="6.68" textLength="16.03" lengthAdjust="spacingAndGlyphs">2500</text>
<line x1="433.3" y1="276.44" x2="435.3" y2="276.44" stroke="#333" stroke-width="0.6"/>
<text x="436.5" y="278.74" font-size="6.68" textLength="16.03" lengthAdjust="spacingAndGlyphs">5000</text>
<line x1="433.3" y1="259.06" x2="435.3" y2="259.06" stroke="#333" stroke-width="0.6"/>
<text x="436.5" y="261.36" font-size="6.68" textLength="16.03" lengthAdjust="spacingAndGlyphs">7500</text>
<line x1="433.3" y1="241.68" x2="435.3" y2="241.68" stroke="#333" stroke-width="0.6"/>
<text x="436.5" y="243.98" font-size="6.68" textLength="20.04" lengthAdjust="spacingAndGlyphs">10000</text>
<line x1="433.3" y1="224.3" x2="435.3" y2="224.3" stroke="#333" stroke-width="0.6"/>
<text x="436.5" y="226.6" font-size="6.68" textLength="20.04" lengthAdjust="spacingAndGlyphs">12500</text>
<line x1="433.3" y1="206.92" x2="435.3" y2="206.92" stroke="#333" stroke-width="0.6"/>
<text x="436.5" y="209.22" font-size="6.68" textLength="20.04" lengthAdjust="spacingAndGlyphs">15000</text>
<line x1="433.3" y1="189.54" x2="435.3" y2="189.54" stroke="#333" stroke-width="0.6"/>
<text x="436.5" y="191.84" font-size="6.68" textLength="20.04" lengthAdjust="spacingAndGlyphs">17500</text>
<line x1="433.3" y1="172.16" x2="435.3" y2="172.16" stroke="#333" stroke-width="0.6"/>
<text x="436.5" y="174.46" font-size="6.68" textLength="20.04" lengthAdjust="spacingAndGlyphs">20000</text>
<line x1="289.8" y1="317.4" x2="289.8" y2="319.4" stroke="#333" stroke-width="0.6"/>
<text x="289.8" y="325.2" font-size="6.68" text-anchor="middle" textLength="12.74" lengthAdjust="spacingAndGlyphs">DRL</text>
<line x1="328.8" y1="317.4" x2="328.8" y2="319.4" stroke="#333" stroke-width="0.6"/>
<text x="328.8" y="325.2" font-size="6.68" text-anchor="middle" textLength="26.08" lengthAdjust="spacingAndGlyphs">Random</text>
<line x1="374.8" y1="317.4" x2="374.8" y2="319.4" stroke="#333" stroke-width="0.6"/>
<text x="374.8" y="325.2" font-size="6.68" text-anchor="middle" textLength="12.74" lengthAdjust="spacingAndGlyphs">DRL</text>
<line x1="413.9" y1="317.4" x2="413.9" y2="319.4" stroke="#333" stroke-width="0.6"/>
<text x="413.9" y="325.2" font-size="6.68" text-anchor="middle" textLength="26.08" lengthAdjust="spacingAndGlyphs">Random</text>
<text x="250.3" y="245.45" font-size="6.68" text-anchor="middle" font-style="italic" textLength="4.71" lengthAdjust="spacingAndGlyphs" transform="rotate(-90 250.3 243.15)">N</text>
<text x="459.4" y="246.45" font-size="6.68" text-anchor="middle" textLength="37.81" lengthAdjust="spacingAndGlyphs" transform="rotate(90 459.4 244.15)">Lab time (s)</text>
<line x1="289.8" y1="278.2" x2="289.8" y2="293.6" stroke="#555" stroke-width="0.7"/>
<line x1="289.8" y1="305.5" x2="289.8" y2="310.7" stroke="#555" stroke-width="0.7"/>
<line x1="282.5" y1="278.2" x2="297.1" y2="278.2" stroke="#444" stroke-width="0.8"/>
<line x1="282.5" y1="310.7" x2="297.1" y2="310.7" stroke="#444" stroke-width="0.8"/>
<rect x="275.1" y="293.6" width="29.4" height="11.9" fill="#ff9999" stroke="#888" stroke-width="0.6"/>
<line x1="275.1" y1="301" x2="304.5" y2="301" stroke="#444" stroke-width="0.9"/>
<circle cx="289.8" cy="278.2" r="1.45" fill="#e00"/>
<circle cx="289.8" cy="282.5" r="1.45" fill="#e00"/>
<circle cx="289.8" cy="292.8" r="1.45" fill="#e00"/>
<circle cx="289.8" cy="294.2" r="1.45" fill="#e00"/>
<circle cx="289.8" cy="301.4" r="1.45" fill="#e00"/>
<circle cx="289.8" cy="303.9" r="1.45" fill="#e00"/>
<circle cx="289.8" cy="306.6" r="1.45" fill="#e00"/>
<circle cx="289.8" cy="308.2" r="1.45" fill="#e00"/>
<circle cx="289.8" cy="309.6" r="1.45" fill="#e00"/>
<circle cx="289.8" cy="311.1" r="1.45" fill="#e00"/>
<line x1="328.8" y1="269.5" x2="328.8" y2="275.4" stroke="#555" stroke-width="0.7"/>
<line x1="328.8" y1="291.1" x2="328.8" y2="302.4" stroke="#555" stroke-width="0.7"/>
<line x1="321.5" y1="269.5" x2="336.1" y2="269.5" stroke="#444" stroke-width="0.8"/>
<line x1="321.5" y1="302.4" x2="336.1" y2="302.4" stroke="#444" stroke-width="0.8"/>
<rect x="314.1" y="275.4" width="29.4" height="15.7" fill="#9999ff" stroke="#888" stroke-width="0.6"/>
<line x1="314.1" y1="285.4" x2="343.5" y2="285.4" stroke="#444" stroke-width="0.9"/>
<circle cx="328.8" cy="248.3" r="1.45" fill="#00c"/>
<circle cx="328.8" cy="269.5" r="1.45" fill="#00c"/>
<circle cx="328.8" cy="274.7" r="1.45" fill="#00c"/>
<circle cx="328.8" cy="277.8" r="1.45" fill="#00c"/>
<circle cx="328.8" cy="279.4" r="1.45" fill="#00c"/>
<circle cx="328.8" cy="280.8" r="1.45" fill="#00c"/>
<circle cx="328.8" cy="289.5" r="1.45" fill="#00c"/>
<circle cx="328.8" cy="290.7" r="1.45" fill="#00c"/>
<circle cx="328.8" cy="292.2" r="1.45" fill="#00c"/>
<circle cx="328.8" cy="295.2" r="1.45" fill="#00c"/>
<circle cx="328.8" cy="302.4" r="1.45" fill="#00c"/>
<line x1="374.8" y1="297.3" x2="374.8" y2="302.1" stroke="#555" stroke-width="0.7"/>
<line x1="374.8" y1="307.9" x2="374.8" y2="310.3" stroke="#555" stroke-width="0.7"/>
<line x1="367.5" y1="297.3" x2="382.1" y2="297.3" stroke="#444" stroke-width="0.8"/>
<line x1="367.5" y1="310.3" x2="382.1" y2="310.3" stroke="#444" stroke-width="0.8"/>
<rect x="360.1" y="302.1" width="29.4" height="5.8" fill="#ff9999" stroke="#888" stroke-width="0.6"/>
<line x1="360.1" y1="305.3" x2="389.5" y2="305.3" stroke="#444" stroke-width="0.9"/>
<circle cx="374.8" cy="296.6" r="1.45" fill="#e00"/>
<circle cx="374.8" cy="297.91" r="1.45" fill="#e00"/>
<circle cx="374.8" cy="299.22" r="1.45" fill="#e00"/>
<circle cx="374.8" cy="300.53" r="1.45" fill="#e00"/>
<circle cx="374.8" cy="301.84" r="1.45" fill="#e00"/>
<circle cx="374.8" cy="303.15" r="1.45" fill="#e00"/>
<circle cx="374.8" cy="304.45" r="1.45" fill="#e00"/>
<circle cx="374.8" cy="305.76" r="1.45" fill="#e00"/>
<circle cx="374.8" cy="307.07" r="1.45" fill="#e00"/>
<circle cx="374.8" cy="308.38" r="1.45" fill="#e00"/>
<circle cx="374.8" cy="309.69" r="1.45" fill="#e00"/>
<circle cx="374.8" cy="311" r="1.45" fill="#e00"/>
<line x1="413.9" y1="298.3" x2="413.9" y2="302.9" stroke="#555" stroke-width="0.7"/>
<line x1="413.9" y1="307.4" x2="413.9" y2="309.3" stroke="#555" stroke-width="0.7"/>
<line x1="406.6" y1="298.3" x2="421.2" y2="298.3" stroke="#444" stroke-width="0.8"/>
<line x1="406.6" y1="309.3" x2="421.2" y2="309.3" stroke="#444" stroke-width="0.8"/>
<rect x="399.2" y="302.9" width="29.4" height="4.5" fill="#9999ff" stroke="#888" stroke-width="0.6"/>
<line x1="399.2" y1="304.4" x2="428.6" y2="304.4" stroke="#444" stroke-width="0.9"/>
<circle cx="413.9" cy="297.9" r="1.45" fill="#00c"/>
<circle cx="413.9" cy="299.11" r="1.45" fill="#00c"/>
<circle cx="413.9" cy="300.32" r="1.45" fill="#00c"/>
<circle cx="413.9" cy="301.53" r="1.45" fill="#00c"/>
<circle cx="413.9" cy="302.74" r="1.45" fill="#00c"/>
<circle cx="413.9" cy="303.95" r="1.45" fill="#00c"/>
<circle cx="413.9" cy="305.16" r="1.45" fill="#00c"/>
<circle cx="413.9" cy="306.37" r="1.45" fill="#00c"/>
<circle cx="413.9" cy="307.58" r="1.45" fill="#00c"/>
<circle cx="413.9" cy="308.79" r="1.45" fill="#00c"/>
<circle cx="413.9" cy="310" r="1.45" fill="#00c"/>
<rect x="515.13" y="17.99" width="1.32" height="125.31" fill="#ff6666"/>
<rect x="518.42" y="58.08" width="1.32" height="85.22" fill="#ff6666"/>
<rect x="521.71" y="104.5" width="1.32" height="38.8" fill="#ff6666"/>
<rect x="525" y="131.48" width="1.32" height="11.82" fill="#ff6666"/>
<rect x="528.29" y="131.48" width="1.32" height="11.82" fill="#ff6666"/>
<rect x="531.58" y="130.88" width="1.32" height="12.42" fill="#ff6666"/>
<rect x="534.87" y="131.99" width="1.32" height="11.31" fill="#ff6666"/>
<rect x="538.16" y="133.02" width="1.32" height="10.28" fill="#ff6666"/>
<rect x="541.45" y="137.99" width="1.32" height="5.31" fill="#ff6666"/>
<rect x="544.74" y="137.99" width="1.32" height="5.31" fill="#ff6666"/>
<rect x="548.03" y="137.22" width="1.32" height="6.08" fill="#ff6666"/>
<rect x="551.32" y="133.88" width="1.32" height="9.42" fill="#ff6666"/>
<rect x="554.61" y="136.53" width="1.32" height="6.77" fill="#ff6666"/>
<rect x="557.9" y="136.88" width="1.32" height="6.42" fill="#ff6666"/>
<rect x="561.19" y="137.22" width="1.32" height="6.08" fill="#ff6666"/>
<rect x="564.48" y="136.88" width="1.32" height="6.42" fill="#ff6666"/>
<rect x="567.77" y="139.02" width="1.32" height="4.28" fill="#ff6666"/>
<rect x="571.06" y="139.79" width="1.32" height="3.51" fill="#ff6666"/>
<rect x="574.35" y="138.93" width="1.32" height="4.37" fill="#ff6666"/>
<rect x="577.64" y="140.82" width="1.32" height="2.48" fill="#ff6666"/>
<rect x="580.93" y="140.82" width="1.32" height="2.48" fill="#ff6666"/>
<rect x="584.22" y="141.16" width="1.32" height="2.14" fill="#ff6666"/>
<rect x="587.51" y="140.99" width="1.32" height="2.31" fill="#ff6666"/>
<rect x="590.8" y="142.44" width="1.32" height="0.86" fill="#ff6666"/>
<rect x="594.09" y="142.19" width="1.32" height="1.11" fill="#ff6666"/>
<rect x="597.38" y="142.79" width="1.32" height="0.51" fill="#ff6666"/>
<rect x="600.67" y="142.79" width="1.32" height="0.51" fill="#ff6666"/>
<rect x="603.96" y="143.04" width="1.32" height="0.26" fill="#ff6666"/>
<rect x="607.25" y="143.09" width="1.32" height="0.21" fill="#ff6666"/>
<rect x="516.44" y="86" width="1.32" height="57.3" fill="#6666ff"/>
<rect x="519.73" y="111.1" width="1.32" height="32.2" fill="#6666ff"/>
<rect x="523.02" y="118.89" width="1.32" height="24.41" fill="#6666ff"/>
<rect x="526.31" y="116.06" width="1.32" height="27.24" fill="#6666ff"/>
<rect x="529.6" y="124.63" width="1.32" height="18.67" fill="#6666ff"/>
<rect x="532.89" y="125.57" width="1.32" height="17.73" fill="#6666ff"/>
<rect x="536.18" y="126.26" width="1.32" height="17.04" fill="#6666ff"/>
<rect x="539.47" y="121.8" width="1.32" height="21.5" fill="#6666ff"/>
<rect x="542.76" y="127.88" width="1.32" height="15.42" fill="#6666ff"/>
<rect x="546.05" y="128.91" width="1.32" height="14.39" fill="#6666ff"/>
<rect x="549.34" y="129.68" width="1.32" height="13.62" fill="#6666ff"/>
<rect x="552.63" y="126.43" width="1.32" height="16.87" fill="#6666ff"/>
<rect x="555.92" y="131.74" width="1.32" height="11.56" fill="#6666ff"/>
<rect x="559.21" y="132.68" width="1.32" height="10.62" fill="#6666ff"/>
<rect x="562.5" y="133.54" width="1.32" height="9.76" fill="#6666ff"/>
<rect x="565.79" y="131.99" width="1.32" height="11.31" fill="#6666ff"/>
<rect x="569.08" y="135.42" width="1.32" height="7.88" fill="#6666ff"/>
<rect x="572.37" y="136.19" width="1.32" height="7.11" fill="#6666ff"/>
<rect x="575.66" y="134.91" width="1.32" height="8.39" fill="#6666ff"/>
<rect x="578.95" y="138.08" width="1.32" height="5.22" fill="#6666ff"/>
<rect x="582.24" y="138.93" width="1.32" height="4.37" fill="#6666ff"/>
<rect x="585.53" y="139.1" width="1.32" height="4.2" fill="#6666ff"/>
<rect x="588.82" y="138.59" width="1.32" height="4.71" fill="#6666ff"/>
<rect x="592.11" y="140.3" width="1.32" height="3" fill="#6666ff"/>
<rect x="595.4" y="140.99" width="1.32" height="2.31" fill="#6666ff"/>
<rect x="598.69" y="140.99" width="1.32" height="2.31" fill="#6666ff"/>
<rect x="601.98" y="140.9" width="1.32" height="2.4" fill="#6666ff"/>
<rect x="605.27" y="141.59" width="1.32" height="1.71" fill="#6666ff"/>
<rect x="608.56" y="141.93" width="1.32" height="1.37" fill="#6666ff"/>
<rect x="611.85" y="142.02" width="1.32" height="1.28" fill="#6666ff"/>
<rect x="615.14" y="142.44" width="1.32" height="0.86" fill="#6666ff"/>
<rect x="618.43" y="142.7" width="1.32" height="0.6" fill="#6666ff"/>
<rect x="621.72" y="142.87" width="1.32" height="0.43" fill="#6666ff"/>
<rect x="625.01" y="142.87" width="1.32" height="0.43" fill="#6666ff"/>
<rect x="628.3" y="143.04" width="1.32" height="0.26" fill="#6666ff"/>
<rect x="631.59" y="143.13" width="1.32" height="0.17" fill="#6666ff"/>
<rect x="634.88" y="143.13" width="1.32" height="0.17" fill="#6666ff"/>
<rect x="507.5" y="11.3" width="176.7" height="132" fill="none" stroke="#777" stroke-width="0.7"/>
<line x1="505.5" y1="143.3" x2="507.5" y2="143.3" stroke="#333" stroke-width="0.6"/>
<text x="504.2" y="145.6" font-size="6.68" text-anchor="end" textLength="4.01" lengthAdjust="spacingAndGlyphs">0</text>
<line x1="505.5" y1="126.17" x2="507.5" y2="126.17" stroke="#333" stroke-width="0.6"/>
<text x="504.2" y="128.47" font-size="6.68" text-anchor="end" textLength="20.04" lengthAdjust="spacingAndGlyphs">20000</text>
<line x1="505.5" y1="109.04" x2="507.5" y2="109.04" stroke="#333" stroke-width="0.6"/>
<text x="504.2" y="111.34" font-size="6.68" text-anchor="end" textLength="20.04" lengthAdjust="spacingAndGlyphs">40000</text>
<line x1="505.5" y1="91.91" x2="507.5" y2="91.91" stroke="#333" stroke-width="0.6"/>
<text x="504.2" y="94.21" font-size="6.68" text-anchor="end" textLength="20.04" lengthAdjust="spacingAndGlyphs">60000</text>
<line x1="505.5" y1="74.78" x2="507.5" y2="74.78" stroke="#333" stroke-width="0.6"/>
<text x="504.2" y="77.08" font-size="6.68" text-anchor="end" textLength="20.04" lengthAdjust="spacingAndGlyphs">80000</text>
<line x1="505.5" y1="57.65" x2="507.5" y2="57.65" stroke="#333" stroke-width="0.6"/>
<text x="504.2" y="59.95" font-size="6.68" text-anchor="end" textLength="24.05" lengthAdjust="spacingAndGlyphs">100000</text>
<line x1="505.5" y1="40.52" x2="507.5" y2="40.52" stroke="#333" stroke-width="0.6"/>
<text x="504.2" y="42.82" font-size="6.68" text-anchor="end" textLength="24.05" lengthAdjust="spacingAndGlyphs">120000</text>
<line x1="505.5" y1="23.39" x2="507.5" y2="23.39" stroke="#333" stroke-width="0.6"/>
<text x="504.2" y="25.69" font-size="6.68" text-anchor="end" textLength="24.05" lengthAdjust="spacingAndGlyphs">140000</text>
<line x1="515.1" y1="143.3" x2="515.1" y2="145.3" stroke="#333" stroke-width="0.6"/>
<text x="515.1" y="151.2" font-size="6.68" text-anchor="middle" textLength="4.01" lengthAdjust="spacingAndGlyphs">0</text>
<line x1="535.25" y1="143.3" x2="535.25" y2="145.3" stroke="#333" stroke-width="0.6"/>
<text x="535.25" y="151.2" font-size="6.68" text-anchor="middle" textLength="8.02" lengthAdjust="spacingAndGlyphs">20</text>
<line x1="555.4" y1="143.3" x2="555.4" y2="145.3" stroke="#333" stroke-width="0.6"/>
<text x="555.4" y="151.2" font-size="6.68" text-anchor="middle" textLength="8.02" lengthAdjust="spacingAndGlyphs">40</text>
<line x1="575.55" y1="143.3" x2="575.55" y2="145.3" stroke="#333" stroke-width="0.6"/>
<text x="575.55" y="151.2" font-size="6.68" text-anchor="middle" textLength="8.02" lengthAdjust="spacingAndGlyphs">60</text>
<line x1="595.7" y1="143.3" x2="595.7" y2="145.3" stroke="#333" stroke-width="0.6"/>
<text x="595.7" y="151.2" font-size="6.68" text-anchor="middle" textLength="8.02" lengthAdjust="spacingAndGlyphs">80</text>
<line x1="615.85" y1="143.3" x2="615.85" y2="145.3" stroke="#333" stroke-width="0.6"/>
<text x="615.85" y="151.2" font-size="6.68" text-anchor="middle" textLength="12.03" lengthAdjust="spacingAndGlyphs">100</text>
<line x1="636" y1="143.3" x2="636" y2="145.3" stroke="#333" stroke-width="0.6"/>
<text x="636" y="151.2" font-size="6.68" text-anchor="middle" textLength="12.03" lengthAdjust="spacingAndGlyphs">120</text>
<line x1="656.15" y1="143.3" x2="656.15" y2="145.3" stroke="#333" stroke-width="0.6"/>
<text x="656.15" y="151.2" font-size="6.68" text-anchor="middle" textLength="12.03" lengthAdjust="spacingAndGlyphs">140</text>
<line x1="676.3" y1="143.3" x2="676.3" y2="145.3" stroke="#333" stroke-width="0.6"/>
<text x="676.3" y="151.2" font-size="6.68" text-anchor="middle" textLength="12.03" lengthAdjust="spacingAndGlyphs">160</text>
<text x="474.5" y="79.6" font-size="6.68" text-anchor="middle" textLength="32.55" lengthAdjust="spacingAndGlyphs" transform="rotate(-90 474.5 77.3)">Frequency</text>
<text x="603.6" y="162.6" font-size="6.68" text-anchor="middle" font-style="italic" textLength="4.71" lengthAdjust="spacingAndGlyphs">N</text>
<rect x="583.4" y="14.6" width="98.2" height="20.6" rx="1.3" fill="#fff" fill-opacity="0.85" stroke="#dcdcdc" stroke-width="0.6"/>
<rect x="585.4" y="18.15" width="13.1" height="3.7" fill="#ff6666"/>
<rect x="585.4" y="27.35" width="13.1" height="3.7" fill="#6666ff"/>
<text x="603.6" y="22.3" font-size="6.68" textLength="60.91" lengthAdjust="spacingAndGlyphs">DRL decision agent</text>
<text x="603.6" y="31.5" font-size="6.68" textLength="74.26" lengthAdjust="spacingAndGlyphs">Random decision agent</text>
<rect x="595.5" y="50.9" width="70.9" height="53.2" fill="#fff" stroke="#666" stroke-width="0.7"/>
<line x1="593.5" y1="101.7" x2="595.5" y2="101.7" stroke="#333" stroke-width="0.6"/>
<text x="592.3" y="104" font-size="6.68" text-anchor="end" textLength="4.01" lengthAdjust="spacingAndGlyphs">0</text>
<line x1="593.5" y1="77.75" x2="595.5" y2="77.75" stroke="#333" stroke-width="0.6"/>
<text x="592.3" y="80.05" font-size="6.68" text-anchor="end" textLength="12.03" lengthAdjust="spacingAndGlyphs">100</text>
<line x1="593.5" y1="53.8" x2="595.5" y2="53.8" stroke="#333" stroke-width="0.6"/>
<text x="592.3" y="56.1" font-size="6.68" text-anchor="end" textLength="12.03" lengthAdjust="spacingAndGlyphs">200</text>
<text x="575" y="79.8" font-size="6.68" text-anchor="middle" font-style="italic" textLength="4.71" lengthAdjust="spacingAndGlyphs" transform="rotate(-90 575 77.5)">N</text>
<line x1="613.4" y1="90.3" x2="613.4" y2="96.8" stroke="#555" stroke-width="0.7"/>
<line x1="613.4" y1="100.9" x2="613.4" y2="101.7" stroke="#555" stroke-width="0.7"/>
<line x1="606.4" y1="90.3" x2="620.4" y2="90.3" stroke="#333" stroke-width="0.8"/>
<line x1="606.4" y1="101.7" x2="620.4" y2="101.7" stroke="#333" stroke-width="0.8"/>
<rect x="599.85" y="96.8" width="27.1" height="4.1" fill="#ff9999" stroke="#888" stroke-width="0.6"/>
<line x1="599.85" y1="100" x2="626.95" y2="100" stroke="#444" stroke-width="0.8"/>
<line x1="613.4" y1="76" x2="613.4" y2="90" stroke="#000" stroke-width="2.6" stroke-linecap="round"/>
<line x1="613.4" y1="104.1" x2="613.4" y2="106.1" stroke="#333" stroke-width="0.6"/>
<text x="613.4" y="112.4" font-size="6.68" text-anchor="middle" textLength="12.74" lengthAdjust="spacingAndGlyphs">DRL</text>
<line x1="649.1" y1="78.2" x2="649.1" y2="91.3" stroke="#555" stroke-width="0.7"/>
<line x1="649.1" y1="99.7" x2="649.1" y2="101.7" stroke="#555" stroke-width="0.7"/>
<line x1="642.2" y1="78.2" x2="656" y2="78.2" stroke="#333" stroke-width="0.8"/>
<line x1="642.2" y1="101.7" x2="656" y2="101.7" stroke="#333" stroke-width="0.8"/>
<rect x="635.4" y="91.3" width="27.4" height="8.4" fill="#9999ff" stroke="#888" stroke-width="0.6"/>
<line x1="635.4" y1="96.1" x2="662.8" y2="96.1" stroke="#444" stroke-width="0.8"/>
<line x1="649.1" y1="53.4" x2="649.1" y2="77.9" stroke="#000" stroke-width="2.6" stroke-linecap="round"/>
<line x1="649.1" y1="104.1" x2="649.1" y2="106.1" stroke="#333" stroke-width="0.6"/>
<text x="649.1" y="112.4" font-size="6.68" text-anchor="middle" textLength="26.08" lengthAdjust="spacingAndGlyphs">Random</text>
<rect x="513.03" y="183.85" width="1.32" height="125.45" fill="#ff6666"/>
<rect x="516.32" y="221.93" width="1.32" height="87.37" fill="#ff6666"/>
<rect x="519.61" y="219.22" width="1.32" height="90.08" fill="#ff6666"/>
<rect x="522.9" y="233.14" width="1.32" height="76.16" fill="#ff6666"/>
<rect x="526.19" y="250.92" width="1.32" height="58.38" fill="#ff6666"/>
<rect x="529.48" y="248.41" width="1.32" height="60.89" fill="#ff6666"/>
<rect x="532.77" y="238.55" width="1.32" height="70.75" fill="#ff6666"/>
<rect x="536.06" y="193.9" width="1.32" height="115.4" fill="#ff6666"/>
<rect x="539.35" y="231.4" width="1.32" height="77.9" fill="#ff6666"/>
<rect x="542.64" y="249.76" width="1.32" height="59.54" fill="#ff6666"/>
<rect x="545.93" y="275.28" width="1.32" height="34.02" fill="#ff6666"/>
<rect x="549.22" y="294.61" width="1.32" height="14.69" fill="#ff6666"/>
<rect x="552.51" y="306.01" width="1.32" height="3.29" fill="#ff6666"/>
<rect x="555.8" y="307.17" width="1.32" height="2.13" fill="#ff6666"/>
<rect x="559.09" y="308.72" width="1.32" height="0.58" fill="#ff6666"/>
<rect x="562.38" y="309.11" width="1.32" height="0.19" fill="#ff6666"/>
<rect x="514.35" y="216.71" width="1.32" height="92.59" fill="#6666ff"/>
<rect x="517.63" y="250.92" width="1.32" height="58.38" fill="#6666ff"/>
<rect x="520.93" y="262.13" width="1.32" height="47.17" fill="#6666ff"/>
<rect x="524.22" y="254.79" width="1.32" height="54.51" fill="#6666ff"/>
<rect x="527.5" y="271.99" width="1.32" height="37.31" fill="#6666ff"/>
<rect x="530.8" y="274.12" width="1.32" height="35.18" fill="#6666ff"/>
<rect x="534.09" y="275.86" width="1.32" height="33.44" fill="#6666ff"/>
<rect x="537.38" y="266.97" width="1.32" height="42.33" fill="#6666ff"/>
<rect x="540.67" y="279.34" width="1.32" height="29.96" fill="#6666ff"/>
<rect x="543.96" y="281.08" width="1.32" height="28.22" fill="#6666ff"/>
<rect x="547.25" y="282.82" width="1.32" height="26.48" fill="#6666ff"/>
<rect x="550.54" y="276.44" width="1.32" height="32.86" fill="#6666ff"/>
<rect x="553.83" y="287.07" width="1.32" height="22.23" fill="#6666ff"/>
<rect x="557.12" y="288.23" width="1.32" height="21.07" fill="#6666ff"/>
<rect x="560.4" y="289.39" width="1.32" height="19.91" fill="#6666ff"/>
<rect x="563.7" y="285.14" width="1.32" height="24.16" fill="#6666ff"/>
<rect x="566.99" y="292.48" width="1.32" height="16.82" fill="#6666ff"/>
<rect x="570.27" y="293.26" width="1.32" height="16.04" fill="#6666ff"/>
<rect x="573.57" y="289.2" width="1.32" height="20.1" fill="#6666ff"/>
<rect x="576.86" y="295.58" width="1.32" height="13.72" fill="#6666ff"/>
<rect x="580.14" y="296.35" width="1.32" height="12.95" fill="#6666ff"/>
<rect x="583.44" y="296.93" width="1.32" height="12.37" fill="#6666ff"/>
<rect x="586.73" y="293.84" width="1.32" height="15.46" fill="#6666ff"/>
<rect x="590.01" y="298.86" width="1.32" height="10.44" fill="#6666ff"/>
<rect x="593.31" y="299.25" width="1.32" height="10.05" fill="#6666ff"/>
<rect x="596.6" y="299.63" width="1.32" height="9.66" fill="#6666ff"/>
<rect x="599.88" y="297.12" width="1.32" height="12.18" fill="#6666ff"/>
<rect x="603.18" y="301.18" width="1.32" height="8.12" fill="#6666ff"/>
<rect x="606.47" y="301.18" width="1.32" height="8.12" fill="#6666ff"/>
<rect x="609.75" y="301.95" width="1.32" height="7.35" fill="#6666ff"/>
<rect x="613.05" y="300.02" width="1.32" height="9.28" fill="#6666ff"/>
<rect x="616.34" y="303.11" width="1.32" height="6.19" fill="#6666ff"/>
<rect x="619.62" y="303.31" width="1.32" height="5.99" fill="#6666ff"/>
<rect x="622.92" y="301.95" width="1.32" height="7.35" fill="#6666ff"/>
<rect x="626.21" y="304.27" width="1.32" height="5.03" fill="#6666ff"/>
<rect x="629.5" y="304.27" width="1.32" height="5.03" fill="#6666ff"/>
<rect x="632.79" y="304.85" width="1.32" height="4.45" fill="#6666ff"/>
<rect x="636.08" y="303.89" width="1.32" height="5.41" fill="#6666ff"/>
<rect x="639.37" y="305.82" width="1.32" height="3.48" fill="#6666ff"/>
<rect x="642.65" y="305.82" width="1.32" height="3.48" fill="#6666ff"/>
<rect x="645.95" y="305.82" width="1.32" height="3.48" fill="#6666ff"/>
<rect x="649.24" y="305.05" width="1.32" height="4.25" fill="#6666ff"/>
<rect x="652.53" y="306.98" width="1.32" height="2.32" fill="#6666ff"/>
<rect x="655.82" y="307.17" width="1.32" height="2.13" fill="#6666ff"/>
<rect x="659.11" y="307.17" width="1.32" height="2.13" fill="#6666ff"/>
<rect x="662.39" y="306.59" width="1.32" height="2.71" fill="#6666ff"/>
<rect x="665.69" y="307.75" width="1.32" height="1.55" fill="#6666ff"/>
<rect x="668.98" y="307.95" width="1.32" height="1.35" fill="#6666ff"/>
<rect x="672.27" y="307.37" width="1.32" height="1.93" fill="#6666ff"/>
<rect x="505" y="177.5" width="177.4" height="131.8" fill="none" stroke="#777" stroke-width="0.7"/>
<line x1="503" y1="309.3" x2="505" y2="309.3" stroke="#333" stroke-width="0.6"/>
<text x="501.7" y="311.6" font-size="6.68" text-anchor="end" textLength="4.01" lengthAdjust="spacingAndGlyphs">0</text>
<line x1="503" y1="289.97" x2="505" y2="289.97" stroke="#333" stroke-width="0.6"/>
<text x="501.7" y="292.27" font-size="6.68" text-anchor="end" textLength="20.04" lengthAdjust="spacingAndGlyphs">10000</text>
<line x1="503" y1="270.64" x2="505" y2="270.64" stroke="#333" stroke-width="0.6"/>
<text x="501.7" y="272.94" font-size="6.68" text-anchor="end" textLength="20.04" lengthAdjust="spacingAndGlyphs">20000</text>
<line x1="503" y1="251.31" x2="505" y2="251.31" stroke="#333" stroke-width="0.6"/>
<text x="501.7" y="253.61" font-size="6.68" text-anchor="end" textLength="20.04" lengthAdjust="spacingAndGlyphs">30000</text>
<line x1="503" y1="231.98" x2="505" y2="231.98" stroke="#333" stroke-width="0.6"/>
<text x="501.7" y="234.28" font-size="6.68" text-anchor="end" textLength="20.04" lengthAdjust="spacingAndGlyphs">40000</text>
<line x1="503" y1="212.65" x2="505" y2="212.65" stroke="#333" stroke-width="0.6"/>
<text x="501.7" y="214.95" font-size="6.68" text-anchor="end" textLength="20.04" lengthAdjust="spacingAndGlyphs">50000</text>
<line x1="503" y1="193.32" x2="505" y2="193.32" stroke="#333" stroke-width="0.6"/>
<text x="501.7" y="195.62" font-size="6.68" text-anchor="end" textLength="20.04" lengthAdjust="spacingAndGlyphs">60000</text>
<line x1="513" y1="309.3" x2="513" y2="311.3" stroke="#333" stroke-width="0.6"/>
<text x="513" y="317.4" font-size="6.68" text-anchor="middle" textLength="4.01" lengthAdjust="spacingAndGlyphs">0</text>
<line x1="533.13" y1="309.3" x2="533.13" y2="311.3" stroke="#333" stroke-width="0.6"/>
<text x="533.13" y="317.4" font-size="6.68" text-anchor="middle" textLength="8.02" lengthAdjust="spacingAndGlyphs">20</text>
<line x1="553.26" y1="309.3" x2="553.26" y2="311.3" stroke="#333" stroke-width="0.6"/>
<text x="553.26" y="317.4" font-size="6.68" text-anchor="middle" textLength="8.02" lengthAdjust="spacingAndGlyphs">40</text>
<line x1="573.39" y1="309.3" x2="573.39" y2="311.3" stroke="#333" stroke-width="0.6"/>
<text x="573.39" y="317.4" font-size="6.68" text-anchor="middle" textLength="8.02" lengthAdjust="spacingAndGlyphs">60</text>
<line x1="593.52" y1="309.3" x2="593.52" y2="311.3" stroke="#333" stroke-width="0.6"/>
<text x="593.52" y="317.4" font-size="6.68" text-anchor="middle" textLength="8.02" lengthAdjust="spacingAndGlyphs">80</text>
<line x1="613.65" y1="309.3" x2="613.65" y2="311.3" stroke="#333" stroke-width="0.6"/>
<text x="613.65" y="317.4" font-size="6.68" text-anchor="middle" textLength="12.03" lengthAdjust="spacingAndGlyphs">100</text>
<line x1="633.78" y1="309.3" x2="633.78" y2="311.3" stroke="#333" stroke-width="0.6"/>
<text x="633.78" y="317.4" font-size="6.68" text-anchor="middle" textLength="12.03" lengthAdjust="spacingAndGlyphs">120</text>
<line x1="653.91" y1="309.3" x2="653.91" y2="311.3" stroke="#333" stroke-width="0.6"/>
<text x="653.91" y="317.4" font-size="6.68" text-anchor="middle" textLength="12.03" lengthAdjust="spacingAndGlyphs">140</text>
<line x1="674.04" y1="309.3" x2="674.04" y2="311.3" stroke="#333" stroke-width="0.6"/>
<text x="674.04" y="317.4" font-size="6.68" text-anchor="middle" textLength="12.03" lengthAdjust="spacingAndGlyphs">160</text>
<text x="476.7" y="245.7" font-size="6.68" text-anchor="middle" textLength="32.55" lengthAdjust="spacingAndGlyphs" transform="rotate(-90 476.7 243.4)">Frequency</text>
<text x="603.6" y="326.5" font-size="6.68" text-anchor="middle" font-style="italic" textLength="4.71" lengthAdjust="spacingAndGlyphs">N</text>
<rect x="581.4" y="180.4" width="98.1" height="21" rx="1.3" fill="#fff" fill-opacity="0.85" stroke="#dcdcdc" stroke-width="0.6"/>
<rect x="583.8" y="183.95" width="12.7" height="3.7" fill="#ff6666"/>
<rect x="583.8" y="193.25" width="12.7" height="3.7" fill="#6666ff"/>
<text x="601.9" y="188.1" font-size="6.68" textLength="60.91" lengthAdjust="spacingAndGlyphs">DRL decision agent</text>
<text x="601.9" y="197.4" font-size="6.68" textLength="74.26" lengthAdjust="spacingAndGlyphs">Random decision agent</text>
<rect x="593.4" y="216.6" width="71.3" height="53.9" fill="#fff" stroke="#666" stroke-width="0.7"/>
<line x1="591.4" y1="267.4" x2="593.4" y2="267.4" stroke="#333" stroke-width="0.6"/>
<text x="590.2" y="269.7" font-size="6.68" text-anchor="end" textLength="4.01" lengthAdjust="spacingAndGlyphs">0</text>
<line x1="591.4" y1="243.5" x2="593.4" y2="243.5" stroke="#333" stroke-width="0.6"/>
<text x="590.2" y="245.8" font-size="6.68" text-anchor="end" textLength="12.03" lengthAdjust="spacingAndGlyphs">100</text>
<line x1="591.4" y1="219.6" x2="593.4" y2="219.6" stroke="#333" stroke-width="0.6"/>
<text x="590.2" y="221.9" font-size="6.68" text-anchor="end" textLength="12.03" lengthAdjust="spacingAndGlyphs">200</text>
<text x="572.9" y="245.85" font-size="6.68" text-anchor="middle" font-style="italic" textLength="4.71" lengthAdjust="spacingAndGlyphs" transform="rotate(-90 572.9 243.55)">N</text>
<line x1="611.3" y1="254.5" x2="611.3" y2="261" stroke="#555" stroke-width="0.7"/>
<line x1="611.3" y1="266.1" x2="611.3" y2="267.4" stroke="#555" stroke-width="0.7"/>
<line x1="604.85" y1="254.5" x2="617.75" y2="254.5" stroke="#333" stroke-width="0.8"/>
<line x1="604.85" y1="267.4" x2="617.75" y2="267.4" stroke="#333" stroke-width="0.8"/>
<rect x="597.95" y="261" width="26.7" height="5.1" fill="#ff9999" stroke="#888" stroke-width="0.6"/>
<line x1="597.95" y1="263.5" x2="624.65" y2="263.5" stroke="#444" stroke-width="0.8"/>
<line x1="611.3" y1="251.4" x2="611.3" y2="254.2" stroke="#000" stroke-width="2.6" stroke-linecap="round"/>
<line x1="611.3" y1="270.5" x2="611.3" y2="272.5" stroke="#333" stroke-width="0.6"/>
<text x="611.3" y="277.1" font-size="6.68" text-anchor="middle" textLength="12.74" lengthAdjust="spacingAndGlyphs">DRL</text>
<line x1="646.9" y1="234.5" x2="646.9" y2="253" stroke="#555" stroke-width="0.7"/>
<line x1="646.9" y1="265.3" x2="646.9" y2="267.4" stroke="#555" stroke-width="0.7"/>
<line x1="640.2" y1="234.5" x2="653.6" y2="234.5" stroke="#333" stroke-width="0.8"/>
<line x1="640.2" y1="267.4" x2="653.6" y2="267.4" stroke="#333" stroke-width="0.8"/>
<rect x="633.7" y="253" width="26.4" height="12.3" fill="#9999ff" stroke="#888" stroke-width="0.6"/>
<line x1="633.7" y1="260.2" x2="660.1" y2="260.2" stroke="#444" stroke-width="0.8"/>
<line x1="646.9" y1="218.8" x2="646.9" y2="234.2" stroke="#000" stroke-width="2.6" stroke-linecap="round"/>
<line x1="646.9" y1="270.5" x2="646.9" y2="272.5" stroke="#333" stroke-width="0.6"/>
<text x="646.9" y="277.1" font-size="6.68" text-anchor="middle" textLength="26.08" lengthAdjust="spacingAndGlyphs">Random</text>
</svg></body></html>
